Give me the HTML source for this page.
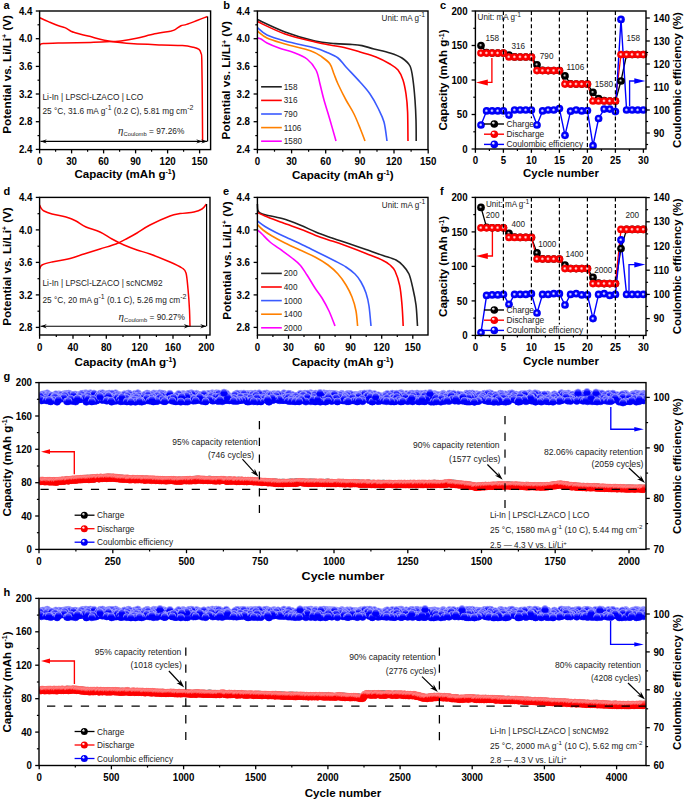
<!DOCTYPE html>
<html><head><meta charset="utf-8"><style>html,body{margin:0;padding:0;background:#fff;}svg{display:block;}text{font-family:"Liberation Sans",sans-serif;}</style></head>
<body><svg width="685" height="799" viewBox="0 0 685 799" font-family="Liberation Sans, sans-serif"><defs>
<radialGradient id="gr" cx="0.5" cy="0.5" r="0.5" fx="0.45" fy="0.47"><stop offset="0" stop-color="#fff0f0"/><stop offset="0.14" stop-color="#ffc8c8"/><stop offset="0.32" stop-color="#ff6060"/><stop offset="0.46" stop-color="#ff0000"/><stop offset="1" stop-color="#f40000"/></radialGradient>
<radialGradient id="hr" cx="0.5" cy="0.5" r="0.5" fx="0.32" fy="0.28"><stop offset="0" stop-color="#fff"/><stop offset="0.22" stop-color="#ffd0d0"/><stop offset="0.42" stop-color="#ff0000"/><stop offset="1" stop-color="#f00000"/></radialGradient>
<radialGradient id="hb" cx="0.5" cy="0.5" r="0.5" fx="0.32" fy="0.28"><stop offset="0" stop-color="#fff"/><stop offset="0.22" stop-color="#d0d0ff"/><stop offset="0.42" stop-color="#0000ff"/><stop offset="1" stop-color="#0000f0"/></radialGradient>
<radialGradient id="hk" cx="0.5" cy="0.5" r="0.5" fx="0.32" fy="0.28"><stop offset="0" stop-color="#fff"/><stop offset="0.22" stop-color="#c0c0c0"/><stop offset="0.45" stop-color="#000"/><stop offset="1" stop-color="#000"/></radialGradient>
<radialGradient id="gb" cx="0.5" cy="0.5" r="0.5" fx="0.45" fy="0.47"><stop offset="0" stop-color="#f0f0ff"/><stop offset="0.14" stop-color="#c8c8ff"/><stop offset="0.32" stop-color="#6060ff"/><stop offset="0.46" stop-color="#0000ff"/><stop offset="1" stop-color="#0000f0"/></radialGradient>
<radialGradient id="gk" cx="0.5" cy="0.5" r="0.5" fx="0.42" fy="0.42"><stop offset="0" stop-color="#e0e0e0"/><stop offset="0.15" stop-color="#a0a0a0"/><stop offset="0.42" stop-color="#000"/><stop offset="1" stop-color="#000"/></radialGradient>
<linearGradient id="lr" x1="0" y1="0" x2="0" y2="1"><stop offset="0" stop-color="#ff5858"/><stop offset="0.3" stop-color="#ff4848"/><stop offset="0.45" stop-color="#ff1010"/><stop offset="0.55" stop-color="#ff0000"/><stop offset="1" stop-color="#f50000"/></linearGradient>
<linearGradient id="lb" x1="0" y1="0" x2="0" y2="1"><stop offset="0" stop-color="#5a5aff"/><stop offset="0.25" stop-color="#4040ff"/><stop offset="0.4" stop-color="#1010ff"/><stop offset="0.48" stop-color="#0000ff"/><stop offset="1" stop-color="#0000f0"/></linearGradient>
<linearGradient id="lbs" x1="0" y1="0" x2="0" y2="1"><stop offset="0" stop-color="#a0a0ff"/><stop offset="0.15" stop-color="#e0e0ff"/><stop offset="0.45" stop-color="#c0c0ff"/><stop offset="0.6" stop-color="#0000ff"/><stop offset="1" stop-color="#0000ff"/></linearGradient>
<linearGradient id="lrs" x1="0" y1="0" x2="0" y2="1"><stop offset="0" stop-color="#ff7070"/><stop offset="0.2" stop-color="#ffa8a8"/><stop offset="0.4" stop-color="#ff9090"/><stop offset="0.55" stop-color="#ff0000"/><stop offset="1" stop-color="#ff0000"/></linearGradient>
<linearGradient id="lk" x1="0" y1="0" x2="0" y2="1"><stop offset="0" stop-color="#888"/><stop offset="0.5" stop-color="#333"/><stop offset="1" stop-color="#000"/></linearGradient></defs><text x="3.5" y="8.5" font-size="11" font-weight="bold">a</text><path d="M39.9,17.8 C41.4,18.5 45.8,20.6 48.9,21.9 C52,23.2 56,24.9 58.6,25.8 C61.2,26.8 62.7,26.7 64.8,27.6 C66.9,28.5 69.4,30.4 71.1,31.3 C72.8,32.1 72,31.8 75.2,32.7 C78.4,33.6 85.7,35.4 90.5,36.6 C95.3,37.9 99.4,39.2 104.3,40.2 C109.2,41.2 115.1,42 120,42.6 C124.9,43.2 127,43.4 133.9,43.8 C140.8,44.2 153.5,44.6 161.6,44.9 C169.7,45.2 177.1,45.2 182.4,45.6 C187.7,46 190.7,46.7 193.5,47.3 C196.3,47.9 197.7,48.4 199,49.4 C200.3,50.4 200.6,51.7 201.1,53.5 C201.6,55.3 201.6,52.2 201.8,60 C202,67.8 202.2,86.4 202.3,100 C202.4,113.6 202.6,134.6 202.6,141.5" fill="none" stroke="#ff0000" stroke-width="1.5" stroke-linejoin="round"/><path d="M39.9,45.2 C40.5,44.9 39.5,44 43.3,43.6 C47.1,43.2 54.8,43.1 62.7,42.9 C70.6,42.7 82.4,42.6 90.5,42.4 C98.6,42.2 106.2,41.8 111.3,41.6 C116.4,41.4 116.8,41.7 121,41.1 C125.2,40.5 131,39.5 136.6,38.3 C142.2,37.1 148.9,35 154.7,33.8 C160.5,32.6 167.8,31.6 171.3,30.9 C174.8,30.1 173.9,30.1 175.5,29.3 C177.1,28.5 179.2,26.6 181,25.8 C182.8,25 183.8,25.3 186.6,24.4 C189.4,23.5 194.2,21.6 197.7,20.3 C201.2,19 205.8,17.1 207.4,16.5" fill="none" stroke="#ff0000" stroke-width="1.5" stroke-linejoin="round"/><line x1="207.6" y1="16.5" x2="207.6" y2="141.4" stroke="#000" stroke-width="1.2"/><line x1="40.5" y1="141.4" x2="207" y2="141.4" stroke="#000" stroke-width="1.1"/><polygon points="40.8,141.4 46.8,139.2 44.7,141.4 46.8,143.6" fill="#000"/><polygon points="202.2,141.4 196.2,139.2 198.3,141.4 196.2,143.6" fill="#000"/><polygon points="207.2,141.4 201.2,139.2 203.3,141.4 201.2,143.6" fill="#000"/><rect x="39.6" y="11" width="171" height="138.6" fill="none" stroke="#000" stroke-width="1.4"/><line x1="39.6" y1="11" x2="35.8" y2="11" stroke="#000" stroke-width="1.3"/><text x="32.4" y="14.6" font-size="10.2" font-weight="bold" text-anchor="end" textLength="13.5" lengthAdjust="spacingAndGlyphs">4.4</text><line x1="39.6" y1="38.7" x2="35.8" y2="38.7" stroke="#000" stroke-width="1.3"/><text x="32.4" y="42.3" font-size="10.2" font-weight="bold" text-anchor="end" textLength="13.5" lengthAdjust="spacingAndGlyphs">4.0</text><line x1="39.6" y1="66.4" x2="35.8" y2="66.4" stroke="#000" stroke-width="1.3"/><text x="32.4" y="70" font-size="10.2" font-weight="bold" text-anchor="end" textLength="13.5" lengthAdjust="spacingAndGlyphs">3.6</text><line x1="39.6" y1="94" x2="35.8" y2="94" stroke="#000" stroke-width="1.3"/><text x="32.4" y="97.6" font-size="10.2" font-weight="bold" text-anchor="end" textLength="13.5" lengthAdjust="spacingAndGlyphs">3.2</text><line x1="39.6" y1="121.7" x2="35.8" y2="121.7" stroke="#000" stroke-width="1.3"/><text x="32.4" y="125.3" font-size="10.2" font-weight="bold" text-anchor="end" textLength="13.5" lengthAdjust="spacingAndGlyphs">2.8</text><line x1="39.6" y1="149.4" x2="35.8" y2="149.4" stroke="#000" stroke-width="1.3"/><text x="32.4" y="153" font-size="10.2" font-weight="bold" text-anchor="end" textLength="13.5" lengthAdjust="spacingAndGlyphs">2.4</text><line x1="39.6" y1="24.8" x2="37.5" y2="24.8" stroke="#000" stroke-width="1.2"/><line x1="39.6" y1="52.5" x2="37.5" y2="52.5" stroke="#000" stroke-width="1.2"/><line x1="39.6" y1="80.2" x2="37.5" y2="80.2" stroke="#000" stroke-width="1.2"/><line x1="39.6" y1="107.9" x2="37.5" y2="107.9" stroke="#000" stroke-width="1.2"/><line x1="39.6" y1="135.6" x2="37.5" y2="135.6" stroke="#000" stroke-width="1.2"/><line x1="39.6" y1="149.6" x2="39.6" y2="153.4" stroke="#000" stroke-width="1.3"/><text x="39.6" y="164.6" font-size="10.2" font-weight="bold" text-anchor="middle" textLength="5.4" lengthAdjust="spacingAndGlyphs">0</text><line x1="71.6" y1="149.6" x2="71.6" y2="153.4" stroke="#000" stroke-width="1.3"/><text x="71.6" y="164.6" font-size="10.2" font-weight="bold" text-anchor="middle" textLength="10.8" lengthAdjust="spacingAndGlyphs">30</text><line x1="103.6" y1="149.6" x2="103.6" y2="153.4" stroke="#000" stroke-width="1.3"/><text x="103.6" y="164.6" font-size="10.2" font-weight="bold" text-anchor="middle" textLength="10.8" lengthAdjust="spacingAndGlyphs">60</text><line x1="135.6" y1="149.6" x2="135.6" y2="153.4" stroke="#000" stroke-width="1.3"/><text x="135.6" y="164.6" font-size="10.2" font-weight="bold" text-anchor="middle" textLength="10.8" lengthAdjust="spacingAndGlyphs">90</text><line x1="167.6" y1="149.6" x2="167.6" y2="153.4" stroke="#000" stroke-width="1.3"/><text x="167.6" y="164.6" font-size="10.2" font-weight="bold" text-anchor="middle" textLength="16.2" lengthAdjust="spacingAndGlyphs">120</text><line x1="199.6" y1="149.6" x2="199.6" y2="153.4" stroke="#000" stroke-width="1.3"/><text x="199.6" y="164.6" font-size="10.2" font-weight="bold" text-anchor="middle" textLength="16.2" lengthAdjust="spacingAndGlyphs">150</text><line x1="55.6" y1="149.6" x2="55.6" y2="151.7" stroke="#000" stroke-width="1.2"/><line x1="87.6" y1="149.6" x2="87.6" y2="151.7" stroke="#000" stroke-width="1.2"/><line x1="119.6" y1="149.6" x2="119.6" y2="151.7" stroke="#000" stroke-width="1.2"/><line x1="151.6" y1="149.6" x2="151.6" y2="151.7" stroke="#000" stroke-width="1.2"/><line x1="183.6" y1="149.6" x2="183.6" y2="151.7" stroke="#000" stroke-width="1.2"/><text transform="translate(11,74.4) rotate(-90)" font-size="11.5" font-weight="bold" text-anchor="middle" textLength="118.6" lengthAdjust="spacingAndGlyphs">Potential vs. Li/Li<tspan dy="-3.6" font-size="7">+</tspan><tspan dy="3.6"> (V)</tspan></text><text x="125" y="178" font-size="11.5" font-weight="bold" text-anchor="middle" textLength="101.2" lengthAdjust="spacingAndGlyphs">Capacity (mAh g<tspan dy="-3.6" font-size="7">-1</tspan><tspan dy="3.6">)</tspan></text><text x="42.5" y="100" font-size="8.3" fill="#222">Li-In | LPSCl-LZACO | LCO</text><text x="42.5" y="114" font-size="8.3" fill="#222">25 °C, 31.6 mA g<tspan dy="-3.6" font-size="7">-1</tspan><tspan dy="3.6"> (0.2 C), 5.81 mg cm<tspan dy="-3.6" font-size="7">-2</tspan><tspan dy="3.6"></tspan></tspan></text><text x="118" y="134" font-size="8.3" fill="#222"><tspan font-family="Liberation Serif" font-style="italic" font-size="11">η</tspan><tspan font-size="5.8" dy="2">Coulomb</tspan><tspan dy="-2"> = 97.26%</tspan></text><text x="223.2" y="8.5" font-size="11" font-weight="bold">b</text><path d="M257.4,19.6 C262,21.7 275.4,28.4 285,32 C294.6,35.6 306.7,39.1 315,41 C323.3,42.9 329.2,43 335,43.6 C340.8,44.2 345.5,44.1 350,44.4 C354.5,44.7 358,44.8 362,45.6 C366,46.4 369.3,47.8 374,49 C378.7,50.2 385.3,51.5 390,53 C394.7,54.5 398.7,55.8 402,58 C405.3,60.2 408.2,62.3 410,66 C411.8,69.7 412.2,74.3 413,80 C413.8,85.7 414.5,93.3 415,100 C415.5,106.7 415.8,113.2 416,120 C416.2,126.8 416.2,137.5 416.2,141" fill="none" stroke="#222" stroke-width="1.6" stroke-linejoin="round"/><path d="M257.4,21.6 C262,23.7 275.4,30.6 285,34 C294.6,37.4 307.5,40.2 315,42 C322.5,43.8 324.8,44 330,45 C335.2,46 341,46.8 346,48 C351,49.2 355,50.5 360,52 C365,53.5 371,55 376,57 C381,59 386.3,61.8 390,64 C393.7,66.2 395.8,67.3 398,70 C400.2,72.7 401.7,76 403,80 C404.3,84 405.2,88.7 406,94 C406.8,99.3 407.3,104.2 407.6,112 C407.9,119.8 407.9,136.2 408,141" fill="none" stroke="#ff0000" stroke-width="1.6" stroke-linejoin="round"/><path d="M257.4,27.6 C259,28.8 262.4,32.8 267,35 C271.6,37.2 277,38.8 285,41 C293,43.2 308.2,46.2 315,48 C321.8,49.8 322.2,50.3 326,52 C329.8,53.7 334.7,55.5 338,58 C341.3,60.5 342.3,63 346,67 C349.7,71 356,77.5 360,82 C364,86.5 367,89.7 370,94 C373,98.3 375.7,103.3 378,108 C380.3,112.7 382.5,116.5 384,122 C385.5,127.5 386.5,137.8 387,141" fill="none" stroke="#3a5bff" stroke-width="1.6" stroke-linejoin="round"/><path d="M257.4,31 C259,32.2 262.4,35.8 267,38 C271.6,40.2 277.7,41.8 285,44 C292.3,46.2 304.8,48.8 311,51 C317.2,53.2 318.8,54.8 322,57 C325.2,59.2 328,61.2 330,64 C332,66.8 332.7,70.7 334,74 C335.3,77.3 336,79.7 338,84 C340,88.3 343.3,95 346,100 C348.7,105 351.7,109.3 354,114 C356.3,118.7 358.2,123.5 360,128 C361.8,132.5 364.2,138.8 365,141" fill="none" stroke="#ff8000" stroke-width="1.6" stroke-linejoin="round"/><path d="M257.4,38 C258,38.2 259.4,38.2 261,39 C262.6,39.8 264,41.5 267,43 C270,44.5 274.3,46.3 279,48 C283.7,49.7 290.3,51.2 295,53 C299.7,54.8 303.5,56.2 307,59 C310.5,61.8 313.8,65.8 316,70 C318.2,74.2 318.7,79 320,84 C321.3,89 322.3,94 324,100 C325.7,106 328,113.2 330,120 C332,126.8 335,137.5 336,141" fill="none" stroke="#ff00ff" stroke-width="1.6" stroke-linejoin="round"/><line x1="261.1" y1="86.8" x2="281.8" y2="86.8" stroke="#222" stroke-width="1.6"/><text x="283.8" y="89.7" font-size="8.2" fill="#222">158</text><line x1="261.1" y1="100.4" x2="281.8" y2="100.4" stroke="#ff0000" stroke-width="1.6"/><text x="283.8" y="103.3" font-size="8.2" fill="#222">316</text><line x1="261.1" y1="114" x2="281.8" y2="114" stroke="#3a5bff" stroke-width="1.6"/><text x="283.8" y="116.9" font-size="8.2" fill="#222">790</text><line x1="261.1" y1="127.6" x2="281.8" y2="127.6" stroke="#ff8000" stroke-width="1.6"/><text x="283.8" y="130.5" font-size="8.2" fill="#222">1106</text><line x1="261.1" y1="141.2" x2="281.8" y2="141.2" stroke="#ff00ff" stroke-width="1.6"/><text x="283.8" y="144.1" font-size="8.2" fill="#222">1580</text><rect x="257.4" y="11" width="170.6" height="138.6" fill="none" stroke="#000" stroke-width="1.4"/><line x1="257.4" y1="11" x2="253.6" y2="11" stroke="#000" stroke-width="1.3"/><text x="250" y="14.6" font-size="10.2" font-weight="bold" text-anchor="end" textLength="13.5" lengthAdjust="spacingAndGlyphs">4.4</text><line x1="257.4" y1="38.7" x2="253.6" y2="38.7" stroke="#000" stroke-width="1.3"/><text x="250" y="42.3" font-size="10.2" font-weight="bold" text-anchor="end" textLength="13.5" lengthAdjust="spacingAndGlyphs">4.0</text><line x1="257.4" y1="66.4" x2="253.6" y2="66.4" stroke="#000" stroke-width="1.3"/><text x="250" y="70" font-size="10.2" font-weight="bold" text-anchor="end" textLength="13.5" lengthAdjust="spacingAndGlyphs">3.6</text><line x1="257.4" y1="94" x2="253.6" y2="94" stroke="#000" stroke-width="1.3"/><text x="250" y="97.6" font-size="10.2" font-weight="bold" text-anchor="end" textLength="13.5" lengthAdjust="spacingAndGlyphs">3.2</text><line x1="257.4" y1="121.7" x2="253.6" y2="121.7" stroke="#000" stroke-width="1.3"/><text x="250" y="125.3" font-size="10.2" font-weight="bold" text-anchor="end" textLength="13.5" lengthAdjust="spacingAndGlyphs">2.8</text><line x1="257.4" y1="149.4" x2="253.6" y2="149.4" stroke="#000" stroke-width="1.3"/><text x="250" y="153" font-size="10.2" font-weight="bold" text-anchor="end" textLength="13.5" lengthAdjust="spacingAndGlyphs">2.4</text><line x1="257.4" y1="24.8" x2="255.3" y2="24.8" stroke="#000" stroke-width="1.2"/><line x1="257.4" y1="52.5" x2="255.3" y2="52.5" stroke="#000" stroke-width="1.2"/><line x1="257.4" y1="80.2" x2="255.3" y2="80.2" stroke="#000" stroke-width="1.2"/><line x1="257.4" y1="107.9" x2="255.3" y2="107.9" stroke="#000" stroke-width="1.2"/><line x1="257.4" y1="135.6" x2="255.3" y2="135.6" stroke="#000" stroke-width="1.2"/><line x1="257.4" y1="149.6" x2="257.4" y2="153.4" stroke="#000" stroke-width="1.3"/><text x="257.4" y="164.6" font-size="10.2" font-weight="bold" text-anchor="middle" textLength="5.4" lengthAdjust="spacingAndGlyphs">0</text><line x1="291.6" y1="149.6" x2="291.6" y2="153.4" stroke="#000" stroke-width="1.3"/><text x="291.6" y="164.6" font-size="10.2" font-weight="bold" text-anchor="middle" textLength="10.8" lengthAdjust="spacingAndGlyphs">30</text><line x1="325.7" y1="149.6" x2="325.7" y2="153.4" stroke="#000" stroke-width="1.3"/><text x="325.7" y="164.6" font-size="10.2" font-weight="bold" text-anchor="middle" textLength="10.8" lengthAdjust="spacingAndGlyphs">60</text><line x1="359.9" y1="149.6" x2="359.9" y2="153.4" stroke="#000" stroke-width="1.3"/><text x="359.9" y="164.6" font-size="10.2" font-weight="bold" text-anchor="middle" textLength="10.8" lengthAdjust="spacingAndGlyphs">90</text><line x1="394" y1="149.6" x2="394" y2="153.4" stroke="#000" stroke-width="1.3"/><text x="394" y="164.6" font-size="10.2" font-weight="bold" text-anchor="middle" textLength="16.2" lengthAdjust="spacingAndGlyphs">120</text><line x1="428.2" y1="149.6" x2="428.2" y2="153.4" stroke="#000" stroke-width="1.3"/><text x="428.2" y="164.6" font-size="10.2" font-weight="bold" text-anchor="middle" textLength="16.2" lengthAdjust="spacingAndGlyphs">150</text><line x1="274.5" y1="149.6" x2="274.5" y2="151.7" stroke="#000" stroke-width="1.2"/><line x1="308.6" y1="149.6" x2="308.6" y2="151.7" stroke="#000" stroke-width="1.2"/><line x1="342.8" y1="149.6" x2="342.8" y2="151.7" stroke="#000" stroke-width="1.2"/><line x1="377" y1="149.6" x2="377" y2="151.7" stroke="#000" stroke-width="1.2"/><line x1="411.1" y1="149.6" x2="411.1" y2="151.7" stroke="#000" stroke-width="1.2"/><text transform="translate(230.4,80.3) rotate(-90)" font-size="11.5" font-weight="bold" text-anchor="middle" textLength="118.3" lengthAdjust="spacingAndGlyphs">Potential vs. Li/Li<tspan dy="-3.6" font-size="7">+</tspan><tspan dy="3.6"> (V)</tspan></text><text x="342.8" y="178.5" font-size="11.5" font-weight="bold" text-anchor="middle" textLength="101.8" lengthAdjust="spacingAndGlyphs">Capacity (mAh g<tspan dy="-3.6" font-size="7">-1</tspan><tspan dy="3.6">)</tspan></text><text x="381.6" y="21" font-size="8.4" textLength="43.4" lengthAdjust="spacingAndGlyphs" fill="#222">Unit: mA g<tspan dy="-3.6" font-size="7">-1</tspan><tspan dy="3.6"></tspan></text><text x="440" y="8.5" font-size="11" font-weight="bold">c</text><polyline points="491.9,58 491.9,82.4 480,82.4" fill="none" stroke="#ff0000" stroke-width="1.35"/><polygon points="476,82.4 487.8,79.4 487.8,82.4 487.8,85.4" fill="#ff0000"/><polyline points="629.6,106.6 629.6,81 640,81" fill="none" stroke="#0000ff" stroke-width="1.35"/><polygon points="645.3,81 634.3,78.2 634.3,81 634.3,83.8" fill="#0000ff"/><polyline points="481,45.5 486.6,52.7 492.2,53.1 497.8,53.1 503.4,53.1 509,55.2 514.6,56.9 520.2,57 525.8,57 531.4,57 537,64.8 542.6,70.3 548.2,70.6 553.8,70.6 559.4,70.6 565,75.9 570.6,83.8 576.2,84.1 581.8,84.1 587.4,84.1 593,92.4 598.6,98.6 604.2,100.7 609.8,101 615.4,101 621,81 626.6,54.5 632.2,54.5 637.8,54.5 643.4,54.5" fill="none" stroke="#000" stroke-width="1.3" stroke-linejoin="round"/><polyline points="481,53.1 486.6,53.1 492.2,53.1 497.8,53.1 503.4,53.1 509,57 514.6,57 520.2,57 525.8,57 531.4,57 537,70.6 542.6,70.6 548.2,70.6 553.8,70.6 559.4,70.6 565,84.1 570.6,84.1 576.2,84.1 581.8,84.1 587.4,84.1 593,101 598.6,101 604.2,101 609.8,101 615.4,101 621,54.5 626.6,54.5 632.2,54.5 637.8,54.5 643.4,54.5" fill="none" stroke="#ff0000" stroke-width="1.3" stroke-linejoin="round"/><polyline points="481,125 486.6,110.9 492.2,110.9 497.8,110.9 503.4,110.9 509,115.1 514.6,110 520.2,110 525.8,110 531.4,110 537,125 542.6,110.9 548.2,110 553.8,110 559.4,108.6 565,135.3 570.6,111.2 576.2,110 581.8,110.9 587.4,110.5 593,145.7 598.6,118.5 604.2,109.1 609.8,109.1 615.4,111.6 621,19.4 626.6,110 632.2,110 637.8,110 643.4,110" fill="none" stroke="#0000ff" stroke-width="1.4" stroke-linejoin="round"/><circle cx="481" cy="45.5" r="3.85" fill="url(#gk)"/><circle cx="486.6" cy="52.7" r="3.85" fill="url(#gk)"/><circle cx="492.2" cy="53.1" r="3.85" fill="url(#gk)"/><circle cx="497.8" cy="53.1" r="3.85" fill="url(#gk)"/><circle cx="503.4" cy="53.1" r="3.85" fill="url(#gk)"/><circle cx="509" cy="55.2" r="3.85" fill="url(#gk)"/><circle cx="514.6" cy="56.9" r="3.85" fill="url(#gk)"/><circle cx="520.2" cy="57" r="3.85" fill="url(#gk)"/><circle cx="525.8" cy="57" r="3.85" fill="url(#gk)"/><circle cx="531.4" cy="57" r="3.85" fill="url(#gk)"/><circle cx="537" cy="64.8" r="3.85" fill="url(#gk)"/><circle cx="542.6" cy="70.3" r="3.85" fill="url(#gk)"/><circle cx="548.2" cy="70.6" r="3.85" fill="url(#gk)"/><circle cx="553.8" cy="70.6" r="3.85" fill="url(#gk)"/><circle cx="559.4" cy="70.6" r="3.85" fill="url(#gk)"/><circle cx="565" cy="75.9" r="3.85" fill="url(#gk)"/><circle cx="570.6" cy="83.8" r="3.85" fill="url(#gk)"/><circle cx="576.2" cy="84.1" r="3.85" fill="url(#gk)"/><circle cx="581.8" cy="84.1" r="3.85" fill="url(#gk)"/><circle cx="587.4" cy="84.1" r="3.85" fill="url(#gk)"/><circle cx="593" cy="92.4" r="3.85" fill="url(#gk)"/><circle cx="598.6" cy="98.6" r="3.85" fill="url(#gk)"/><circle cx="604.2" cy="100.7" r="3.85" fill="url(#gk)"/><circle cx="609.8" cy="101" r="3.85" fill="url(#gk)"/><circle cx="615.4" cy="101" r="3.85" fill="url(#gk)"/><circle cx="621" cy="81" r="3.85" fill="url(#gk)"/><circle cx="626.6" cy="54.5" r="3.85" fill="url(#gk)"/><circle cx="632.2" cy="54.5" r="3.85" fill="url(#gk)"/><circle cx="637.8" cy="54.5" r="3.85" fill="url(#gk)"/><circle cx="643.4" cy="54.5" r="3.85" fill="url(#gk)"/><circle cx="481" cy="53.1" r="3.85" fill="url(#gr)"/><circle cx="486.6" cy="53.1" r="3.85" fill="url(#gr)"/><circle cx="492.2" cy="53.1" r="3.85" fill="url(#gr)"/><circle cx="497.8" cy="53.1" r="3.85" fill="url(#gr)"/><circle cx="503.4" cy="53.1" r="3.85" fill="url(#gr)"/><circle cx="509" cy="57" r="3.85" fill="url(#gr)"/><circle cx="514.6" cy="57" r="3.85" fill="url(#gr)"/><circle cx="520.2" cy="57" r="3.85" fill="url(#gr)"/><circle cx="525.8" cy="57" r="3.85" fill="url(#gr)"/><circle cx="531.4" cy="57" r="3.85" fill="url(#gr)"/><circle cx="537" cy="70.6" r="3.85" fill="url(#gr)"/><circle cx="542.6" cy="70.6" r="3.85" fill="url(#gr)"/><circle cx="548.2" cy="70.6" r="3.85" fill="url(#gr)"/><circle cx="553.8" cy="70.6" r="3.85" fill="url(#gr)"/><circle cx="559.4" cy="70.6" r="3.85" fill="url(#gr)"/><circle cx="565" cy="84.1" r="3.85" fill="url(#gr)"/><circle cx="570.6" cy="84.1" r="3.85" fill="url(#gr)"/><circle cx="576.2" cy="84.1" r="3.85" fill="url(#gr)"/><circle cx="581.8" cy="84.1" r="3.85" fill="url(#gr)"/><circle cx="587.4" cy="84.1" r="3.85" fill="url(#gr)"/><circle cx="593" cy="101" r="3.85" fill="url(#gr)"/><circle cx="598.6" cy="101" r="3.85" fill="url(#gr)"/><circle cx="604.2" cy="101" r="3.85" fill="url(#gr)"/><circle cx="609.8" cy="101" r="3.85" fill="url(#gr)"/><circle cx="615.4" cy="101" r="3.85" fill="url(#gr)"/><circle cx="621" cy="54.5" r="3.85" fill="url(#gr)"/><circle cx="626.6" cy="54.5" r="3.85" fill="url(#gr)"/><circle cx="632.2" cy="54.5" r="3.85" fill="url(#gr)"/><circle cx="637.8" cy="54.5" r="3.85" fill="url(#gr)"/><circle cx="643.4" cy="54.5" r="3.85" fill="url(#gr)"/><circle cx="481" cy="125" r="3.85" fill="url(#gb)"/><circle cx="486.6" cy="110.9" r="3.85" fill="url(#gb)"/><circle cx="492.2" cy="110.9" r="3.85" fill="url(#gb)"/><circle cx="497.8" cy="110.9" r="3.85" fill="url(#gb)"/><circle cx="503.4" cy="110.9" r="3.85" fill="url(#gb)"/><circle cx="509" cy="115.1" r="3.85" fill="url(#gb)"/><circle cx="514.6" cy="110" r="3.85" fill="url(#gb)"/><circle cx="520.2" cy="110" r="3.85" fill="url(#gb)"/><circle cx="525.8" cy="110" r="3.85" fill="url(#gb)"/><circle cx="531.4" cy="110" r="3.85" fill="url(#gb)"/><circle cx="537" cy="125" r="3.85" fill="url(#gb)"/><circle cx="542.6" cy="110.9" r="3.85" fill="url(#gb)"/><circle cx="548.2" cy="110" r="3.85" fill="url(#gb)"/><circle cx="553.8" cy="110" r="3.85" fill="url(#gb)"/><circle cx="559.4" cy="108.6" r="3.85" fill="url(#gb)"/><circle cx="565" cy="135.3" r="3.85" fill="url(#gb)"/><circle cx="570.6" cy="111.2" r="3.85" fill="url(#gb)"/><circle cx="576.2" cy="110" r="3.85" fill="url(#gb)"/><circle cx="581.8" cy="110.9" r="3.85" fill="url(#gb)"/><circle cx="587.4" cy="110.5" r="3.85" fill="url(#gb)"/><circle cx="593" cy="145.7" r="3.85" fill="url(#gb)"/><circle cx="598.6" cy="118.5" r="3.85" fill="url(#gb)"/><circle cx="604.2" cy="109.1" r="3.85" fill="url(#gb)"/><circle cx="609.8" cy="109.1" r="3.85" fill="url(#gb)"/><circle cx="615.4" cy="111.6" r="3.85" fill="url(#gb)"/><circle cx="621" cy="19.4" r="3.85" fill="url(#gb)"/><circle cx="626.6" cy="110" r="3.85" fill="url(#gb)"/><circle cx="632.2" cy="110" r="3.85" fill="url(#gb)"/><circle cx="637.8" cy="110" r="3.85" fill="url(#gb)"/><circle cx="643.4" cy="110" r="3.85" fill="url(#gb)"/><line x1="503.4" y1="11" x2="503.4" y2="116.8" stroke="#000" stroke-width="1.2" stroke-dasharray="4,2.6"/><line x1="531.4" y1="11" x2="531.4" y2="118.2" stroke="#000" stroke-width="1.2" stroke-dasharray="4,2.6"/><line x1="559.4" y1="11" x2="559.4" y2="138.6" stroke="#000" stroke-width="1.2" stroke-dasharray="4,2.6"/><line x1="587.4" y1="11" x2="587.4" y2="149" stroke="#000" stroke-width="1.2" stroke-dasharray="4,2.6"/><line x1="615.4" y1="11" x2="615.4" y2="149" stroke="#000" stroke-width="1.2" stroke-dasharray="4,2.6"/><text x="485.4" y="41" font-size="8.2" fill="#222">158</text><text x="511.4" y="49" font-size="8.2" fill="#222">316</text><text x="539.8" y="59" font-size="8.2" fill="#222">790</text><text x="566.6" y="70" font-size="8.2" fill="#222">1106</text><text x="594.8" y="87" font-size="8.2" fill="#222">1580</text><text x="626.4" y="41" font-size="8.2" fill="#222">158</text><text x="477.6" y="20.3" font-size="8.4" textLength="43.4" lengthAdjust="spacingAndGlyphs" fill="#222">Unit: mA g<tspan dy="-3.6" font-size="7">-1</tspan><tspan dy="3.6"></tspan></text><line x1="484" y1="124" x2="504" y2="124" stroke="#000" stroke-width="1.4"/><circle cx="494.3" cy="124" r="3.8" fill="url(#hk)"/><text x="506.5" y="127" font-size="8.4" fill="#222">Charge</text><line x1="484" y1="134.2" x2="504" y2="134.2" stroke="#ff0000" stroke-width="1.4"/><circle cx="494.3" cy="134.2" r="3.8" fill="url(#hr)"/><text x="506.5" y="137.2" font-size="8.4" fill="#222">Discharge</text><line x1="484" y1="144.4" x2="504" y2="144.4" stroke="#0000ff" stroke-width="1.4"/><circle cx="494.3" cy="144.4" r="3.8" fill="url(#hb)"/><text x="506.5" y="147.4" font-size="8.4" fill="#222">Coulombic efficiency</text><rect x="475.4" y="11" width="170.6" height="138" fill="none" stroke="#000" stroke-width="1.4"/><line x1="475.4" y1="149" x2="475.4" y2="152.8" stroke="#000" stroke-width="1.3"/><text x="475.4" y="164.2" font-size="10.2" font-weight="bold" text-anchor="middle" textLength="5.4" lengthAdjust="spacingAndGlyphs">0</text><line x1="503.4" y1="149" x2="503.4" y2="152.8" stroke="#000" stroke-width="1.3"/><text x="503.4" y="164.2" font-size="10.2" font-weight="bold" text-anchor="middle" textLength="5.4" lengthAdjust="spacingAndGlyphs">5</text><line x1="531.4" y1="149" x2="531.4" y2="152.8" stroke="#000" stroke-width="1.3"/><text x="531.4" y="164.2" font-size="10.2" font-weight="bold" text-anchor="middle" textLength="10.8" lengthAdjust="spacingAndGlyphs">10</text><line x1="559.4" y1="149" x2="559.4" y2="152.8" stroke="#000" stroke-width="1.3"/><text x="559.4" y="164.2" font-size="10.2" font-weight="bold" text-anchor="middle" textLength="10.8" lengthAdjust="spacingAndGlyphs">15</text><line x1="587.4" y1="149" x2="587.4" y2="152.8" stroke="#000" stroke-width="1.3"/><text x="587.4" y="164.2" font-size="10.2" font-weight="bold" text-anchor="middle" textLength="10.8" lengthAdjust="spacingAndGlyphs">20</text><line x1="615.4" y1="149" x2="615.4" y2="152.8" stroke="#000" stroke-width="1.3"/><text x="615.4" y="164.2" font-size="10.2" font-weight="bold" text-anchor="middle" textLength="10.8" lengthAdjust="spacingAndGlyphs">25</text><line x1="643.4" y1="149" x2="643.4" y2="152.8" stroke="#000" stroke-width="1.3"/><text x="643.4" y="164.2" font-size="10.2" font-weight="bold" text-anchor="middle" textLength="10.8" lengthAdjust="spacingAndGlyphs">30</text><line x1="489.4" y1="149" x2="489.4" y2="151.1" stroke="#000" stroke-width="1.2"/><line x1="517.4" y1="149" x2="517.4" y2="151.1" stroke="#000" stroke-width="1.2"/><line x1="545.4" y1="149" x2="545.4" y2="151.1" stroke="#000" stroke-width="1.2"/><line x1="573.4" y1="149" x2="573.4" y2="151.1" stroke="#000" stroke-width="1.2"/><line x1="601.4" y1="149" x2="601.4" y2="151.1" stroke="#000" stroke-width="1.2"/><line x1="629.4" y1="149" x2="629.4" y2="151.1" stroke="#000" stroke-width="1.2"/><line x1="475.4" y1="149" x2="471.6" y2="149" stroke="#000" stroke-width="1.3"/><text x="467.6" y="152.6" font-size="10.2" font-weight="bold" text-anchor="end" textLength="5.4" lengthAdjust="spacingAndGlyphs">0</text><line x1="475.4" y1="114.5" x2="471.6" y2="114.5" stroke="#000" stroke-width="1.3"/><text x="467.6" y="118.1" font-size="10.2" font-weight="bold" text-anchor="end" textLength="10.8" lengthAdjust="spacingAndGlyphs">50</text><line x1="475.4" y1="80" x2="471.6" y2="80" stroke="#000" stroke-width="1.3"/><text x="467.6" y="83.6" font-size="10.2" font-weight="bold" text-anchor="end" textLength="16.2" lengthAdjust="spacingAndGlyphs">100</text><line x1="475.4" y1="45.5" x2="471.6" y2="45.5" stroke="#000" stroke-width="1.3"/><text x="467.6" y="49.1" font-size="10.2" font-weight="bold" text-anchor="end" textLength="16.2" lengthAdjust="spacingAndGlyphs">150</text><line x1="475.4" y1="11" x2="471.6" y2="11" stroke="#000" stroke-width="1.3"/><text x="467.6" y="14.6" font-size="10.2" font-weight="bold" text-anchor="end" textLength="16.2" lengthAdjust="spacingAndGlyphs">200</text><line x1="475.4" y1="131.8" x2="473.3" y2="131.8" stroke="#000" stroke-width="1.2"/><line x1="475.4" y1="97.2" x2="473.3" y2="97.2" stroke="#000" stroke-width="1.2"/><line x1="475.4" y1="62.8" x2="473.3" y2="62.8" stroke="#000" stroke-width="1.2"/><line x1="475.4" y1="28.3" x2="473.3" y2="28.3" stroke="#000" stroke-width="1.2"/><line x1="646" y1="133" x2="649.8" y2="133" stroke="#000" stroke-width="1.3"/><text x="653.6" y="136.6" font-size="10.2" font-weight="bold" textLength="10.8" lengthAdjust="spacingAndGlyphs">90</text><line x1="646" y1="110" x2="649.8" y2="110" stroke="#000" stroke-width="1.3"/><text x="653.6" y="113.6" font-size="10.2" font-weight="bold" textLength="16.2" lengthAdjust="spacingAndGlyphs">100</text><line x1="646" y1="87" x2="649.8" y2="87" stroke="#000" stroke-width="1.3"/><text x="653.6" y="90.6" font-size="10.2" font-weight="bold" textLength="15.6" lengthAdjust="spacingAndGlyphs">110</text><line x1="646" y1="64" x2="649.8" y2="64" stroke="#000" stroke-width="1.3"/><text x="653.6" y="67.6" font-size="10.2" font-weight="bold" textLength="16.2" lengthAdjust="spacingAndGlyphs">120</text><line x1="646" y1="41" x2="649.8" y2="41" stroke="#000" stroke-width="1.3"/><text x="653.6" y="44.6" font-size="10.2" font-weight="bold" textLength="16.2" lengthAdjust="spacingAndGlyphs">130</text><line x1="646" y1="18" x2="649.8" y2="18" stroke="#000" stroke-width="1.3"/><text x="653.6" y="21.6" font-size="10.2" font-weight="bold" textLength="16.2" lengthAdjust="spacingAndGlyphs">140</text><line x1="646" y1="144.5" x2="648.1" y2="144.5" stroke="#000" stroke-width="1.2"/><line x1="646" y1="121.5" x2="648.1" y2="121.5" stroke="#000" stroke-width="1.2"/><line x1="646" y1="98.5" x2="648.1" y2="98.5" stroke="#000" stroke-width="1.2"/><line x1="646" y1="75.5" x2="648.1" y2="75.5" stroke="#000" stroke-width="1.2"/><line x1="646" y1="52.5" x2="648.1" y2="52.5" stroke="#000" stroke-width="1.2"/><line x1="646" y1="29.5" x2="648.1" y2="29.5" stroke="#000" stroke-width="1.2"/><text transform="translate(447.3,80) rotate(-90)" font-size="11.5" font-weight="bold" text-anchor="middle" textLength="101" lengthAdjust="spacingAndGlyphs">Capacity (mAh g<tspan dy="-3.6" font-size="7">-1</tspan><tspan dy="3.6">)</tspan></text><text transform="translate(681.3,80) rotate(-90)" font-size="11.5" font-weight="bold" text-anchor="middle" textLength="135.8" lengthAdjust="spacingAndGlyphs">Coulombic efficiency (%)</text><text x="561" y="177.4" font-size="11.5" font-weight="bold" text-anchor="middle" textLength="75.8" lengthAdjust="spacingAndGlyphs">Cycle number</text><text x="440" y="194.5" font-size="11" font-weight="bold">f</text><polyline points="492.4,229 492.4,256 480,256" fill="none" stroke="#ff0000" stroke-width="1.35"/><polygon points="476,256 487.8,253 487.8,256 487.8,259" fill="#ff0000"/><polyline points="629,291 629,264.6 640,264.6" fill="none" stroke="#0000ff" stroke-width="1.35"/><polygon points="645.3,264.6 634.3,261.9 634.3,264.6 634.3,267.4" fill="#0000ff"/><polyline points="481,207.4 486.6,227.4 492.2,227.8 497.8,227.8 503.4,227.8 509,233.3 514.6,237.1 520.2,237.4 525.8,237.4 531.4,237.4 537,252.9 542.6,258.8 548.2,259 553.8,259 559.4,259 565,265 570.6,268.5 576.2,268.6 581.8,268.6 587.4,268.6 593,277.4 598.6,283 604.2,283.6 609.8,283.6 615.4,283.6 621,248.6 626.6,229.4 632.2,229.4 637.8,229.4 643.4,229.4" fill="none" stroke="#000" stroke-width="1.3" stroke-linejoin="round"/><polyline points="481,227.8 486.6,227.8 492.2,227.8 497.8,227.8 503.4,227.8 509,237.4 514.6,237.4 520.2,237.4 525.8,237.4 531.4,237.4 537,259 542.6,259 548.2,259 553.8,259 559.4,259 565,268.6 570.6,268.6 576.2,268.6 581.8,268.6 587.4,268.6 593,283.6 598.6,283.6 604.2,283.6 609.8,283.6 615.4,283.6 621,229.4 626.6,229.4 632.2,229.4 637.8,229.4 643.4,229.4" fill="none" stroke="#ff0000" stroke-width="1.3" stroke-linejoin="round"/><polyline points="481,332.6 486.6,295.4 492.2,294.9 497.8,294.9 503.4,294.4 509,304.3 514.6,294.4 520.2,294.4 525.8,294.4 531.4,293.7 537,313 542.6,294.4 548.2,294.4 553.8,293.7 559.4,293.7 565,305 570.6,294.4 576.2,293.7 581.8,294.9 587.4,294.9 593,318.6 598.6,294.4 604.2,293.7 609.8,295.4 615.4,294.4 621,239.9 626.6,294.4 632.2,294.4 637.8,294.4 643.4,294.4" fill="none" stroke="#0000ff" stroke-width="1.4" stroke-linejoin="round"/><circle cx="481" cy="207.4" r="3.85" fill="url(#gk)"/><circle cx="486.6" cy="227.4" r="3.85" fill="url(#gk)"/><circle cx="492.2" cy="227.8" r="3.85" fill="url(#gk)"/><circle cx="497.8" cy="227.8" r="3.85" fill="url(#gk)"/><circle cx="503.4" cy="227.8" r="3.85" fill="url(#gk)"/><circle cx="509" cy="233.3" r="3.85" fill="url(#gk)"/><circle cx="514.6" cy="237.1" r="3.85" fill="url(#gk)"/><circle cx="520.2" cy="237.4" r="3.85" fill="url(#gk)"/><circle cx="525.8" cy="237.4" r="3.85" fill="url(#gk)"/><circle cx="531.4" cy="237.4" r="3.85" fill="url(#gk)"/><circle cx="537" cy="252.9" r="3.85" fill="url(#gk)"/><circle cx="542.6" cy="258.8" r="3.85" fill="url(#gk)"/><circle cx="548.2" cy="259" r="3.85" fill="url(#gk)"/><circle cx="553.8" cy="259" r="3.85" fill="url(#gk)"/><circle cx="559.4" cy="259" r="3.85" fill="url(#gk)"/><circle cx="565" cy="265" r="3.85" fill="url(#gk)"/><circle cx="570.6" cy="268.5" r="3.85" fill="url(#gk)"/><circle cx="576.2" cy="268.6" r="3.85" fill="url(#gk)"/><circle cx="581.8" cy="268.6" r="3.85" fill="url(#gk)"/><circle cx="587.4" cy="268.6" r="3.85" fill="url(#gk)"/><circle cx="593" cy="277.4" r="3.85" fill="url(#gk)"/><circle cx="598.6" cy="283" r="3.85" fill="url(#gk)"/><circle cx="604.2" cy="283.6" r="3.85" fill="url(#gk)"/><circle cx="609.8" cy="283.6" r="3.85" fill="url(#gk)"/><circle cx="615.4" cy="283.6" r="3.85" fill="url(#gk)"/><circle cx="621" cy="248.6" r="3.85" fill="url(#gk)"/><circle cx="626.6" cy="229.4" r="3.85" fill="url(#gk)"/><circle cx="632.2" cy="229.4" r="3.85" fill="url(#gk)"/><circle cx="637.8" cy="229.4" r="3.85" fill="url(#gk)"/><circle cx="643.4" cy="229.4" r="3.85" fill="url(#gk)"/><circle cx="481" cy="227.8" r="3.85" fill="url(#gr)"/><circle cx="486.6" cy="227.8" r="3.85" fill="url(#gr)"/><circle cx="492.2" cy="227.8" r="3.85" fill="url(#gr)"/><circle cx="497.8" cy="227.8" r="3.85" fill="url(#gr)"/><circle cx="503.4" cy="227.8" r="3.85" fill="url(#gr)"/><circle cx="509" cy="237.4" r="3.85" fill="url(#gr)"/><circle cx="514.6" cy="237.4" r="3.85" fill="url(#gr)"/><circle cx="520.2" cy="237.4" r="3.85" fill="url(#gr)"/><circle cx="525.8" cy="237.4" r="3.85" fill="url(#gr)"/><circle cx="531.4" cy="237.4" r="3.85" fill="url(#gr)"/><circle cx="537" cy="259" r="3.85" fill="url(#gr)"/><circle cx="542.6" cy="259" r="3.85" fill="url(#gr)"/><circle cx="548.2" cy="259" r="3.85" fill="url(#gr)"/><circle cx="553.8" cy="259" r="3.85" fill="url(#gr)"/><circle cx="559.4" cy="259" r="3.85" fill="url(#gr)"/><circle cx="565" cy="268.6" r="3.85" fill="url(#gr)"/><circle cx="570.6" cy="268.6" r="3.85" fill="url(#gr)"/><circle cx="576.2" cy="268.6" r="3.85" fill="url(#gr)"/><circle cx="581.8" cy="268.6" r="3.85" fill="url(#gr)"/><circle cx="587.4" cy="268.6" r="3.85" fill="url(#gr)"/><circle cx="593" cy="283.6" r="3.85" fill="url(#gr)"/><circle cx="598.6" cy="283.6" r="3.85" fill="url(#gr)"/><circle cx="604.2" cy="283.6" r="3.85" fill="url(#gr)"/><circle cx="609.8" cy="283.6" r="3.85" fill="url(#gr)"/><circle cx="615.4" cy="283.6" r="3.85" fill="url(#gr)"/><circle cx="621" cy="229.4" r="3.85" fill="url(#gr)"/><circle cx="626.6" cy="229.4" r="3.85" fill="url(#gr)"/><circle cx="632.2" cy="229.4" r="3.85" fill="url(#gr)"/><circle cx="637.8" cy="229.4" r="3.85" fill="url(#gr)"/><circle cx="643.4" cy="229.4" r="3.85" fill="url(#gr)"/><circle cx="481" cy="332.6" r="3.85" fill="url(#gb)"/><circle cx="486.6" cy="295.4" r="3.85" fill="url(#gb)"/><circle cx="492.2" cy="294.9" r="3.85" fill="url(#gb)"/><circle cx="497.8" cy="294.9" r="3.85" fill="url(#gb)"/><circle cx="503.4" cy="294.4" r="3.85" fill="url(#gb)"/><circle cx="509" cy="304.3" r="3.85" fill="url(#gb)"/><circle cx="514.6" cy="294.4" r="3.85" fill="url(#gb)"/><circle cx="520.2" cy="294.4" r="3.85" fill="url(#gb)"/><circle cx="525.8" cy="294.4" r="3.85" fill="url(#gb)"/><circle cx="531.4" cy="293.7" r="3.85" fill="url(#gb)"/><circle cx="537" cy="313" r="3.85" fill="url(#gb)"/><circle cx="542.6" cy="294.4" r="3.85" fill="url(#gb)"/><circle cx="548.2" cy="294.4" r="3.85" fill="url(#gb)"/><circle cx="553.8" cy="293.7" r="3.85" fill="url(#gb)"/><circle cx="559.4" cy="293.7" r="3.85" fill="url(#gb)"/><circle cx="565" cy="305" r="3.85" fill="url(#gb)"/><circle cx="570.6" cy="294.4" r="3.85" fill="url(#gb)"/><circle cx="576.2" cy="293.7" r="3.85" fill="url(#gb)"/><circle cx="581.8" cy="294.9" r="3.85" fill="url(#gb)"/><circle cx="587.4" cy="294.9" r="3.85" fill="url(#gb)"/><circle cx="593" cy="318.6" r="3.85" fill="url(#gb)"/><circle cx="598.6" cy="294.4" r="3.85" fill="url(#gb)"/><circle cx="604.2" cy="293.7" r="3.85" fill="url(#gb)"/><circle cx="609.8" cy="295.4" r="3.85" fill="url(#gb)"/><circle cx="615.4" cy="294.4" r="3.85" fill="url(#gb)"/><circle cx="621" cy="239.9" r="3.85" fill="url(#gb)"/><circle cx="626.6" cy="294.4" r="3.85" fill="url(#gb)"/><circle cx="632.2" cy="294.4" r="3.85" fill="url(#gb)"/><circle cx="637.8" cy="294.4" r="3.85" fill="url(#gb)"/><circle cx="643.4" cy="294.4" r="3.85" fill="url(#gb)"/><line x1="503.4" y1="197.4" x2="503.4" y2="303" stroke="#000" stroke-width="1.2" stroke-dasharray="4,2.6"/><line x1="531.4" y1="197.4" x2="531.4" y2="304" stroke="#000" stroke-width="1.2" stroke-dasharray="4,2.6"/><line x1="559.4" y1="197.4" x2="559.4" y2="324.5" stroke="#000" stroke-width="1.2" stroke-dasharray="4,2.6"/><line x1="587.4" y1="197.4" x2="587.4" y2="335.4" stroke="#000" stroke-width="1.2" stroke-dasharray="4,2.6"/><line x1="615.4" y1="197.4" x2="615.4" y2="335.4" stroke="#000" stroke-width="1.2" stroke-dasharray="4,2.6"/><text x="485.8" y="218" font-size="8.2" fill="#222">200</text><text x="511.4" y="227.4" font-size="8.2" fill="#222">400</text><text x="538.2" y="246.6" font-size="8.2" fill="#222">1000</text><text x="565.4" y="257.4" font-size="8.2" fill="#222">1400</text><text x="594.2" y="273" font-size="8.2" fill="#222">2000</text><text x="625.4" y="218" font-size="8.2" fill="#222">200</text><text x="486" y="207.4" font-size="8.4" textLength="43.4" lengthAdjust="spacingAndGlyphs" fill="#222">Unit: mA g<tspan dy="-3.6" font-size="7">-1</tspan><tspan dy="3.6"></tspan></text><line x1="484" y1="310" x2="504" y2="310" stroke="#000" stroke-width="1.4"/><circle cx="494.3" cy="310" r="3.8" fill="url(#hk)"/><text x="506.5" y="313" font-size="8.4" fill="#222">Charge</text><line x1="484" y1="320.2" x2="504" y2="320.2" stroke="#ff0000" stroke-width="1.4"/><circle cx="494.3" cy="320.2" r="3.8" fill="url(#hr)"/><text x="506.5" y="323.2" font-size="8.4" fill="#222">Discharge</text><line x1="484" y1="330.4" x2="504" y2="330.4" stroke="#0000ff" stroke-width="1.4"/><circle cx="494.3" cy="330.4" r="3.8" fill="url(#hb)"/><text x="506.5" y="333.4" font-size="8.4" fill="#222">Coulombic efficiency</text><rect x="475.4" y="197.4" width="170.6" height="138" fill="none" stroke="#000" stroke-width="1.4"/><line x1="475.4" y1="335.4" x2="475.4" y2="339.2" stroke="#000" stroke-width="1.3"/><text x="475.4" y="351.4" font-size="10.2" font-weight="bold" text-anchor="middle" textLength="5.4" lengthAdjust="spacingAndGlyphs">0</text><line x1="503.4" y1="335.4" x2="503.4" y2="339.2" stroke="#000" stroke-width="1.3"/><text x="503.4" y="351.4" font-size="10.2" font-weight="bold" text-anchor="middle" textLength="5.4" lengthAdjust="spacingAndGlyphs">5</text><line x1="531.4" y1="335.4" x2="531.4" y2="339.2" stroke="#000" stroke-width="1.3"/><text x="531.4" y="351.4" font-size="10.2" font-weight="bold" text-anchor="middle" textLength="10.8" lengthAdjust="spacingAndGlyphs">10</text><line x1="559.4" y1="335.4" x2="559.4" y2="339.2" stroke="#000" stroke-width="1.3"/><text x="559.4" y="351.4" font-size="10.2" font-weight="bold" text-anchor="middle" textLength="10.8" lengthAdjust="spacingAndGlyphs">15</text><line x1="587.4" y1="335.4" x2="587.4" y2="339.2" stroke="#000" stroke-width="1.3"/><text x="587.4" y="351.4" font-size="10.2" font-weight="bold" text-anchor="middle" textLength="10.8" lengthAdjust="spacingAndGlyphs">20</text><line x1="615.4" y1="335.4" x2="615.4" y2="339.2" stroke="#000" stroke-width="1.3"/><text x="615.4" y="351.4" font-size="10.2" font-weight="bold" text-anchor="middle" textLength="10.8" lengthAdjust="spacingAndGlyphs">25</text><line x1="643.4" y1="335.4" x2="643.4" y2="339.2" stroke="#000" stroke-width="1.3"/><text x="643.4" y="351.4" font-size="10.2" font-weight="bold" text-anchor="middle" textLength="10.8" lengthAdjust="spacingAndGlyphs">30</text><line x1="489.4" y1="335.4" x2="489.4" y2="337.5" stroke="#000" stroke-width="1.2"/><line x1="517.4" y1="335.4" x2="517.4" y2="337.5" stroke="#000" stroke-width="1.2"/><line x1="545.4" y1="335.4" x2="545.4" y2="337.5" stroke="#000" stroke-width="1.2"/><line x1="573.4" y1="335.4" x2="573.4" y2="337.5" stroke="#000" stroke-width="1.2"/><line x1="601.4" y1="335.4" x2="601.4" y2="337.5" stroke="#000" stroke-width="1.2"/><line x1="629.4" y1="335.4" x2="629.4" y2="337.5" stroke="#000" stroke-width="1.2"/><line x1="475.4" y1="335.4" x2="471.6" y2="335.4" stroke="#000" stroke-width="1.3"/><text x="467.6" y="339" font-size="10.2" font-weight="bold" text-anchor="end" textLength="5.4" lengthAdjust="spacingAndGlyphs">0</text><line x1="475.4" y1="300.9" x2="471.6" y2="300.9" stroke="#000" stroke-width="1.3"/><text x="467.6" y="304.5" font-size="10.2" font-weight="bold" text-anchor="end" textLength="10.8" lengthAdjust="spacingAndGlyphs">50</text><line x1="475.4" y1="266.4" x2="471.6" y2="266.4" stroke="#000" stroke-width="1.3"/><text x="467.6" y="270" font-size="10.2" font-weight="bold" text-anchor="end" textLength="16.2" lengthAdjust="spacingAndGlyphs">100</text><line x1="475.4" y1="231.9" x2="471.6" y2="231.9" stroke="#000" stroke-width="1.3"/><text x="467.6" y="235.5" font-size="10.2" font-weight="bold" text-anchor="end" textLength="16.2" lengthAdjust="spacingAndGlyphs">150</text><line x1="475.4" y1="197.4" x2="471.6" y2="197.4" stroke="#000" stroke-width="1.3"/><text x="467.6" y="201" font-size="10.2" font-weight="bold" text-anchor="end" textLength="16.2" lengthAdjust="spacingAndGlyphs">200</text><line x1="475.4" y1="318.1" x2="473.3" y2="318.1" stroke="#000" stroke-width="1.2"/><line x1="475.4" y1="283.6" x2="473.3" y2="283.6" stroke="#000" stroke-width="1.2"/><line x1="475.4" y1="249.1" x2="473.3" y2="249.1" stroke="#000" stroke-width="1.2"/><line x1="475.4" y1="214.6" x2="473.3" y2="214.6" stroke="#000" stroke-width="1.2"/><line x1="646" y1="318.6" x2="649.8" y2="318.6" stroke="#000" stroke-width="1.3"/><text x="653.6" y="322.2" font-size="10.2" font-weight="bold" textLength="10.8" lengthAdjust="spacingAndGlyphs">90</text><line x1="646" y1="294.4" x2="649.8" y2="294.4" stroke="#000" stroke-width="1.3"/><text x="653.6" y="298" font-size="10.2" font-weight="bold" textLength="16.2" lengthAdjust="spacingAndGlyphs">100</text><line x1="646" y1="270.2" x2="649.8" y2="270.2" stroke="#000" stroke-width="1.3"/><text x="653.6" y="273.8" font-size="10.2" font-weight="bold" textLength="15.6" lengthAdjust="spacingAndGlyphs">110</text><line x1="646" y1="246" x2="649.8" y2="246" stroke="#000" stroke-width="1.3"/><text x="653.6" y="249.6" font-size="10.2" font-weight="bold" textLength="16.2" lengthAdjust="spacingAndGlyphs">120</text><line x1="646" y1="221.8" x2="649.8" y2="221.8" stroke="#000" stroke-width="1.3"/><text x="653.6" y="225.4" font-size="10.2" font-weight="bold" textLength="16.2" lengthAdjust="spacingAndGlyphs">130</text><line x1="646" y1="197.6" x2="649.8" y2="197.6" stroke="#000" stroke-width="1.3"/><text x="653.6" y="201.2" font-size="10.2" font-weight="bold" textLength="16.2" lengthAdjust="spacingAndGlyphs">140</text><line x1="646" y1="330.7" x2="648.1" y2="330.7" stroke="#000" stroke-width="1.2"/><line x1="646" y1="306.5" x2="648.1" y2="306.5" stroke="#000" stroke-width="1.2"/><line x1="646" y1="282.3" x2="648.1" y2="282.3" stroke="#000" stroke-width="1.2"/><line x1="646" y1="258.1" x2="648.1" y2="258.1" stroke="#000" stroke-width="1.2"/><line x1="646" y1="233.9" x2="648.1" y2="233.9" stroke="#000" stroke-width="1.2"/><line x1="646" y1="209.7" x2="648.1" y2="209.7" stroke="#000" stroke-width="1.2"/><text transform="translate(447.3,266.4) rotate(-90)" font-size="11.5" font-weight="bold" text-anchor="middle" textLength="101" lengthAdjust="spacingAndGlyphs">Capacity (mAh g<tspan dy="-3.6" font-size="7">-1</tspan><tspan dy="3.6">)</tspan></text><text transform="translate(681.3,266.4) rotate(-90)" font-size="11.5" font-weight="bold" text-anchor="middle" textLength="135.8" lengthAdjust="spacingAndGlyphs">Coulombic efficiency (%)</text><text x="561" y="365.2" font-size="11.5" font-weight="bold" text-anchor="middle" textLength="75.8" lengthAdjust="spacingAndGlyphs">Cycle number</text><text x="3.5" y="195" font-size="11" font-weight="bold">d</text><path d="M39.6,205 C39.8,205.5 40.3,207 41,208 C41.7,209 42.2,210 44,211 C45.8,212 48.3,213 52,214 C55.7,215 62,215.8 66,217 C70,218.2 72.7,219.3 76,221 C79.3,222.7 82,225.2 86,227 C90,228.8 95.7,230 100,232 C104.3,234 108,236.8 112,239 C116,241.2 119.8,243.2 124,245 C128.2,246.8 132.7,248.5 137,250 C141.3,251.5 144.5,252 150,254 C155.5,256 164.7,259.7 170,262 C175.3,264.3 179.3,266.2 182,268 C184.7,269.8 185,269.5 186,273 C187,276.5 187.4,282.8 188,289 C188.6,295.2 189.2,303.8 189.5,310 C189.8,316.2 189.9,323.8 190,326.5" fill="none" stroke="#ff0000" stroke-width="1.5" stroke-linejoin="round"/><path d="M39.6,269 C40,268.3 39.9,266.2 42,265 C44.1,263.8 47.7,263 52,262 C56.3,261 62.7,260.3 68,259 C73.3,257.7 78.7,255.7 84,254 C89.3,252.3 94.7,250.7 100,249 C105.3,247.3 111.3,245.8 116,244 C120.7,242.2 124.5,239.8 128,238 C131.5,236.2 133.3,235.2 137,233 C140.7,230.8 144.5,227.8 150,225 C155.5,222.2 165,217.9 170,216 C175,214.1 176,214.3 180,213.6 C184,212.9 190.3,212.8 194,212 C197.7,211.2 199.9,210.3 202,209 C204.1,207.7 205.7,204.8 206.4,204" fill="none" stroke="#ff0000" stroke-width="1.5" stroke-linejoin="round"/><line x1="206.6" y1="204" x2="206.6" y2="326.2" stroke="#000" stroke-width="1.2"/><line x1="40.5" y1="326.2" x2="206" y2="326.2" stroke="#000" stroke-width="1.1"/><polygon points="40.8,326.2 46.8,324 44.7,326.2 46.8,328.4" fill="#000"/><polygon points="189.8,326.2 183.8,324 185.9,326.2 183.8,328.4" fill="#000"/><polygon points="206.2,326.2 200.2,324 202.3,326.2 200.2,328.4" fill="#000"/><rect x="39.6" y="197.4" width="170.4" height="137.6" fill="none" stroke="#000" stroke-width="1.4"/><line x1="39.6" y1="197.4" x2="35.8" y2="197.4" stroke="#000" stroke-width="1.3"/><text x="32.4" y="201" font-size="10.2" font-weight="bold" text-anchor="end" textLength="13.5" lengthAdjust="spacingAndGlyphs">4.4</text><line x1="39.6" y1="229.9" x2="35.8" y2="229.9" stroke="#000" stroke-width="1.3"/><text x="32.4" y="233.5" font-size="10.2" font-weight="bold" text-anchor="end" textLength="13.5" lengthAdjust="spacingAndGlyphs">4.0</text><line x1="39.6" y1="262.4" x2="35.8" y2="262.4" stroke="#000" stroke-width="1.3"/><text x="32.4" y="266" font-size="10.2" font-weight="bold" text-anchor="end" textLength="13.5" lengthAdjust="spacingAndGlyphs">3.6</text><line x1="39.6" y1="294.9" x2="35.8" y2="294.9" stroke="#000" stroke-width="1.3"/><text x="32.4" y="298.5" font-size="10.2" font-weight="bold" text-anchor="end" textLength="13.5" lengthAdjust="spacingAndGlyphs">3.2</text><line x1="39.6" y1="327.4" x2="35.8" y2="327.4" stroke="#000" stroke-width="1.3"/><text x="32.4" y="331" font-size="10.2" font-weight="bold" text-anchor="end" textLength="13.5" lengthAdjust="spacingAndGlyphs">2.8</text><line x1="39.6" y1="213.7" x2="37.5" y2="213.7" stroke="#000" stroke-width="1.2"/><line x1="39.6" y1="246.2" x2="37.5" y2="246.2" stroke="#000" stroke-width="1.2"/><line x1="39.6" y1="278.7" x2="37.5" y2="278.7" stroke="#000" stroke-width="1.2"/><line x1="39.6" y1="311.2" x2="37.5" y2="311.2" stroke="#000" stroke-width="1.2"/><line x1="39.6" y1="335" x2="39.6" y2="338.8" stroke="#000" stroke-width="1.3"/><text x="39.6" y="351.4" font-size="10.2" font-weight="bold" text-anchor="middle" textLength="5.4" lengthAdjust="spacingAndGlyphs">0</text><line x1="73" y1="335" x2="73" y2="338.8" stroke="#000" stroke-width="1.3"/><text x="73" y="351.4" font-size="10.2" font-weight="bold" text-anchor="middle" textLength="10.8" lengthAdjust="spacingAndGlyphs">40</text><line x1="106.3" y1="335" x2="106.3" y2="338.8" stroke="#000" stroke-width="1.3"/><text x="106.3" y="351.4" font-size="10.2" font-weight="bold" text-anchor="middle" textLength="10.8" lengthAdjust="spacingAndGlyphs">80</text><line x1="139.7" y1="335" x2="139.7" y2="338.8" stroke="#000" stroke-width="1.3"/><text x="139.7" y="351.4" font-size="10.2" font-weight="bold" text-anchor="middle" textLength="16.2" lengthAdjust="spacingAndGlyphs">120</text><line x1="173" y1="335" x2="173" y2="338.8" stroke="#000" stroke-width="1.3"/><text x="173" y="351.4" font-size="10.2" font-weight="bold" text-anchor="middle" textLength="16.2" lengthAdjust="spacingAndGlyphs">160</text><line x1="206.4" y1="335" x2="206.4" y2="338.8" stroke="#000" stroke-width="1.3"/><text x="206.4" y="351.4" font-size="10.2" font-weight="bold" text-anchor="middle" textLength="16.2" lengthAdjust="spacingAndGlyphs">200</text><line x1="56.3" y1="335" x2="56.3" y2="337.1" stroke="#000" stroke-width="1.2"/><line x1="89.6" y1="335" x2="89.6" y2="337.1" stroke="#000" stroke-width="1.2"/><line x1="123" y1="335" x2="123" y2="337.1" stroke="#000" stroke-width="1.2"/><line x1="156.4" y1="335" x2="156.4" y2="337.1" stroke="#000" stroke-width="1.2"/><line x1="189.7" y1="335" x2="189.7" y2="337.1" stroke="#000" stroke-width="1.2"/><text transform="translate(10.7,266.5) rotate(-90)" font-size="11.5" font-weight="bold" text-anchor="middle" textLength="118.5" lengthAdjust="spacingAndGlyphs">Potential vs. Li/Li<tspan dy="-3.6" font-size="7">+</tspan><tspan dy="3.6"> (V)</tspan></text><text x="125.4" y="365.7" font-size="11.5" font-weight="bold" text-anchor="middle" textLength="101.8" lengthAdjust="spacingAndGlyphs">Capacity (mAh g<tspan dy="-3.6" font-size="7">-1</tspan><tspan dy="3.6">)</tspan></text><text x="42.5" y="285.5" font-size="8.3" fill="#222">Li-In | LPSCl-LZACO | scNCM92</text><text x="42.5" y="302.5" font-size="8.3" fill="#222">25 °C, 20 mA g<tspan dy="-3.6" font-size="7">-1</tspan><tspan dy="3.6"> (0.1 C), 5.26 mg cm<tspan dy="-3.6" font-size="7">-2</tspan><tspan dy="3.6"></tspan></tspan></text><text x="118.5" y="320" font-size="8.3" fill="#222"><tspan font-family="Liberation Serif" font-style="italic" font-size="11">η</tspan><tspan font-size="5.8" dy="2">Coulomb</tspan><tspan dy="-2"> = 90.27%</tspan></text><text x="223" y="195" font-size="11" font-weight="bold">e</text><path d="M257.4,204 C257.5,205 257.4,208.5 257.8,210 C258.2,211.5 258.6,212.2 260,213 C261.4,213.8 262.3,214.1 266,215 C269.7,215.9 276.5,216.9 282.2,218.6 C287.9,220.3 294.4,222.8 300,225 C305.6,227.2 310.4,229.8 315.7,232 C321,234.2 326.4,236 332,238 C337.6,240 343.6,241.9 349.3,243.8 C355,245.7 360.4,247.6 366,249.5 C371.6,251.4 378,253.8 383,255.5 C388,257.2 392.7,258.3 396,260 C399.3,261.7 400.8,263.3 403,265.6 C405.2,267.9 407.3,270.1 409,274 C410.7,277.9 411.8,283.8 413,289 C414.2,294.2 415.2,298.8 416,305 C416.8,311.2 417.2,322.5 417.5,326" fill="none" stroke="#222" stroke-width="1.6" stroke-linejoin="round"/><path d="M257.4,212.5 C258.7,213.1 260.9,214.3 265,216 C269.1,217.7 276.4,220.4 282.2,222.6 C288,224.8 294.4,226.9 300,229 C305.6,231.1 310.4,233.4 315.7,235.4 C321,237.4 326.4,239.1 332,241 C337.6,242.9 343.6,244.9 349.3,247 C355,249.1 360.4,251.2 366,253.5 C371.6,255.8 379,258.6 383,260.5 C387,262.4 388,263.2 390,265 C392,266.8 393.4,267.6 395,271 C396.6,274.4 398.5,280 399.7,285.7 C400.9,291.4 401.4,298.3 402,305 C402.6,311.7 403,322.5 403.2,326" fill="none" stroke="#ff0000" stroke-width="1.6" stroke-linejoin="round"/><path d="M257.4,221 C258.7,221.9 262.1,224.7 265,226.5 C267.9,228.3 270.8,229.9 275,232 C279.2,234.1 285,236.7 290,239 C295,241.3 300,243.6 305,246 C310,248.4 315,251 320,253.5 C325,256 330.7,258.8 335,261 C339.3,263.2 342.7,264.8 346,267 C349.3,269.2 352.5,271.5 355,274 C357.5,276.5 359.2,278.8 361,282 C362.8,285.2 364.7,289 366,293 C367.3,297 368.2,300.5 369,306 C369.8,311.5 370.7,322.7 371,326" fill="none" stroke="#3a5bff" stroke-width="1.6" stroke-linejoin="round"/><path d="M257.4,224.6 C258.3,225.5 260.6,228.1 263,230 C265.4,231.9 268.3,233.8 272,236 C275.7,238.2 280.3,240.7 285,243 C289.7,245.3 295,247.7 300,250 C305,252.3 310.3,254.5 315,257 C319.7,259.5 324.2,262.2 328,265 C331.8,267.8 335,270.7 338,274 C341,277.3 343.7,281.2 346,285 C348.3,288.8 350.3,292.7 352,297 C353.7,301.3 355.1,306.2 356,311 C356.9,315.8 357.3,323.5 357.6,326" fill="none" stroke="#ff8000" stroke-width="1.6" stroke-linejoin="round"/><path d="M257.4,230 C258.2,230.7 259.9,232 262,234 C264.1,236 266.7,239.2 270,242 C273.3,244.8 278.3,247.8 282,250.5 C285.7,253.2 289,255.6 292,258 C295,260.4 297.5,262.2 300,265 C302.5,267.8 304.5,271.2 307,275 C309.5,278.8 312.5,284.2 315,288 C317.5,291.8 319.7,294.2 322,298 C324.3,301.8 326.8,306.3 329,311 C331.2,315.7 334,323.5 335,326" fill="none" stroke="#ff00ff" stroke-width="1.6" stroke-linejoin="round"/><line x1="261.1" y1="273.4" x2="281.8" y2="273.4" stroke="#222" stroke-width="1.6"/><text x="283.8" y="276.3" font-size="8.2" fill="#222">200</text><line x1="261.1" y1="287" x2="281.8" y2="287" stroke="#ff0000" stroke-width="1.6"/><text x="283.8" y="289.9" font-size="8.2" fill="#222">400</text><line x1="261.1" y1="300.6" x2="281.8" y2="300.6" stroke="#3a5bff" stroke-width="1.6"/><text x="283.8" y="303.5" font-size="8.2" fill="#222">1000</text><line x1="261.1" y1="314.2" x2="281.8" y2="314.2" stroke="#ff8000" stroke-width="1.6"/><text x="283.8" y="317.1" font-size="8.2" fill="#222">1400</text><line x1="261.1" y1="327.8" x2="281.8" y2="327.8" stroke="#ff00ff" stroke-width="1.6"/><text x="283.8" y="330.7" font-size="8.2" fill="#222">2000</text><rect x="257.4" y="197.4" width="170.6" height="137.6" fill="none" stroke="#000" stroke-width="1.4"/><line x1="257.4" y1="197.4" x2="253.6" y2="197.4" stroke="#000" stroke-width="1.3"/><text x="250" y="201" font-size="10.2" font-weight="bold" text-anchor="end" textLength="13.5" lengthAdjust="spacingAndGlyphs">4.4</text><line x1="257.4" y1="229.9" x2="253.6" y2="229.9" stroke="#000" stroke-width="1.3"/><text x="250" y="233.5" font-size="10.2" font-weight="bold" text-anchor="end" textLength="13.5" lengthAdjust="spacingAndGlyphs">4.0</text><line x1="257.4" y1="262.4" x2="253.6" y2="262.4" stroke="#000" stroke-width="1.3"/><text x="250" y="266" font-size="10.2" font-weight="bold" text-anchor="end" textLength="13.5" lengthAdjust="spacingAndGlyphs">3.6</text><line x1="257.4" y1="294.9" x2="253.6" y2="294.9" stroke="#000" stroke-width="1.3"/><text x="250" y="298.5" font-size="10.2" font-weight="bold" text-anchor="end" textLength="13.5" lengthAdjust="spacingAndGlyphs">3.2</text><line x1="257.4" y1="327.4" x2="253.6" y2="327.4" stroke="#000" stroke-width="1.3"/><text x="250" y="331" font-size="10.2" font-weight="bold" text-anchor="end" textLength="13.5" lengthAdjust="spacingAndGlyphs">2.8</text><line x1="257.4" y1="213.7" x2="255.3" y2="213.7" stroke="#000" stroke-width="1.2"/><line x1="257.4" y1="246.2" x2="255.3" y2="246.2" stroke="#000" stroke-width="1.2"/><line x1="257.4" y1="278.7" x2="255.3" y2="278.7" stroke="#000" stroke-width="1.2"/><line x1="257.4" y1="311.2" x2="255.3" y2="311.2" stroke="#000" stroke-width="1.2"/><line x1="257.4" y1="335" x2="257.4" y2="338.8" stroke="#000" stroke-width="1.3"/><text x="257.4" y="351.4" font-size="10.2" font-weight="bold" text-anchor="middle" textLength="5.4" lengthAdjust="spacingAndGlyphs">0</text><line x1="288.5" y1="335" x2="288.5" y2="338.8" stroke="#000" stroke-width="1.3"/><text x="288.5" y="351.4" font-size="10.2" font-weight="bold" text-anchor="middle" textLength="10.8" lengthAdjust="spacingAndGlyphs">30</text><line x1="319.6" y1="335" x2="319.6" y2="338.8" stroke="#000" stroke-width="1.3"/><text x="319.6" y="351.4" font-size="10.2" font-weight="bold" text-anchor="middle" textLength="10.8" lengthAdjust="spacingAndGlyphs">60</text><line x1="350.6" y1="335" x2="350.6" y2="338.8" stroke="#000" stroke-width="1.3"/><text x="350.6" y="351.4" font-size="10.2" font-weight="bold" text-anchor="middle" textLength="10.8" lengthAdjust="spacingAndGlyphs">90</text><line x1="381.7" y1="335" x2="381.7" y2="338.8" stroke="#000" stroke-width="1.3"/><text x="381.7" y="351.4" font-size="10.2" font-weight="bold" text-anchor="middle" textLength="16.2" lengthAdjust="spacingAndGlyphs">120</text><line x1="412.8" y1="335" x2="412.8" y2="338.8" stroke="#000" stroke-width="1.3"/><text x="412.8" y="351.4" font-size="10.2" font-weight="bold" text-anchor="middle" textLength="16.2" lengthAdjust="spacingAndGlyphs">150</text><line x1="272.9" y1="335" x2="272.9" y2="337.1" stroke="#000" stroke-width="1.2"/><line x1="304" y1="335" x2="304" y2="337.1" stroke="#000" stroke-width="1.2"/><line x1="335.1" y1="335" x2="335.1" y2="337.1" stroke="#000" stroke-width="1.2"/><line x1="366.2" y1="335" x2="366.2" y2="337.1" stroke="#000" stroke-width="1.2"/><line x1="397.3" y1="335" x2="397.3" y2="337.1" stroke="#000" stroke-width="1.2"/><text transform="translate(230.7,260.6) rotate(-90)" font-size="11.5" font-weight="bold" text-anchor="middle" textLength="118.5" lengthAdjust="spacingAndGlyphs">Potential vs. Li/Li<tspan dy="-3.6" font-size="7">+</tspan><tspan dy="3.6"> (V)</tspan></text><text x="342.8" y="365.7" font-size="11.5" font-weight="bold" text-anchor="middle" textLength="101.8" lengthAdjust="spacingAndGlyphs">Capacity (mAh g<tspan dy="-3.6" font-size="7">-1</tspan><tspan dy="3.6">)</tspan></text><text x="381.8" y="207.6" font-size="8.4" textLength="43.4" lengthAdjust="spacingAndGlyphs" fill="#222">Unit: mA g<tspan dy="-3.6" font-size="7">-1</tspan><tspan dy="3.6"></tspan></text><text x="3.5" y="380" font-size="11" font-weight="bold">g</text><clipPath id="cpg"><rect x="39.7" y="382.6" width="605.6" height="166.79999999999995"/></clipPath><g clip-path="url(#cpg)"><g fill="url(#lk)"><circle cx="40" cy="480.2" r="3.4"/><circle cx="41.5" cy="480.8" r="3.4"/><circle cx="43" cy="481" r="3.4"/><circle cx="44.5" cy="480.6" r="3.4"/><circle cx="46" cy="480.4" r="3.4"/><circle cx="47.5" cy="480.8" r="3.4"/><circle cx="49" cy="481" r="3.4"/><circle cx="50.5" cy="481.3" r="3.4"/><circle cx="52" cy="480.6" r="3.4"/><circle cx="53.5" cy="480.7" r="3.4"/><circle cx="55" cy="481.3" r="3.4"/><circle cx="56.5" cy="481.1" r="3.4"/><circle cx="58" cy="481.3" r="3.4"/><circle cx="59.5" cy="480.9" r="3.4"/><circle cx="61" cy="480.5" r="3.4"/><circle cx="62.5" cy="480.3" r="3.4"/><circle cx="64" cy="481" r="3.4"/><circle cx="65.5" cy="480" r="3.4"/><circle cx="67" cy="479.7" r="3.4"/><circle cx="68.5" cy="479.4" r="3.4"/><circle cx="70" cy="479.6" r="3.4"/><circle cx="71.5" cy="479.5" r="3.4"/><circle cx="73" cy="479.3" r="3.4"/><circle cx="74.5" cy="479.3" r="3.4"/><circle cx="76" cy="479.3" r="3.4"/><circle cx="77.5" cy="479.3" r="3.4"/><circle cx="79" cy="479.3" r="3.4"/><circle cx="80.5" cy="479" r="3.4"/><circle cx="82" cy="478.3" r="3.4"/><circle cx="83.5" cy="478.9" r="3.4"/><circle cx="85" cy="478.2" r="3.4"/><circle cx="86.5" cy="478.4" r="3.4"/><circle cx="88" cy="478" r="3.4"/><circle cx="89.5" cy="478.3" r="3.4"/><circle cx="91" cy="478" r="3.4"/><circle cx="92.5" cy="478.2" r="3.4"/><circle cx="94" cy="479" r="3.4"/><circle cx="95.5" cy="477.9" r="3.4"/><circle cx="97" cy="478.1" r="3.4"/><circle cx="98.5" cy="477.3" r="3.4"/><circle cx="100" cy="477.5" r="3.4"/><circle cx="101.5" cy="477.7" r="3.4"/><circle cx="103" cy="477.4" r="3.4"/><circle cx="104.5" cy="477.5" r="3.4"/><circle cx="106" cy="477.3" r="3.4"/><circle cx="107.5" cy="476.9" r="3.4"/><circle cx="109" cy="477.3" r="3.4"/><circle cx="110.5" cy="476.9" r="3.4"/><circle cx="112" cy="477.8" r="3.4"/><circle cx="113.5" cy="477.2" r="3.4"/><circle cx="115" cy="477.7" r="3.4"/><circle cx="116.5" cy="477.6" r="3.4"/><circle cx="118" cy="478" r="3.4"/><circle cx="119.5" cy="477.6" r="3.4"/><circle cx="121" cy="478.2" r="3.4"/><circle cx="122.5" cy="478" r="3.4"/><circle cx="124" cy="478.5" r="3.4"/><circle cx="125.5" cy="478.4" r="3.4"/><circle cx="127" cy="478.4" r="3.4"/><circle cx="128.5" cy="478.3" r="3.4"/><circle cx="130" cy="478.8" r="3.4"/><circle cx="131.5" cy="478.8" r="3.4"/><circle cx="133" cy="479.2" r="3.4"/><circle cx="134.5" cy="478.6" r="3.4"/><circle cx="136" cy="479" r="3.4"/><circle cx="137.5" cy="479" r="3.4"/><circle cx="139" cy="479" r="3.4"/><circle cx="140.5" cy="479" r="3.4"/><circle cx="142" cy="479.1" r="3.4"/><circle cx="143.5" cy="478.9" r="3.4"/><circle cx="145" cy="478.8" r="3.4"/><circle cx="146.5" cy="479" r="3.4"/><circle cx="148" cy="479.4" r="3.4"/><circle cx="149.5" cy="479.7" r="3.4"/><circle cx="151" cy="479.6" r="3.4"/><circle cx="152.5" cy="479.7" r="3.4"/><circle cx="154" cy="479.6" r="3.4"/><circle cx="155.5" cy="479.7" r="3.4"/><circle cx="157" cy="479.6" r="3.4"/><circle cx="158.5" cy="479.8" r="3.4"/><circle cx="160" cy="480.1" r="3.4"/><circle cx="161.5" cy="479.5" r="3.4"/><circle cx="163" cy="479.5" r="3.4"/><circle cx="164.5" cy="480.3" r="3.4"/><circle cx="166" cy="479.8" r="3.4"/><circle cx="167.5" cy="480.1" r="3.4"/><circle cx="169" cy="480.1" r="3.4"/><circle cx="170.5" cy="479.5" r="3.4"/><circle cx="172" cy="480.6" r="3.4"/><circle cx="173.5" cy="480.5" r="3.4"/><circle cx="175" cy="480" r="3.4"/><circle cx="176.5" cy="480.2" r="3.4"/><circle cx="178" cy="480.1" r="3.4"/><circle cx="179.5" cy="479.8" r="3.4"/><circle cx="181" cy="480" r="3.4"/><circle cx="182.5" cy="480.1" r="3.4"/><circle cx="184" cy="480.3" r="3.4"/><circle cx="185.5" cy="480.1" r="3.4"/><circle cx="187" cy="479.9" r="3.4"/><circle cx="188.5" cy="480.2" r="3.4"/><circle cx="190" cy="479.5" r="3.4"/><circle cx="191.5" cy="479.9" r="3.4"/><circle cx="193" cy="480" r="3.4"/><circle cx="194.5" cy="479.5" r="3.4"/><circle cx="196" cy="479" r="3.4"/><circle cx="197.5" cy="479.2" r="3.4"/><circle cx="199" cy="479.5" r="3.4"/><circle cx="200.5" cy="479.6" r="3.4"/><circle cx="202" cy="479.9" r="3.4"/><circle cx="203.5" cy="479.2" r="3.4"/><circle cx="205" cy="479.5" r="3.4"/><circle cx="206.5" cy="479.8" r="3.4"/><circle cx="208" cy="479.6" r="3.4"/><circle cx="209.5" cy="478.9" r="3.4"/><circle cx="211" cy="479.9" r="3.4"/><circle cx="212.5" cy="480.4" r="3.4"/><circle cx="214" cy="480.1" r="3.4"/><circle cx="215.5" cy="479.5" r="3.4"/><circle cx="217" cy="479.7" r="3.4"/><circle cx="218.5" cy="479.9" r="3.4"/><circle cx="220" cy="480.6" r="3.4"/><circle cx="221.5" cy="480.1" r="3.4"/><circle cx="223" cy="480" r="3.4"/><circle cx="224.5" cy="480.5" r="3.4"/><circle cx="226" cy="480" r="3.4"/><circle cx="227.5" cy="480.6" r="3.4"/><circle cx="229" cy="479.9" r="3.4"/><circle cx="230.5" cy="480" r="3.4"/><circle cx="232" cy="480.4" r="3.4"/><circle cx="233.5" cy="480.6" r="3.4"/><circle cx="235" cy="480.4" r="3.4"/><circle cx="236.5" cy="480.4" r="3.4"/><circle cx="238" cy="479.8" r="3.4"/><circle cx="239.5" cy="480.1" r="3.4"/><circle cx="241" cy="480.2" r="3.4"/><circle cx="242.5" cy="480.3" r="3.4"/><circle cx="244" cy="480.6" r="3.4"/><circle cx="245.5" cy="480.4" r="3.4"/><circle cx="247" cy="480.8" r="3.4"/><circle cx="248.5" cy="480.6" r="3.4"/><circle cx="250" cy="480.5" r="3.4"/><circle cx="251.5" cy="480.7" r="3.4"/><circle cx="253" cy="480.9" r="3.4"/><circle cx="254.5" cy="481.2" r="3.4"/><circle cx="256" cy="480.9" r="3.4"/><circle cx="257.5" cy="481" r="3.4"/><circle cx="259" cy="480.8" r="3.4"/><circle cx="260.5" cy="481.8" r="3.4"/><circle cx="262" cy="481.8" r="3.4"/><circle cx="263.5" cy="481.4" r="3.4"/><circle cx="265" cy="481.5" r="3.4"/><circle cx="266.5" cy="481.3" r="3.4"/><circle cx="268" cy="481.9" r="3.4"/><circle cx="269.5" cy="482" r="3.4"/><circle cx="271" cy="482.7" r="3.4"/><circle cx="272.5" cy="482.2" r="3.4"/><circle cx="274" cy="482" r="3.4"/><circle cx="275.5" cy="481.6" r="3.4"/><circle cx="277" cy="482.8" r="3.4"/><circle cx="278.5" cy="482.6" r="3.4"/><circle cx="280" cy="482.1" r="3.4"/><circle cx="281.5" cy="482.6" r="3.4"/><circle cx="283" cy="482" r="3.4"/><circle cx="284.5" cy="483.5" r="3.4"/><circle cx="286" cy="482.8" r="3.4"/><circle cx="287.5" cy="482.6" r="3.4"/><circle cx="289" cy="482.3" r="3.4"/><circle cx="290.5" cy="481.7" r="3.4"/><circle cx="292" cy="482.3" r="3.4"/><circle cx="293.5" cy="481.8" r="3.4"/><circle cx="295" cy="482.4" r="3.4"/><circle cx="296.5" cy="481.5" r="3.4"/><circle cx="298" cy="481.9" r="3.4"/><circle cx="299.5" cy="482.5" r="3.4"/><circle cx="301" cy="482.6" r="3.4"/><circle cx="302.5" cy="481.8" r="3.4"/><circle cx="304" cy="481.7" r="3.4"/><circle cx="305.5" cy="482.4" r="3.4"/><circle cx="307" cy="482.4" r="3.4"/><circle cx="308.5" cy="481.9" r="3.4"/><circle cx="310" cy="482" r="3.4"/><circle cx="311.5" cy="482" r="3.4"/><circle cx="313" cy="481.9" r="3.4"/><circle cx="314.5" cy="482.1" r="3.4"/><circle cx="316" cy="482.7" r="3.4"/><circle cx="317.5" cy="482.5" r="3.4"/><circle cx="319" cy="483" r="3.4"/><circle cx="320.5" cy="482.3" r="3.4"/><circle cx="322" cy="482.3" r="3.4"/><circle cx="323.5" cy="482.1" r="3.4"/><circle cx="325" cy="482.4" r="3.4"/><circle cx="326.5" cy="482" r="3.4"/><circle cx="328" cy="481.9" r="3.4"/><circle cx="329.5" cy="482.7" r="3.4"/><circle cx="331" cy="482.9" r="3.4"/><circle cx="332.5" cy="482.8" r="3.4"/><circle cx="334" cy="482.9" r="3.4"/><circle cx="335.5" cy="482.6" r="3.4"/><circle cx="337" cy="482.3" r="3.4"/><circle cx="338.5" cy="482.6" r="3.4"/><circle cx="340" cy="482.5" r="3.4"/><circle cx="341.5" cy="482.3" r="3.4"/><circle cx="343" cy="482.2" r="3.4"/><circle cx="344.5" cy="482.3" r="3.4"/><circle cx="346" cy="482.7" r="3.4"/><circle cx="347.5" cy="482.8" r="3.4"/><circle cx="349" cy="482.7" r="3.4"/><circle cx="350.5" cy="483.3" r="3.4"/><circle cx="352" cy="483" r="3.4"/><circle cx="353.5" cy="483.1" r="3.4"/><circle cx="355" cy="483.3" r="3.4"/><circle cx="356.5" cy="482.8" r="3.4"/><circle cx="358" cy="482.5" r="3.4"/><circle cx="359.5" cy="483.3" r="3.4"/><circle cx="361" cy="482.9" r="3.4"/><circle cx="362.5" cy="483.6" r="3.4"/><circle cx="364" cy="483.3" r="3.4"/><circle cx="365.5" cy="483.5" r="3.4"/><circle cx="367" cy="483.5" r="3.4"/><circle cx="368.5" cy="482.7" r="3.4"/><circle cx="370" cy="483.6" r="3.4"/><circle cx="371.5" cy="483.2" r="3.4"/><circle cx="373" cy="483.2" r="3.4"/><circle cx="374.5" cy="483.3" r="3.4"/><circle cx="376" cy="483.7" r="3.4"/><circle cx="377.5" cy="483.8" r="3.4"/><circle cx="379" cy="483.9" r="3.4"/><circle cx="380.5" cy="483.1" r="3.4"/><circle cx="382" cy="483.4" r="3.4"/><circle cx="383.5" cy="482.9" r="3.4"/><circle cx="385" cy="483.6" r="3.4"/><circle cx="386.5" cy="483.8" r="3.4"/><circle cx="388" cy="483.4" r="3.4"/><circle cx="389.5" cy="483.7" r="3.4"/><circle cx="391" cy="483.7" r="3.4"/><circle cx="392.5" cy="483.9" r="3.4"/><circle cx="394" cy="483.4" r="3.4"/><circle cx="395.5" cy="483.4" r="3.4"/><circle cx="397" cy="483.4" r="3.4"/><circle cx="398.5" cy="484.1" r="3.4"/><circle cx="400" cy="483.9" r="3.4"/><circle cx="401.5" cy="483.6" r="3.4"/><circle cx="403" cy="483.7" r="3.4"/><circle cx="404.5" cy="483.6" r="3.4"/><circle cx="406" cy="483.7" r="3.4"/><circle cx="407.5" cy="483.5" r="3.4"/><circle cx="409" cy="483.5" r="3.4"/><circle cx="410.5" cy="483.2" r="3.4"/><circle cx="412" cy="483.4" r="3.4"/><circle cx="413.5" cy="484.1" r="3.4"/><circle cx="415" cy="483.8" r="3.4"/><circle cx="416.5" cy="483.6" r="3.4"/><circle cx="418" cy="483.5" r="3.4"/><circle cx="419.5" cy="483.6" r="3.4"/><circle cx="421" cy="483.7" r="3.4"/><circle cx="422.5" cy="483.4" r="3.4"/><circle cx="424" cy="483.7" r="3.4"/><circle cx="425.5" cy="483.7" r="3.4"/><circle cx="427" cy="483.4" r="3.4"/><circle cx="428.5" cy="483.4" r="3.4"/><circle cx="430" cy="483.3" r="3.4"/><circle cx="431.5" cy="483.3" r="3.4"/><circle cx="433" cy="483.9" r="3.4"/><circle cx="434.5" cy="482.9" r="3.4"/><circle cx="436" cy="483.5" r="3.4"/><circle cx="437.5" cy="483.4" r="3.4"/><circle cx="439" cy="483.3" r="3.4"/><circle cx="440.5" cy="483.5" r="3.4"/><circle cx="442" cy="483.7" r="3.4"/><circle cx="443.5" cy="483.3" r="3.4"/><circle cx="445" cy="483.2" r="3.4"/><circle cx="446.5" cy="483" r="3.4"/><circle cx="448" cy="483.1" r="3.4"/><circle cx="449.5" cy="483.3" r="3.4"/><circle cx="451" cy="483" r="3.4"/><circle cx="452.5" cy="482.9" r="3.4"/><circle cx="454" cy="483" r="3.4"/><circle cx="455.5" cy="483.3" r="3.4"/><circle cx="457" cy="483.3" r="3.4"/><circle cx="458.5" cy="484.2" r="3.4"/><circle cx="460" cy="484.2" r="3.4"/><circle cx="461.5" cy="484.2" r="3.4"/><circle cx="463" cy="484.8" r="3.4"/><circle cx="464.5" cy="484.3" r="3.4"/><circle cx="466" cy="485" r="3.4"/><circle cx="467.5" cy="485.2" r="3.4"/><circle cx="469" cy="484.8" r="3.4"/><circle cx="470.5" cy="485" r="3.4"/><circle cx="472" cy="485.4" r="3.4"/><circle cx="473.5" cy="486.2" r="3.4"/><circle cx="475" cy="486.6" r="3.4"/><circle cx="476.5" cy="485.8" r="3.4"/><circle cx="478" cy="486.4" r="3.4"/><circle cx="479.5" cy="485.9" r="3.4"/><circle cx="481" cy="485.8" r="3.4"/><circle cx="482.5" cy="485.7" r="3.4"/><circle cx="484" cy="485.7" r="3.4"/><circle cx="485.5" cy="485.2" r="3.4"/><circle cx="487" cy="485.4" r="3.4"/><circle cx="488.5" cy="485.3" r="3.4"/><circle cx="490" cy="485.7" r="3.4"/><circle cx="491.5" cy="486.2" r="3.4"/><circle cx="493" cy="486.3" r="3.4"/><circle cx="494.5" cy="485.3" r="3.4"/><circle cx="496" cy="484.8" r="3.4"/><circle cx="497.5" cy="485.1" r="3.4"/><circle cx="499" cy="484.9" r="3.4"/><circle cx="500.5" cy="485.7" r="3.4"/><circle cx="502" cy="485.2" r="3.4"/><circle cx="503.5" cy="484.8" r="3.4"/><circle cx="505" cy="485.2" r="3.4"/><circle cx="506.5" cy="485.1" r="3.4"/><circle cx="508" cy="484.5" r="3.4"/><circle cx="509.5" cy="484.9" r="3.4"/><circle cx="511" cy="485" r="3.4"/><circle cx="512.5" cy="485.2" r="3.4"/><circle cx="514" cy="485.3" r="3.4"/><circle cx="515.5" cy="485.2" r="3.4"/><circle cx="517" cy="485.4" r="3.4"/><circle cx="518.5" cy="485.2" r="3.4"/><circle cx="520" cy="485.2" r="3.4"/><circle cx="521.5" cy="485.9" r="3.4"/><circle cx="523" cy="485.6" r="3.4"/><circle cx="524.5" cy="485.7" r="3.4"/><circle cx="526" cy="485.2" r="3.4"/><circle cx="527.5" cy="485.6" r="3.4"/><circle cx="529" cy="486" r="3.4"/><circle cx="530.5" cy="485.4" r="3.4"/><circle cx="532" cy="486.1" r="3.4"/><circle cx="533.5" cy="485.7" r="3.4"/><circle cx="535" cy="486" r="3.4"/><circle cx="536.5" cy="485.9" r="3.4"/><circle cx="538" cy="486.1" r="3.4"/><circle cx="539.5" cy="486.4" r="3.4"/><circle cx="541" cy="486" r="3.4"/><circle cx="542.5" cy="486.6" r="3.4"/><circle cx="544" cy="485.9" r="3.4"/><circle cx="545.5" cy="485.9" r="3.4"/><circle cx="547" cy="486.1" r="3.4"/><circle cx="548.5" cy="485.4" r="3.4"/><circle cx="550" cy="485.4" r="3.4"/><circle cx="551.5" cy="485.6" r="3.4"/><circle cx="553" cy="485.5" r="3.4"/><circle cx="554.5" cy="484.4" r="3.4"/><circle cx="556" cy="484.8" r="3.4"/><circle cx="557.5" cy="485" r="3.4"/><circle cx="559" cy="484.6" r="3.4"/><circle cx="560.5" cy="484.1" r="3.4"/><circle cx="562" cy="484.2" r="3.4"/><circle cx="563.5" cy="484.5" r="3.4"/><circle cx="565" cy="484.5" r="3.4"/><circle cx="566.5" cy="485" r="3.4"/><circle cx="568" cy="485.2" r="3.4"/><circle cx="569.5" cy="485.5" r="3.4"/><circle cx="571" cy="486" r="3.4"/><circle cx="572.5" cy="485.7" r="3.4"/><circle cx="574" cy="485.5" r="3.4"/><circle cx="575.5" cy="486.4" r="3.4"/><circle cx="577" cy="485.8" r="3.4"/><circle cx="578.5" cy="486.1" r="3.4"/><circle cx="580" cy="486.4" r="3.4"/><circle cx="581.5" cy="486.4" r="3.4"/><circle cx="583" cy="486.2" r="3.4"/><circle cx="584.5" cy="486.5" r="3.4"/><circle cx="586" cy="487.3" r="3.4"/><circle cx="587.5" cy="486.5" r="3.4"/><circle cx="589" cy="486.7" r="3.4"/><circle cx="590.5" cy="487.1" r="3.4"/><circle cx="592" cy="487.1" r="3.4"/><circle cx="593.5" cy="487.1" r="3.4"/><circle cx="595" cy="487.2" r="3.4"/><circle cx="596.5" cy="486.4" r="3.4"/><circle cx="598" cy="486.8" r="3.4"/><circle cx="599.5" cy="487.2" r="3.4"/><circle cx="601" cy="487.3" r="3.4"/><circle cx="602.5" cy="487.6" r="3.4"/><circle cx="604" cy="487.4" r="3.4"/><circle cx="605.5" cy="487.3" r="3.4"/><circle cx="607" cy="487.4" r="3.4"/><circle cx="608.5" cy="487.4" r="3.4"/><circle cx="610" cy="487.6" r="3.4"/><circle cx="611.5" cy="487.8" r="3.4"/><circle cx="613" cy="487.5" r="3.4"/><circle cx="614.5" cy="487.4" r="3.4"/><circle cx="616" cy="487.5" r="3.4"/><circle cx="617.5" cy="488.1" r="3.4"/><circle cx="619" cy="488.2" r="3.4"/><circle cx="620.5" cy="488.2" r="3.4"/><circle cx="622" cy="488.2" r="3.4"/><circle cx="623.5" cy="488.2" r="3.4"/><circle cx="625" cy="488" r="3.4"/><circle cx="626.5" cy="488.2" r="3.4"/><circle cx="628" cy="487.7" r="3.4"/><circle cx="629.5" cy="488" r="3.4"/><circle cx="631" cy="487.8" r="3.4"/><circle cx="632.5" cy="488.3" r="3.4"/><circle cx="634" cy="487.9" r="3.4"/><circle cx="635.5" cy="488.1" r="3.4"/><circle cx="637" cy="488.3" r="3.4"/><circle cx="638.5" cy="488.6" r="3.4"/><circle cx="640" cy="488" r="3.4"/><circle cx="641.5" cy="487.9" r="3.4"/><circle cx="643" cy="488.5" r="3.4"/><circle cx="644.5" cy="487.9" r="3.4"/></g><g fill="url(#lr)" stroke="url(#lrs)" stroke-opacity="1" stroke-width="0.5"><circle cx="40" cy="481" r="3.55"/><circle cx="40.6" cy="481.2" r="3.55"/><circle cx="41.2" cy="481.2" r="3.55"/><circle cx="41.8" cy="480.7" r="3.55"/><circle cx="42.4" cy="480.5" r="3.55"/><circle cx="43" cy="481" r="3.55"/><circle cx="43.6" cy="480.9" r="3.55"/><circle cx="44.2" cy="481.5" r="3.55"/><circle cx="44.8" cy="481.4" r="3.55"/><circle cx="45.4" cy="481.3" r="3.55"/><circle cx="46" cy="481.3" r="3.55"/><circle cx="46.6" cy="481.4" r="3.55"/><circle cx="47.2" cy="480.8" r="3.55"/><circle cx="47.8" cy="481.2" r="3.55"/><circle cx="48.4" cy="480.9" r="3.55"/><circle cx="49" cy="481.7" r="3.55"/><circle cx="49.6" cy="480.8" r="3.55"/><circle cx="50.2" cy="481.7" r="3.55"/><circle cx="50.8" cy="480.9" r="3.55"/><circle cx="51.4" cy="481.6" r="3.55"/><circle cx="52" cy="481.2" r="3.55"/><circle cx="52.6" cy="481.3" r="3.55"/><circle cx="53.2" cy="481.8" r="3.55"/><circle cx="53.8" cy="480.9" r="3.55"/><circle cx="54.4" cy="481" r="3.55"/><circle cx="55" cy="482" r="3.55"/><circle cx="55.6" cy="481.4" r="3.55"/><circle cx="56.2" cy="480.9" r="3.55"/><circle cx="56.8" cy="481.9" r="3.55"/><circle cx="57.4" cy="481.8" r="3.55"/><circle cx="58" cy="480.8" r="3.55"/><circle cx="58.6" cy="481.1" r="3.55"/><circle cx="59.2" cy="480.7" r="3.55"/><circle cx="59.8" cy="480.8" r="3.55"/><circle cx="60.4" cy="481.1" r="3.55"/><circle cx="61" cy="480.5" r="3.55"/><circle cx="61.6" cy="481.1" r="3.55"/><circle cx="62.2" cy="480.3" r="3.55"/><circle cx="62.8" cy="480.4" r="3.55"/><circle cx="63.4" cy="481" r="3.55"/><circle cx="64" cy="480.5" r="3.55"/><circle cx="64.6" cy="480.5" r="3.55"/><circle cx="65.2" cy="480.6" r="3.55"/><circle cx="65.8" cy="480.4" r="3.55"/><circle cx="66.4" cy="480.2" r="3.55"/><circle cx="67" cy="479.8" r="3.55"/><circle cx="67.6" cy="480.5" r="3.55"/><circle cx="68.2" cy="480.7" r="3.55"/><circle cx="68.8" cy="480.6" r="3.55"/><circle cx="69.4" cy="480.2" r="3.55"/><circle cx="70" cy="479.8" r="3.55"/><circle cx="70.6" cy="479.8" r="3.55"/><circle cx="71.2" cy="480.1" r="3.55"/><circle cx="71.8" cy="480.1" r="3.55"/><circle cx="72.4" cy="479.4" r="3.55"/><circle cx="73" cy="479.5" r="3.55"/><circle cx="73.6" cy="479.6" r="3.55"/><circle cx="74.2" cy="479.7" r="3.55"/><circle cx="74.8" cy="480" r="3.55"/><circle cx="75.4" cy="479.6" r="3.55"/><circle cx="76" cy="479.1" r="3.55"/><circle cx="76.6" cy="479.9" r="3.55"/><circle cx="77.2" cy="479.4" r="3.55"/><circle cx="77.8" cy="479.5" r="3.55"/><circle cx="78.4" cy="479.1" r="3.55"/><circle cx="79" cy="479.3" r="3.55"/><circle cx="79.6" cy="479.2" r="3.55"/><circle cx="80.2" cy="479.6" r="3.55"/><circle cx="80.8" cy="478.8" r="3.55"/><circle cx="81.4" cy="479.3" r="3.55"/><circle cx="82" cy="478.8" r="3.55"/><circle cx="82.6" cy="479.4" r="3.55"/><circle cx="83.2" cy="478.6" r="3.55"/><circle cx="83.8" cy="478.8" r="3.55"/><circle cx="84.4" cy="478.9" r="3.55"/><circle cx="85" cy="479.2" r="3.55"/><circle cx="85.6" cy="478.5" r="3.55"/><circle cx="86.2" cy="478.9" r="3.55"/><circle cx="86.8" cy="478.6" r="3.55"/><circle cx="87.4" cy="478.6" r="3.55"/><circle cx="88" cy="478.8" r="3.55"/><circle cx="88.6" cy="479.3" r="3.55"/><circle cx="89.2" cy="478.7" r="3.55"/><circle cx="89.8" cy="479.2" r="3.55"/><circle cx="90.4" cy="478.3" r="3.55"/><circle cx="91" cy="479.1" r="3.55"/><circle cx="91.6" cy="478.4" r="3.55"/><circle cx="92.2" cy="478.2" r="3.55"/><circle cx="92.8" cy="478.8" r="3.55"/><circle cx="93.4" cy="478.9" r="3.55"/><circle cx="94" cy="477.9" r="3.55"/><circle cx="94.6" cy="478.1" r="3.55"/><circle cx="95.2" cy="478.6" r="3.55"/><circle cx="95.8" cy="478.1" r="3.55"/><circle cx="96.4" cy="478" r="3.55"/><circle cx="97" cy="477.7" r="3.55"/><circle cx="97.6" cy="477.7" r="3.55"/><circle cx="98.2" cy="478.3" r="3.55"/><circle cx="98.8" cy="478.6" r="3.55"/><circle cx="99.4" cy="478.6" r="3.55"/><circle cx="100" cy="478" r="3.55"/><circle cx="100.6" cy="477.4" r="3.55"/><circle cx="101.2" cy="477.7" r="3.55"/><circle cx="101.8" cy="478.2" r="3.55"/><circle cx="102.4" cy="478.2" r="3.55"/><circle cx="103" cy="478" r="3.55"/><circle cx="103.6" cy="477.5" r="3.55"/><circle cx="104.2" cy="477.8" r="3.55"/><circle cx="104.8" cy="477.7" r="3.55"/><circle cx="105.4" cy="477.9" r="3.55"/><circle cx="106" cy="477.4" r="3.55"/><circle cx="106.6" cy="478.2" r="3.55"/><circle cx="107.2" cy="478.1" r="3.55"/><circle cx="107.8" cy="477.2" r="3.55"/><circle cx="108.4" cy="477.4" r="3.55"/><circle cx="109" cy="478" r="3.55"/><circle cx="109.6" cy="477.3" r="3.55"/><circle cx="110.2" cy="478" r="3.55"/><circle cx="110.8" cy="477.6" r="3.55"/><circle cx="111.4" cy="477.8" r="3.55"/><circle cx="112" cy="477.9" r="3.55"/><circle cx="112.6" cy="477.4" r="3.55"/><circle cx="113.2" cy="477.5" r="3.55"/><circle cx="113.8" cy="477.5" r="3.55"/><circle cx="114.4" cy="478" r="3.55"/><circle cx="115" cy="478.1" r="3.55"/><circle cx="115.6" cy="477.5" r="3.55"/><circle cx="116.2" cy="478.4" r="3.55"/><circle cx="116.8" cy="477.9" r="3.55"/><circle cx="117.4" cy="477.8" r="3.55"/><circle cx="118" cy="478" r="3.55"/><circle cx="118.6" cy="478.7" r="3.55"/><circle cx="119.2" cy="478.3" r="3.55"/><circle cx="119.8" cy="478.4" r="3.55"/><circle cx="120.4" cy="478.7" r="3.55"/><circle cx="121" cy="478.8" r="3.55"/><circle cx="121.6" cy="478.7" r="3.55"/><circle cx="122.2" cy="478.3" r="3.55"/><circle cx="122.8" cy="478.6" r="3.55"/><circle cx="123.4" cy="478.9" r="3.55"/><circle cx="124" cy="478.9" r="3.55"/><circle cx="124.6" cy="478.7" r="3.55"/><circle cx="125.2" cy="478.5" r="3.55"/><circle cx="125.8" cy="478.5" r="3.55"/><circle cx="126.4" cy="479" r="3.55"/><circle cx="127" cy="478.8" r="3.55"/><circle cx="127.6" cy="478.3" r="3.55"/><circle cx="128.2" cy="479.1" r="3.55"/><circle cx="128.8" cy="479.4" r="3.55"/><circle cx="129.4" cy="479.3" r="3.55"/><circle cx="130" cy="479.4" r="3.55"/><circle cx="130.6" cy="479.5" r="3.55"/><circle cx="131.2" cy="479.1" r="3.55"/><circle cx="131.8" cy="479.4" r="3.55"/><circle cx="132.4" cy="478.9" r="3.55"/><circle cx="133" cy="478.7" r="3.55"/><circle cx="133.6" cy="479" r="3.55"/><circle cx="134.2" cy="478.9" r="3.55"/><circle cx="134.8" cy="479.6" r="3.55"/><circle cx="135.4" cy="479.4" r="3.55"/><circle cx="136" cy="479.2" r="3.55"/><circle cx="136.6" cy="479.4" r="3.55"/><circle cx="137.2" cy="478.8" r="3.55"/><circle cx="137.8" cy="479.3" r="3.55"/><circle cx="138.4" cy="479.5" r="3.55"/><circle cx="139" cy="479.2" r="3.55"/><circle cx="139.6" cy="479" r="3.55"/><circle cx="140.2" cy="479.2" r="3.55"/><circle cx="140.8" cy="479.2" r="3.55"/><circle cx="141.4" cy="479.6" r="3.55"/><circle cx="142" cy="479" r="3.55"/><circle cx="142.6" cy="479" r="3.55"/><circle cx="143.2" cy="479.2" r="3.55"/><circle cx="143.8" cy="479.7" r="3.55"/><circle cx="144.4" cy="479.8" r="3.55"/><circle cx="145" cy="479.7" r="3.55"/><circle cx="145.6" cy="480" r="3.55"/><circle cx="146.2" cy="479.4" r="3.55"/><circle cx="146.8" cy="479" r="3.55"/><circle cx="147.4" cy="479.6" r="3.55"/><circle cx="148" cy="479.5" r="3.55"/><circle cx="148.6" cy="479.3" r="3.55"/><circle cx="149.2" cy="479.8" r="3.55"/><circle cx="149.8" cy="479.5" r="3.55"/><circle cx="150.4" cy="479.4" r="3.55"/><circle cx="151" cy="479.5" r="3.55"/><circle cx="151.6" cy="480.2" r="3.55"/><circle cx="152.2" cy="479.2" r="3.55"/><circle cx="152.8" cy="479.6" r="3.55"/><circle cx="153.4" cy="479.5" r="3.55"/><circle cx="154" cy="479.5" r="3.55"/><circle cx="154.6" cy="479.7" r="3.55"/><circle cx="155.2" cy="479.5" r="3.55"/><circle cx="155.8" cy="480.3" r="3.55"/><circle cx="156.4" cy="479.9" r="3.55"/><circle cx="157" cy="480.1" r="3.55"/><circle cx="157.6" cy="479.5" r="3.55"/><circle cx="158.2" cy="479.9" r="3.55"/><circle cx="158.8" cy="480.1" r="3.55"/><circle cx="159.4" cy="480.4" r="3.55"/><circle cx="160" cy="479.7" r="3.55"/><circle cx="160.6" cy="480" r="3.55"/><circle cx="161.2" cy="480.4" r="3.55"/><circle cx="161.8" cy="480.4" r="3.55"/><circle cx="162.4" cy="479.8" r="3.55"/><circle cx="163" cy="480.1" r="3.55"/><circle cx="163.6" cy="480.4" r="3.55"/><circle cx="164.2" cy="480" r="3.55"/><circle cx="164.8" cy="480.3" r="3.55"/><circle cx="165.4" cy="480.3" r="3.55"/><circle cx="166" cy="480.7" r="3.55"/><circle cx="166.6" cy="480.2" r="3.55"/><circle cx="167.2" cy="480.4" r="3.55"/><circle cx="167.8" cy="480" r="3.55"/><circle cx="168.4" cy="480.5" r="3.55"/><circle cx="169" cy="480" r="3.55"/><circle cx="169.6" cy="480.2" r="3.55"/><circle cx="170.2" cy="480.1" r="3.55"/><circle cx="170.8" cy="480.1" r="3.55"/><circle cx="171.4" cy="479.9" r="3.55"/><circle cx="172" cy="480" r="3.55"/><circle cx="172.6" cy="480.4" r="3.55"/><circle cx="173.2" cy="480.1" r="3.55"/><circle cx="173.8" cy="479.8" r="3.55"/><circle cx="174.4" cy="480.7" r="3.55"/><circle cx="175" cy="480.1" r="3.55"/><circle cx="175.6" cy="480.9" r="3.55"/><circle cx="176.2" cy="480.5" r="3.55"/><circle cx="176.8" cy="480.3" r="3.55"/><circle cx="177.4" cy="480.8" r="3.55"/><circle cx="178" cy="480.9" r="3.55"/><circle cx="178.6" cy="480.3" r="3.55"/><circle cx="179.2" cy="480.1" r="3.55"/><circle cx="179.8" cy="480.7" r="3.55"/><circle cx="180.4" cy="480.9" r="3.55"/><circle cx="181" cy="480.6" r="3.55"/><circle cx="181.6" cy="480.8" r="3.55"/><circle cx="182.2" cy="480.3" r="3.55"/><circle cx="182.8" cy="480.5" r="3.55"/><circle cx="183.4" cy="480.1" r="3.55"/><circle cx="184" cy="480.3" r="3.55"/><circle cx="184.6" cy="480.2" r="3.55"/><circle cx="185.2" cy="480.2" r="3.55"/><circle cx="185.8" cy="480.2" r="3.55"/><circle cx="186.4" cy="480.6" r="3.55"/><circle cx="187" cy="479.9" r="3.55"/><circle cx="187.6" cy="479.9" r="3.55"/><circle cx="188.2" cy="479.9" r="3.55"/><circle cx="188.8" cy="480.7" r="3.55"/><circle cx="189.4" cy="480.2" r="3.55"/><circle cx="190" cy="479.6" r="3.55"/><circle cx="190.6" cy="480.5" r="3.55"/><circle cx="191.2" cy="480.5" r="3.55"/><circle cx="191.8" cy="480.4" r="3.55"/><circle cx="192.4" cy="479.9" r="3.55"/><circle cx="193" cy="480.3" r="3.55"/><circle cx="193.6" cy="479.8" r="3.55"/><circle cx="194.2" cy="479.6" r="3.55"/><circle cx="194.8" cy="480.4" r="3.55"/><circle cx="195.4" cy="480.3" r="3.55"/><circle cx="196" cy="479.6" r="3.55"/><circle cx="196.6" cy="480.3" r="3.55"/><circle cx="197.2" cy="479.3" r="3.55"/><circle cx="197.8" cy="479.6" r="3.55"/><circle cx="198.4" cy="479.3" r="3.55"/><circle cx="199" cy="479.4" r="3.55"/><circle cx="199.6" cy="479.4" r="3.55"/><circle cx="200.2" cy="480.1" r="3.55"/><circle cx="200.8" cy="479.6" r="3.55"/><circle cx="201.4" cy="479.5" r="3.55"/><circle cx="202" cy="479.5" r="3.55"/><circle cx="202.6" cy="479.7" r="3.55"/><circle cx="203.2" cy="480.3" r="3.55"/><circle cx="203.8" cy="480" r="3.55"/><circle cx="204.4" cy="479.5" r="3.55"/><circle cx="205" cy="480.1" r="3.55"/><circle cx="205.6" cy="480" r="3.55"/><circle cx="206.2" cy="479.9" r="3.55"/><circle cx="206.8" cy="480" r="3.55"/><circle cx="207.4" cy="480.2" r="3.55"/><circle cx="208" cy="480.3" r="3.55"/><circle cx="208.6" cy="480" r="3.55"/><circle cx="209.2" cy="480.2" r="3.55"/><circle cx="209.8" cy="480" r="3.55"/><circle cx="210.4" cy="480.2" r="3.55"/><circle cx="211" cy="480" r="3.55"/><circle cx="211.6" cy="480" r="3.55"/><circle cx="212.2" cy="480.1" r="3.55"/><circle cx="212.8" cy="480.4" r="3.55"/><circle cx="213.4" cy="479.9" r="3.55"/><circle cx="214" cy="480.6" r="3.55"/><circle cx="214.6" cy="480.2" r="3.55"/><circle cx="215.2" cy="480.6" r="3.55"/><circle cx="215.8" cy="480.4" r="3.55"/><circle cx="216.4" cy="480.7" r="3.55"/><circle cx="217" cy="480.4" r="3.55"/><circle cx="217.6" cy="480.2" r="3.55"/><circle cx="218.2" cy="480.1" r="3.55"/><circle cx="218.8" cy="480.4" r="3.55"/><circle cx="219.4" cy="480.6" r="3.55"/><circle cx="220" cy="480.7" r="3.55"/><circle cx="220.6" cy="479.9" r="3.55"/><circle cx="221.2" cy="479.8" r="3.55"/><circle cx="221.8" cy="479.9" r="3.55"/><circle cx="222.4" cy="479.9" r="3.55"/><circle cx="223" cy="479.9" r="3.55"/><circle cx="223.6" cy="479.8" r="3.55"/><circle cx="224.2" cy="480.1" r="3.55"/><circle cx="224.8" cy="480" r="3.55"/><circle cx="225.4" cy="480.6" r="3.55"/><circle cx="226" cy="480.6" r="3.55"/><circle cx="226.6" cy="481" r="3.55"/><circle cx="227.2" cy="481" r="3.55"/><circle cx="227.8" cy="480.7" r="3.55"/><circle cx="228.4" cy="481" r="3.55"/><circle cx="229" cy="480" r="3.55"/><circle cx="229.6" cy="480.2" r="3.55"/><circle cx="230.2" cy="481" r="3.55"/><circle cx="230.8" cy="480.5" r="3.55"/><circle cx="231.4" cy="480.2" r="3.55"/><circle cx="232" cy="480.9" r="3.55"/><circle cx="232.6" cy="480.5" r="3.55"/><circle cx="233.2" cy="480.7" r="3.55"/><circle cx="233.8" cy="480.4" r="3.55"/><circle cx="234.4" cy="480.3" r="3.55"/><circle cx="235" cy="480.2" r="3.55"/><circle cx="235.6" cy="480.8" r="3.55"/><circle cx="236.2" cy="481.2" r="3.55"/><circle cx="236.8" cy="481.2" r="3.55"/><circle cx="237.4" cy="481" r="3.55"/><circle cx="238" cy="481.2" r="3.55"/><circle cx="238.6" cy="480.6" r="3.55"/><circle cx="239.2" cy="480.5" r="3.55"/><circle cx="239.8" cy="481.2" r="3.55"/><circle cx="240.4" cy="480.9" r="3.55"/><circle cx="241" cy="481" r="3.55"/><circle cx="241.6" cy="480.3" r="3.55"/><circle cx="242.2" cy="480.5" r="3.55"/><circle cx="242.8" cy="480.8" r="3.55"/><circle cx="243.4" cy="481.1" r="3.55"/><circle cx="244" cy="481.2" r="3.55"/><circle cx="244.6" cy="481.2" r="3.55"/><circle cx="245.2" cy="480.7" r="3.55"/><circle cx="245.8" cy="480.8" r="3.55"/><circle cx="246.4" cy="481.3" r="3.55"/><circle cx="247" cy="481.5" r="3.55"/><circle cx="247.6" cy="480.9" r="3.55"/><circle cx="248.2" cy="480.6" r="3.55"/><circle cx="248.8" cy="481.1" r="3.55"/><circle cx="249.4" cy="481" r="3.55"/><circle cx="250" cy="480.8" r="3.55"/><circle cx="250.6" cy="480.7" r="3.55"/><circle cx="251.2" cy="481" r="3.55"/><circle cx="251.8" cy="481.2" r="3.55"/><circle cx="252.4" cy="480.7" r="3.55"/><circle cx="253" cy="481.2" r="3.55"/><circle cx="253.6" cy="481.7" r="3.55"/><circle cx="254.2" cy="481.5" r="3.55"/><circle cx="254.8" cy="481" r="3.55"/><circle cx="255.4" cy="481.3" r="3.55"/><circle cx="256" cy="481" r="3.55"/><circle cx="256.6" cy="481.7" r="3.55"/><circle cx="257.2" cy="481.6" r="3.55"/><circle cx="257.8" cy="481.2" r="3.55"/><circle cx="258.4" cy="481.6" r="3.55"/><circle cx="259" cy="481.7" r="3.55"/><circle cx="259.6" cy="481.7" r="3.55"/><circle cx="260.2" cy="481.5" r="3.55"/><circle cx="260.8" cy="481.5" r="3.55"/><circle cx="261.4" cy="481.6" r="3.55"/><circle cx="262" cy="482.3" r="3.55"/><circle cx="262.6" cy="481.7" r="3.55"/><circle cx="263.2" cy="481.9" r="3.55"/><circle cx="263.8" cy="481.9" r="3.55"/><circle cx="264.4" cy="481.6" r="3.55"/><circle cx="265" cy="481.9" r="3.55"/><circle cx="265.6" cy="481.7" r="3.55"/><circle cx="266.2" cy="481.9" r="3.55"/><circle cx="266.8" cy="482" r="3.55"/><circle cx="267.4" cy="482" r="3.55"/><circle cx="268" cy="482.7" r="3.55"/><circle cx="268.6" cy="482" r="3.55"/><circle cx="269.2" cy="482.1" r="3.55"/><circle cx="269.8" cy="482.5" r="3.55"/><circle cx="270.4" cy="482.2" r="3.55"/><circle cx="271" cy="482.4" r="3.55"/><circle cx="271.6" cy="482.6" r="3.55"/><circle cx="272.2" cy="482" r="3.55"/><circle cx="272.8" cy="482.7" r="3.55"/><circle cx="273.4" cy="482.1" r="3.55"/><circle cx="274" cy="482.3" r="3.55"/><circle cx="274.6" cy="483" r="3.55"/><circle cx="275.2" cy="483.2" r="3.55"/><circle cx="275.8" cy="482.9" r="3.55"/><circle cx="276.4" cy="482.4" r="3.55"/><circle cx="277" cy="482.7" r="3.55"/><circle cx="277.6" cy="482.6" r="3.55"/><circle cx="278.2" cy="483.3" r="3.55"/><circle cx="278.8" cy="482.6" r="3.55"/><circle cx="279.4" cy="482.6" r="3.55"/><circle cx="280" cy="483.2" r="3.55"/><circle cx="280.6" cy="483.1" r="3.55"/><circle cx="281.2" cy="483.1" r="3.55"/><circle cx="281.8" cy="482.9" r="3.55"/><circle cx="282.4" cy="483.4" r="3.55"/><circle cx="283" cy="482.9" r="3.55"/><circle cx="283.6" cy="483.4" r="3.55"/><circle cx="284.2" cy="482.8" r="3.55"/><circle cx="284.8" cy="482.8" r="3.55"/><circle cx="285.4" cy="482.7" r="3.55"/><circle cx="286" cy="483.1" r="3.55"/><circle cx="286.6" cy="483.1" r="3.55"/><circle cx="287.2" cy="482.5" r="3.55"/><circle cx="287.8" cy="482.8" r="3.55"/><circle cx="288.4" cy="483" r="3.55"/><circle cx="289" cy="482.8" r="3.55"/><circle cx="289.6" cy="482.9" r="3.55"/><circle cx="290.2" cy="482.9" r="3.55"/><circle cx="290.8" cy="483" r="3.55"/><circle cx="291.4" cy="482.6" r="3.55"/><circle cx="292" cy="482.5" r="3.55"/><circle cx="292.6" cy="482.2" r="3.55"/><circle cx="293.2" cy="483.1" r="3.55"/><circle cx="293.8" cy="483" r="3.55"/><circle cx="294.4" cy="482.5" r="3.55"/><circle cx="295" cy="483.1" r="3.55"/><circle cx="295.6" cy="483.1" r="3.55"/><circle cx="296.2" cy="482.2" r="3.55"/><circle cx="296.8" cy="483" r="3.55"/><circle cx="297.4" cy="482.5" r="3.55"/><circle cx="298" cy="482.3" r="3.55"/><circle cx="298.6" cy="482.3" r="3.55"/><circle cx="299.2" cy="482.4" r="3.55"/><circle cx="299.8" cy="482" r="3.55"/><circle cx="300.4" cy="482" r="3.55"/><circle cx="301" cy="482.1" r="3.55"/><circle cx="301.6" cy="482.3" r="3.55"/><circle cx="302.2" cy="482.2" r="3.55"/><circle cx="302.8" cy="482.1" r="3.55"/><circle cx="303.4" cy="482.9" r="3.55"/><circle cx="304" cy="482.4" r="3.55"/><circle cx="304.6" cy="482.5" r="3.55"/><circle cx="305.2" cy="482.7" r="3.55"/><circle cx="305.8" cy="483" r="3.55"/><circle cx="306.4" cy="482.2" r="3.55"/><circle cx="307" cy="482.3" r="3.55"/><circle cx="307.6" cy="483" r="3.55"/><circle cx="308.2" cy="483.1" r="3.55"/><circle cx="308.8" cy="483.1" r="3.55"/><circle cx="309.4" cy="482.6" r="3.55"/><circle cx="310" cy="482.5" r="3.55"/><circle cx="310.6" cy="482.3" r="3.55"/><circle cx="311.2" cy="483.1" r="3.55"/><circle cx="311.8" cy="482.9" r="3.55"/><circle cx="312.4" cy="482.7" r="3.55"/><circle cx="313" cy="483" r="3.55"/><circle cx="313.6" cy="482.4" r="3.55"/><circle cx="314.2" cy="482.7" r="3.55"/><circle cx="314.8" cy="483.1" r="3.55"/><circle cx="315.4" cy="482.3" r="3.55"/><circle cx="316" cy="482.8" r="3.55"/><circle cx="316.6" cy="482.4" r="3.55"/><circle cx="317.2" cy="483.1" r="3.55"/><circle cx="317.8" cy="483.1" r="3.55"/><circle cx="318.4" cy="482.9" r="3.55"/><circle cx="319" cy="482.7" r="3.55"/><circle cx="319.6" cy="482.2" r="3.55"/><circle cx="320.2" cy="482.7" r="3.55"/><circle cx="320.8" cy="482.6" r="3.55"/><circle cx="321.4" cy="482.7" r="3.55"/><circle cx="322" cy="482.3" r="3.55"/><circle cx="322.6" cy="483.2" r="3.55"/><circle cx="323.2" cy="482.8" r="3.55"/><circle cx="323.8" cy="482.9" r="3.55"/><circle cx="324.4" cy="483.2" r="3.55"/><circle cx="325" cy="483.2" r="3.55"/><circle cx="325.6" cy="482.9" r="3.55"/><circle cx="326.2" cy="482.9" r="3.55"/><circle cx="326.8" cy="483.2" r="3.55"/><circle cx="327.4" cy="482.7" r="3.55"/><circle cx="328" cy="483.3" r="3.55"/><circle cx="328.6" cy="482.3" r="3.55"/><circle cx="329.2" cy="483.2" r="3.55"/><circle cx="329.8" cy="482.9" r="3.55"/><circle cx="330.4" cy="483" r="3.55"/><circle cx="331" cy="483.4" r="3.55"/><circle cx="331.6" cy="482.6" r="3.55"/><circle cx="332.2" cy="482.8" r="3.55"/><circle cx="332.8" cy="483.2" r="3.55"/><circle cx="333.4" cy="483.2" r="3.55"/><circle cx="334" cy="483" r="3.55"/><circle cx="334.6" cy="483.2" r="3.55"/><circle cx="335.2" cy="483.1" r="3.55"/><circle cx="335.8" cy="483.4" r="3.55"/><circle cx="336.4" cy="483.1" r="3.55"/><circle cx="337" cy="482.8" r="3.55"/><circle cx="337.6" cy="482.7" r="3.55"/><circle cx="338.2" cy="482.5" r="3.55"/><circle cx="338.8" cy="482.6" r="3.55"/><circle cx="339.4" cy="482.5" r="3.55"/><circle cx="340" cy="483.5" r="3.55"/><circle cx="340.6" cy="482.6" r="3.55"/><circle cx="341.2" cy="483.1" r="3.55"/><circle cx="341.8" cy="482.6" r="3.55"/><circle cx="342.4" cy="483.6" r="3.55"/><circle cx="343" cy="483.1" r="3.55"/><circle cx="343.6" cy="482.7" r="3.55"/><circle cx="344.2" cy="483.5" r="3.55"/><circle cx="344.8" cy="483.5" r="3.55"/><circle cx="345.4" cy="483.7" r="3.55"/><circle cx="346" cy="482.8" r="3.55"/><circle cx="346.6" cy="483.1" r="3.55"/><circle cx="347.2" cy="483.4" r="3.55"/><circle cx="347.8" cy="483" r="3.55"/><circle cx="348.4" cy="483.3" r="3.55"/><circle cx="349" cy="483.4" r="3.55"/><circle cx="349.6" cy="483.5" r="3.55"/><circle cx="350.2" cy="483.6" r="3.55"/><circle cx="350.8" cy="483.5" r="3.55"/><circle cx="351.4" cy="483" r="3.55"/><circle cx="352" cy="483.6" r="3.55"/><circle cx="352.6" cy="483.2" r="3.55"/><circle cx="353.2" cy="483" r="3.55"/><circle cx="353.8" cy="482.8" r="3.55"/><circle cx="354.4" cy="483.5" r="3.55"/><circle cx="355" cy="483.2" r="3.55"/><circle cx="355.6" cy="482.9" r="3.55"/><circle cx="356.2" cy="483.4" r="3.55"/><circle cx="356.8" cy="483.3" r="3.55"/><circle cx="357.4" cy="483.2" r="3.55"/><circle cx="358" cy="483.5" r="3.55"/><circle cx="358.6" cy="483.5" r="3.55"/><circle cx="359.2" cy="483.5" r="3.55"/><circle cx="359.8" cy="484" r="3.55"/><circle cx="360.4" cy="484" r="3.55"/><circle cx="361" cy="483.3" r="3.55"/><circle cx="361.6" cy="483.9" r="3.55"/><circle cx="362.2" cy="483.4" r="3.55"/><circle cx="362.8" cy="484.1" r="3.55"/><circle cx="363.4" cy="483.1" r="3.55"/><circle cx="364" cy="483.4" r="3.55"/><circle cx="364.6" cy="484.1" r="3.55"/><circle cx="365.2" cy="483.8" r="3.55"/><circle cx="365.8" cy="483.9" r="3.55"/><circle cx="366.4" cy="483.3" r="3.55"/><circle cx="367" cy="483.3" r="3.55"/><circle cx="367.6" cy="484.2" r="3.55"/><circle cx="368.2" cy="483.2" r="3.55"/><circle cx="368.8" cy="483.4" r="3.55"/><circle cx="369.4" cy="483.7" r="3.55"/><circle cx="370" cy="484.1" r="3.55"/><circle cx="370.6" cy="484" r="3.55"/><circle cx="371.2" cy="484.3" r="3.55"/><circle cx="371.8" cy="484.1" r="3.55"/><circle cx="372.4" cy="483.7" r="3.55"/><circle cx="373" cy="484.3" r="3.55"/><circle cx="373.6" cy="483.6" r="3.55"/><circle cx="374.2" cy="483.4" r="3.55"/><circle cx="374.8" cy="484.4" r="3.55"/><circle cx="375.4" cy="484.3" r="3.55"/><circle cx="376" cy="484.1" r="3.55"/><circle cx="376.6" cy="483.9" r="3.55"/><circle cx="377.2" cy="483.6" r="3.55"/><circle cx="377.8" cy="483.6" r="3.55"/><circle cx="378.4" cy="483.5" r="3.55"/><circle cx="379" cy="483.5" r="3.55"/><circle cx="379.6" cy="484" r="3.55"/><circle cx="380.2" cy="484.4" r="3.55"/><circle cx="380.8" cy="484.5" r="3.55"/><circle cx="381.4" cy="484" r="3.55"/><circle cx="382" cy="484.2" r="3.55"/><circle cx="382.6" cy="484" r="3.55"/><circle cx="383.2" cy="484.3" r="3.55"/><circle cx="383.8" cy="484.2" r="3.55"/><circle cx="384.4" cy="484.5" r="3.55"/><circle cx="385" cy="484.4" r="3.55"/><circle cx="385.6" cy="484.2" r="3.55"/><circle cx="386.2" cy="484.1" r="3.55"/><circle cx="386.8" cy="483.6" r="3.55"/><circle cx="387.4" cy="484" r="3.55"/><circle cx="388" cy="483.9" r="3.55"/><circle cx="388.6" cy="483.6" r="3.55"/><circle cx="389.2" cy="483.7" r="3.55"/><circle cx="389.8" cy="483.9" r="3.55"/><circle cx="390.4" cy="483.6" r="3.55"/><circle cx="391" cy="484.1" r="3.55"/><circle cx="391.6" cy="483.8" r="3.55"/><circle cx="392.2" cy="484.5" r="3.55"/><circle cx="392.8" cy="484.2" r="3.55"/><circle cx="393.4" cy="484" r="3.55"/><circle cx="394" cy="483.9" r="3.55"/><circle cx="394.6" cy="483.9" r="3.55"/><circle cx="395.2" cy="483.7" r="3.55"/><circle cx="395.8" cy="484.5" r="3.55"/><circle cx="396.4" cy="484.5" r="3.55"/><circle cx="397" cy="484.2" r="3.55"/><circle cx="397.6" cy="484.2" r="3.55"/><circle cx="398.2" cy="483.6" r="3.55"/><circle cx="398.8" cy="484" r="3.55"/><circle cx="399.4" cy="483.6" r="3.55"/><circle cx="400" cy="483.8" r="3.55"/><circle cx="400.6" cy="484.1" r="3.55"/><circle cx="401.2" cy="483.6" r="3.55"/><circle cx="401.8" cy="483.7" r="3.55"/><circle cx="402.4" cy="484.3" r="3.55"/><circle cx="403" cy="484" r="3.55"/><circle cx="403.6" cy="484.4" r="3.55"/><circle cx="404.2" cy="483.6" r="3.55"/><circle cx="404.8" cy="483.5" r="3.55"/><circle cx="405.4" cy="484.5" r="3.55"/><circle cx="406" cy="484.1" r="3.55"/><circle cx="406.6" cy="484.2" r="3.55"/><circle cx="407.2" cy="484.1" r="3.55"/><circle cx="407.8" cy="483.6" r="3.55"/><circle cx="408.4" cy="484.5" r="3.55"/><circle cx="409" cy="484" r="3.55"/><circle cx="409.6" cy="484.5" r="3.55"/><circle cx="410.2" cy="483.6" r="3.55"/><circle cx="410.8" cy="483.8" r="3.55"/><circle cx="411.4" cy="484.1" r="3.55"/><circle cx="412" cy="483.7" r="3.55"/><circle cx="412.6" cy="484.4" r="3.55"/><circle cx="413.2" cy="483.7" r="3.55"/><circle cx="413.8" cy="483.5" r="3.55"/><circle cx="414.4" cy="483.6" r="3.55"/><circle cx="415" cy="483.7" r="3.55"/><circle cx="415.6" cy="484.5" r="3.55"/><circle cx="416.2" cy="484.4" r="3.55"/><circle cx="416.8" cy="484.2" r="3.55"/><circle cx="417.4" cy="483.9" r="3.55"/><circle cx="418" cy="483.5" r="3.55"/><circle cx="418.6" cy="484.4" r="3.55"/><circle cx="419.2" cy="483.6" r="3.55"/><circle cx="419.8" cy="483.7" r="3.55"/><circle cx="420.4" cy="483.9" r="3.55"/><circle cx="421" cy="484.4" r="3.55"/><circle cx="421.6" cy="483.7" r="3.55"/><circle cx="422.2" cy="483.5" r="3.55"/><circle cx="422.8" cy="484.4" r="3.55"/><circle cx="423.4" cy="483.5" r="3.55"/><circle cx="424" cy="484.3" r="3.55"/><circle cx="424.6" cy="483.6" r="3.55"/><circle cx="425.2" cy="483.8" r="3.55"/><circle cx="425.8" cy="483.7" r="3.55"/><circle cx="426.4" cy="483.9" r="3.55"/><circle cx="427" cy="484.5" r="3.55"/><circle cx="427.6" cy="484.4" r="3.55"/><circle cx="428.2" cy="484" r="3.55"/><circle cx="428.8" cy="483.5" r="3.55"/><circle cx="429.4" cy="483.6" r="3.55"/><circle cx="430" cy="483.8" r="3.55"/><circle cx="430.6" cy="484.3" r="3.55"/><circle cx="431.2" cy="484.5" r="3.55"/><circle cx="431.8" cy="483.5" r="3.55"/><circle cx="432.4" cy="483.8" r="3.55"/><circle cx="433" cy="484.5" r="3.55"/><circle cx="433.6" cy="483.6" r="3.55"/><circle cx="434.2" cy="483.5" r="3.55"/><circle cx="434.8" cy="483.7" r="3.55"/><circle cx="435.4" cy="484.4" r="3.55"/><circle cx="436" cy="483.7" r="3.55"/><circle cx="436.6" cy="484.2" r="3.55"/><circle cx="437.2" cy="483.6" r="3.55"/><circle cx="437.8" cy="484.1" r="3.55"/><circle cx="438.4" cy="483.6" r="3.55"/><circle cx="439" cy="484" r="3.55"/><circle cx="439.6" cy="484.1" r="3.55"/><circle cx="440.2" cy="484.3" r="3.55"/><circle cx="440.8" cy="483.8" r="3.55"/><circle cx="441.4" cy="484.3" r="3.55"/><circle cx="442" cy="483.7" r="3.55"/><circle cx="442.6" cy="484.2" r="3.55"/><circle cx="443.2" cy="484.2" r="3.55"/><circle cx="443.8" cy="484.2" r="3.55"/><circle cx="444.4" cy="483.2" r="3.55"/><circle cx="445" cy="483.4" r="3.55"/><circle cx="445.6" cy="483.8" r="3.55"/><circle cx="446.2" cy="484" r="3.55"/><circle cx="446.8" cy="483.3" r="3.55"/><circle cx="447.4" cy="483.8" r="3.55"/><circle cx="448" cy="483.5" r="3.55"/><circle cx="448.6" cy="482.9" r="3.55"/><circle cx="449.2" cy="483" r="3.55"/><circle cx="449.8" cy="482.9" r="3.55"/><circle cx="450.4" cy="483.1" r="3.55"/><circle cx="451" cy="484" r="3.55"/><circle cx="451.6" cy="483.8" r="3.55"/><circle cx="452.2" cy="484" r="3.55"/><circle cx="452.8" cy="484.2" r="3.55"/><circle cx="453.4" cy="483.6" r="3.55"/><circle cx="454" cy="484" r="3.55"/><circle cx="454.6" cy="484.1" r="3.55"/><circle cx="455.2" cy="484.2" r="3.55"/><circle cx="455.8" cy="483.6" r="3.55"/><circle cx="456.4" cy="484.5" r="3.55"/><circle cx="457" cy="483.8" r="3.55"/><circle cx="457.6" cy="484.2" r="3.55"/><circle cx="458.2" cy="484.5" r="3.55"/><circle cx="458.8" cy="484.6" r="3.55"/><circle cx="459.4" cy="484.8" r="3.55"/><circle cx="460" cy="484.3" r="3.55"/><circle cx="460.6" cy="484.3" r="3.55"/><circle cx="461.2" cy="484.8" r="3.55"/><circle cx="461.8" cy="484.2" r="3.55"/><circle cx="462.4" cy="485.1" r="3.55"/><circle cx="463" cy="484.6" r="3.55"/><circle cx="463.6" cy="484.7" r="3.55"/><circle cx="464.2" cy="484.7" r="3.55"/><circle cx="464.8" cy="485.2" r="3.55"/><circle cx="465.4" cy="484.7" r="3.55"/><circle cx="466" cy="484.8" r="3.55"/><circle cx="466.6" cy="484.8" r="3.55"/><circle cx="467.2" cy="484.9" r="3.55"/><circle cx="467.8" cy="485.6" r="3.55"/><circle cx="468.4" cy="486.1" r="3.55"/><circle cx="469" cy="485.1" r="3.55"/><circle cx="469.6" cy="485.7" r="3.55"/><circle cx="470.2" cy="485.7" r="3.55"/><circle cx="470.8" cy="485.7" r="3.55"/><circle cx="471.4" cy="485.9" r="3.55"/><circle cx="472" cy="485.7" r="3.55"/><circle cx="472.6" cy="486.1" r="3.55"/><circle cx="473.2" cy="486.1" r="3.55"/><circle cx="473.8" cy="485.9" r="3.55"/><circle cx="474.4" cy="486.1" r="3.55"/><circle cx="475" cy="487.1" r="3.55"/><circle cx="475.6" cy="486.8" r="3.55"/><circle cx="476.2" cy="487.1" r="3.55"/><circle cx="476.8" cy="486.9" r="3.55"/><circle cx="477.4" cy="486.8" r="3.55"/><circle cx="478" cy="486.2" r="3.55"/><circle cx="478.6" cy="486" r="3.55"/><circle cx="479.2" cy="487" r="3.55"/><circle cx="479.8" cy="486.6" r="3.55"/><circle cx="480.4" cy="486.6" r="3.55"/><circle cx="481" cy="486" r="3.55"/><circle cx="481.6" cy="486.7" r="3.55"/><circle cx="482.2" cy="486.4" r="3.55"/><circle cx="482.8" cy="485.8" r="3.55"/><circle cx="483.4" cy="485.9" r="3.55"/><circle cx="484" cy="486.8" r="3.55"/><circle cx="484.6" cy="486.4" r="3.55"/><circle cx="485.2" cy="485.7" r="3.55"/><circle cx="485.8" cy="485.7" r="3.55"/><circle cx="486.4" cy="486.4" r="3.55"/><circle cx="487" cy="486" r="3.55"/><circle cx="487.6" cy="486.1" r="3.55"/><circle cx="488.2" cy="485.7" r="3.55"/><circle cx="488.8" cy="485.7" r="3.55"/><circle cx="489.4" cy="486" r="3.55"/><circle cx="490" cy="485.9" r="3.55"/><circle cx="490.6" cy="485.6" r="3.55"/><circle cx="491.2" cy="485.6" r="3.55"/><circle cx="491.8" cy="485.9" r="3.55"/><circle cx="492.4" cy="485.5" r="3.55"/><circle cx="493" cy="485.4" r="3.55"/><circle cx="493.6" cy="485.8" r="3.55"/><circle cx="494.2" cy="485.3" r="3.55"/><circle cx="494.8" cy="486" r="3.55"/><circle cx="495.4" cy="486" r="3.55"/><circle cx="496" cy="485.9" r="3.55"/><circle cx="496.6" cy="486.2" r="3.55"/><circle cx="497.2" cy="485.3" r="3.55"/><circle cx="497.8" cy="485.5" r="3.55"/><circle cx="498.4" cy="485.5" r="3.55"/><circle cx="499" cy="485.1" r="3.55"/><circle cx="499.6" cy="485.9" r="3.55"/><circle cx="500.2" cy="485" r="3.55"/><circle cx="500.8" cy="486" r="3.55"/><circle cx="501.4" cy="485.7" r="3.55"/><circle cx="502" cy="486" r="3.55"/><circle cx="502.6" cy="484.9" r="3.55"/><circle cx="503.2" cy="485.8" r="3.55"/><circle cx="503.8" cy="485.9" r="3.55"/><circle cx="504.4" cy="485.6" r="3.55"/><circle cx="505" cy="485.4" r="3.55"/><circle cx="505.6" cy="485.5" r="3.55"/><circle cx="506.2" cy="485.3" r="3.55"/><circle cx="506.8" cy="485.8" r="3.55"/><circle cx="507.4" cy="485.5" r="3.55"/><circle cx="508" cy="485.5" r="3.55"/><circle cx="508.6" cy="485.3" r="3.55"/><circle cx="509.2" cy="485.6" r="3.55"/><circle cx="509.8" cy="485.6" r="3.55"/><circle cx="510.4" cy="486" r="3.55"/><circle cx="511" cy="485.8" r="3.55"/><circle cx="511.6" cy="485.3" r="3.55"/><circle cx="512.2" cy="485.8" r="3.55"/><circle cx="512.8" cy="485.3" r="3.55"/><circle cx="513.4" cy="485.6" r="3.55"/><circle cx="514" cy="485.6" r="3.55"/><circle cx="514.6" cy="485.9" r="3.55"/><circle cx="515.2" cy="485.2" r="3.55"/><circle cx="515.8" cy="485.3" r="3.55"/><circle cx="516.4" cy="485.3" r="3.55"/><circle cx="517" cy="485.9" r="3.55"/><circle cx="517.6" cy="485.4" r="3.55"/><circle cx="518.2" cy="485.8" r="3.55"/><circle cx="518.8" cy="486.2" r="3.55"/><circle cx="519.4" cy="485.7" r="3.55"/><circle cx="520" cy="485.5" r="3.55"/><circle cx="520.6" cy="486" r="3.55"/><circle cx="521.2" cy="485.8" r="3.55"/><circle cx="521.8" cy="485.8" r="3.55"/><circle cx="522.4" cy="485.6" r="3.55"/><circle cx="523" cy="486.1" r="3.55"/><circle cx="523.6" cy="485.8" r="3.55"/><circle cx="524.2" cy="486.5" r="3.55"/><circle cx="524.8" cy="486" r="3.55"/><circle cx="525.4" cy="486.2" r="3.55"/><circle cx="526" cy="486.5" r="3.55"/><circle cx="526.6" cy="486.6" r="3.55"/><circle cx="527.2" cy="485.5" r="3.55"/><circle cx="527.8" cy="486.6" r="3.55"/><circle cx="528.4" cy="485.7" r="3.55"/><circle cx="529" cy="486.6" r="3.55"/><circle cx="529.6" cy="486.5" r="3.55"/><circle cx="530.2" cy="485.9" r="3.55"/><circle cx="530.8" cy="486.4" r="3.55"/><circle cx="531.4" cy="486.3" r="3.55"/><circle cx="532" cy="486.2" r="3.55"/><circle cx="532.6" cy="486.4" r="3.55"/><circle cx="533.2" cy="486.2" r="3.55"/><circle cx="533.8" cy="486.4" r="3.55"/><circle cx="534.4" cy="486.5" r="3.55"/><circle cx="535" cy="485.8" r="3.55"/><circle cx="535.6" cy="486.5" r="3.55"/><circle cx="536.2" cy="486.6" r="3.55"/><circle cx="536.8" cy="486.8" r="3.55"/><circle cx="537.4" cy="486.4" r="3.55"/><circle cx="538" cy="486.4" r="3.55"/><circle cx="538.6" cy="486" r="3.55"/><circle cx="539.2" cy="486.1" r="3.55"/><circle cx="539.8" cy="486.9" r="3.55"/><circle cx="540.4" cy="486" r="3.55"/><circle cx="541" cy="486.9" r="3.55"/><circle cx="541.6" cy="486.1" r="3.55"/><circle cx="542.2" cy="486.4" r="3.55"/><circle cx="542.8" cy="486.7" r="3.55"/><circle cx="543.4" cy="486" r="3.55"/><circle cx="544" cy="486.5" r="3.55"/><circle cx="544.6" cy="486.9" r="3.55"/><circle cx="545.2" cy="486.4" r="3.55"/><circle cx="545.8" cy="486.1" r="3.55"/><circle cx="546.4" cy="485.9" r="3.55"/><circle cx="547" cy="486.8" r="3.55"/><circle cx="547.6" cy="485.8" r="3.55"/><circle cx="548.2" cy="486.3" r="3.55"/><circle cx="548.8" cy="486.2" r="3.55"/><circle cx="549.4" cy="485.8" r="3.55"/><circle cx="550" cy="486" r="3.55"/><circle cx="550.6" cy="486" r="3.55"/><circle cx="551.2" cy="485.4" r="3.55"/><circle cx="551.8" cy="485.4" r="3.55"/><circle cx="552.4" cy="486" r="3.55"/><circle cx="553" cy="485.2" r="3.55"/><circle cx="553.6" cy="485.4" r="3.55"/><circle cx="554.2" cy="485.3" r="3.55"/><circle cx="554.8" cy="485.5" r="3.55"/><circle cx="555.4" cy="485.5" r="3.55"/><circle cx="556" cy="485.4" r="3.55"/><circle cx="556.6" cy="485.1" r="3.55"/><circle cx="557.2" cy="484.9" r="3.55"/><circle cx="557.8" cy="484.4" r="3.55"/><circle cx="558.4" cy="484.8" r="3.55"/><circle cx="559" cy="484.6" r="3.55"/><circle cx="559.6" cy="484.8" r="3.55"/><circle cx="560.2" cy="484.4" r="3.55"/><circle cx="560.8" cy="484.2" r="3.55"/><circle cx="561.4" cy="484.6" r="3.55"/><circle cx="562" cy="485.2" r="3.55"/><circle cx="562.6" cy="484.9" r="3.55"/><circle cx="563.2" cy="485.2" r="3.55"/><circle cx="563.8" cy="484.6" r="3.55"/><circle cx="564.4" cy="484.9" r="3.55"/><circle cx="565" cy="485" r="3.55"/><circle cx="565.6" cy="485.3" r="3.55"/><circle cx="566.2" cy="485" r="3.55"/><circle cx="566.8" cy="486" r="3.55"/><circle cx="567.4" cy="485.4" r="3.55"/><circle cx="568" cy="485.2" r="3.55"/><circle cx="568.6" cy="485.5" r="3.55"/><circle cx="569.2" cy="485.9" r="3.55"/><circle cx="569.8" cy="486.1" r="3.55"/><circle cx="570.4" cy="486.4" r="3.55"/><circle cx="571" cy="485.6" r="3.55"/><circle cx="571.6" cy="486.6" r="3.55"/><circle cx="572.2" cy="486.6" r="3.55"/><circle cx="572.8" cy="486.2" r="3.55"/><circle cx="573.4" cy="486.4" r="3.55"/><circle cx="574" cy="486.1" r="3.55"/><circle cx="574.6" cy="486" r="3.55"/><circle cx="575.2" cy="485.9" r="3.55"/><circle cx="575.8" cy="487" r="3.55"/><circle cx="576.4" cy="486.9" r="3.55"/><circle cx="577" cy="486.5" r="3.55"/><circle cx="577.6" cy="486.7" r="3.55"/><circle cx="578.2" cy="486.6" r="3.55"/><circle cx="578.8" cy="486.9" r="3.55"/><circle cx="579.4" cy="486.3" r="3.55"/><circle cx="580" cy="487.1" r="3.55"/><circle cx="580.6" cy="486.5" r="3.55"/><circle cx="581.2" cy="486.9" r="3.55"/><circle cx="581.8" cy="487" r="3.55"/><circle cx="582.4" cy="487.3" r="3.55"/><circle cx="583" cy="487" r="3.55"/><circle cx="583.6" cy="486.6" r="3.55"/><circle cx="584.2" cy="487.3" r="3.55"/><circle cx="584.8" cy="486.8" r="3.55"/><circle cx="585.4" cy="487.1" r="3.55"/><circle cx="586" cy="487.4" r="3.55"/><circle cx="586.6" cy="487.6" r="3.55"/><circle cx="587.2" cy="486.6" r="3.55"/><circle cx="587.8" cy="487" r="3.55"/><circle cx="588.4" cy="486.9" r="3.55"/><circle cx="589" cy="487.5" r="3.55"/><circle cx="589.6" cy="487" r="3.55"/><circle cx="590.2" cy="487.6" r="3.55"/><circle cx="590.8" cy="487.5" r="3.55"/><circle cx="591.4" cy="487.1" r="3.55"/><circle cx="592" cy="487.5" r="3.55"/><circle cx="592.6" cy="487.5" r="3.55"/><circle cx="593.2" cy="486.9" r="3.55"/><circle cx="593.8" cy="487.1" r="3.55"/><circle cx="594.4" cy="486.9" r="3.55"/><circle cx="595" cy="487.7" r="3.55"/><circle cx="595.6" cy="487.3" r="3.55"/><circle cx="596.2" cy="487.2" r="3.55"/><circle cx="596.8" cy="487.7" r="3.55"/><circle cx="597.4" cy="488" r="3.55"/><circle cx="598" cy="487.1" r="3.55"/><circle cx="598.6" cy="487.7" r="3.55"/><circle cx="599.2" cy="487.2" r="3.55"/><circle cx="599.8" cy="487.9" r="3.55"/><circle cx="600.4" cy="487.8" r="3.55"/><circle cx="601" cy="487.9" r="3.55"/><circle cx="601.6" cy="487.7" r="3.55"/><circle cx="602.2" cy="487.2" r="3.55"/><circle cx="602.8" cy="488" r="3.55"/><circle cx="603.4" cy="487.2" r="3.55"/><circle cx="604" cy="487.8" r="3.55"/><circle cx="604.6" cy="488.2" r="3.55"/><circle cx="605.2" cy="487.5" r="3.55"/><circle cx="605.8" cy="487.7" r="3.55"/><circle cx="606.4" cy="488" r="3.55"/><circle cx="607" cy="488" r="3.55"/><circle cx="607.6" cy="487.6" r="3.55"/><circle cx="608.2" cy="487.8" r="3.55"/><circle cx="608.8" cy="488.3" r="3.55"/><circle cx="609.4" cy="488.1" r="3.55"/><circle cx="610" cy="487.6" r="3.55"/><circle cx="610.6" cy="488.1" r="3.55"/><circle cx="611.2" cy="488.4" r="3.55"/><circle cx="611.8" cy="488.1" r="3.55"/><circle cx="612.4" cy="488.4" r="3.55"/><circle cx="613" cy="487.8" r="3.55"/><circle cx="613.6" cy="487.8" r="3.55"/><circle cx="614.2" cy="488.5" r="3.55"/><circle cx="614.8" cy="487.8" r="3.55"/><circle cx="615.4" cy="487.7" r="3.55"/><circle cx="616" cy="487.8" r="3.55"/><circle cx="616.6" cy="488.6" r="3.55"/><circle cx="617.2" cy="488.6" r="3.55"/><circle cx="617.8" cy="487.9" r="3.55"/><circle cx="618.4" cy="488.5" r="3.55"/><circle cx="619" cy="487.9" r="3.55"/><circle cx="619.6" cy="488.4" r="3.55"/><circle cx="620.2" cy="487.8" r="3.55"/><circle cx="620.8" cy="488.4" r="3.55"/><circle cx="621.4" cy="488.6" r="3.55"/><circle cx="622" cy="488.3" r="3.55"/><circle cx="622.6" cy="488.5" r="3.55"/><circle cx="623.2" cy="487.9" r="3.55"/><circle cx="623.8" cy="488.3" r="3.55"/><circle cx="624.4" cy="488.7" r="3.55"/><circle cx="625" cy="488.2" r="3.55"/><circle cx="625.6" cy="488.7" r="3.55"/><circle cx="626.2" cy="488.5" r="3.55"/><circle cx="626.8" cy="488.7" r="3.55"/><circle cx="627.4" cy="488.7" r="3.55"/><circle cx="628" cy="488.2" r="3.55"/><circle cx="628.6" cy="488.8" r="3.55"/><circle cx="629.2" cy="488.8" r="3.55"/><circle cx="629.8" cy="488.4" r="3.55"/><circle cx="630.4" cy="488.7" r="3.55"/><circle cx="631" cy="488.4" r="3.55"/><circle cx="631.6" cy="488.6" r="3.55"/><circle cx="632.2" cy="488.3" r="3.55"/><circle cx="632.8" cy="488.5" r="3.55"/><circle cx="633.4" cy="488.3" r="3.55"/><circle cx="634" cy="488.9" r="3.55"/><circle cx="634.6" cy="488.6" r="3.55"/><circle cx="635.2" cy="488.7" r="3.55"/><circle cx="635.8" cy="488.6" r="3.55"/><circle cx="636.4" cy="488.5" r="3.55"/><circle cx="637" cy="488.2" r="3.55"/><circle cx="637.6" cy="488.7" r="3.55"/><circle cx="638.2" cy="488.5" r="3.55"/><circle cx="638.8" cy="488.4" r="3.55"/><circle cx="639.4" cy="488.6" r="3.55"/><circle cx="640" cy="488.2" r="3.55"/><circle cx="640.6" cy="488.8" r="3.55"/><circle cx="641.2" cy="488.9" r="3.55"/><circle cx="641.8" cy="488.5" r="3.55"/><circle cx="642.4" cy="488.3" r="3.55"/><circle cx="643" cy="489.2" r="3.55"/><circle cx="643.6" cy="488.8" r="3.55"/><circle cx="644.2" cy="488.5" r="3.55"/><circle cx="644.8" cy="488.2" r="3.55"/></g><g fill="url(#lb)" stroke="url(#lbs)" stroke-opacity="1" stroke-width="0.55"><circle cx="367.1" cy="393.5" r="3.6"/><circle cx="251" cy="393.8" r="3.6"/><circle cx="577.7" cy="395.1" r="3.6"/><circle cx="385.6" cy="395.6" r="3.6"/><circle cx="516.1" cy="394.6" r="3.6"/><circle cx="599.3" cy="393.5" r="3.6"/><circle cx="341.9" cy="393.9" r="3.6"/><circle cx="63.4" cy="394.4" r="3.6"/><circle cx="608.4" cy="393.8" r="3.6"/><circle cx="84.1" cy="393.6" r="3.6"/><circle cx="82.3" cy="393.9" r="3.6"/><circle cx="625.9" cy="394" r="3.6"/><circle cx="189.4" cy="393.9" r="3.6"/><circle cx="490" cy="393.7" r="3.6"/><circle cx="283.9" cy="393.3" r="3.6"/><circle cx="266.3" cy="393.8" r="3.6"/><circle cx="329.8" cy="393.8" r="3.6"/><circle cx="115.2" cy="394.4" r="3.6"/><circle cx="406.3" cy="394.1" r="3.6"/><circle cx="443.2" cy="393.8" r="3.6"/><circle cx="584.5" cy="393.7" r="3.6"/><circle cx="85" cy="396.2" r="3.6"/><circle cx="127.8" cy="394" r="3.6"/><circle cx="543.1" cy="395.4" r="3.6"/><circle cx="336.5" cy="394.3" r="3.6"/><circle cx="107.1" cy="394.2" r="3.6"/><circle cx="624.1" cy="394.9" r="3.6"/><circle cx="350" cy="394.2" r="3.6"/><circle cx="360.4" cy="395.9" r="3.6"/><circle cx="90.4" cy="393.3" r="3.6"/><circle cx="47.2" cy="393.4" r="3.6"/><circle cx="206.9" cy="395.1" r="3.6"/><circle cx="239.3" cy="394.6" r="3.6"/><circle cx="585.4" cy="394.2" r="3.6"/><circle cx="640.3" cy="394.4" r="3.6"/><circle cx="310.4" cy="393.4" r="3.6"/><circle cx="190.3" cy="395.1" r="3.6"/><circle cx="477.4" cy="394.4" r="3.6"/><circle cx="168.7" cy="394.4" r="3.6"/><circle cx="271.7" cy="395.3" r="3.6"/><circle cx="89.1" cy="397.2" r="3.6"/><circle cx="617.4" cy="398.1" r="3.6"/><circle cx="145.3" cy="396.5" r="3.6"/><circle cx="278.9" cy="395.3" r="3.6"/><circle cx="370.7" cy="394.7" r="3.6"/><circle cx="406.7" cy="396.6" r="3.6"/><circle cx="299.6" cy="394.6" r="3.6"/><circle cx="466.6" cy="393.7" r="3.6"/><circle cx="271.3" cy="394.5" r="3.6"/><circle cx="489.5" cy="393.4" r="3.6"/><circle cx="632.7" cy="394.4" r="3.6"/><circle cx="112.9" cy="394.4" r="3.6"/><circle cx="76.9" cy="395.1" r="3.6"/><circle cx="509.8" cy="393.7" r="3.6"/><circle cx="138.1" cy="393.5" r="3.6"/><circle cx="252.4" cy="395.3" r="3.6"/><circle cx="58.9" cy="394.4" r="3.6"/><circle cx="475.1" cy="395.9" r="3.6"/><circle cx="162.8" cy="396.9" r="3.6"/><circle cx="48.1" cy="394.5" r="3.6"/><circle cx="97.2" cy="395.5" r="3.6"/><circle cx="243.4" cy="396.9" r="3.6"/><circle cx="257.8" cy="394.5" r="3.6"/><circle cx="434.6" cy="394.2" r="3.6"/><circle cx="416.2" cy="393.9" r="3.6"/><circle cx="262.3" cy="398.4" r="3.6"/><circle cx="319.4" cy="395" r="3.6"/><circle cx="141.3" cy="396.8" r="3.6"/><circle cx="196.1" cy="394.6" r="3.6"/><circle cx="617.8" cy="397.2" r="3.6"/><circle cx="86.8" cy="394.3" r="3.6"/><circle cx="374.8" cy="396.9" r="3.6"/><circle cx="511.1" cy="395.6" r="3.6"/><circle cx="429.2" cy="396.7" r="3.6"/><circle cx="476" cy="394.3" r="3.6"/><circle cx="133.6" cy="395.7" r="3.6"/><circle cx="311.3" cy="393.5" r="3.6"/><circle cx="541.3" cy="397.7" r="3.6"/><circle cx="161" cy="396.2" r="3.6"/><circle cx="342.4" cy="394.5" r="3.6"/><circle cx="191.2" cy="393.4" r="3.6"/><circle cx="430.1" cy="394.7" r="3.6"/><circle cx="101.2" cy="394" r="3.6"/><circle cx="155.6" cy="394.6" r="3.6"/><circle cx="575.9" cy="394" r="3.6"/><circle cx="164.2" cy="394.1" r="3.6"/><circle cx="404" cy="395.8" r="3.6"/><circle cx="560.2" cy="395.3" r="3.6"/><circle cx="616.9" cy="395" r="3.6"/><circle cx="260" cy="395.8" r="3.6"/><circle cx="90.9" cy="396.1" r="3.6"/><circle cx="316.3" cy="394.6" r="3.6"/><circle cx="148.5" cy="394.2" r="3.6"/><circle cx="355.9" cy="394.9" r="3.6"/><circle cx="586.7" cy="393.9" r="3.6"/><circle cx="537.2" cy="393.7" r="3.6"/><circle cx="374.3" cy="394" r="3.6"/><circle cx="128.2" cy="393.7" r="3.6"/><circle cx="340.6" cy="395.8" r="3.6"/><circle cx="311.8" cy="394.7" r="3.6"/><circle cx="220.4" cy="394.2" r="3.6"/><circle cx="347.3" cy="394.2" r="3.6"/><circle cx="156.1" cy="393.8" r="3.6"/><circle cx="190.7" cy="394.6" r="3.6"/><circle cx="401.3" cy="393.3" r="3.6"/><circle cx="562" cy="393.4" r="3.6"/><circle cx="287.5" cy="394.5" r="3.6"/><circle cx="621" cy="395.8" r="3.6"/><circle cx="67.5" cy="396.6" r="3.6"/><circle cx="425.6" cy="393.5" r="3.6"/><circle cx="289.7" cy="394.2" r="3.6"/><circle cx="422.9" cy="394.1" r="3.6"/><circle cx="635.4" cy="396.4" r="3.6"/><circle cx="400" cy="393.5" r="3.6"/><circle cx="312.2" cy="396.1" r="3.6"/><circle cx="366.7" cy="396.8" r="3.6"/><circle cx="196.6" cy="393.8" r="3.6"/><circle cx="545.3" cy="395.8" r="3.6"/><circle cx="146.2" cy="394.9" r="3.6"/><circle cx="188.9" cy="394.4" r="3.6"/><circle cx="305.5" cy="395.9" r="3.6"/><circle cx="68.8" cy="393.7" r="3.6"/><circle cx="183.5" cy="395.1" r="3.6"/><circle cx="207.8" cy="394.2" r="3.6"/><circle cx="331.6" cy="394.3" r="3.6"/><circle cx="280.3" cy="395.5" r="3.6"/><circle cx="373" cy="396.1" r="3.6"/><circle cx="435.5" cy="398.2" r="3.6"/><circle cx="45.4" cy="395.8" r="3.6"/><circle cx="183.1" cy="394" r="3.6"/><circle cx="473.8" cy="397.5" r="3.6"/><circle cx="204.7" cy="394.6" r="3.6"/><circle cx="263.6" cy="394.3" r="3.6"/><circle cx="241.1" cy="393.8" r="3.6"/><circle cx="327.5" cy="394.2" r="3.6"/><circle cx="263.2" cy="397.2" r="3.6"/><circle cx="612.4" cy="394" r="3.6"/><circle cx="115.6" cy="393.3" r="3.6"/><circle cx="332.9" cy="395" r="3.6"/><circle cx="440" cy="395.4" r="3.6"/><circle cx="139" cy="396.1" r="3.6"/><circle cx="484.1" cy="394.1" r="3.6"/><circle cx="633.6" cy="395.6" r="3.6"/><circle cx="368.9" cy="393.9" r="3.6"/><circle cx="188" cy="394" r="3.6"/><circle cx="75.1" cy="394.5" r="3.6"/><circle cx="356.3" cy="395.7" r="3.6"/><circle cx="580.4" cy="398.2" r="3.6"/><circle cx="368" cy="394.8" r="3.6"/><circle cx="213.7" cy="394.1" r="3.6"/><circle cx="497.2" cy="395.8" r="3.6"/><circle cx="159.7" cy="393.4" r="3.6"/><circle cx="163.7" cy="399.5" r="3.6"/><circle cx="449.5" cy="393.7" r="3.6"/><circle cx="99.4" cy="395" r="3.6"/><circle cx="198.8" cy="394.8" r="3.6"/><circle cx="528.7" cy="394.3" r="3.6"/><circle cx="44.1" cy="394.4" r="3.6"/><circle cx="247.9" cy="394" r="3.6"/><circle cx="80.5" cy="394.7" r="3.6"/><circle cx="428.3" cy="396.2" r="3.6"/><circle cx="414.8" cy="395.1" r="3.6"/><circle cx="60.3" cy="394.8" r="3.6"/><circle cx="282.1" cy="395.6" r="3.6"/><circle cx="323.9" cy="393.4" r="3.6"/><circle cx="326.2" cy="393.9" r="3.6"/><circle cx="294.2" cy="397.2" r="3.6"/><circle cx="359.5" cy="395.5" r="3.6"/><circle cx="302.8" cy="396.8" r="3.6"/><circle cx="71.5" cy="396.8" r="3.6"/><circle cx="598.4" cy="394.8" r="3.6"/><circle cx="45" cy="395.1" r="3.6"/><circle cx="293.3" cy="397.2" r="3.6"/><circle cx="184" cy="394.5" r="3.6"/><circle cx="589.4" cy="396.5" r="3.6"/><circle cx="503.9" cy="394.6" r="3.6"/><circle cx="202.9" cy="395.7" r="3.6"/><circle cx="568.3" cy="393.5" r="3.6"/><circle cx="174.5" cy="396.8" r="3.6"/><circle cx="134.5" cy="394.2" r="3.6"/><circle cx="499" cy="397.5" r="3.6"/><circle cx="265.4" cy="394.8" r="3.6"/><circle cx="304.6" cy="396.5" r="3.6"/><circle cx="187.1" cy="395" r="3.6"/><circle cx="147.1" cy="393.6" r="3.6"/><circle cx="446.8" cy="395.5" r="3.6"/><circle cx="552.1" cy="398.5" r="3.6"/><circle cx="292" cy="394.8" r="3.6"/><circle cx="266.8" cy="393.5" r="3.6"/><circle cx="377.9" cy="398.1" r="3.6"/><circle cx="483.7" cy="394.2" r="3.6"/><circle cx="44.5" cy="397.8" r="3.6"/><circle cx="638.5" cy="394.5" r="3.6"/><circle cx="250.6" cy="397.6" r="3.6"/><circle cx="360.8" cy="394" r="3.6"/><circle cx="567.4" cy="396.3" r="3.6"/><circle cx="539.9" cy="396.1" r="3.6"/><circle cx="569.2" cy="396.6" r="3.6"/><circle cx="212.3" cy="393.3" r="3.6"/><circle cx="643.5" cy="393.8" r="3.6"/><circle cx="63" cy="396.6" r="3.6"/><circle cx="480.1" cy="398.2" r="3.6"/><circle cx="627.7" cy="395.6" r="3.6"/><circle cx="80.1" cy="395.8" r="3.6"/><circle cx="595.7" cy="395.7" r="3.6"/><circle cx="350.5" cy="399.3" r="3.6"/><circle cx="85.9" cy="393.3" r="3.6"/><circle cx="247" cy="394.4" r="3.6"/><circle cx="401.8" cy="394.2" r="3.6"/><circle cx="102.1" cy="398.3" r="3.6"/><circle cx="611.5" cy="397.3" r="3.6"/><circle cx="208.7" cy="394.2" r="3.6"/><circle cx="109.8" cy="394.4" r="3.6"/><circle cx="306.4" cy="397.3" r="3.6"/><circle cx="602.5" cy="394.6" r="3.6"/><circle cx="579.5" cy="395.4" r="3.6"/><circle cx="615.6" cy="396.4" r="3.6"/><circle cx="521.5" cy="395.1" r="3.6"/><circle cx="420.7" cy="394" r="3.6"/><circle cx="442.7" cy="394.6" r="3.6"/><circle cx="557.9" cy="398.8" r="3.6"/><circle cx="565.1" cy="394" r="3.6"/><circle cx="213.2" cy="394" r="3.6"/><circle cx="71.1" cy="394.6" r="3.6"/><circle cx="428.8" cy="397.2" r="3.6"/><circle cx="588.1" cy="395.9" r="3.6"/><circle cx="330.2" cy="396.9" r="3.6"/><circle cx="460.3" cy="395.9" r="3.6"/><circle cx="201.1" cy="395.7" r="3.6"/><circle cx="529.6" cy="393.4" r="3.6"/><circle cx="81.9" cy="395.2" r="3.6"/><circle cx="571" cy="396.2" r="3.6"/><circle cx="589.9" cy="394.1" r="3.6"/><circle cx="100.3" cy="393.6" r="3.6"/><circle cx="395" cy="396.1" r="3.6"/><circle cx="454.4" cy="398.7" r="3.6"/><circle cx="315.8" cy="393.7" r="3.6"/><circle cx="85.5" cy="394.1" r="3.6"/><circle cx="109.3" cy="393.6" r="3.6"/><circle cx="353.2" cy="395" r="3.6"/><circle cx="598" cy="399" r="3.6"/><circle cx="574.6" cy="394.5" r="3.6"/><circle cx="309.1" cy="394.3" r="3.6"/><circle cx="369.8" cy="393.4" r="3.6"/><circle cx="66.1" cy="393.9" r="3.6"/><circle cx="224.5" cy="397.9" r="3.6"/><circle cx="562.9" cy="395.6" r="3.6"/><circle cx="226.3" cy="393.5" r="3.6"/><circle cx="206" cy="395.4" r="3.6"/><circle cx="264.5" cy="393.9" r="3.6"/><circle cx="166.9" cy="399.4" r="3.6"/><circle cx="431" cy="401.6" r="3.6"/><circle cx="510.7" cy="398.2" r="3.6"/><circle cx="400.4" cy="397.2" r="3.6"/><circle cx="55.8" cy="394.3" r="3.6"/><circle cx="452.6" cy="395.8" r="3.6"/><circle cx="302.3" cy="400.1" r="3.6"/><circle cx="371.2" cy="395" r="3.6"/><circle cx="87.3" cy="395.8" r="3.6"/><circle cx="432.8" cy="394.5" r="3.6"/><circle cx="502.6" cy="396.4" r="3.6"/><circle cx="505.3" cy="394.4" r="3.6"/><circle cx="305" cy="393.7" r="3.6"/><circle cx="255.1" cy="393.6" r="3.6"/><circle cx="179" cy="397.3" r="3.6"/><circle cx="437.8" cy="395.1" r="3.6"/><circle cx="172.7" cy="396.5" r="3.6"/><circle cx="575" cy="395" r="3.6"/><circle cx="598.9" cy="396.8" r="3.6"/><circle cx="386" cy="394.6" r="3.6"/><circle cx="579.1" cy="395.1" r="3.6"/><circle cx="418" cy="395" r="3.6"/><circle cx="216.8" cy="397.7" r="3.6"/><circle cx="485.5" cy="395.4" r="3.6"/><circle cx="410.3" cy="394.2" r="3.6"/><circle cx="644.8" cy="394.4" r="3.6"/><circle cx="100.8" cy="396.6" r="3.6"/><circle cx="144.4" cy="397.8" r="3.6"/><circle cx="547.1" cy="394.8" r="3.6"/><circle cx="192.5" cy="395.2" r="3.6"/><circle cx="149.4" cy="395.9" r="3.6"/><circle cx="529.1" cy="393.9" r="3.6"/><circle cx="65.2" cy="394.9" r="3.6"/><circle cx="486.4" cy="394.3" r="3.6"/><circle cx="121" cy="397.7" r="3.6"/><circle cx="534.5" cy="394.2" r="3.6"/><circle cx="399.5" cy="397.9" r="3.6"/><circle cx="536.8" cy="397.8" r="3.6"/><circle cx="388.3" cy="396.9" r="3.6"/><circle cx="178.1" cy="396.5" r="3.6"/><circle cx="318.1" cy="395.4" r="3.6"/><circle cx="61.6" cy="395.4" r="3.6"/><circle cx="157.9" cy="397.4" r="3.6"/><circle cx="387.8" cy="395.1" r="3.6"/><circle cx="435.1" cy="398" r="3.6"/><circle cx="463.9" cy="399.2" r="3.6"/><circle cx="116.1" cy="395.4" r="3.6"/><circle cx="491.8" cy="394.5" r="3.6"/><circle cx="586.3" cy="399" r="3.6"/><circle cx="635.8" cy="393.5" r="3.6"/><circle cx="522.4" cy="394.3" r="3.6"/><circle cx="561.1" cy="393.4" r="3.6"/><circle cx="142.6" cy="397.4" r="3.6"/><circle cx="600.2" cy="395.1" r="3.6"/><circle cx="638.1" cy="394.1" r="3.6"/><circle cx="332.5" cy="394.2" r="3.6"/><circle cx="431.9" cy="394.6" r="3.6"/><circle cx="514.7" cy="395.7" r="3.6"/><circle cx="555.2" cy="395.9" r="3.6"/><circle cx="581.8" cy="397.5" r="3.6"/><circle cx="277.1" cy="397.1" r="3.6"/><circle cx="297.8" cy="400.5" r="3.6"/><circle cx="237.1" cy="393.7" r="3.6"/><circle cx="641.2" cy="395.3" r="3.6"/><circle cx="439.6" cy="396.6" r="3.6"/><circle cx="461.6" cy="397.2" r="3.6"/><circle cx="249.2" cy="397.1" r="3.6"/><circle cx="481" cy="394.8" r="3.6"/><circle cx="542.6" cy="395.2" r="3.6"/><circle cx="126.4" cy="395.8" r="3.6"/><circle cx="564.2" cy="394.5" r="3.6"/><circle cx="99" cy="395.7" r="3.6"/><circle cx="287" cy="395.6" r="3.6"/><circle cx="523.7" cy="395.1" r="3.6"/><circle cx="281.2" cy="397.2" r="3.6"/><circle cx="476.9" cy="394.8" r="3.6"/><circle cx="235.7" cy="396.9" r="3.6"/><circle cx="104.8" cy="396.1" r="3.6"/><circle cx="365.8" cy="397.2" r="3.6"/><circle cx="562.4" cy="398.4" r="3.6"/><circle cx="634" cy="395.2" r="3.6"/><circle cx="137.7" cy="393.3" r="3.6"/><circle cx="384.7" cy="396.8" r="3.6"/><circle cx="42.3" cy="395.2" r="3.6"/><circle cx="634.9" cy="396.8" r="3.6"/><circle cx="390.5" cy="396.9" r="3.6"/><circle cx="484.6" cy="393.8" r="3.6"/><circle cx="473.3" cy="395.1" r="3.6"/><circle cx="581.3" cy="394.7" r="3.6"/><circle cx="603" cy="399.1" r="3.6"/><circle cx="252.8" cy="394.3" r="3.6"/><circle cx="89.5" cy="396.4" r="3.6"/><circle cx="515.6" cy="395.7" r="3.6"/><circle cx="119.2" cy="395.1" r="3.6"/><circle cx="102.6" cy="393.3" r="3.6"/><circle cx="201.5" cy="398.2" r="3.6"/><circle cx="538.1" cy="394.7" r="3.6"/><circle cx="472.4" cy="393.5" r="3.6"/><circle cx="243.8" cy="393.6" r="3.6"/><circle cx="472.9" cy="398" r="3.6"/><circle cx="262.7" cy="395.4" r="3.6"/><circle cx="459.4" cy="398.8" r="3.6"/><circle cx="78.3" cy="398.3" r="3.6"/><circle cx="319.9" cy="394.1" r="3.6"/><circle cx="217.7" cy="394.6" r="3.6"/><circle cx="568.7" cy="394.9" r="3.6"/><circle cx="117" cy="394.6" r="3.6"/><circle cx="69.3" cy="394.5" r="3.6"/><circle cx="415.7" cy="396" r="3.6"/><circle cx="429.7" cy="395.1" r="3.6"/><circle cx="200.2" cy="396.8" r="3.6"/><circle cx="363.5" cy="395.8" r="3.6"/><circle cx="241.6" cy="396.7" r="3.6"/><circle cx="308.6" cy="395.1" r="3.6"/><circle cx="110.7" cy="397" r="3.6"/><circle cx="92.2" cy="397.6" r="3.6"/><circle cx="307.7" cy="393.9" r="3.6"/><circle cx="527.8" cy="395.8" r="3.6"/><circle cx="411.2" cy="396.2" r="3.6"/><circle cx="235.3" cy="395.3" r="3.6"/><circle cx="412.1" cy="393.7" r="3.6"/><circle cx="314.9" cy="394.4" r="3.6"/><circle cx="381.5" cy="397" r="3.6"/><circle cx="254.6" cy="397.2" r="3.6"/><circle cx="364" cy="398.2" r="3.6"/><circle cx="403.1" cy="397.5" r="3.6"/><circle cx="494.5" cy="396.6" r="3.6"/><circle cx="420.2" cy="395.4" r="3.6"/><circle cx="430.6" cy="397.2" r="3.6"/><circle cx="197.5" cy="397.7" r="3.6"/><circle cx="626.4" cy="398.7" r="3.6"/><circle cx="41.8" cy="394.9" r="3.6"/><circle cx="369.4" cy="400.2" r="3.6"/><circle cx="276.7" cy="395.9" r="3.6"/><circle cx="549.4" cy="398.8" r="3.6"/><circle cx="269.5" cy="394.5" r="3.6"/><circle cx="642.1" cy="395.7" r="3.6"/><circle cx="78.7" cy="396.3" r="3.6"/><circle cx="547.6" cy="394.5" r="3.6"/><circle cx="323" cy="400.4" r="3.6"/><circle cx="192.1" cy="393.7" r="3.6"/><circle cx="150.2" cy="397.5" r="3.6"/><circle cx="93.6" cy="395.8" r="3.6"/><circle cx="106.2" cy="394.5" r="3.6"/><circle cx="76" cy="398.4" r="3.6"/><circle cx="469.7" cy="393.7" r="3.6"/><circle cx="327.1" cy="395.3" r="3.6"/><circle cx="128.7" cy="393.6" r="3.6"/><circle cx="285.7" cy="395.3" r="3.6"/><circle cx="103" cy="399.8" r="3.6"/><circle cx="448.1" cy="397.7" r="3.6"/><circle cx="603.4" cy="396.7" r="3.6"/><circle cx="95.8" cy="395.5" r="3.6"/><circle cx="415.3" cy="398" r="3.6"/><circle cx="506.6" cy="396.2" r="3.6"/><circle cx="64.3" cy="395.3" r="3.6"/><circle cx="437.3" cy="396.4" r="3.6"/><circle cx="65.7" cy="396.4" r="3.6"/><circle cx="139.9" cy="395.4" r="3.6"/><circle cx="216.4" cy="393.3" r="3.6"/><circle cx="60.7" cy="395" r="3.6"/><circle cx="225.8" cy="396.5" r="3.6"/><circle cx="399.1" cy="395.1" r="3.6"/><circle cx="536.3" cy="395.6" r="3.6"/><circle cx="333.4" cy="396.1" r="3.6"/><circle cx="574.1" cy="397.7" r="3.6"/><circle cx="504.4" cy="398.7" r="3.6"/><circle cx="285.2" cy="396.8" r="3.6"/><circle cx="200.6" cy="395.4" r="3.6"/><circle cx="97.6" cy="398.2" r="3.6"/><circle cx="455.3" cy="397.6" r="3.6"/><circle cx="526.9" cy="396.5" r="3.6"/><circle cx="270.8" cy="394.8" r="3.6"/><circle cx="601.6" cy="396.2" r="3.6"/><circle cx="532.7" cy="394.5" r="3.6"/><circle cx="223.1" cy="398.3" r="3.6"/><circle cx="112" cy="393.7" r="3.6"/><circle cx="446.3" cy="396.9" r="3.6"/><circle cx="501.2" cy="394.2" r="3.6"/><circle cx="576.4" cy="399.8" r="3.6"/><circle cx="143.1" cy="395.5" r="3.6"/><circle cx="207.4" cy="395.9" r="3.6"/><circle cx="392.3" cy="393.7" r="3.6"/><circle cx="526.4" cy="394.5" r="3.6"/><circle cx="471.5" cy="396.9" r="3.6"/><circle cx="548" cy="395.5" r="3.6"/><circle cx="476.5" cy="398.4" r="3.6"/><circle cx="153.8" cy="393.5" r="3.6"/><circle cx="341" cy="399.1" r="3.6"/><circle cx="403.6" cy="395.8" r="3.6"/><circle cx="419.3" cy="401.3" r="3.6"/><circle cx="321.7" cy="396.3" r="3.6"/><circle cx="457.6" cy="396" r="3.6"/><circle cx="145.8" cy="397.3" r="3.6"/><circle cx="351.8" cy="396.6" r="3.6"/><circle cx="572.3" cy="394.6" r="3.6"/><circle cx="231.7" cy="397.8" r="3.6"/><circle cx="433.3" cy="396" r="3.6"/><circle cx="274" cy="394" r="3.6"/><circle cx="490.9" cy="393.7" r="3.6"/><circle cx="409.4" cy="397.7" r="3.6"/><circle cx="322.6" cy="400.3" r="3.6"/><circle cx="449.9" cy="395.1" r="3.6"/><circle cx="495.8" cy="398" r="3.6"/><circle cx="554.8" cy="398.2" r="3.6"/><circle cx="500.3" cy="393.7" r="3.6"/><circle cx="337.9" cy="397.2" r="3.6"/><circle cx="42.7" cy="394.5" r="3.6"/><circle cx="161.9" cy="393.7" r="3.6"/><circle cx="40.9" cy="399" r="3.6"/><circle cx="251.9" cy="398.7" r="3.6"/><circle cx="607" cy="397.5" r="3.6"/><circle cx="475.6" cy="396.1" r="3.6"/><circle cx="546.7" cy="401" r="3.6"/><circle cx="578.6" cy="393.6" r="3.6"/><circle cx="50.4" cy="399.6" r="3.6"/><circle cx="168.2" cy="395.5" r="3.6"/><circle cx="278.5" cy="397" r="3.6"/><circle cx="52.6" cy="397.4" r="3.6"/><circle cx="178.6" cy="394" r="3.6"/><circle cx="231.2" cy="397" r="3.6"/><circle cx="507.5" cy="397.1" r="3.6"/><circle cx="350.9" cy="394.3" r="3.6"/><circle cx="283" cy="400.1" r="3.6"/><circle cx="284.3" cy="399.9" r="3.6"/><circle cx="431.5" cy="400.4" r="3.6"/><circle cx="479.6" cy="394.8" r="3.6"/><circle cx="501.7" cy="394.1" r="3.6"/><circle cx="59.4" cy="399" r="3.6"/><circle cx="182.2" cy="398" r="3.6"/><circle cx="296.5" cy="396.2" r="3.6"/><circle cx="339.2" cy="396.4" r="3.6"/><circle cx="427" cy="397.7" r="3.6"/><circle cx="293.8" cy="399.3" r="3.6"/><circle cx="539" cy="394.6" r="3.6"/><circle cx="377" cy="395.8" r="3.6"/><circle cx="310.9" cy="401.2" r="3.6"/><circle cx="358.1" cy="395.7" r="3.6"/><circle cx="535" cy="393.3" r="3.6"/><circle cx="54" cy="396.9" r="3.6"/><circle cx="354.5" cy="397.1" r="3.6"/><circle cx="530" cy="398" r="3.6"/><circle cx="493.1" cy="399.2" r="3.6"/><circle cx="124.2" cy="394.3" r="3.6"/><circle cx="625" cy="394.2" r="3.6"/><circle cx="595.3" cy="393.8" r="3.6"/><circle cx="142.2" cy="399.7" r="3.6"/><circle cx="448.6" cy="399.8" r="3.6"/><circle cx="210.1" cy="396.8" r="3.6"/><circle cx="594.8" cy="396.4" r="3.6"/><circle cx="618.7" cy="399.2" r="3.6"/><circle cx="405.8" cy="399.1" r="3.6"/><circle cx="580.9" cy="397.8" r="3.6"/><circle cx="487.3" cy="393.5" r="3.6"/><circle cx="382" cy="396.4" r="3.6"/><circle cx="557.5" cy="397.2" r="3.6"/><circle cx="612.9" cy="393.7" r="3.6"/><circle cx="43.2" cy="395.2" r="3.6"/><circle cx="365.3" cy="398.1" r="3.6"/><circle cx="499.4" cy="401.3" r="3.6"/><circle cx="563.3" cy="394.7" r="3.6"/><circle cx="158.8" cy="395.3" r="3.6"/><circle cx="193" cy="398" r="3.6"/><circle cx="447.7" cy="399.1" r="3.6"/><circle cx="359.9" cy="394.8" r="3.6"/><circle cx="601.1" cy="394.6" r="3.6"/><circle cx="59.8" cy="397" r="3.6"/><circle cx="467.5" cy="394.1" r="3.6"/><circle cx="587.2" cy="393.7" r="3.6"/><circle cx="479.2" cy="395.1" r="3.6"/><circle cx="544.4" cy="394.5" r="3.6"/><circle cx="136.3" cy="395.5" r="3.6"/><circle cx="423.4" cy="398.7" r="3.6"/><circle cx="117.9" cy="396.4" r="3.6"/><circle cx="261.4" cy="398.9" r="3.6"/><circle cx="379.3" cy="397.3" r="3.6"/><circle cx="72.9" cy="400" r="3.6"/><circle cx="490.4" cy="395.4" r="3.6"/><circle cx="346" cy="396.8" r="3.6"/><circle cx="69.7" cy="400.1" r="3.6"/><circle cx="259.1" cy="393.4" r="3.6"/><circle cx="300.5" cy="393.9" r="3.6"/><circle cx="179.9" cy="400.1" r="3.6"/><circle cx="199.3" cy="399.2" r="3.6"/><circle cx="258.7" cy="399.4" r="3.6"/><circle cx="512.5" cy="395.4" r="3.6"/><circle cx="404.9" cy="398.2" r="3.6"/><circle cx="129.6" cy="394.2" r="3.6"/><circle cx="361.3" cy="394.5" r="3.6"/><circle cx="459.8" cy="399.6" r="3.6"/><circle cx="487.7" cy="400.1" r="3.6"/><circle cx="363.1" cy="395.5" r="3.6"/><circle cx="301.9" cy="395.7" r="3.6"/><circle cx="242.5" cy="399.5" r="3.6"/><circle cx="66.6" cy="398.8" r="3.6"/><circle cx="613.8" cy="397.7" r="3.6"/><circle cx="103.9" cy="397.3" r="3.6"/><circle cx="261.8" cy="397.4" r="3.6"/><circle cx="643.9" cy="400.4" r="3.6"/><circle cx="281.6" cy="395.1" r="3.6"/><circle cx="296" cy="399.5" r="3.6"/><circle cx="347.8" cy="395.1" r="3.6"/><circle cx="566.5" cy="398.1" r="3.6"/><circle cx="177.7" cy="399" r="3.6"/><circle cx="179.5" cy="396.8" r="3.6"/><circle cx="643" cy="395.3" r="3.6"/><circle cx="338.8" cy="396.6" r="3.6"/><circle cx="512" cy="393.4" r="3.6"/><circle cx="154.7" cy="394.5" r="3.6"/><circle cx="460.7" cy="394.8" r="3.6"/><circle cx="248.8" cy="398.2" r="3.6"/><circle cx="454.9" cy="400.6" r="3.6"/><circle cx="49.5" cy="400.1" r="3.6"/><circle cx="214.1" cy="400" r="3.6"/><circle cx="409.9" cy="394.5" r="3.6"/><circle cx="512.9" cy="397.3" r="3.6"/><circle cx="244.7" cy="397" r="3.6"/><circle cx="637.2" cy="395.1" r="3.6"/><circle cx="303.7" cy="394.9" r="3.6"/><circle cx="113.8" cy="396" r="3.6"/><circle cx="88.6" cy="394" r="3.6"/><circle cx="161.5" cy="395.2" r="3.6"/><circle cx="180.4" cy="399.9" r="3.6"/><circle cx="274.9" cy="397.6" r="3.6"/><circle cx="324.8" cy="394.9" r="3.6"/><circle cx="94.5" cy="397.5" r="3.6"/><circle cx="565.6" cy="395" r="3.6"/><circle cx="264.1" cy="399.4" r="3.6"/><circle cx="628.2" cy="396.3" r="3.6"/><circle cx="110.2" cy="396.3" r="3.6"/><circle cx="383.3" cy="398.4" r="3.6"/><circle cx="525.1" cy="397.4" r="3.6"/><circle cx="633.1" cy="395.2" r="3.6"/><circle cx="593" cy="396.1" r="3.6"/><circle cx="345.5" cy="398.2" r="3.6"/><circle cx="55.3" cy="395.9" r="3.6"/><circle cx="361.7" cy="395.2" r="3.6"/><circle cx="597.5" cy="400.2" r="3.6"/><circle cx="122.4" cy="398.1" r="3.6"/><circle cx="131.8" cy="396.9" r="3.6"/><circle cx="288.8" cy="393.9" r="3.6"/><circle cx="151.6" cy="395.1" r="3.6"/><circle cx="290.2" cy="396.4" r="3.6"/><circle cx="427.9" cy="396.5" r="3.6"/><circle cx="414.4" cy="396.3" r="3.6"/><circle cx="578.2" cy="398.2" r="3.6"/><circle cx="442.3" cy="396" r="3.6"/><circle cx="290.6" cy="398.5" r="3.6"/><circle cx="268.1" cy="400.8" r="3.6"/><circle cx="228.5" cy="398" r="3.6"/><circle cx="604.3" cy="400.2" r="3.6"/><circle cx="572.8" cy="396.4" r="3.6"/><circle cx="203.8" cy="394.1" r="3.6"/><circle cx="564.7" cy="399" r="3.6"/><circle cx="478.3" cy="398" r="3.6"/><circle cx="397.7" cy="395.9" r="3.6"/><circle cx="450.8" cy="399.3" r="3.6"/><circle cx="242.9" cy="398" r="3.6"/><circle cx="91.3" cy="397.5" r="3.6"/><circle cx="303.2" cy="395" r="3.6"/><circle cx="144.9" cy="394.9" r="3.6"/><circle cx="380.6" cy="400.5" r="3.6"/><circle cx="619.6" cy="399.7" r="3.6"/><circle cx="123.7" cy="400.8" r="3.6"/><circle cx="185.8" cy="395" r="3.6"/><circle cx="328.9" cy="395.8" r="3.6"/><circle cx="188.5" cy="394.2" r="3.6"/><circle cx="551.2" cy="396.5" r="3.6"/><circle cx="639" cy="401.2" r="3.6"/><circle cx="238.4" cy="397.2" r="3.6"/><circle cx="398.2" cy="395.3" r="3.6"/><circle cx="417.1" cy="393.6" r="3.6"/><circle cx="253.3" cy="396.8" r="3.6"/><circle cx="61.2" cy="397.7" r="3.6"/><circle cx="439.1" cy="397.5" r="3.6"/><circle cx="171.4" cy="397.6" r="3.6"/><circle cx="628.6" cy="400.8" r="3.6"/><circle cx="175.4" cy="397" r="3.6"/><circle cx="610.2" cy="399.8" r="3.6"/><circle cx="167.8" cy="398.3" r="3.6"/><circle cx="112.5" cy="397.8" r="3.6"/><circle cx="592.6" cy="395.7" r="3.6"/><circle cx="614.2" cy="398.7" r="3.6"/><circle cx="423.8" cy="399.2" r="3.6"/><circle cx="421.1" cy="398.5" r="3.6"/><circle cx="575.5" cy="396.1" r="3.6"/><circle cx="391.9" cy="398.8" r="3.6"/><circle cx="236.2" cy="397.5" r="3.6"/><circle cx="537.7" cy="397.6" r="3.6"/><circle cx="372.1" cy="401.4" r="3.6"/><circle cx="343.3" cy="396.3" r="3.6"/><circle cx="159.2" cy="397.8" r="3.6"/><circle cx="294.7" cy="399.3" r="3.6"/><circle cx="570.1" cy="398.8" r="3.6"/><circle cx="521" cy="394.4" r="3.6"/><circle cx="577.3" cy="399.5" r="3.6"/><circle cx="538.6" cy="399" r="3.6"/><circle cx="426.5" cy="396.1" r="3.6"/><circle cx="453.1" cy="398.9" r="3.6"/><circle cx="245.6" cy="398.4" r="3.6"/><circle cx="260.5" cy="399.1" r="3.6"/><circle cx="554.3" cy="394.4" r="3.6"/><circle cx="81.4" cy="394.2" r="3.6"/><circle cx="108" cy="395.1" r="3.6"/><circle cx="353.6" cy="398.1" r="3.6"/><circle cx="58" cy="398" r="3.6"/><circle cx="175" cy="401.1" r="3.6"/><circle cx="548.9" cy="401.4" r="3.6"/><circle cx="246.1" cy="396.7" r="3.6"/><circle cx="644.4" cy="397.7" r="3.6"/><circle cx="545.8" cy="398.1" r="3.6"/><circle cx="156.5" cy="397.5" r="3.6"/><circle cx="237.5" cy="396.2" r="3.6"/><circle cx="421.6" cy="399.1" r="3.6"/><circle cx="364.9" cy="394" r="3.6"/><circle cx="202" cy="398" r="3.6"/><circle cx="268.6" cy="399" r="3.6"/><circle cx="135" cy="395.9" r="3.6"/><circle cx="275.3" cy="394.7" r="3.6"/><circle cx="62.1" cy="397.2" r="3.6"/><circle cx="482.3" cy="397.5" r="3.6"/><circle cx="124.6" cy="394.5" r="3.6"/><circle cx="217.3" cy="395.3" r="3.6"/><circle cx="295.6" cy="396.2" r="3.6"/><circle cx="458" cy="394.4" r="3.6"/><circle cx="483.2" cy="397.1" r="3.6"/><circle cx="472" cy="395.6" r="3.6"/><circle cx="456.7" cy="398.7" r="3.6"/><circle cx="378.4" cy="395.4" r="3.6"/><circle cx="280.7" cy="399.3" r="3.6"/><circle cx="602" cy="393.5" r="3.6"/><circle cx="92.7" cy="397.3" r="3.6"/><circle cx="83.2" cy="398" r="3.6"/><circle cx="609.3" cy="398.8" r="3.6"/><circle cx="306.8" cy="399" r="3.6"/><circle cx="375.2" cy="398.4" r="3.6"/><circle cx="259.6" cy="398" r="3.6"/><circle cx="169.6" cy="398.3" r="3.6"/><circle cx="453.5" cy="393.8" r="3.6"/><circle cx="432.4" cy="398.6" r="3.6"/><circle cx="550.7" cy="397.3" r="3.6"/><circle cx="616.5" cy="398" r="3.6"/><circle cx="396.4" cy="393.9" r="3.6"/><circle cx="166.4" cy="399" r="3.6"/><circle cx="481.9" cy="398" r="3.6"/><circle cx="151.1" cy="400.3" r="3.6"/><circle cx="197" cy="398.5" r="3.6"/><circle cx="387.4" cy="394" r="3.6"/><circle cx="606.6" cy="398.2" r="3.6"/><circle cx="639.9" cy="396.3" r="3.6"/><circle cx="321.2" cy="395.1" r="3.6"/><circle cx="532.3" cy="395.1" r="3.6"/><circle cx="427.4" cy="394.8" r="3.6"/><circle cx="189.8" cy="396.5" r="3.6"/><circle cx="322.1" cy="400.8" r="3.6"/><circle cx="338.3" cy="396.8" r="3.6"/><circle cx="364.4" cy="393.6" r="3.6"/><circle cx="79.6" cy="396.2" r="3.6"/><circle cx="373.9" cy="396.9" r="3.6"/><circle cx="593.9" cy="397.1" r="3.6"/><circle cx="632.2" cy="398.5" r="3.6"/><circle cx="384.2" cy="397.7" r="3.6"/><circle cx="457.1" cy="397.1" r="3.6"/><circle cx="368.5" cy="395.3" r="3.6"/><circle cx="341.5" cy="397.3" r="3.6"/><circle cx="94" cy="393.6" r="3.6"/><circle cx="182.6" cy="399.6" r="3.6"/><circle cx="557" cy="399" r="3.6"/><circle cx="170.5" cy="398.7" r="3.6"/><circle cx="559.3" cy="399" r="3.6"/><circle cx="629.5" cy="398" r="3.6"/><circle cx="227.2" cy="396.2" r="3.6"/><circle cx="211" cy="395.3" r="3.6"/><circle cx="573.7" cy="398.3" r="3.6"/><circle cx="96.3" cy="399" r="3.6"/><circle cx="323.5" cy="398.6" r="3.6"/><circle cx="517" cy="396.2" r="3.6"/><circle cx="160.6" cy="399.7" r="3.6"/><circle cx="456.2" cy="398.9" r="3.6"/><circle cx="198.4" cy="399.9" r="3.6"/><circle cx="558.4" cy="398.6" r="3.6"/><circle cx="214.6" cy="400.2" r="3.6"/><circle cx="95.4" cy="399.5" r="3.6"/><circle cx="604.8" cy="399.1" r="3.6"/><circle cx="278" cy="394.2" r="3.6"/><circle cx="357.7" cy="396.4" r="3.6"/><circle cx="461.2" cy="397.8" r="3.6"/><circle cx="355.4" cy="396.4" r="3.6"/><circle cx="410.8" cy="398.9" r="3.6"/><circle cx="366.2" cy="396.3" r="3.6"/><circle cx="67.9" cy="399.3" r="3.6"/><circle cx="314" cy="396.9" r="3.6"/><circle cx="607.9" cy="398.3" r="3.6"/><circle cx="486.8" cy="400.7" r="3.6"/><circle cx="247.4" cy="401.4" r="3.6"/><circle cx="449" cy="401" r="3.6"/><circle cx="105.7" cy="397" r="3.6"/><circle cx="440.9" cy="401.6" r="3.6"/><circle cx="329.3" cy="398" r="3.6"/><circle cx="419.8" cy="397.2" r="3.6"/><circle cx="408.5" cy="399.9" r="3.6"/><circle cx="620.1" cy="397.6" r="3.6"/><circle cx="590.8" cy="396.1" r="3.6"/><circle cx="229.4" cy="400.3" r="3.6"/><circle cx="118.3" cy="396.2" r="3.6"/><circle cx="337" cy="399" r="3.6"/><circle cx="622.3" cy="394.3" r="3.6"/><circle cx="148" cy="394.8" r="3.6"/><circle cx="349.1" cy="400.1" r="3.6"/><circle cx="641.7" cy="396.1" r="3.6"/><circle cx="482.8" cy="395.9" r="3.6"/><circle cx="167.3" cy="398.9" r="3.6"/><circle cx="340.1" cy="394.8" r="3.6"/><circle cx="584.9" cy="398.4" r="3.6"/><circle cx="583.6" cy="397.1" r="3.6"/><circle cx="556.1" cy="397.6" r="3.6"/><circle cx="443.6" cy="398.5" r="3.6"/><circle cx="194.8" cy="399.2" r="3.6"/><circle cx="355" cy="397" r="3.6"/><circle cx="467.9" cy="397.9" r="3.6"/><circle cx="313.6" cy="399.5" r="3.6"/><circle cx="205.1" cy="400.5" r="3.6"/><circle cx="471.1" cy="397.1" r="3.6"/><circle cx="81" cy="399" r="3.6"/><circle cx="130" cy="399.3" r="3.6"/><circle cx="170" cy="393.8" r="3.6"/><circle cx="98.1" cy="396.3" r="3.6"/><circle cx="553.9" cy="396.2" r="3.6"/><circle cx="229.9" cy="398.3" r="3.6"/><circle cx="445.4" cy="400.5" r="3.6"/><circle cx="535.9" cy="401.4" r="3.6"/><circle cx="47.7" cy="395.6" r="3.6"/><circle cx="345.1" cy="396.3" r="3.6"/><circle cx="118.8" cy="400" r="3.6"/><circle cx="276.2" cy="395.4" r="3.6"/><circle cx="108.9" cy="396.6" r="3.6"/><circle cx="463.4" cy="396.4" r="3.6"/><circle cx="508" cy="399" r="3.6"/><circle cx="333.8" cy="394.7" r="3.6"/><circle cx="454" cy="396.8" r="3.6"/><circle cx="358.6" cy="396.1" r="3.6"/><circle cx="573.2" cy="397" r="3.6"/><circle cx="404.5" cy="399.5" r="3.6"/><circle cx="226.7" cy="399.9" r="3.6"/><circle cx="309.5" cy="398.5" r="3.6"/><circle cx="555.7" cy="395.9" r="3.6"/><circle cx="373.4" cy="397.8" r="3.6"/><circle cx="206.5" cy="400.1" r="3.6"/><circle cx="304.1" cy="398.2" r="3.6"/><circle cx="623.2" cy="396.9" r="3.6"/><circle cx="367.6" cy="395.5" r="3.6"/><circle cx="352.7" cy="397.7" r="3.6"/><circle cx="335.2" cy="396.6" r="3.6"/><circle cx="240.7" cy="398.1" r="3.6"/><circle cx="174.1" cy="398.1" r="3.6"/><circle cx="580" cy="398.3" r="3.6"/><circle cx="273.5" cy="398.1" r="3.6"/><circle cx="492.2" cy="399" r="3.6"/><circle cx="211.9" cy="396.4" r="3.6"/><circle cx="87.7" cy="395.6" r="3.6"/><circle cx="215.9" cy="394.5" r="3.6"/><circle cx="265.9" cy="398" r="3.6"/><circle cx="502.1" cy="395.4" r="3.6"/><circle cx="440.5" cy="400.4" r="3.6"/><circle cx="391.4" cy="396.6" r="3.6"/><circle cx="191.6" cy="399.2" r="3.6"/><circle cx="56.7" cy="400" r="3.6"/><circle cx="335.6" cy="394.9" r="3.6"/><circle cx="114.3" cy="400.8" r="3.6"/><circle cx="208.3" cy="397" r="3.6"/><circle cx="234.8" cy="394.9" r="3.6"/><circle cx="385.1" cy="396" r="3.6"/><circle cx="514.3" cy="395.2" r="3.6"/><circle cx="626.8" cy="399.6" r="3.6"/><circle cx="166" cy="400.3" r="3.6"/><circle cx="339.7" cy="396.8" r="3.6"/><circle cx="522.8" cy="398.4" r="3.6"/><circle cx="496.7" cy="397.9" r="3.6"/><circle cx="469.3" cy="395.3" r="3.6"/><circle cx="539.5" cy="398" r="3.6"/><circle cx="120.1" cy="398.9" r="3.6"/><circle cx="390.1" cy="395.8" r="3.6"/><circle cx="127.3" cy="395.8" r="3.6"/><circle cx="621.4" cy="398" r="3.6"/><circle cx="157.4" cy="395.5" r="3.6"/><circle cx="571.4" cy="398.7" r="3.6"/><circle cx="495.4" cy="395.1" r="3.6"/><circle cx="533.2" cy="395.4" r="3.6"/><circle cx="70.2" cy="400.3" r="3.6"/><circle cx="320.8" cy="393.8" r="3.6"/><circle cx="438.2" cy="398.2" r="3.6"/><circle cx="74.7" cy="399.3" r="3.6"/><circle cx="62.5" cy="398.4" r="3.6"/><circle cx="314.5" cy="401" r="3.6"/><circle cx="270.4" cy="398.6" r="3.6"/><circle cx="636.7" cy="397.4" r="3.6"/><circle cx="540.4" cy="397.3" r="3.6"/><circle cx="441.8" cy="399.3" r="3.6"/><circle cx="131.4" cy="400.1" r="3.6"/><circle cx="233" cy="399.5" r="3.6"/><circle cx="114.7" cy="397.9" r="3.6"/><circle cx="571.9" cy="399.1" r="3.6"/><circle cx="444.5" cy="399.1" r="3.6"/><circle cx="228.1" cy="395.7" r="3.6"/><circle cx="232.6" cy="399.4" r="3.6"/><circle cx="494" cy="398.7" r="3.6"/><circle cx="553.4" cy="397.2" r="3.6"/><circle cx="445.9" cy="396.8" r="3.6"/><circle cx="282.5" cy="397.8" r="3.6"/><circle cx="326.6" cy="399.4" r="3.6"/><circle cx="510.2" cy="397.2" r="3.6"/><circle cx="308.2" cy="398.4" r="3.6"/><circle cx="147.6" cy="400.2" r="3.6"/><circle cx="209.6" cy="398.1" r="3.6"/><circle cx="176.3" cy="396.1" r="3.6"/><circle cx="608.8" cy="400.4" r="3.6"/><circle cx="376.1" cy="399.9" r="3.6"/><circle cx="310" cy="399" r="3.6"/><circle cx="488.2" cy="397.8" r="3.6"/><circle cx="516.5" cy="398.5" r="3.6"/><circle cx="57.6" cy="399.1" r="3.6"/><circle cx="318.5" cy="400.6" r="3.6"/><circle cx="256" cy="395" r="3.6"/><circle cx="116.5" cy="400.6" r="3.6"/><circle cx="413.5" cy="398.6" r="3.6"/><circle cx="379.7" cy="398.4" r="3.6"/><circle cx="64.8" cy="395.3" r="3.6"/><circle cx="378.8" cy="400.9" r="3.6"/><circle cx="225.4" cy="398.5" r="3.6"/><circle cx="508.4" cy="401.1" r="3.6"/><circle cx="113.4" cy="400.1" r="3.6"/><circle cx="103.5" cy="394.9" r="3.6"/><circle cx="416.6" cy="394.8" r="3.6"/><circle cx="202.4" cy="400.9" r="3.6"/><circle cx="525.5" cy="395.6" r="3.6"/><circle cx="614.7" cy="398.8" r="3.6"/><circle cx="265" cy="397.7" r="3.6"/><circle cx="389.6" cy="399.7" r="3.6"/><circle cx="98.5" cy="395.4" r="3.6"/><circle cx="413" cy="395.6" r="3.6"/><circle cx="45.9" cy="396.9" r="3.6"/><circle cx="173.2" cy="400.1" r="3.6"/><circle cx="138.6" cy="395.5" r="3.6"/><circle cx="184.9" cy="395.8" r="3.6"/><circle cx="43.6" cy="399.5" r="3.6"/><circle cx="74.2" cy="396.4" r="3.6"/><circle cx="344.6" cy="398.6" r="3.6"/><circle cx="582.7" cy="400.6" r="3.6"/><circle cx="275.8" cy="398.5" r="3.6"/><circle cx="424.3" cy="401.2" r="3.6"/><circle cx="594.4" cy="400.8" r="3.6"/><circle cx="498.1" cy="401.6" r="3.6"/><circle cx="541.7" cy="401.5" r="3.6"/><circle cx="76.5" cy="399.4" r="3.6"/><circle cx="627.3" cy="397.9" r="3.6"/><circle cx="542.2" cy="399.4" r="3.6"/><circle cx="531.8" cy="400.7" r="3.6"/><circle cx="346.4" cy="397.6" r="3.6"/><circle cx="599.8" cy="396.1" r="3.6"/><circle cx="169.1" cy="399.4" r="3.6"/><circle cx="46.8" cy="398.4" r="3.6"/><circle cx="298.3" cy="400.6" r="3.6"/><circle cx="73.8" cy="400.5" r="3.6"/><circle cx="343.7" cy="400.3" r="3.6"/><circle cx="143.5" cy="397.2" r="3.6"/><circle cx="612" cy="400.3" r="3.6"/><circle cx="371.6" cy="399.7" r="3.6"/><circle cx="229" cy="396.7" r="3.6"/><circle cx="377.5" cy="400.8" r="3.6"/><circle cx="230.8" cy="399.9" r="3.6"/><circle cx="362.2" cy="398.8" r="3.6"/><circle cx="125.5" cy="400.1" r="3.6"/><circle cx="218.6" cy="393.5" r="3.6"/><circle cx="605.2" cy="395.1" r="3.6"/><circle cx="215.5" cy="396.8" r="3.6"/><circle cx="334.3" cy="394.1" r="3.6"/><circle cx="619.2" cy="401.6" r="3.6"/><circle cx="485.9" cy="399" r="3.6"/><circle cx="380.2" cy="397.2" r="3.6"/><circle cx="609.7" cy="395.5" r="3.6"/><circle cx="392.8" cy="397.3" r="3.6"/><circle cx="51.3" cy="400" r="3.6"/><circle cx="560.6" cy="400.5" r="3.6"/><circle cx="184.4" cy="396" r="3.6"/><circle cx="395.5" cy="400.6" r="3.6"/><circle cx="393.2" cy="397.6" r="3.6"/><circle cx="603.9" cy="397.5" r="3.6"/><circle cx="163.3" cy="401" r="3.6"/><circle cx="436.9" cy="397.6" r="3.6"/><circle cx="152.9" cy="396.9" r="3.6"/><circle cx="458.9" cy="399.8" r="3.6"/><circle cx="332" cy="400.8" r="3.6"/><circle cx="382.9" cy="400.3" r="3.6"/><circle cx="521.9" cy="397.5" r="3.6"/><circle cx="438.7" cy="399.6" r="3.6"/><circle cx="248.3" cy="401.4" r="3.6"/><circle cx="470.6" cy="397.1" r="3.6"/><circle cx="316.7" cy="399.6" r="3.6"/><circle cx="204.2" cy="398.8" r="3.6"/><circle cx="186.2" cy="401.1" r="3.6"/><circle cx="72" cy="400.6" r="3.6"/><circle cx="300.1" cy="398.1" r="3.6"/><circle cx="407.6" cy="401" r="3.6"/><circle cx="165.5" cy="400.2" r="3.6"/><circle cx="464.8" cy="398.1" r="3.6"/><circle cx="531.4" cy="397.3" r="3.6"/><circle cx="63.9" cy="397.4" r="3.6"/><circle cx="418.9" cy="398.5" r="3.6"/><circle cx="171.8" cy="399.8" r="3.6"/><circle cx="451.7" cy="397" r="3.6"/><circle cx="73.3" cy="395" r="3.6"/><circle cx="515.2" cy="399.5" r="3.6"/><circle cx="566.9" cy="398.8" r="3.6"/><circle cx="56.2" cy="400.2" r="3.6"/><circle cx="325.3" cy="401.3" r="3.6"/><circle cx="623.7" cy="399.3" r="3.6"/><circle cx="334.7" cy="398.8" r="3.6"/><circle cx="588.5" cy="398.2" r="3.6"/><circle cx="450.4" cy="397.2" r="3.6"/><circle cx="176.8" cy="398.9" r="3.6"/><circle cx="524.6" cy="394" r="3.6"/><circle cx="211.4" cy="396.1" r="3.6"/><circle cx="137.2" cy="397.1" r="3.6"/><circle cx="215" cy="397.1" r="3.6"/><circle cx="527.3" cy="399.3" r="3.6"/><circle cx="466.1" cy="401" r="3.6"/><circle cx="370.3" cy="396.8" r="3.6"/><circle cx="84.6" cy="397" r="3.6"/><circle cx="153.4" cy="401.4" r="3.6"/><circle cx="526" cy="401.2" r="3.6"/><circle cx="593.5" cy="399.8" r="3.6"/><circle cx="144" cy="400.9" r="3.6"/><circle cx="509.3" cy="396.3" r="3.6"/><circle cx="351.4" cy="400.4" r="3.6"/><circle cx="470.2" cy="401.4" r="3.6"/><circle cx="203.3" cy="399.3" r="3.6"/><circle cx="388.7" cy="400.1" r="3.6"/><circle cx="284.8" cy="398.2" r="3.6"/><circle cx="342.8" cy="400.4" r="3.6"/><circle cx="117.4" cy="397.3" r="3.6"/><circle cx="51.7" cy="395.5" r="3.6"/><circle cx="222.7" cy="400" r="3.6"/><circle cx="620.5" cy="398.9" r="3.6"/><circle cx="533.6" cy="400.3" r="3.6"/><circle cx="105.3" cy="395.7" r="3.6"/><circle cx="129.1" cy="399.4" r="3.6"/><circle cx="317.2" cy="399.8" r="3.6"/><circle cx="412.6" cy="401.3" r="3.6"/><circle cx="54.4" cy="396.4" r="3.6"/><circle cx="219.5" cy="399.6" r="3.6"/><circle cx="621.9" cy="401.6" r="3.6"/><circle cx="301" cy="398.2" r="3.6"/><circle cx="324.4" cy="399.5" r="3.6"/><circle cx="120.6" cy="401.2" r="3.6"/><circle cx="181.3" cy="397.1" r="3.6"/><circle cx="283.4" cy="398.4" r="3.6"/><circle cx="596.6" cy="398.2" r="3.6"/><circle cx="286.1" cy="397" r="3.6"/><circle cx="279.8" cy="400.2" r="3.6"/><circle cx="154.3" cy="400.5" r="3.6"/><circle cx="630.4" cy="397.4" r="3.6"/><circle cx="624.6" cy="399" r="3.6"/><circle cx="267.2" cy="398.5" r="3.6"/><circle cx="465.2" cy="398.3" r="3.6"/><circle cx="330.7" cy="398.8" r="3.6"/><circle cx="125.1" cy="397.8" r="3.6"/><circle cx="576.8" cy="400.8" r="3.6"/><circle cx="104.4" cy="398" r="3.6"/><circle cx="292.4" cy="398.1" r="3.6"/><circle cx="496.3" cy="396.8" r="3.6"/><circle cx="325.7" cy="401.5" r="3.6"/><circle cx="468.4" cy="397.5" r="3.6"/><circle cx="155.2" cy="400.4" r="3.6"/><circle cx="158.3" cy="398.4" r="3.6"/><circle cx="413.9" cy="398.5" r="3.6"/><circle cx="589" cy="398.2" r="3.6"/><circle cx="517.4" cy="398.2" r="3.6"/><circle cx="336.1" cy="397.6" r="3.6"/><circle cx="246.5" cy="400.6" r="3.6"/><circle cx="223.6" cy="399.8" r="3.6"/><circle cx="82.8" cy="398.7" r="3.6"/><circle cx="256.4" cy="399.4" r="3.6"/><circle cx="41.4" cy="400.4" r="3.6"/><circle cx="286.6" cy="399.1" r="3.6"/><circle cx="250.1" cy="397.6" r="3.6"/><circle cx="434.2" cy="396.1" r="3.6"/><circle cx="433.7" cy="401.7" r="3.6"/><circle cx="220.9" cy="399.5" r="3.6"/><circle cx="152.5" cy="398.8" r="3.6"/><circle cx="465.7" cy="400.8" r="3.6"/><circle cx="108.4" cy="395.8" r="3.6"/><circle cx="394.6" cy="399.6" r="3.6"/><circle cx="393.7" cy="400.9" r="3.6"/><circle cx="583.1" cy="396.4" r="3.6"/><circle cx="606.1" cy="399" r="3.6"/><circle cx="344.2" cy="398.5" r="3.6"/><circle cx="90" cy="400.3" r="3.6"/><circle cx="503.5" cy="401.3" r="3.6"/><circle cx="622.8" cy="396.9" r="3.6"/><circle cx="53.5" cy="398" r="3.6"/><circle cx="556.6" cy="399.4" r="3.6"/><circle cx="530.9" cy="397.8" r="3.6"/><circle cx="132.3" cy="398.5" r="3.6"/><circle cx="552.5" cy="400.7" r="3.6"/><circle cx="417.5" cy="400.8" r="3.6"/><circle cx="194.3" cy="399.3" r="3.6"/><circle cx="376.6" cy="397" r="3.6"/><circle cx="221.8" cy="398.6" r="3.6"/><circle cx="630.9" cy="400.1" r="3.6"/><circle cx="528.2" cy="400.3" r="3.6"/><circle cx="255.5" cy="400.3" r="3.6"/><circle cx="544" cy="399.8" r="3.6"/><circle cx="193.4" cy="400.7" r="3.6"/><circle cx="40" cy="395.5" r="3.6"/><circle cx="569.6" cy="398.4" r="3.6"/><circle cx="357.2" cy="401.4" r="3.6"/><circle cx="331.1" cy="400.6" r="3.6"/><circle cx="277.6" cy="399.6" r="3.6"/><circle cx="86.4" cy="401.7" r="3.6"/><circle cx="348.7" cy="401.1" r="3.6"/><circle cx="219.1" cy="396.3" r="3.6"/><circle cx="122.8" cy="398.5" r="3.6"/><circle cx="312.7" cy="400" r="3.6"/><circle cx="195.2" cy="400" r="3.6"/><circle cx="488.6" cy="400.9" r="3.6"/><circle cx="424.7" cy="395.4" r="3.6"/><circle cx="328.4" cy="397" r="3.6"/><circle cx="135.9" cy="397.3" r="3.6"/><circle cx="337.4" cy="401.4" r="3.6"/><circle cx="319" cy="397.6" r="3.6"/><circle cx="613.3" cy="396.7" r="3.6"/><circle cx="462.5" cy="400.6" r="3.6"/><circle cx="185.3" cy="401.4" r="3.6"/><circle cx="297.4" cy="399.7" r="3.6"/><circle cx="591.7" cy="400" r="3.6"/><circle cx="408.1" cy="397.4" r="3.6"/><circle cx="407.2" cy="400.7" r="3.6"/><circle cx="260.9" cy="401.4" r="3.6"/><circle cx="491.3" cy="400.6" r="3.6"/><circle cx="245.2" cy="399.4" r="3.6"/><circle cx="239.8" cy="399.8" r="3.6"/><circle cx="508.9" cy="398.7" r="3.6"/><circle cx="372.5" cy="401.4" r="3.6"/><circle cx="101.7" cy="399.7" r="3.6"/><circle cx="616" cy="399.5" r="3.6"/><circle cx="67" cy="401.3" r="3.6"/><circle cx="224" cy="397.4" r="3.6"/><circle cx="96.7" cy="400.4" r="3.6"/><circle cx="549.8" cy="399.7" r="3.6"/><circle cx="636.3" cy="401.6" r="3.6"/><circle cx="535.4" cy="401.6" r="3.6"/><circle cx="83.7" cy="397.9" r="3.6"/><circle cx="273.1" cy="399.3" r="3.6"/><circle cx="240.2" cy="396.9" r="3.6"/><circle cx="54.9" cy="396.9" r="3.6"/><circle cx="381.1" cy="399.4" r="3.6"/><circle cx="119.7" cy="399.3" r="3.6"/><circle cx="405.4" cy="397.1" r="3.6"/><circle cx="462.1" cy="398.7" r="3.6"/><circle cx="230.3" cy="398" r="3.6"/><circle cx="497.6" cy="401.4" r="3.6"/><circle cx="504.8" cy="397.5" r="3.6"/><circle cx="258.2" cy="400" r="3.6"/><circle cx="148.9" cy="398.2" r="3.6"/><circle cx="315.4" cy="401.4" r="3.6"/><circle cx="75.6" cy="401.5" r="3.6"/><circle cx="52.2" cy="400.4" r="3.6"/><circle cx="642.6" cy="398.6" r="3.6"/><circle cx="197.9" cy="397.7" r="3.6"/><circle cx="72.4" cy="400.7" r="3.6"/><circle cx="540.8" cy="401.3" r="3.6"/><circle cx="422.5" cy="400.9" r="3.6"/><circle cx="505.7" cy="401.7" r="3.6"/><circle cx="468.8" cy="401.5" r="3.6"/><circle cx="126" cy="397.8" r="3.6"/><circle cx="177.2" cy="401" r="3.6"/><circle cx="563.8" cy="399.5" r="3.6"/><circle cx="136.8" cy="399.9" r="3.6"/><circle cx="451.3" cy="395.3" r="3.6"/><circle cx="481.4" cy="397.5" r="3.6"/><circle cx="548.5" cy="398.4" r="3.6"/><circle cx="618.3" cy="400" r="3.6"/><circle cx="511.6" cy="398.1" r="3.6"/><circle cx="288.4" cy="397" r="3.6"/><circle cx="170.9" cy="398.4" r="3.6"/><circle cx="425.2" cy="401.1" r="3.6"/><circle cx="307.3" cy="396.9" r="3.6"/><circle cx="140.8" cy="400.5" r="3.6"/><circle cx="40.5" cy="399.1" r="3.6"/><circle cx="397.3" cy="397.9" r="3.6"/><circle cx="130.5" cy="400.6" r="3.6"/><circle cx="445" cy="399" r="3.6"/><circle cx="349.6" cy="400.5" r="3.6"/><circle cx="513.4" cy="397.3" r="3.6"/><circle cx="279.4" cy="398.9" r="3.6"/><circle cx="352.3" cy="397.4" r="3.6"/><circle cx="70.6" cy="398.7" r="3.6"/><circle cx="150.7" cy="397.7" r="3.6"/><circle cx="186.7" cy="395.8" r="3.6"/><circle cx="305.9" cy="401.5" r="3.6"/><circle cx="523.3" cy="397.9" r="3.6"/><circle cx="123.3" cy="400.4" r="3.6"/><circle cx="570.5" cy="400.8" r="3.6"/><circle cx="346.9" cy="401.2" r="3.6"/><circle cx="53.1" cy="399.6" r="3.6"/><circle cx="503" cy="397.4" r="3.6"/><circle cx="354.1" cy="400.5" r="3.6"/><circle cx="426.1" cy="398.2" r="3.6"/><circle cx="210.5" cy="399.3" r="3.6"/><circle cx="274.4" cy="399.4" r="3.6"/><circle cx="395.9" cy="401" r="3.6"/><circle cx="111.6" cy="401.6" r="3.6"/><circle cx="193.9" cy="398.8" r="3.6"/><circle cx="121.5" cy="401" r="3.6"/><circle cx="199.7" cy="396.9" r="3.6"/><circle cx="77.8" cy="398.2" r="3.6"/><circle cx="611.1" cy="399.5" r="3.6"/><circle cx="187.6" cy="401.5" r="3.6"/><circle cx="57.1" cy="401.6" r="3.6"/><circle cx="121.9" cy="397" r="3.6"/><circle cx="551.6" cy="400" r="3.6"/><circle cx="234.4" cy="398" r="3.6"/><circle cx="254.2" cy="400.6" r="3.6"/><circle cx="566" cy="396.6" r="3.6"/><circle cx="637.6" cy="398.9" r="3.6"/><circle cx="249.7" cy="401.2" r="3.6"/><circle cx="519.2" cy="401.5" r="3.6"/><circle cx="291.1" cy="398.9" r="3.6"/><circle cx="298.7" cy="398.3" r="3.6"/><circle cx="534.1" cy="400.1" r="3.6"/><circle cx="605.7" cy="399.6" r="3.6"/><circle cx="530.5" cy="397.3" r="3.6"/><circle cx="452.2" cy="398.9" r="3.6"/><circle cx="485" cy="400.3" r="3.6"/><circle cx="269.9" cy="398.6" r="3.6"/><circle cx="107.5" cy="400.2" r="3.6"/><circle cx="133.2" cy="399.3" r="3.6"/><circle cx="49.9" cy="400.2" r="3.6"/><circle cx="175.9" cy="401.3" r="3.6"/><circle cx="94.9" cy="400.9" r="3.6"/><circle cx="558.8" cy="401" r="3.6"/><circle cx="631.3" cy="398.3" r="3.6"/><circle cx="132.7" cy="400.3" r="3.6"/><circle cx="629.1" cy="397.2" r="3.6"/><circle cx="418.4" cy="401" r="3.6"/><circle cx="500.8" cy="400.7" r="3.6"/><circle cx="436" cy="397.6" r="3.6"/><circle cx="256.9" cy="397.5" r="3.6"/><circle cx="615.1" cy="397.7" r="3.6"/><circle cx="634.5" cy="398.3" r="3.6"/><circle cx="160.1" cy="397.1" r="3.6"/><circle cx="492.7" cy="401.2" r="3.6"/><circle cx="458.5" cy="400.8" r="3.6"/><circle cx="375.7" cy="396.6" r="3.6"/><circle cx="441.4" cy="398.2" r="3.6"/><circle cx="480.5" cy="399.1" r="3.6"/><circle cx="244.3" cy="399.2" r="3.6"/><circle cx="134.1" cy="399.7" r="3.6"/><circle cx="320.3" cy="401.6" r="3.6"/><circle cx="242" cy="400" r="3.6"/><circle cx="520.6" cy="401.1" r="3.6"/><circle cx="58.5" cy="399.6" r="3.6"/><circle cx="625.5" cy="401.4" r="3.6"/><circle cx="561.5" cy="400.1" r="3.6"/><circle cx="382.4" cy="399.8" r="3.6"/><circle cx="212.8" cy="400.7" r="3.6"/><circle cx="630" cy="401.3" r="3.6"/><circle cx="582.2" cy="399.6" r="3.6"/><circle cx="313.1" cy="399.5" r="3.6"/><circle cx="106.6" cy="400.6" r="3.6"/><circle cx="195.7" cy="400.5" r="3.6"/><circle cx="111.1" cy="400.7" r="3.6"/><circle cx="356.8" cy="400.3" r="3.6"/><circle cx="269" cy="401.7" r="3.6"/><circle cx="289.3" cy="400.8" r="3.6"/><circle cx="520.1" cy="396.3" r="3.6"/><circle cx="587.6" cy="401.2" r="3.6"/><circle cx="463" cy="396.6" r="3.6"/><circle cx="396.8" cy="396.9" r="3.6"/><circle cx="146.7" cy="398.1" r="3.6"/><circle cx="499.9" cy="401.3" r="3.6"/><circle cx="386.9" cy="397.9" r="3.6"/><circle cx="543.5" cy="400.2" r="3.6"/><circle cx="592.1" cy="401.2" r="3.6"/><circle cx="519.7" cy="400" r="3.6"/><circle cx="474.7" cy="401.6" r="3.6"/><circle cx="436.4" cy="401.3" r="3.6"/><circle cx="292.9" cy="400.7" r="3.6"/><circle cx="99.9" cy="396.2" r="3.6"/><circle cx="584" cy="400.6" r="3.6"/><circle cx="238" cy="399.5" r="3.6"/><circle cx="165.1" cy="401.1" r="3.6"/><circle cx="209.2" cy="399.2" r="3.6"/><circle cx="88.2" cy="398.3" r="3.6"/><circle cx="600.7" cy="401.2" r="3.6"/><circle cx="596.2" cy="400.8" r="3.6"/><circle cx="126.9" cy="401.4" r="3.6"/><circle cx="79.2" cy="399.4" r="3.6"/><circle cx="550.3" cy="400.2" r="3.6"/><circle cx="398.6" cy="399.9" r="3.6"/><circle cx="272.6" cy="399.9" r="3.6"/><circle cx="590.3" cy="399.4" r="3.6"/><circle cx="493.6" cy="401.7" r="3.6"/><circle cx="585.8" cy="400.1" r="3.6"/><circle cx="181.7" cy="396.7" r="3.6"/><circle cx="455.8" cy="398.9" r="3.6"/><circle cx="251.5" cy="400" r="3.6"/><circle cx="489.1" cy="400.8" r="3.6"/><circle cx="467" cy="401.5" r="3.6"/><circle cx="328" cy="400.6" r="3.6"/><circle cx="287.9" cy="400.7" r="3.6"/><circle cx="93.1" cy="398.9" r="3.6"/><circle cx="513.8" cy="399.2" r="3.6"/><circle cx="238.9" cy="400.4" r="3.6"/><circle cx="272.2" cy="397.7" r="3.6"/><circle cx="409" cy="400.7" r="3.6"/><circle cx="362.6" cy="401.1" r="3.6"/><circle cx="140.4" cy="400.4" r="3.6"/><circle cx="631.8" cy="400.3" r="3.6"/><circle cx="48.6" cy="400.6" r="3.6"/><circle cx="173.6" cy="397.5" r="3.6"/><circle cx="402.2" cy="400.9" r="3.6"/><circle cx="422" cy="399" r="3.6"/><circle cx="257.3" cy="401.4" r="3.6"/><circle cx="141.7" cy="401.6" r="3.6"/><circle cx="149.8" cy="400.7" r="3.6"/><circle cx="301.4" cy="399.1" r="3.6"/><circle cx="444.1" cy="401" r="3.6"/><circle cx="517.9" cy="401.4" r="3.6"/><circle cx="464.3" cy="400.7" r="3.6"/><circle cx="77.4" cy="398.5" r="3.6"/><circle cx="222.2" cy="401.2" r="3.6"/><circle cx="478.7" cy="400.8" r="3.6"/><circle cx="233.9" cy="398" r="3.6"/><circle cx="221.3" cy="398" r="3.6"/><circle cx="267.7" cy="399.3" r="3.6"/><circle cx="46.3" cy="400.3" r="3.6"/><circle cx="607.5" cy="401" r="3.6"/><circle cx="162.4" cy="399.2" r="3.6"/><circle cx="157" cy="401.1" r="3.6"/><circle cx="544.9" cy="400.1" r="3.6"/><circle cx="205.6" cy="401.4" r="3.6"/><circle cx="291.5" cy="400.9" r="3.6"/><circle cx="394.1" cy="401.4" r="3.6"/><circle cx="224.9" cy="400.2" r="3.6"/><circle cx="498.5" cy="399.2" r="3.6"/><circle cx="518.3" cy="401.5" r="3.6"/><circle cx="68.4" cy="401.1" r="3.6"/><circle cx="236.6" cy="400.9" r="3.6"/><circle cx="389.2" cy="400.5" r="3.6"/><circle cx="383.8" cy="400.6" r="3.6"/><circle cx="232.1" cy="399.6" r="3.6"/><circle cx="391" cy="401.3" r="3.6"/><circle cx="640.8" cy="399.4" r="3.6"/><circle cx="524.2" cy="399.5" r="3.6"/><circle cx="172.3" cy="400.7" r="3.6"/><circle cx="296.9" cy="400.8" r="3.6"/><circle cx="506.2" cy="401" r="3.6"/><circle cx="253.7" cy="401.2" r="3.6"/><circle cx="135.4" cy="401.7" r="3.6"/><circle cx="477.8" cy="401" r="3.6"/><circle cx="411.7" cy="397.7" r="3.6"/><circle cx="507.1" cy="400.6" r="3.6"/><circle cx="50.8" cy="401.3" r="3.6"/><circle cx="317.6" cy="399" r="3.6"/><circle cx="474.2" cy="401.7" r="3.6"/><circle cx="591.2" cy="396.9" r="3.6"/><circle cx="400.9" cy="401.4" r="3.6"/><circle cx="559.7" cy="400.4" r="3.6"/><circle cx="180.8" cy="401.6" r="3.6"/><circle cx="130.9" cy="401.7" r="3.6"/><circle cx="164.6" cy="401" r="3.6"/><circle cx="227.6" cy="396.9" r="3.6"/><circle cx="402.7" cy="401" r="3.6"/><circle cx="639.4" cy="398.9" r="3.6"/><circle cx="152" cy="399.6" r="3.6"/><circle cx="518.8" cy="399.9" r="3.6"/><circle cx="546.2" cy="400.8" r="3.6"/><circle cx="348.2" cy="400.9" r="3.6"/><circle cx="386.5" cy="401.1" r="3.6"/><circle cx="218.2" cy="400.9" r="3.6"/><circle cx="49" cy="400.1" r="3.6"/><circle cx="447.2" cy="400.3" r="3.6"/><circle cx="139.5" cy="401.2" r="3.6"/><circle cx="359" cy="400.6" r="3.6"/><circle cx="494.9" cy="401.5" r="3.6"/><circle cx="220" cy="399.6" r="3.6"/><circle cx="233.5" cy="400.8" r="3.6"/><circle cx="553" cy="401.7" r="3.6"/><circle cx="567.8" cy="400.6" r="3.6"/><circle cx="91.8" cy="401.4" r="3.6"/><circle cx="295.1" cy="401.3" r="3.6"/><circle cx="299.2" cy="401.3" r="3.6"/><circle cx="610.6" cy="401.1" r="3.6"/><circle cx="597.1" cy="401.5" r="3.6"/><circle cx="578" cy="392.5" r="3.6"/><circle cx="587" cy="392" r="3.6"/><circle cx="596" cy="392.5" r="3.6"/><circle cx="623" cy="402.5" r="3.6"/><circle cx="224" cy="392.6" r="3.6"/><circle cx="320" cy="393" r="3.6"/><circle cx="430" cy="393" r="3.6"/></g></g><line x1="40.5" y1="489.4" x2="646" y2="489.4" stroke="#000" stroke-width="1.25" stroke-dasharray="8.2,8.6"/><line x1="259.4" y1="421" x2="259.4" y2="513" stroke="#000" stroke-width="1.25" stroke-dasharray="8.2,8.6"/><line x1="505" y1="416" x2="505" y2="508" stroke="#000" stroke-width="1.25" stroke-dasharray="8.2,8.6"/><polyline points="74.3,474.3 74.3,451.7 46,451.7" fill="none" stroke="#ff0000" stroke-width="1.35"/><polygon points="41,451.7 50,449.3 50,451.7 50,454.1" fill="#ff0000"/><polyline points="610.8,406.9 610.8,429.2 638,429.2" fill="none" stroke="#0000ff" stroke-width="1.35"/><polygon points="643.8,429.2 634.3,427 634.3,429.2 634.3,431.4" fill="#0000ff"/><text x="172.3" y="445.3" font-size="8.2" textLength="85.3" lengthAdjust="spacingAndGlyphs" fill="#222">95% capacity retention</text><text x="208" y="458.4" font-size="8.2" textLength="46" lengthAdjust="spacingAndGlyphs" fill="#222">(746 cycles)</text><text x="412.9" y="448" font-size="8.2" textLength="86.7" lengthAdjust="spacingAndGlyphs" fill="#222">90% capacity retention</text><text x="449" y="462" font-size="8.2" textLength="51.5" lengthAdjust="spacingAndGlyphs" fill="#222">(1577 cycles)</text><text x="544" y="455.4" font-size="8.2" textLength="99" lengthAdjust="spacingAndGlyphs" fill="#222">82.06% capacity retention</text><text x="591.5" y="466.6" font-size="8.2" textLength="52" lengthAdjust="spacingAndGlyphs" fill="#222">(2059 cycles)</text><line x1="242.4" y1="459.2" x2="255.8" y2="473.8" stroke="#000" stroke-width="1.2"/><polygon points="258.5,476.7 250.8,472.2 254.5,472.3 254.7,468.7" fill="#000"/><line x1="487.4" y1="464.5" x2="499.9" y2="477" stroke="#000" stroke-width="1.2"/><polygon points="502.7,479.8 494.9,475.6 498.5,475.6 498.5,472" fill="#000"/><line x1="629" y1="468" x2="642.1" y2="480.3" stroke="#000" stroke-width="1.2"/><polygon points="645,483 637,479.1 640.7,478.9 640.6,475.3" fill="#000"/><text x="490" y="518" font-size="8.2" fill="#222">Li-In | LPSCl-LZACO | LCO</text><text x="490" y="532.6" font-size="8.2" textLength="152.5" lengthAdjust="spacingAndGlyphs" fill="#222">25 °C, 1580 mA g<tspan dy="-3.2" font-size="6">-1</tspan><tspan dy="3.2"> (10 C), 5.44 mg cm<tspan dy="-3.2" font-size="6">-2</tspan><tspan dy="3.2"></tspan></tspan></text><text x="490" y="548" font-size="8.2" fill="#222">2.5 — 4.3 V vs. Li/Li<tspan dy="-3.2" font-size="6">+</tspan><tspan dy="3.2"></tspan></text><line x1="74.6" y1="515.2" x2="94.5" y2="515.2" stroke="#000" stroke-width="1.3"/><circle cx="84.3" cy="515.2" r="3.5" fill="url(#hk)"/><text x="97.1" y="518.2" font-size="8.3" fill="#222">Charge</text><line x1="74.6" y1="528.7" x2="94.5" y2="528.7" stroke="#ff0000" stroke-width="1.3"/><circle cx="84.3" cy="528.7" r="3.5" fill="url(#hr)"/><text x="97.1" y="531.7" font-size="8.3" fill="#222">Discharge</text><line x1="74.6" y1="542.2" x2="94.5" y2="542.2" stroke="#0000ff" stroke-width="1.3"/><circle cx="84.3" cy="542.2" r="3.5" fill="url(#hb)"/><text x="97.1" y="545.2" font-size="8.3" fill="#222">Coulombic efficiency</text><rect x="39" y="382.6" width="607" height="166.8" fill="none" stroke="#000" stroke-width="1.4"/><line x1="39" y1="549.4" x2="35.2" y2="549.4" stroke="#000" stroke-width="1.3"/><text x="32" y="553" font-size="10.2" font-weight="bold" text-anchor="end" textLength="5.4" lengthAdjust="spacingAndGlyphs">0</text><line x1="39" y1="516" x2="35.2" y2="516" stroke="#000" stroke-width="1.3"/><text x="32" y="519.6" font-size="10.2" font-weight="bold" text-anchor="end" textLength="10.8" lengthAdjust="spacingAndGlyphs">40</text><line x1="39" y1="482.7" x2="35.2" y2="482.7" stroke="#000" stroke-width="1.3"/><text x="32" y="486.3" font-size="10.2" font-weight="bold" text-anchor="end" textLength="10.8" lengthAdjust="spacingAndGlyphs">80</text><line x1="39" y1="449.3" x2="35.2" y2="449.3" stroke="#000" stroke-width="1.3"/><text x="32" y="452.9" font-size="10.2" font-weight="bold" text-anchor="end" textLength="16.2" lengthAdjust="spacingAndGlyphs">120</text><line x1="39" y1="416" x2="35.2" y2="416" stroke="#000" stroke-width="1.3"/><text x="32" y="419.6" font-size="10.2" font-weight="bold" text-anchor="end" textLength="16.2" lengthAdjust="spacingAndGlyphs">160</text><line x1="39" y1="382.6" x2="35.2" y2="382.6" stroke="#000" stroke-width="1.3"/><text x="32" y="386.2" font-size="10.2" font-weight="bold" text-anchor="end" textLength="16.2" lengthAdjust="spacingAndGlyphs">200</text><line x1="39" y1="532.7" x2="36.9" y2="532.7" stroke="#000" stroke-width="1.2"/><line x1="39" y1="499.4" x2="36.9" y2="499.4" stroke="#000" stroke-width="1.2"/><line x1="39" y1="466" x2="36.9" y2="466" stroke="#000" stroke-width="1.2"/><line x1="39" y1="432.6" x2="36.9" y2="432.6" stroke="#000" stroke-width="1.2"/><line x1="39" y1="399.3" x2="36.9" y2="399.3" stroke="#000" stroke-width="1.2"/><line x1="646" y1="548.9" x2="649.8" y2="548.9" stroke="#000" stroke-width="1.3"/><text x="653.4" y="552.5" font-size="10.2" font-weight="bold" textLength="10.8" lengthAdjust="spacingAndGlyphs">70</text><line x1="646" y1="498.4" x2="649.8" y2="498.4" stroke="#000" stroke-width="1.3"/><text x="653.4" y="502" font-size="10.2" font-weight="bold" textLength="10.8" lengthAdjust="spacingAndGlyphs">80</text><line x1="646" y1="447.9" x2="649.8" y2="447.9" stroke="#000" stroke-width="1.3"/><text x="653.4" y="451.5" font-size="10.2" font-weight="bold" textLength="10.8" lengthAdjust="spacingAndGlyphs">90</text><line x1="646" y1="397.4" x2="649.8" y2="397.4" stroke="#000" stroke-width="1.3"/><text x="653.4" y="401" font-size="10.2" font-weight="bold" textLength="16.2" lengthAdjust="spacingAndGlyphs">100</text><line x1="646" y1="523.6" x2="648.1" y2="523.6" stroke="#000" stroke-width="1.2"/><line x1="646" y1="473.1" x2="648.1" y2="473.1" stroke="#000" stroke-width="1.2"/><line x1="646" y1="422.6" x2="648.1" y2="422.6" stroke="#000" stroke-width="1.2"/><line x1="39" y1="549.4" x2="39" y2="553.2" stroke="#000" stroke-width="1.3"/><text x="39" y="565" font-size="10.2" font-weight="bold" text-anchor="middle" textLength="5.4" lengthAdjust="spacingAndGlyphs">0</text><line x1="112.8" y1="549.4" x2="112.8" y2="553.2" stroke="#000" stroke-width="1.3"/><text x="112.8" y="565" font-size="10.2" font-weight="bold" text-anchor="middle" textLength="16.2" lengthAdjust="spacingAndGlyphs">250</text><line x1="186.5" y1="549.4" x2="186.5" y2="553.2" stroke="#000" stroke-width="1.3"/><text x="186.5" y="565" font-size="10.2" font-weight="bold" text-anchor="middle" textLength="16.2" lengthAdjust="spacingAndGlyphs">500</text><line x1="260.2" y1="549.4" x2="260.2" y2="553.2" stroke="#000" stroke-width="1.3"/><text x="260.2" y="565" font-size="10.2" font-weight="bold" text-anchor="middle" textLength="16.2" lengthAdjust="spacingAndGlyphs">750</text><line x1="334" y1="549.4" x2="334" y2="553.2" stroke="#000" stroke-width="1.3"/><text x="334" y="565" font-size="10.2" font-weight="bold" text-anchor="middle" textLength="21.6" lengthAdjust="spacingAndGlyphs">1000</text><line x1="407.8" y1="549.4" x2="407.8" y2="553.2" stroke="#000" stroke-width="1.3"/><text x="407.8" y="565" font-size="10.2" font-weight="bold" text-anchor="middle" textLength="21.6" lengthAdjust="spacingAndGlyphs">1250</text><line x1="481.5" y1="549.4" x2="481.5" y2="553.2" stroke="#000" stroke-width="1.3"/><text x="481.5" y="565" font-size="10.2" font-weight="bold" text-anchor="middle" textLength="21.6" lengthAdjust="spacingAndGlyphs">1500</text><line x1="555.2" y1="549.4" x2="555.2" y2="553.2" stroke="#000" stroke-width="1.3"/><text x="555.2" y="565" font-size="10.2" font-weight="bold" text-anchor="middle" textLength="21.6" lengthAdjust="spacingAndGlyphs">1750</text><line x1="629" y1="549.4" x2="629" y2="553.2" stroke="#000" stroke-width="1.3"/><text x="629" y="565" font-size="10.2" font-weight="bold" text-anchor="middle" textLength="21.6" lengthAdjust="spacingAndGlyphs">2000</text><line x1="75.9" y1="549.4" x2="75.9" y2="551.5" stroke="#000" stroke-width="1.2"/><line x1="149.6" y1="549.4" x2="149.6" y2="551.5" stroke="#000" stroke-width="1.2"/><line x1="223.4" y1="549.4" x2="223.4" y2="551.5" stroke="#000" stroke-width="1.2"/><line x1="297.1" y1="549.4" x2="297.1" y2="551.5" stroke="#000" stroke-width="1.2"/><line x1="370.9" y1="549.4" x2="370.9" y2="551.5" stroke="#000" stroke-width="1.2"/><line x1="444.6" y1="549.4" x2="444.6" y2="551.5" stroke="#000" stroke-width="1.2"/><line x1="518.4" y1="549.4" x2="518.4" y2="551.5" stroke="#000" stroke-width="1.2"/><line x1="592.1" y1="549.4" x2="592.1" y2="551.5" stroke="#000" stroke-width="1.2"/><text transform="translate(10.8,466) rotate(-90)" font-size="11.5" font-weight="bold" text-anchor="middle" textLength="101" lengthAdjust="spacingAndGlyphs">Capacity (mAh g<tspan dy="-3.6" font-size="7">-1</tspan><tspan dy="3.6">)</tspan></text><text transform="translate(681.3,466) rotate(-90)" font-size="11.5" font-weight="bold" text-anchor="middle" textLength="135.8" lengthAdjust="spacingAndGlyphs">Coulombic efficiency (%)</text><text x="343" y="580" font-size="11.5" font-weight="bold" text-anchor="middle" textLength="82.8" lengthAdjust="spacingAndGlyphs">Cycle number</text><text x="3.5" y="596" font-size="11" font-weight="bold">h</text><clipPath id="cph"><rect x="39.7" y="598.4" width="605.6" height="167.10000000000002"/></clipPath><g clip-path="url(#cph)"><g fill="url(#lk)"><circle cx="40" cy="689.4" r="3.4"/><circle cx="41.5" cy="689.9" r="3.4"/><circle cx="43" cy="690.1" r="3.4"/><circle cx="44.5" cy="689.6" r="3.4"/><circle cx="46" cy="689.3" r="3.4"/><circle cx="47.5" cy="689.7" r="3.4"/><circle cx="49" cy="689.9" r="3.4"/><circle cx="50.5" cy="690" r="3.4"/><circle cx="52" cy="689.3" r="3.4"/><circle cx="53.5" cy="689.3" r="3.4"/><circle cx="55" cy="689.9" r="3.4"/><circle cx="56.5" cy="689.8" r="3.4"/><circle cx="58" cy="690.1" r="3.4"/><circle cx="59.5" cy="689.9" r="3.4"/><circle cx="61" cy="689.5" r="3.4"/><circle cx="62.5" cy="689.5" r="3.4"/><circle cx="64" cy="690.3" r="3.4"/><circle cx="65.5" cy="689.4" r="3.4"/><circle cx="67" cy="689.2" r="3.4"/><circle cx="68.5" cy="689" r="3.4"/><circle cx="70" cy="689.4" r="3.4"/><circle cx="71.5" cy="689.3" r="3.4"/><circle cx="73" cy="689.1" r="3.4"/><circle cx="74.5" cy="689.2" r="3.4"/><circle cx="76" cy="689.4" r="3.4"/><circle cx="77.5" cy="689.8" r="3.4"/><circle cx="79" cy="690.1" r="3.4"/><circle cx="80.5" cy="690" r="3.4"/><circle cx="82" cy="689.6" r="3.4"/><circle cx="83.5" cy="690.6" r="3.4"/><circle cx="85" cy="690.2" r="3.4"/><circle cx="86.5" cy="690.6" r="3.4"/><circle cx="88" cy="690.2" r="3.4"/><circle cx="89.5" cy="690.7" r="3.4"/><circle cx="91" cy="690.4" r="3.4"/><circle cx="92.5" cy="690.7" r="3.4"/><circle cx="94" cy="691.7" r="3.4"/><circle cx="95.5" cy="690.7" r="3.4"/><circle cx="97" cy="691" r="3.4"/><circle cx="98.5" cy="690.4" r="3.4"/><circle cx="100" cy="690.7" r="3.4"/><circle cx="101.5" cy="691" r="3.4"/><circle cx="103" cy="690.8" r="3.4"/><circle cx="104.5" cy="690.9" r="3.4"/><circle cx="106" cy="690.9" r="3.4"/><circle cx="107.5" cy="690.5" r="3.4"/><circle cx="109" cy="691" r="3.4"/><circle cx="110.5" cy="690.6" r="3.4"/><circle cx="112" cy="691.5" r="3.4"/><circle cx="113.5" cy="690.8" r="3.4"/><circle cx="115" cy="691.1" r="3.4"/><circle cx="116.5" cy="691" r="3.4"/><circle cx="118" cy="691.3" r="3.4"/><circle cx="119.5" cy="690.8" r="3.4"/><circle cx="121" cy="691.3" r="3.4"/><circle cx="122.5" cy="691" r="3.4"/><circle cx="124" cy="691.4" r="3.4"/><circle cx="125.5" cy="691.2" r="3.4"/><circle cx="127" cy="691.1" r="3.4"/><circle cx="128.5" cy="690.8" r="3.4"/><circle cx="130" cy="691.3" r="3.4"/><circle cx="131.5" cy="691.3" r="3.4"/><circle cx="133" cy="691.7" r="3.4"/><circle cx="134.5" cy="691.2" r="3.4"/><circle cx="136" cy="691.5" r="3.4"/><circle cx="137.5" cy="691.6" r="3.4"/><circle cx="139" cy="691.5" r="3.4"/><circle cx="140.5" cy="691.6" r="3.4"/><circle cx="142" cy="691.6" r="3.4"/><circle cx="143.5" cy="691.5" r="3.4"/><circle cx="145" cy="691.4" r="3.4"/><circle cx="146.5" cy="691.6" r="3.4"/><circle cx="148" cy="692" r="3.4"/><circle cx="149.5" cy="692.3" r="3.4"/><circle cx="151" cy="692.2" r="3.4"/><circle cx="152.5" cy="692.3" r="3.4"/><circle cx="154" cy="692.3" r="3.4"/><circle cx="155.5" cy="692.3" r="3.4"/><circle cx="157" cy="692.2" r="3.4"/><circle cx="158.5" cy="692.4" r="3.4"/><circle cx="160" cy="692.8" r="3.4"/><circle cx="161.5" cy="692.2" r="3.4"/><circle cx="163" cy="692.1" r="3.4"/><circle cx="164.5" cy="692.9" r="3.4"/><circle cx="166" cy="692.5" r="3.4"/><circle cx="167.5" cy="692.7" r="3.4"/><circle cx="169" cy="692.7" r="3.4"/><circle cx="170.5" cy="692.2" r="3.4"/><circle cx="172" cy="693.3" r="3.4"/><circle cx="173.5" cy="693.1" r="3.4"/><circle cx="175" cy="692.7" r="3.4"/><circle cx="176.5" cy="692.9" r="3.4"/><circle cx="178" cy="692.8" r="3.4"/><circle cx="179.5" cy="692.5" r="3.4"/><circle cx="181" cy="692.8" r="3.4"/><circle cx="182.5" cy="693" r="3.4"/><circle cx="184" cy="693.2" r="3.4"/><circle cx="185.5" cy="693.1" r="3.4"/><circle cx="187" cy="693" r="3.4"/><circle cx="188.5" cy="693.4" r="3.4"/><circle cx="190" cy="692.8" r="3.4"/><circle cx="191.5" cy="693.3" r="3.4"/><circle cx="193" cy="693.5" r="3.4"/><circle cx="194.5" cy="693.1" r="3.4"/><circle cx="196" cy="692.7" r="3.4"/><circle cx="197.5" cy="693" r="3.4"/><circle cx="199" cy="693.4" r="3.4"/><circle cx="200.5" cy="693.5" r="3.4"/><circle cx="202" cy="693.8" r="3.4"/><circle cx="203.5" cy="693" r="3.4"/><circle cx="205" cy="693.4" r="3.4"/><circle cx="206.5" cy="693.6" r="3.4"/><circle cx="208" cy="693.3" r="3.4"/><circle cx="209.5" cy="692.7" r="3.4"/><circle cx="211" cy="693.7" r="3.4"/><circle cx="212.5" cy="694.1" r="3.4"/><circle cx="214" cy="693.7" r="3.4"/><circle cx="215.5" cy="693.2" r="3.4"/><circle cx="217" cy="693.4" r="3.4"/><circle cx="218.5" cy="693.6" r="3.4"/><circle cx="220" cy="694.2" r="3.4"/><circle cx="221.5" cy="693.7" r="3.4"/><circle cx="223" cy="693.6" r="3.4"/><circle cx="224.5" cy="694" r="3.4"/><circle cx="226" cy="693.5" r="3.4"/><circle cx="227.5" cy="694.1" r="3.4"/><circle cx="229" cy="693.4" r="3.4"/><circle cx="230.5" cy="693.5" r="3.4"/><circle cx="232" cy="693.9" r="3.4"/><circle cx="233.5" cy="694.1" r="3.4"/><circle cx="235" cy="693.9" r="3.4"/><circle cx="236.5" cy="693.9" r="3.4"/><circle cx="238" cy="693.3" r="3.4"/><circle cx="239.5" cy="693.7" r="3.4"/><circle cx="241" cy="693.7" r="3.4"/><circle cx="242.5" cy="693.8" r="3.4"/><circle cx="244" cy="694.2" r="3.4"/><circle cx="245.5" cy="693.9" r="3.4"/><circle cx="247" cy="694.3" r="3.4"/><circle cx="248.5" cy="694.2" r="3.4"/><circle cx="250" cy="694.1" r="3.4"/><circle cx="251.5" cy="694.2" r="3.4"/><circle cx="253" cy="694.4" r="3.4"/><circle cx="254.5" cy="694.6" r="3.4"/><circle cx="256" cy="694.2" r="3.4"/><circle cx="257.5" cy="694.3" r="3.4"/><circle cx="259" cy="694" r="3.4"/><circle cx="260.5" cy="695" r="3.4"/><circle cx="262" cy="694.9" r="3.4"/><circle cx="263.5" cy="694.5" r="3.4"/><circle cx="265" cy="694.5" r="3.4"/><circle cx="266.5" cy="694.3" r="3.4"/><circle cx="268" cy="694.7" r="3.4"/><circle cx="269.5" cy="694.8" r="3.4"/><circle cx="271" cy="695.4" r="3.4"/><circle cx="272.5" cy="694.9" r="3.4"/><circle cx="274" cy="694.6" r="3.4"/><circle cx="275.5" cy="694.2" r="3.4"/><circle cx="277" cy="695.4" r="3.4"/><circle cx="278.5" cy="695" r="3.4"/><circle cx="280" cy="694.5" r="3.4"/><circle cx="281.5" cy="695.1" r="3.4"/><circle cx="283" cy="694.6" r="3.4"/><circle cx="284.5" cy="696.2" r="3.4"/><circle cx="286" cy="695.5" r="3.4"/><circle cx="287.5" cy="695.4" r="3.4"/><circle cx="289" cy="695.2" r="3.4"/><circle cx="290.5" cy="694.7" r="3.4"/><circle cx="292" cy="695.3" r="3.4"/><circle cx="293.5" cy="694.9" r="3.4"/><circle cx="295" cy="695.6" r="3.4"/><circle cx="296.5" cy="694.9" r="3.4"/><circle cx="298" cy="695.3" r="3.4"/><circle cx="299.5" cy="696" r="3.4"/><circle cx="301" cy="696.1" r="3.4"/><circle cx="302.5" cy="695.3" r="3.4"/><circle cx="304" cy="695.2" r="3.4"/><circle cx="305.5" cy="695.9" r="3.4"/><circle cx="307" cy="695.9" r="3.4"/><circle cx="308.5" cy="695.4" r="3.4"/><circle cx="310" cy="695.5" r="3.4"/><circle cx="311.5" cy="695.5" r="3.4"/><circle cx="313" cy="695.4" r="3.4"/><circle cx="314.5" cy="695.6" r="3.4"/><circle cx="316" cy="696.2" r="3.4"/><circle cx="317.5" cy="696" r="3.4"/><circle cx="319" cy="696.5" r="3.4"/><circle cx="320.5" cy="695.8" r="3.4"/><circle cx="322" cy="695.8" r="3.4"/><circle cx="323.5" cy="695.6" r="3.4"/><circle cx="325" cy="695.9" r="3.4"/><circle cx="326.5" cy="695.5" r="3.4"/><circle cx="328" cy="695.4" r="3.4"/><circle cx="329.5" cy="696.2" r="3.4"/><circle cx="331" cy="696.4" r="3.4"/><circle cx="332.5" cy="696.3" r="3.4"/><circle cx="334" cy="696.4" r="3.4"/><circle cx="335.5" cy="696.1" r="3.4"/><circle cx="337" cy="695.8" r="3.4"/><circle cx="338.5" cy="696.1" r="3.4"/><circle cx="340" cy="696" r="3.4"/><circle cx="341.5" cy="695.8" r="3.4"/><circle cx="343" cy="695.8" r="3.4"/><circle cx="344.5" cy="695.9" r="3.4"/><circle cx="346" cy="696.4" r="3.4"/><circle cx="347.5" cy="696.6" r="3.4"/><circle cx="349" cy="696.5" r="3.4"/><circle cx="350.5" cy="697.1" r="3.4"/><circle cx="352" cy="696.8" r="3.4"/><circle cx="353.5" cy="697" r="3.4"/><circle cx="355" cy="697.3" r="3.4"/><circle cx="356.5" cy="696.8" r="3.4"/><circle cx="358" cy="696.5" r="3.4"/><circle cx="359.5" cy="697.4" r="3.4"/><circle cx="361" cy="697.1" r="3.4"/><circle cx="362.5" cy="697.7" r="3.4"/><circle cx="364" cy="695.8" r="3.4"/><circle cx="365.5" cy="694.2" r="3.4"/><circle cx="367" cy="694.2" r="3.4"/><circle cx="368.5" cy="693.3" r="3.4"/><circle cx="370" cy="694.2" r="3.4"/><circle cx="371.5" cy="693.8" r="3.4"/><circle cx="373" cy="693.7" r="3.4"/><circle cx="374.5" cy="693.9" r="3.4"/><circle cx="376" cy="694.2" r="3.4"/><circle cx="377.5" cy="694.3" r="3.4"/><circle cx="379" cy="694.3" r="3.4"/><circle cx="380.5" cy="693.5" r="3.4"/><circle cx="382" cy="693.9" r="3.4"/><circle cx="383.5" cy="693.3" r="3.4"/><circle cx="385" cy="694" r="3.4"/><circle cx="386.5" cy="694.3" r="3.4"/><circle cx="388" cy="693.9" r="3.4"/><circle cx="389.5" cy="694.2" r="3.4"/><circle cx="391" cy="694.2" r="3.4"/><circle cx="392.5" cy="694.4" r="3.4"/><circle cx="394" cy="693.9" r="3.4"/><circle cx="395.5" cy="693.9" r="3.4"/><circle cx="397" cy="693.9" r="3.4"/><circle cx="398.5" cy="694.7" r="3.4"/><circle cx="400" cy="694.5" r="3.4"/><circle cx="401.5" cy="694.2" r="3.4"/><circle cx="403" cy="694.4" r="3.4"/><circle cx="404.5" cy="694.4" r="3.4"/><circle cx="406" cy="694.5" r="3.4"/><circle cx="407.5" cy="694.5" r="3.4"/><circle cx="409" cy="694.5" r="3.4"/><circle cx="410.5" cy="694.3" r="3.4"/><circle cx="412" cy="694.6" r="3.4"/><circle cx="413.5" cy="695.3" r="3.4"/><circle cx="415" cy="695.1" r="3.4"/><circle cx="416.5" cy="695.3" r="3.4"/><circle cx="418" cy="695.6" r="3.4"/><circle cx="419.5" cy="696.1" r="3.4"/><circle cx="421" cy="696.6" r="3.4"/><circle cx="422.5" cy="696.7" r="3.4"/><circle cx="424" cy="697.4" r="3.4"/><circle cx="425.5" cy="697.6" r="3.4"/><circle cx="427" cy="697.2" r="3.4"/><circle cx="428.5" cy="697.1" r="3.4"/><circle cx="430" cy="696.9" r="3.4"/><circle cx="431.5" cy="696.7" r="3.4"/><circle cx="433" cy="697.2" r="3.4"/><circle cx="434.5" cy="696.1" r="3.4"/><circle cx="436" cy="696.6" r="3.4"/><circle cx="437.5" cy="696.3" r="3.4"/><circle cx="439" cy="696.2" r="3.4"/><circle cx="440.5" cy="696.4" r="3.4"/><circle cx="442" cy="696.8" r="3.4"/><circle cx="443.5" cy="696.7" r="3.4"/><circle cx="445" cy="696.8" r="3.4"/><circle cx="446.5" cy="696.8" r="3.4"/><circle cx="448" cy="697.1" r="3.4"/><circle cx="449.5" cy="697.6" r="3.4"/><circle cx="451" cy="697.3" r="3.4"/><circle cx="452.5" cy="697.3" r="3.4"/><circle cx="454" cy="697.4" r="3.4"/><circle cx="455.5" cy="697.6" r="3.4"/><circle cx="457" cy="697.7" r="3.4"/><circle cx="458.5" cy="698.6" r="3.4"/><circle cx="460" cy="698.5" r="3.4"/><circle cx="461.5" cy="698.3" r="3.4"/><circle cx="463" cy="698.7" r="3.4"/><circle cx="464.5" cy="698.1" r="3.4"/><circle cx="466" cy="698.4" r="3.4"/><circle cx="467.5" cy="698.4" r="3.4"/><circle cx="469" cy="697.7" r="3.4"/><circle cx="470.5" cy="697.6" r="3.4"/><circle cx="472" cy="697.9" r="3.4"/><circle cx="473.5" cy="698.5" r="3.4"/><circle cx="475" cy="698.7" r="3.4"/><circle cx="476.5" cy="697.9" r="3.4"/><circle cx="478" cy="698.7" r="3.4"/><circle cx="479.5" cy="698.3" r="3.4"/><circle cx="481" cy="698.3" r="3.4"/><circle cx="482.5" cy="698.3" r="3.4"/><circle cx="484" cy="698.5" r="3.4"/><circle cx="485.5" cy="698.1" r="3.4"/><circle cx="487" cy="698.4" r="3.4"/><circle cx="488.5" cy="698.3" r="3.4"/><circle cx="490" cy="698.9" r="3.4"/><circle cx="491.5" cy="699.4" r="3.4"/><circle cx="493" cy="699.7" r="3.4"/><circle cx="494.5" cy="698.8" r="3.4"/><circle cx="496" cy="698.4" r="3.4"/><circle cx="497.5" cy="698.9" r="3.4"/><circle cx="499" cy="698.8" r="3.4"/><circle cx="500.5" cy="699.7" r="3.4"/><circle cx="502" cy="699.3" r="3.4"/><circle cx="503.5" cy="699" r="3.4"/><circle cx="505" cy="699.5" r="3.4"/><circle cx="506.5" cy="699.4" r="3.4"/><circle cx="508" cy="698.8" r="3.4"/><circle cx="509.5" cy="699.2" r="3.4"/><circle cx="511" cy="699.4" r="3.4"/><circle cx="512.5" cy="699.5" r="3.4"/><circle cx="514" cy="699.7" r="3.4"/><circle cx="515.5" cy="699.6" r="3.4"/><circle cx="517" cy="699.8" r="3.4"/><circle cx="518.5" cy="699.7" r="3.4"/><circle cx="520" cy="699.7" r="3.4"/><circle cx="521.5" cy="700.5" r="3.4"/><circle cx="523" cy="700.2" r="3.4"/><circle cx="524.5" cy="700.3" r="3.4"/><circle cx="526" cy="699.8" r="3.4"/><circle cx="527.5" cy="700.3" r="3.4"/><circle cx="529" cy="700.6" r="3.4"/><circle cx="530.5" cy="700.1" r="3.4"/><circle cx="532" cy="700.9" r="3.4"/><circle cx="533.5" cy="700.5" r="3.4"/><circle cx="535" cy="700.8" r="3.4"/><circle cx="536.5" cy="700.8" r="3.4"/><circle cx="538" cy="700.9" r="3.4"/><circle cx="539.5" cy="701.3" r="3.4"/><circle cx="541" cy="700.9" r="3.4"/><circle cx="542.5" cy="701.6" r="3.4"/><circle cx="544" cy="701" r="3.4"/><circle cx="545.5" cy="701" r="3.4"/><circle cx="547" cy="701.6" r="3.4"/><circle cx="548.5" cy="701.1" r="3.4"/><circle cx="550" cy="701.4" r="3.4"/><circle cx="551.5" cy="701.9" r="3.4"/><circle cx="553" cy="702" r="3.4"/><circle cx="554.5" cy="701.2" r="3.4"/><circle cx="556" cy="702" r="3.4"/><circle cx="557.5" cy="702.5" r="3.4"/><circle cx="559" cy="702.3" r="3.4"/><circle cx="560.5" cy="702" r="3.4"/><circle cx="562" cy="702" r="3.4"/><circle cx="563.5" cy="702.1" r="3.4"/><circle cx="565" cy="701.9" r="3.4"/><circle cx="566.5" cy="702.3" r="3.4"/><circle cx="568" cy="702.4" r="3.4"/><circle cx="569.5" cy="702.5" r="3.4"/><circle cx="571" cy="702.9" r="3.4"/><circle cx="572.5" cy="702.6" r="3.4"/><circle cx="574" cy="702.3" r="3.4"/><circle cx="575.5" cy="703.1" r="3.4"/><circle cx="577" cy="702.5" r="3.4"/><circle cx="578.5" cy="702.7" r="3.4"/><circle cx="580" cy="702.9" r="3.4"/><circle cx="581.5" cy="702.9" r="3.4"/><circle cx="583" cy="702.8" r="3.4"/><circle cx="584.5" cy="703.1" r="3.4"/><circle cx="586" cy="703.8" r="3.4"/><circle cx="587.5" cy="703.1" r="3.4"/><circle cx="589" cy="703.3" r="3.4"/><circle cx="590.5" cy="703.7" r="3.4"/><circle cx="592" cy="703.7" r="3.4"/><circle cx="593.5" cy="703.7" r="3.4"/><circle cx="595" cy="703.8" r="3.4"/><circle cx="596.5" cy="703" r="3.4"/><circle cx="598" cy="703.4" r="3.4"/><circle cx="599.5" cy="703.8" r="3.4"/><circle cx="601" cy="704" r="3.4"/><circle cx="602.5" cy="704.3" r="3.4"/><circle cx="604" cy="704.1" r="3.4"/><circle cx="605.5" cy="703.9" r="3.4"/><circle cx="607" cy="704.1" r="3.4"/><circle cx="608.5" cy="704.1" r="3.4"/><circle cx="610" cy="704.3" r="3.4"/><circle cx="611.5" cy="704.4" r="3.4"/><circle cx="613" cy="704.2" r="3.4"/><circle cx="614.5" cy="704.1" r="3.4"/><circle cx="616" cy="704.2" r="3.4"/><circle cx="617.5" cy="704.8" r="3.4"/><circle cx="619" cy="704.9" r="3.4"/><circle cx="620.5" cy="704.9" r="3.4"/><circle cx="622" cy="704.8" r="3.4"/><circle cx="623.5" cy="704.8" r="3.4"/><circle cx="625" cy="704.6" r="3.4"/><circle cx="626.5" cy="704.7" r="3.4"/><circle cx="628" cy="704.2" r="3.4"/><circle cx="629.5" cy="704.5" r="3.4"/><circle cx="631" cy="704.3" r="3.4"/><circle cx="632.5" cy="704.7" r="3.4"/><circle cx="634" cy="704.3" r="3.4"/><circle cx="635.5" cy="704.4" r="3.4"/><circle cx="637" cy="704.6" r="3.4"/><circle cx="638.5" cy="704.9" r="3.4"/><circle cx="640" cy="704.2" r="3.4"/><circle cx="641.5" cy="704.2" r="3.4"/><circle cx="643" cy="704.7" r="3.4"/><circle cx="644.5" cy="704.1" r="3.4"/></g><g fill="url(#lr)" stroke="url(#lrs)" stroke-opacity="1" stroke-width="0.5"><circle cx="40" cy="690.2" r="3.55"/><circle cx="40.6" cy="690.4" r="3.55"/><circle cx="41.2" cy="690.4" r="3.55"/><circle cx="41.8" cy="689.8" r="3.55"/><circle cx="42.4" cy="689.6" r="3.55"/><circle cx="43" cy="690" r="3.55"/><circle cx="43.6" cy="689.9" r="3.55"/><circle cx="44.2" cy="690.5" r="3.55"/><circle cx="44.8" cy="690.4" r="3.55"/><circle cx="45.4" cy="690.3" r="3.55"/><circle cx="46" cy="690.2" r="3.55"/><circle cx="46.6" cy="690.3" r="3.55"/><circle cx="47.2" cy="689.7" r="3.55"/><circle cx="47.8" cy="690.1" r="3.55"/><circle cx="48.4" cy="689.7" r="3.55"/><circle cx="49" cy="690.6" r="3.55"/><circle cx="49.6" cy="689.6" r="3.55"/><circle cx="50.2" cy="690.4" r="3.55"/><circle cx="50.8" cy="689.6" r="3.55"/><circle cx="51.4" cy="690.3" r="3.55"/><circle cx="52" cy="689.9" r="3.55"/><circle cx="52.6" cy="690" r="3.55"/><circle cx="53.2" cy="690.4" r="3.55"/><circle cx="53.8" cy="689.5" r="3.55"/><circle cx="54.4" cy="689.6" r="3.55"/><circle cx="55" cy="690.5" r="3.55"/><circle cx="55.6" cy="690.1" r="3.55"/><circle cx="56.2" cy="689.6" r="3.55"/><circle cx="56.8" cy="690.6" r="3.55"/><circle cx="57.4" cy="690.5" r="3.55"/><circle cx="58" cy="689.6" r="3.55"/><circle cx="58.6" cy="689.9" r="3.55"/><circle cx="59.2" cy="689.6" r="3.55"/><circle cx="59.8" cy="689.8" r="3.55"/><circle cx="60.4" cy="690.1" r="3.55"/><circle cx="61" cy="689.6" r="3.55"/><circle cx="61.6" cy="690.2" r="3.55"/><circle cx="62.2" cy="689.4" r="3.55"/><circle cx="62.8" cy="689.6" r="3.55"/><circle cx="63.4" cy="690.3" r="3.55"/><circle cx="64" cy="689.8" r="3.55"/><circle cx="64.6" cy="689.8" r="3.55"/><circle cx="65.2" cy="690" r="3.55"/><circle cx="65.8" cy="689.8" r="3.55"/><circle cx="66.4" cy="689.7" r="3.55"/><circle cx="67" cy="689.3" r="3.55"/><circle cx="67.6" cy="690" r="3.55"/><circle cx="68.2" cy="690.3" r="3.55"/><circle cx="68.8" cy="690.3" r="3.55"/><circle cx="69.4" cy="689.9" r="3.55"/><circle cx="70" cy="689.6" r="3.55"/><circle cx="70.6" cy="689.6" r="3.55"/><circle cx="71.2" cy="689.9" r="3.55"/><circle cx="71.8" cy="689.9" r="3.55"/><circle cx="72.4" cy="689.2" r="3.55"/><circle cx="73" cy="689.4" r="3.55"/><circle cx="73.6" cy="689.5" r="3.55"/><circle cx="74.2" cy="689.6" r="3.55"/><circle cx="74.8" cy="689.9" r="3.55"/><circle cx="75.4" cy="689.7" r="3.55"/><circle cx="76" cy="689.2" r="3.55"/><circle cx="76.6" cy="690.2" r="3.55"/><circle cx="77.2" cy="689.8" r="3.55"/><circle cx="77.8" cy="690" r="3.55"/><circle cx="78.4" cy="689.8" r="3.55"/><circle cx="79" cy="690.1" r="3.55"/><circle cx="79.6" cy="690.1" r="3.55"/><circle cx="80.2" cy="690.6" r="3.55"/><circle cx="80.8" cy="690" r="3.55"/><circle cx="81.4" cy="690.6" r="3.55"/><circle cx="82" cy="690.2" r="3.55"/><circle cx="82.6" cy="690.9" r="3.55"/><circle cx="83.2" cy="690.2" r="3.55"/><circle cx="83.8" cy="690.6" r="3.55"/><circle cx="84.4" cy="690.7" r="3.55"/><circle cx="85" cy="691.2" r="3.55"/><circle cx="85.6" cy="690.5" r="3.55"/><circle cx="86.2" cy="691" r="3.55"/><circle cx="86.8" cy="690.7" r="3.55"/><circle cx="87.4" cy="690.8" r="3.55"/><circle cx="88" cy="691" r="3.55"/><circle cx="88.6" cy="691.5" r="3.55"/><circle cx="89.2" cy="691" r="3.55"/><circle cx="89.8" cy="691.6" r="3.55"/><circle cx="90.4" cy="690.7" r="3.55"/><circle cx="91" cy="691.5" r="3.55"/><circle cx="91.6" cy="690.9" r="3.55"/><circle cx="92.2" cy="690.7" r="3.55"/><circle cx="92.8" cy="691.4" r="3.55"/><circle cx="93.4" cy="691.5" r="3.55"/><circle cx="94" cy="690.6" r="3.55"/><circle cx="94.6" cy="690.9" r="3.55"/><circle cx="95.2" cy="691.4" r="3.55"/><circle cx="95.8" cy="690.9" r="3.55"/><circle cx="96.4" cy="690.8" r="3.55"/><circle cx="97" cy="690.6" r="3.55"/><circle cx="97.6" cy="690.6" r="3.55"/><circle cx="98.2" cy="691.3" r="3.55"/><circle cx="98.8" cy="691.7" r="3.55"/><circle cx="99.4" cy="691.7" r="3.55"/><circle cx="100" cy="691.2" r="3.55"/><circle cx="100.6" cy="690.6" r="3.55"/><circle cx="101.2" cy="691" r="3.55"/><circle cx="101.8" cy="691.5" r="3.55"/><circle cx="102.4" cy="691.6" r="3.55"/><circle cx="103" cy="691.4" r="3.55"/><circle cx="103.6" cy="690.9" r="3.55"/><circle cx="104.2" cy="691.2" r="3.55"/><circle cx="104.8" cy="691.2" r="3.55"/><circle cx="105.4" cy="691.4" r="3.55"/><circle cx="106" cy="691" r="3.55"/><circle cx="106.6" cy="691.7" r="3.55"/><circle cx="107.2" cy="691.7" r="3.55"/><circle cx="107.8" cy="690.9" r="3.55"/><circle cx="108.4" cy="691" r="3.55"/><circle cx="109" cy="691.7" r="3.55"/><circle cx="109.6" cy="691" r="3.55"/><circle cx="110.2" cy="691.8" r="3.55"/><circle cx="110.8" cy="691.3" r="3.55"/><circle cx="111.4" cy="691.5" r="3.55"/><circle cx="112" cy="691.5" r="3.55"/><circle cx="112.6" cy="691" r="3.55"/><circle cx="113.2" cy="691.1" r="3.55"/><circle cx="113.8" cy="691.1" r="3.55"/><circle cx="114.4" cy="691.5" r="3.55"/><circle cx="115" cy="691.5" r="3.55"/><circle cx="115.6" cy="690.9" r="3.55"/><circle cx="116.2" cy="691.8" r="3.55"/><circle cx="116.8" cy="691.3" r="3.55"/><circle cx="117.4" cy="691.1" r="3.55"/><circle cx="118" cy="691.3" r="3.55"/><circle cx="118.6" cy="691.9" r="3.55"/><circle cx="119.2" cy="691.4" r="3.55"/><circle cx="119.8" cy="691.5" r="3.55"/><circle cx="120.4" cy="691.9" r="3.55"/><circle cx="121" cy="691.9" r="3.55"/><circle cx="121.6" cy="691.7" r="3.55"/><circle cx="122.2" cy="691.3" r="3.55"/><circle cx="122.8" cy="691.5" r="3.55"/><circle cx="123.4" cy="691.9" r="3.55"/><circle cx="124" cy="691.8" r="3.55"/><circle cx="124.6" cy="691.5" r="3.55"/><circle cx="125.2" cy="691.3" r="3.55"/><circle cx="125.8" cy="691.3" r="3.55"/><circle cx="126.4" cy="691.7" r="3.55"/><circle cx="127" cy="691.5" r="3.55"/><circle cx="127.6" cy="690.9" r="3.55"/><circle cx="128.2" cy="691.7" r="3.55"/><circle cx="128.8" cy="691.9" r="3.55"/><circle cx="129.4" cy="691.8" r="3.55"/><circle cx="130" cy="691.9" r="3.55"/><circle cx="130.6" cy="692" r="3.55"/><circle cx="131.2" cy="691.6" r="3.55"/><circle cx="131.8" cy="691.9" r="3.55"/><circle cx="132.4" cy="691.5" r="3.55"/><circle cx="133" cy="691.2" r="3.55"/><circle cx="133.6" cy="691.5" r="3.55"/><circle cx="134.2" cy="691.5" r="3.55"/><circle cx="134.8" cy="692.2" r="3.55"/><circle cx="135.4" cy="691.9" r="3.55"/><circle cx="136" cy="691.8" r="3.55"/><circle cx="136.6" cy="691.9" r="3.55"/><circle cx="137.2" cy="691.4" r="3.55"/><circle cx="137.8" cy="691.8" r="3.55"/><circle cx="138.4" cy="692.1" r="3.55"/><circle cx="139" cy="691.7" r="3.55"/><circle cx="139.6" cy="691.6" r="3.55"/><circle cx="140.2" cy="691.8" r="3.55"/><circle cx="140.8" cy="691.7" r="3.55"/><circle cx="141.4" cy="692.2" r="3.55"/><circle cx="142" cy="691.6" r="3.55"/><circle cx="142.6" cy="691.6" r="3.55"/><circle cx="143.2" cy="691.8" r="3.55"/><circle cx="143.8" cy="692.3" r="3.55"/><circle cx="144.4" cy="692.4" r="3.55"/><circle cx="145" cy="692.3" r="3.55"/><circle cx="145.6" cy="692.6" r="3.55"/><circle cx="146.2" cy="692" r="3.55"/><circle cx="146.8" cy="691.7" r="3.55"/><circle cx="147.4" cy="692.2" r="3.55"/><circle cx="148" cy="692.2" r="3.55"/><circle cx="148.6" cy="691.9" r="3.55"/><circle cx="149.2" cy="692.5" r="3.55"/><circle cx="149.8" cy="692.1" r="3.55"/><circle cx="150.4" cy="692" r="3.55"/><circle cx="151" cy="692.2" r="3.55"/><circle cx="151.6" cy="692.9" r="3.55"/><circle cx="152.2" cy="691.8" r="3.55"/><circle cx="152.8" cy="692.3" r="3.55"/><circle cx="153.4" cy="692.2" r="3.55"/><circle cx="154" cy="692.1" r="3.55"/><circle cx="154.6" cy="692.4" r="3.55"/><circle cx="155.2" cy="692.2" r="3.55"/><circle cx="155.8" cy="693" r="3.55"/><circle cx="156.4" cy="692.5" r="3.55"/><circle cx="157" cy="692.8" r="3.55"/><circle cx="157.6" cy="692.2" r="3.55"/><circle cx="158.2" cy="692.5" r="3.55"/><circle cx="158.8" cy="692.7" r="3.55"/><circle cx="159.4" cy="693" r="3.55"/><circle cx="160" cy="692.4" r="3.55"/><circle cx="160.6" cy="692.6" r="3.55"/><circle cx="161.2" cy="693.1" r="3.55"/><circle cx="161.8" cy="693.1" r="3.55"/><circle cx="162.4" cy="692.4" r="3.55"/><circle cx="163" cy="692.8" r="3.55"/><circle cx="163.6" cy="693" r="3.55"/><circle cx="164.2" cy="692.6" r="3.55"/><circle cx="164.8" cy="693" r="3.55"/><circle cx="165.4" cy="693" r="3.55"/><circle cx="166" cy="693.3" r="3.55"/><circle cx="166.6" cy="692.9" r="3.55"/><circle cx="167.2" cy="693" r="3.55"/><circle cx="167.8" cy="692.7" r="3.55"/><circle cx="168.4" cy="693.1" r="3.55"/><circle cx="169" cy="692.7" r="3.55"/><circle cx="169.6" cy="692.9" r="3.55"/><circle cx="170.2" cy="692.8" r="3.55"/><circle cx="170.8" cy="692.7" r="3.55"/><circle cx="171.4" cy="692.5" r="3.55"/><circle cx="172" cy="692.7" r="3.55"/><circle cx="172.6" cy="693" r="3.55"/><circle cx="173.2" cy="692.7" r="3.55"/><circle cx="173.8" cy="692.5" r="3.55"/><circle cx="174.4" cy="693.4" r="3.55"/><circle cx="175" cy="692.8" r="3.55"/><circle cx="175.6" cy="693.5" r="3.55"/><circle cx="176.2" cy="693.2" r="3.55"/><circle cx="176.8" cy="693" r="3.55"/><circle cx="177.4" cy="693.5" r="3.55"/><circle cx="178" cy="693.6" r="3.55"/><circle cx="178.6" cy="692.9" r="3.55"/><circle cx="179.2" cy="692.7" r="3.55"/><circle cx="179.8" cy="693.3" r="3.55"/><circle cx="180.4" cy="693.6" r="3.55"/><circle cx="181" cy="693.3" r="3.55"/><circle cx="181.6" cy="693.5" r="3.55"/><circle cx="182.2" cy="693.1" r="3.55"/><circle cx="182.8" cy="693.4" r="3.55"/><circle cx="183.4" cy="693" r="3.55"/><circle cx="184" cy="693.2" r="3.55"/><circle cx="184.6" cy="693.2" r="3.55"/><circle cx="185.2" cy="693.2" r="3.55"/><circle cx="185.8" cy="693.2" r="3.55"/><circle cx="186.4" cy="693.7" r="3.55"/><circle cx="187" cy="693" r="3.55"/><circle cx="187.6" cy="693.1" r="3.55"/><circle cx="188.2" cy="693.1" r="3.55"/><circle cx="188.8" cy="693.9" r="3.55"/><circle cx="189.4" cy="693.5" r="3.55"/><circle cx="190" cy="693" r="3.55"/><circle cx="190.6" cy="693.8" r="3.55"/><circle cx="191.2" cy="693.9" r="3.55"/><circle cx="191.8" cy="693.9" r="3.55"/><circle cx="192.4" cy="693.4" r="3.55"/><circle cx="193" cy="693.8" r="3.55"/><circle cx="193.6" cy="693.3" r="3.55"/><circle cx="194.2" cy="693.2" r="3.55"/><circle cx="194.8" cy="694" r="3.55"/><circle cx="195.4" cy="694" r="3.55"/><circle cx="196" cy="693.3" r="3.55"/><circle cx="196.6" cy="694.1" r="3.55"/><circle cx="197.2" cy="693.1" r="3.55"/><circle cx="197.8" cy="693.5" r="3.55"/><circle cx="198.4" cy="693.1" r="3.55"/><circle cx="199" cy="693.3" r="3.55"/><circle cx="199.6" cy="693.3" r="3.55"/><circle cx="200.2" cy="693.9" r="3.55"/><circle cx="200.8" cy="693.5" r="3.55"/><circle cx="201.4" cy="693.4" r="3.55"/><circle cx="202" cy="693.4" r="3.55"/><circle cx="202.6" cy="693.5" r="3.55"/><circle cx="203.2" cy="694.1" r="3.55"/><circle cx="203.8" cy="693.9" r="3.55"/><circle cx="204.4" cy="693.3" r="3.55"/><circle cx="205" cy="694" r="3.55"/><circle cx="205.6" cy="693.8" r="3.55"/><circle cx="206.2" cy="693.7" r="3.55"/><circle cx="206.8" cy="693.8" r="3.55"/><circle cx="207.4" cy="693.9" r="3.55"/><circle cx="208" cy="694.1" r="3.55"/><circle cx="208.6" cy="693.8" r="3.55"/><circle cx="209.2" cy="693.9" r="3.55"/><circle cx="209.8" cy="693.8" r="3.55"/><circle cx="210.4" cy="694" r="3.55"/><circle cx="211" cy="693.7" r="3.55"/><circle cx="211.6" cy="693.7" r="3.55"/><circle cx="212.2" cy="693.8" r="3.55"/><circle cx="212.8" cy="694.1" r="3.55"/><circle cx="213.4" cy="693.6" r="3.55"/><circle cx="214" cy="694.3" r="3.55"/><circle cx="214.6" cy="693.8" r="3.55"/><circle cx="215.2" cy="694.2" r="3.55"/><circle cx="215.8" cy="694.1" r="3.55"/><circle cx="216.4" cy="694.4" r="3.55"/><circle cx="217" cy="694.1" r="3.55"/><circle cx="217.6" cy="693.8" r="3.55"/><circle cx="218.2" cy="693.8" r="3.55"/><circle cx="218.8" cy="694" r="3.55"/><circle cx="219.4" cy="694.2" r="3.55"/><circle cx="220" cy="694.3" r="3.55"/><circle cx="220.6" cy="693.5" r="3.55"/><circle cx="221.2" cy="693.4" r="3.55"/><circle cx="221.8" cy="693.5" r="3.55"/><circle cx="222.4" cy="693.5" r="3.55"/><circle cx="223" cy="693.4" r="3.55"/><circle cx="223.6" cy="693.4" r="3.55"/><circle cx="224.2" cy="693.7" r="3.55"/><circle cx="224.8" cy="693.5" r="3.55"/><circle cx="225.4" cy="694.2" r="3.55"/><circle cx="226" cy="694.1" r="3.55"/><circle cx="226.6" cy="694.5" r="3.55"/><circle cx="227.2" cy="694.5" r="3.55"/><circle cx="227.8" cy="694.3" r="3.55"/><circle cx="228.4" cy="694.5" r="3.55"/><circle cx="229" cy="693.5" r="3.55"/><circle cx="229.6" cy="693.7" r="3.55"/><circle cx="230.2" cy="694.5" r="3.55"/><circle cx="230.8" cy="694" r="3.55"/><circle cx="231.4" cy="693.7" r="3.55"/><circle cx="232" cy="694.3" r="3.55"/><circle cx="232.6" cy="694" r="3.55"/><circle cx="233.2" cy="694.1" r="3.55"/><circle cx="233.8" cy="693.9" r="3.55"/><circle cx="234.4" cy="693.8" r="3.55"/><circle cx="235" cy="693.7" r="3.55"/><circle cx="235.6" cy="694.3" r="3.55"/><circle cx="236.2" cy="694.7" r="3.55"/><circle cx="236.8" cy="694.7" r="3.55"/><circle cx="237.4" cy="694.5" r="3.55"/><circle cx="238" cy="694.7" r="3.55"/><circle cx="238.6" cy="694.1" r="3.55"/><circle cx="239.2" cy="694" r="3.55"/><circle cx="239.8" cy="694.7" r="3.55"/><circle cx="240.4" cy="694.4" r="3.55"/><circle cx="241" cy="694.5" r="3.55"/><circle cx="241.6" cy="693.8" r="3.55"/><circle cx="242.2" cy="694" r="3.55"/><circle cx="242.8" cy="694.3" r="3.55"/><circle cx="243.4" cy="694.6" r="3.55"/><circle cx="244" cy="694.8" r="3.55"/><circle cx="244.6" cy="694.7" r="3.55"/><circle cx="245.2" cy="694.3" r="3.55"/><circle cx="245.8" cy="694.3" r="3.55"/><circle cx="246.4" cy="694.9" r="3.55"/><circle cx="247" cy="695" r="3.55"/><circle cx="247.6" cy="694.5" r="3.55"/><circle cx="248.2" cy="694.2" r="3.55"/><circle cx="248.8" cy="694.7" r="3.55"/><circle cx="249.4" cy="694.6" r="3.55"/><circle cx="250" cy="694.4" r="3.55"/><circle cx="250.6" cy="694.3" r="3.55"/><circle cx="251.2" cy="694.5" r="3.55"/><circle cx="251.8" cy="694.7" r="3.55"/><circle cx="252.4" cy="694.2" r="3.55"/><circle cx="253" cy="694.7" r="3.55"/><circle cx="253.6" cy="695.2" r="3.55"/><circle cx="254.2" cy="695" r="3.55"/><circle cx="254.8" cy="694.4" r="3.55"/><circle cx="255.4" cy="694.6" r="3.55"/><circle cx="256" cy="694.3" r="3.55"/><circle cx="256.6" cy="695" r="3.55"/><circle cx="257.2" cy="694.9" r="3.55"/><circle cx="257.8" cy="694.4" r="3.55"/><circle cx="258.4" cy="694.9" r="3.55"/><circle cx="259" cy="694.9" r="3.55"/><circle cx="259.6" cy="694.9" r="3.55"/><circle cx="260.2" cy="694.7" r="3.55"/><circle cx="260.8" cy="694.7" r="3.55"/><circle cx="261.4" cy="694.7" r="3.55"/><circle cx="262" cy="695.5" r="3.55"/><circle cx="262.6" cy="694.7" r="3.55"/><circle cx="263.2" cy="695" r="3.55"/><circle cx="263.8" cy="694.9" r="3.55"/><circle cx="264.4" cy="694.6" r="3.55"/><circle cx="265" cy="694.9" r="3.55"/><circle cx="265.6" cy="694.7" r="3.55"/><circle cx="266.2" cy="694.8" r="3.55"/><circle cx="266.8" cy="694.9" r="3.55"/><circle cx="267.4" cy="694.9" r="3.55"/><circle cx="268" cy="695.6" r="3.55"/><circle cx="268.6" cy="694.9" r="3.55"/><circle cx="269.2" cy="694.9" r="3.55"/><circle cx="269.8" cy="695.3" r="3.55"/><circle cx="270.4" cy="695" r="3.55"/><circle cx="271" cy="695.2" r="3.55"/><circle cx="271.6" cy="695.4" r="3.55"/><circle cx="272.2" cy="694.7" r="3.55"/><circle cx="272.8" cy="695.4" r="3.55"/><circle cx="273.4" cy="694.8" r="3.55"/><circle cx="274" cy="695" r="3.55"/><circle cx="274.6" cy="695.6" r="3.55"/><circle cx="275.2" cy="695.8" r="3.55"/><circle cx="275.8" cy="695.5" r="3.55"/><circle cx="276.4" cy="695" r="3.55"/><circle cx="277" cy="695.3" r="3.55"/><circle cx="277.6" cy="695.1" r="3.55"/><circle cx="278.2" cy="695.8" r="3.55"/><circle cx="278.8" cy="695.1" r="3.55"/><circle cx="279.4" cy="695.1" r="3.55"/><circle cx="280" cy="695.6" r="3.55"/><circle cx="280.6" cy="695.6" r="3.55"/><circle cx="281.2" cy="695.6" r="3.55"/><circle cx="281.8" cy="695.5" r="3.55"/><circle cx="282.4" cy="696" r="3.55"/><circle cx="283" cy="695.5" r="3.55"/><circle cx="283.6" cy="696" r="3.55"/><circle cx="284.2" cy="695.4" r="3.55"/><circle cx="284.8" cy="695.5" r="3.55"/><circle cx="285.4" cy="695.4" r="3.55"/><circle cx="286" cy="695.8" r="3.55"/><circle cx="286.6" cy="695.9" r="3.55"/><circle cx="287.2" cy="695.3" r="3.55"/><circle cx="287.8" cy="695.7" r="3.55"/><circle cx="288.4" cy="695.9" r="3.55"/><circle cx="289" cy="695.7" r="3.55"/><circle cx="289.6" cy="695.9" r="3.55"/><circle cx="290.2" cy="695.8" r="3.55"/><circle cx="290.8" cy="696" r="3.55"/><circle cx="291.4" cy="695.6" r="3.55"/><circle cx="292" cy="695.6" r="3.55"/><circle cx="292.6" cy="695.3" r="3.55"/><circle cx="293.2" cy="696.2" r="3.55"/><circle cx="293.8" cy="696.1" r="3.55"/><circle cx="294.4" cy="695.7" r="3.55"/><circle cx="295" cy="696.4" r="3.55"/><circle cx="295.6" cy="696.3" r="3.55"/><circle cx="296.2" cy="695.5" r="3.55"/><circle cx="296.8" cy="696.3" r="3.55"/><circle cx="297.4" cy="695.8" r="3.55"/><circle cx="298" cy="695.7" r="3.55"/><circle cx="298.6" cy="695.7" r="3.55"/><circle cx="299.2" cy="695.9" r="3.55"/><circle cx="299.8" cy="695.5" r="3.55"/><circle cx="300.4" cy="695.5" r="3.55"/><circle cx="301" cy="695.6" r="3.55"/><circle cx="301.6" cy="695.8" r="3.55"/><circle cx="302.2" cy="695.7" r="3.55"/><circle cx="302.8" cy="695.6" r="3.55"/><circle cx="303.4" cy="696.4" r="3.55"/><circle cx="304" cy="695.9" r="3.55"/><circle cx="304.6" cy="696" r="3.55"/><circle cx="305.2" cy="696.2" r="3.55"/><circle cx="305.8" cy="696.5" r="3.55"/><circle cx="306.4" cy="695.7" r="3.55"/><circle cx="307" cy="695.8" r="3.55"/><circle cx="307.6" cy="696.5" r="3.55"/><circle cx="308.2" cy="696.6" r="3.55"/><circle cx="308.8" cy="696.6" r="3.55"/><circle cx="309.4" cy="696.1" r="3.55"/><circle cx="310" cy="696" r="3.55"/><circle cx="310.6" cy="695.8" r="3.55"/><circle cx="311.2" cy="696.6" r="3.55"/><circle cx="311.8" cy="696.4" r="3.55"/><circle cx="312.4" cy="696.2" r="3.55"/><circle cx="313" cy="696.5" r="3.55"/><circle cx="313.6" cy="695.9" r="3.55"/><circle cx="314.2" cy="696.2" r="3.55"/><circle cx="314.8" cy="696.6" r="3.55"/><circle cx="315.4" cy="695.8" r="3.55"/><circle cx="316" cy="696.3" r="3.55"/><circle cx="316.6" cy="695.9" r="3.55"/><circle cx="317.2" cy="696.6" r="3.55"/><circle cx="317.8" cy="696.6" r="3.55"/><circle cx="318.4" cy="696.4" r="3.55"/><circle cx="319" cy="696.2" r="3.55"/><circle cx="319.6" cy="695.7" r="3.55"/><circle cx="320.2" cy="696.2" r="3.55"/><circle cx="320.8" cy="696.1" r="3.55"/><circle cx="321.4" cy="696.2" r="3.55"/><circle cx="322" cy="695.8" r="3.55"/><circle cx="322.6" cy="696.7" r="3.55"/><circle cx="323.2" cy="696.3" r="3.55"/><circle cx="323.8" cy="696.4" r="3.55"/><circle cx="324.4" cy="696.7" r="3.55"/><circle cx="325" cy="696.7" r="3.55"/><circle cx="325.6" cy="696.4" r="3.55"/><circle cx="326.2" cy="696.4" r="3.55"/><circle cx="326.8" cy="696.7" r="3.55"/><circle cx="327.4" cy="696.2" r="3.55"/><circle cx="328" cy="696.8" r="3.55"/><circle cx="328.6" cy="695.8" r="3.55"/><circle cx="329.2" cy="696.7" r="3.55"/><circle cx="329.8" cy="696.4" r="3.55"/><circle cx="330.4" cy="696.5" r="3.55"/><circle cx="331" cy="696.9" r="3.55"/><circle cx="331.6" cy="696.1" r="3.55"/><circle cx="332.2" cy="696.3" r="3.55"/><circle cx="332.8" cy="696.7" r="3.55"/><circle cx="333.4" cy="696.7" r="3.55"/><circle cx="334" cy="696.5" r="3.55"/><circle cx="334.6" cy="696.7" r="3.55"/><circle cx="335.2" cy="696.6" r="3.55"/><circle cx="335.8" cy="696.9" r="3.55"/><circle cx="336.4" cy="696.6" r="3.55"/><circle cx="337" cy="696.3" r="3.55"/><circle cx="337.6" cy="696.2" r="3.55"/><circle cx="338.2" cy="696" r="3.55"/><circle cx="338.8" cy="696.1" r="3.55"/><circle cx="339.4" cy="696" r="3.55"/><circle cx="340" cy="697" r="3.55"/><circle cx="340.6" cy="696.1" r="3.55"/><circle cx="341.2" cy="696.7" r="3.55"/><circle cx="341.8" cy="696.2" r="3.55"/><circle cx="342.4" cy="697.1" r="3.55"/><circle cx="343" cy="696.7" r="3.55"/><circle cx="343.6" cy="696.3" r="3.55"/><circle cx="344.2" cy="697.1" r="3.55"/><circle cx="344.8" cy="697.2" r="3.55"/><circle cx="345.4" cy="697.3" r="3.55"/><circle cx="346" cy="696.5" r="3.55"/><circle cx="346.6" cy="696.8" r="3.55"/><circle cx="347.2" cy="697.1" r="3.55"/><circle cx="347.8" cy="696.7" r="3.55"/><circle cx="348.4" cy="697" r="3.55"/><circle cx="349" cy="697.2" r="3.55"/><circle cx="349.6" cy="697.3" r="3.55"/><circle cx="350.2" cy="697.4" r="3.55"/><circle cx="350.8" cy="697.4" r="3.55"/><circle cx="351.4" cy="696.9" r="3.55"/><circle cx="352" cy="697.4" r="3.55"/><circle cx="352.6" cy="697.1" r="3.55"/><circle cx="353.2" cy="696.9" r="3.55"/><circle cx="353.8" cy="696.7" r="3.55"/><circle cx="354.4" cy="697.4" r="3.55"/><circle cx="355" cy="697.2" r="3.55"/><circle cx="355.6" cy="696.9" r="3.55"/><circle cx="356.2" cy="697.4" r="3.55"/><circle cx="356.8" cy="697.3" r="3.55"/><circle cx="357.4" cy="697.3" r="3.55"/><circle cx="358" cy="697.6" r="3.55"/><circle cx="358.6" cy="697.6" r="3.55"/><circle cx="359.2" cy="697.6" r="3.55"/><circle cx="359.8" cy="698.1" r="3.55"/><circle cx="360.4" cy="698.1" r="3.55"/><circle cx="361" cy="697.4" r="3.55"/><circle cx="361.6" cy="698.1" r="3.55"/><circle cx="362.2" cy="697.5" r="3.55"/><circle cx="362.8" cy="698.2" r="3.55"/><circle cx="363.4" cy="697.3" r="3.55"/><circle cx="364" cy="695.8" r="3.55"/><circle cx="364.6" cy="694.8" r="3.55"/><circle cx="365.2" cy="694.5" r="3.55"/><circle cx="365.8" cy="694.5" r="3.55"/><circle cx="366.4" cy="694" r="3.55"/><circle cx="367" cy="693.9" r="3.55"/><circle cx="367.6" cy="694.8" r="3.55"/><circle cx="368.2" cy="693.9" r="3.55"/><circle cx="368.8" cy="694" r="3.55"/><circle cx="369.4" cy="694.3" r="3.55"/><circle cx="370" cy="694.7" r="3.55"/><circle cx="370.6" cy="694.5" r="3.55"/><circle cx="371.2" cy="694.9" r="3.55"/><circle cx="371.8" cy="694.7" r="3.55"/><circle cx="372.4" cy="694.3" r="3.55"/><circle cx="373" cy="694.8" r="3.55"/><circle cx="373.6" cy="694.2" r="3.55"/><circle cx="374.2" cy="693.9" r="3.55"/><circle cx="374.8" cy="694.9" r="3.55"/><circle cx="375.4" cy="694.8" r="3.55"/><circle cx="376" cy="694.6" r="3.55"/><circle cx="376.6" cy="694.4" r="3.55"/><circle cx="377.2" cy="694.1" r="3.55"/><circle cx="377.8" cy="694.1" r="3.55"/><circle cx="378.4" cy="693.9" r="3.55"/><circle cx="379" cy="694" r="3.55"/><circle cx="379.6" cy="694.4" r="3.55"/><circle cx="380.2" cy="694.9" r="3.55"/><circle cx="380.8" cy="694.9" r="3.55"/><circle cx="381.4" cy="694.5" r="3.55"/><circle cx="382" cy="694.6" r="3.55"/><circle cx="382.6" cy="694.4" r="3.55"/><circle cx="383.2" cy="694.8" r="3.55"/><circle cx="383.8" cy="694.7" r="3.55"/><circle cx="384.4" cy="695" r="3.55"/><circle cx="385" cy="694.9" r="3.55"/><circle cx="385.6" cy="694.7" r="3.55"/><circle cx="386.2" cy="694.6" r="3.55"/><circle cx="386.8" cy="694.1" r="3.55"/><circle cx="387.4" cy="694.5" r="3.55"/><circle cx="388" cy="694.4" r="3.55"/><circle cx="388.6" cy="694.1" r="3.55"/><circle cx="389.2" cy="694.2" r="3.55"/><circle cx="389.8" cy="694.4" r="3.55"/><circle cx="390.4" cy="694.2" r="3.55"/><circle cx="391" cy="694.7" r="3.55"/><circle cx="391.6" cy="694.3" r="3.55"/><circle cx="392.2" cy="695.1" r="3.55"/><circle cx="392.8" cy="694.7" r="3.55"/><circle cx="393.4" cy="694.6" r="3.55"/><circle cx="394" cy="694.5" r="3.55"/><circle cx="394.6" cy="694.4" r="3.55"/><circle cx="395.2" cy="694.2" r="3.55"/><circle cx="395.8" cy="695.1" r="3.55"/><circle cx="396.4" cy="695" r="3.55"/><circle cx="397" cy="694.7" r="3.55"/><circle cx="397.6" cy="694.7" r="3.55"/><circle cx="398.2" cy="694.2" r="3.55"/><circle cx="398.8" cy="694.6" r="3.55"/><circle cx="399.4" cy="694.2" r="3.55"/><circle cx="400" cy="694.4" r="3.55"/><circle cx="400.6" cy="694.7" r="3.55"/><circle cx="401.2" cy="694.3" r="3.55"/><circle cx="401.8" cy="694.4" r="3.55"/><circle cx="402.4" cy="695" r="3.55"/><circle cx="403" cy="694.7" r="3.55"/><circle cx="403.6" cy="695.2" r="3.55"/><circle cx="404.2" cy="694.4" r="3.55"/><circle cx="404.8" cy="694.4" r="3.55"/><circle cx="405.4" cy="695.3" r="3.55"/><circle cx="406" cy="695" r="3.55"/><circle cx="406.6" cy="695.1" r="3.55"/><circle cx="407.2" cy="695" r="3.55"/><circle cx="407.8" cy="694.6" r="3.55"/><circle cx="408.4" cy="695.5" r="3.55"/><circle cx="409" cy="695" r="3.55"/><circle cx="409.6" cy="695.5" r="3.55"/><circle cx="410.2" cy="694.7" r="3.55"/><circle cx="410.8" cy="694.9" r="3.55"/><circle cx="411.4" cy="695.2" r="3.55"/><circle cx="412" cy="694.9" r="3.55"/><circle cx="412.6" cy="695.6" r="3.55"/><circle cx="413.2" cy="695" r="3.55"/><circle cx="413.8" cy="694.8" r="3.55"/><circle cx="414.4" cy="694.9" r="3.55"/><circle cx="415" cy="695" r="3.55"/><circle cx="415.6" cy="696" r="3.55"/><circle cx="416.2" cy="696" r="3.55"/><circle cx="416.8" cy="696" r="3.55"/><circle cx="417.4" cy="695.9" r="3.55"/><circle cx="418" cy="695.6" r="3.55"/><circle cx="418.6" cy="696.6" r="3.55"/><circle cx="419.2" cy="696" r="3.55"/><circle cx="419.8" cy="696.3" r="3.55"/><circle cx="420.4" cy="696.7" r="3.55"/><circle cx="421" cy="697.3" r="3.55"/><circle cx="421.6" cy="696.7" r="3.55"/><circle cx="422.2" cy="696.8" r="3.55"/><circle cx="422.8" cy="697.9" r="3.55"/><circle cx="423.4" cy="697" r="3.55"/><circle cx="424" cy="698" r="3.55"/><circle cx="424.6" cy="697.5" r="3.55"/><circle cx="425.2" cy="697.8" r="3.55"/><circle cx="425.8" cy="697.6" r="3.55"/><circle cx="426.4" cy="697.8" r="3.55"/><circle cx="427" cy="698.3" r="3.55"/><circle cx="427.6" cy="698.1" r="3.55"/><circle cx="428.2" cy="697.8" r="3.55"/><circle cx="428.8" cy="697.2" r="3.55"/><circle cx="429.4" cy="697.3" r="3.55"/><circle cx="430" cy="697.3" r="3.55"/><circle cx="430.6" cy="697.8" r="3.55"/><circle cx="431.2" cy="697.9" r="3.55"/><circle cx="431.8" cy="696.9" r="3.55"/><circle cx="432.4" cy="697.2" r="3.55"/><circle cx="433" cy="697.8" r="3.55"/><circle cx="433.6" cy="696.9" r="3.55"/><circle cx="434.2" cy="696.7" r="3.55"/><circle cx="434.8" cy="696.9" r="3.55"/><circle cx="435.4" cy="697.5" r="3.55"/><circle cx="436" cy="696.8" r="3.55"/><circle cx="436.6" cy="697.2" r="3.55"/><circle cx="437.2" cy="696.5" r="3.55"/><circle cx="437.8" cy="697.1" r="3.55"/><circle cx="438.4" cy="696.5" r="3.55"/><circle cx="439" cy="696.9" r="3.55"/><circle cx="439.6" cy="697" r="3.55"/><circle cx="440.2" cy="697.1" r="3.55"/><circle cx="440.8" cy="696.7" r="3.55"/><circle cx="441.4" cy="697.4" r="3.55"/><circle cx="442" cy="696.8" r="3.55"/><circle cx="442.6" cy="697.5" r="3.55"/><circle cx="443.2" cy="697.5" r="3.55"/><circle cx="443.8" cy="697.6" r="3.55"/><circle cx="444.4" cy="696.7" r="3.55"/><circle cx="445" cy="697" r="3.55"/><circle cx="445.6" cy="697.5" r="3.55"/><circle cx="446.2" cy="697.8" r="3.55"/><circle cx="446.8" cy="697.1" r="3.55"/><circle cx="447.4" cy="697.8" r="3.55"/><circle cx="448" cy="697.5" r="3.55"/><circle cx="448.6" cy="697.1" r="3.55"/><circle cx="449.2" cy="697.2" r="3.55"/><circle cx="449.8" cy="697.2" r="3.55"/><circle cx="450.4" cy="697.5" r="3.55"/><circle cx="451" cy="698.3" r="3.55"/><circle cx="451.6" cy="698.1" r="3.55"/><circle cx="452.2" cy="698.4" r="3.55"/><circle cx="452.8" cy="698.5" r="3.55"/><circle cx="453.4" cy="698" r="3.55"/><circle cx="454" cy="698.4" r="3.55"/><circle cx="454.6" cy="698.4" r="3.55"/><circle cx="455.2" cy="698.5" r="3.55"/><circle cx="455.8" cy="697.9" r="3.55"/><circle cx="456.4" cy="698.8" r="3.55"/><circle cx="457" cy="698.1" r="3.55"/><circle cx="457.6" cy="698.5" r="3.55"/><circle cx="458.2" cy="698.8" r="3.55"/><circle cx="458.8" cy="698.9" r="3.55"/><circle cx="459.4" cy="699.1" r="3.55"/><circle cx="460" cy="698.6" r="3.55"/><circle cx="460.6" cy="698.6" r="3.55"/><circle cx="461.2" cy="699" r="3.55"/><circle cx="461.8" cy="698.2" r="3.55"/><circle cx="462.4" cy="699.1" r="3.55"/><circle cx="463" cy="698.5" r="3.55"/><circle cx="463.6" cy="698.6" r="3.55"/><circle cx="464.2" cy="698.5" r="3.55"/><circle cx="464.8" cy="698.9" r="3.55"/><circle cx="465.4" cy="698.3" r="3.55"/><circle cx="466" cy="698.2" r="3.55"/><circle cx="466.6" cy="698.1" r="3.55"/><circle cx="467.2" cy="698.2" r="3.55"/><circle cx="467.8" cy="698.7" r="3.55"/><circle cx="468.4" cy="699.1" r="3.55"/><circle cx="469" cy="698" r="3.55"/><circle cx="469.6" cy="698.5" r="3.55"/><circle cx="470.2" cy="698.3" r="3.55"/><circle cx="470.8" cy="698.3" r="3.55"/><circle cx="471.4" cy="698.4" r="3.55"/><circle cx="472" cy="698.1" r="3.55"/><circle cx="472.6" cy="698.5" r="3.55"/><circle cx="473.2" cy="698.3" r="3.55"/><circle cx="473.8" cy="698.1" r="3.55"/><circle cx="474.4" cy="698.2" r="3.55"/><circle cx="475" cy="699.1" r="3.55"/><circle cx="475.6" cy="698.9" r="3.55"/><circle cx="476.2" cy="699.2" r="3.55"/><circle cx="476.8" cy="699.1" r="3.55"/><circle cx="477.4" cy="699" r="3.55"/><circle cx="478" cy="698.5" r="3.55"/><circle cx="478.6" cy="698.3" r="3.55"/><circle cx="479.2" cy="699.3" r="3.55"/><circle cx="479.8" cy="699" r="3.55"/><circle cx="480.4" cy="699.1" r="3.55"/><circle cx="481" cy="698.5" r="3.55"/><circle cx="481.6" cy="699.2" r="3.55"/><circle cx="482.2" cy="698.9" r="3.55"/><circle cx="482.8" cy="698.5" r="3.55"/><circle cx="483.4" cy="698.6" r="3.55"/><circle cx="484" cy="699.5" r="3.55"/><circle cx="484.6" cy="699.1" r="3.55"/><circle cx="485.2" cy="698.5" r="3.55"/><circle cx="485.8" cy="698.6" r="3.55"/><circle cx="486.4" cy="699.3" r="3.55"/><circle cx="487" cy="698.9" r="3.55"/><circle cx="487.6" cy="699" r="3.55"/><circle cx="488.2" cy="698.7" r="3.55"/><circle cx="488.8" cy="698.8" r="3.55"/><circle cx="489.4" cy="699.1" r="3.55"/><circle cx="490" cy="699.1" r="3.55"/><circle cx="490.6" cy="698.8" r="3.55"/><circle cx="491.2" cy="698.8" r="3.55"/><circle cx="491.8" cy="699.1" r="3.55"/><circle cx="492.4" cy="698.8" r="3.55"/><circle cx="493" cy="698.8" r="3.55"/><circle cx="493.6" cy="699.2" r="3.55"/><circle cx="494.2" cy="698.8" r="3.55"/><circle cx="494.8" cy="699.6" r="3.55"/><circle cx="495.4" cy="699.6" r="3.55"/><circle cx="496" cy="699.6" r="3.55"/><circle cx="496.6" cy="699.9" r="3.55"/><circle cx="497.2" cy="699" r="3.55"/><circle cx="497.8" cy="699.3" r="3.55"/><circle cx="498.4" cy="699.3" r="3.55"/><circle cx="499" cy="699" r="3.55"/><circle cx="499.6" cy="699.9" r="3.55"/><circle cx="500.2" cy="699" r="3.55"/><circle cx="500.8" cy="700" r="3.55"/><circle cx="501.4" cy="699.7" r="3.55"/><circle cx="502" cy="700.1" r="3.55"/><circle cx="502.6" cy="699.1" r="3.55"/><circle cx="503.2" cy="700" r="3.55"/><circle cx="503.8" cy="700.1" r="3.55"/><circle cx="504.4" cy="699.9" r="3.55"/><circle cx="505" cy="699.7" r="3.55"/><circle cx="505.6" cy="699.8" r="3.55"/><circle cx="506.2" cy="699.7" r="3.55"/><circle cx="506.8" cy="700.1" r="3.55"/><circle cx="507.4" cy="699.8" r="3.55"/><circle cx="508" cy="699.8" r="3.55"/><circle cx="508.6" cy="699.7" r="3.55"/><circle cx="509.2" cy="699.9" r="3.55"/><circle cx="509.8" cy="699.9" r="3.55"/><circle cx="510.4" cy="700.3" r="3.55"/><circle cx="511" cy="700.2" r="3.55"/><circle cx="511.6" cy="699.7" r="3.55"/><circle cx="512.2" cy="700.2" r="3.55"/><circle cx="512.8" cy="699.7" r="3.55"/><circle cx="513.4" cy="700" r="3.55"/><circle cx="514" cy="700" r="3.55"/><circle cx="514.6" cy="700.3" r="3.55"/><circle cx="515.2" cy="699.6" r="3.55"/><circle cx="515.8" cy="699.7" r="3.55"/><circle cx="516.4" cy="699.8" r="3.55"/><circle cx="517" cy="700.3" r="3.55"/><circle cx="517.6" cy="699.8" r="3.55"/><circle cx="518.2" cy="700.3" r="3.55"/><circle cx="518.8" cy="700.7" r="3.55"/><circle cx="519.4" cy="700.2" r="3.55"/><circle cx="520" cy="700" r="3.55"/><circle cx="520.6" cy="700.5" r="3.55"/><circle cx="521.2" cy="700.3" r="3.55"/><circle cx="521.8" cy="700.4" r="3.55"/><circle cx="522.4" cy="700.1" r="3.55"/><circle cx="523" cy="700.7" r="3.55"/><circle cx="523.6" cy="700.3" r="3.55"/><circle cx="524.2" cy="701.1" r="3.55"/><circle cx="524.8" cy="700.6" r="3.55"/><circle cx="525.4" cy="700.8" r="3.55"/><circle cx="526" cy="701.1" r="3.55"/><circle cx="526.6" cy="701.2" r="3.55"/><circle cx="527.2" cy="700.2" r="3.55"/><circle cx="527.8" cy="701.2" r="3.55"/><circle cx="528.4" cy="700.3" r="3.55"/><circle cx="529" cy="701.3" r="3.55"/><circle cx="529.6" cy="701.1" r="3.55"/><circle cx="530.2" cy="700.6" r="3.55"/><circle cx="530.8" cy="701.1" r="3.55"/><circle cx="531.4" cy="701" r="3.55"/><circle cx="532" cy="700.9" r="3.55"/><circle cx="532.6" cy="701.1" r="3.55"/><circle cx="533.2" cy="701" r="3.55"/><circle cx="533.8" cy="701.2" r="3.55"/><circle cx="534.4" cy="701.3" r="3.55"/><circle cx="535" cy="700.6" r="3.55"/><circle cx="535.6" cy="701.3" r="3.55"/><circle cx="536.2" cy="701.4" r="3.55"/><circle cx="536.8" cy="701.6" r="3.55"/><circle cx="537.4" cy="701.3" r="3.55"/><circle cx="538" cy="701.3" r="3.55"/><circle cx="538.6" cy="700.9" r="3.55"/><circle cx="539.2" cy="701" r="3.55"/><circle cx="539.8" cy="701.8" r="3.55"/><circle cx="540.4" cy="700.9" r="3.55"/><circle cx="541" cy="701.9" r="3.55"/><circle cx="541.6" cy="701" r="3.55"/><circle cx="542.2" cy="701.4" r="3.55"/><circle cx="542.8" cy="701.7" r="3.55"/><circle cx="543.4" cy="701" r="3.55"/><circle cx="544" cy="701.5" r="3.55"/><circle cx="544.6" cy="701.9" r="3.55"/><circle cx="545.2" cy="701.5" r="3.55"/><circle cx="545.8" cy="701.3" r="3.55"/><circle cx="546.4" cy="701.2" r="3.55"/><circle cx="547" cy="702.2" r="3.55"/><circle cx="547.6" cy="701.3" r="3.55"/><circle cx="548.2" cy="702" r="3.55"/><circle cx="548.8" cy="702" r="3.55"/><circle cx="549.4" cy="701.6" r="3.55"/><circle cx="550" cy="702" r="3.55"/><circle cx="550.6" cy="702.1" r="3.55"/><circle cx="551.2" cy="701.6" r="3.55"/><circle cx="551.8" cy="701.7" r="3.55"/><circle cx="552.4" cy="702.5" r="3.55"/><circle cx="553" cy="701.7" r="3.55"/><circle cx="553.6" cy="702.1" r="3.55"/><circle cx="554.2" cy="702.1" r="3.55"/><circle cx="554.8" cy="702.5" r="3.55"/><circle cx="555.4" cy="702.6" r="3.55"/><circle cx="556" cy="702.5" r="3.55"/><circle cx="556.6" cy="702.4" r="3.55"/><circle cx="557.2" cy="702.3" r="3.55"/><circle cx="557.8" cy="701.9" r="3.55"/><circle cx="558.4" cy="702.4" r="3.55"/><circle cx="559" cy="702.3" r="3.55"/><circle cx="559.6" cy="702.7" r="3.55"/><circle cx="560.2" cy="702.3" r="3.55"/><circle cx="560.8" cy="702.1" r="3.55"/><circle cx="561.4" cy="702.4" r="3.55"/><circle cx="562" cy="702.9" r="3.55"/><circle cx="562.6" cy="702.6" r="3.55"/><circle cx="563.2" cy="702.8" r="3.55"/><circle cx="563.8" cy="702.1" r="3.55"/><circle cx="564.4" cy="702.4" r="3.55"/><circle cx="565" cy="702.4" r="3.55"/><circle cx="565.6" cy="702.7" r="3.55"/><circle cx="566.2" cy="702.3" r="3.55"/><circle cx="566.8" cy="703.3" r="3.55"/><circle cx="567.4" cy="702.6" r="3.55"/><circle cx="568" cy="702.3" r="3.55"/><circle cx="568.6" cy="702.6" r="3.55"/><circle cx="569.2" cy="702.9" r="3.55"/><circle cx="569.8" cy="703" r="3.55"/><circle cx="570.4" cy="703.3" r="3.55"/><circle cx="571" cy="702.5" r="3.55"/><circle cx="571.6" cy="703.5" r="3.55"/><circle cx="572.2" cy="703.4" r="3.55"/><circle cx="572.8" cy="703.1" r="3.55"/><circle cx="573.4" cy="703.2" r="3.55"/><circle cx="574" cy="702.9" r="3.55"/><circle cx="574.6" cy="702.7" r="3.55"/><circle cx="575.2" cy="702.6" r="3.55"/><circle cx="575.8" cy="703.7" r="3.55"/><circle cx="576.4" cy="703.6" r="3.55"/><circle cx="577" cy="703.2" r="3.55"/><circle cx="577.6" cy="703.4" r="3.55"/><circle cx="578.2" cy="703.2" r="3.55"/><circle cx="578.8" cy="703.5" r="3.55"/><circle cx="579.4" cy="702.9" r="3.55"/><circle cx="580" cy="703.6" r="3.55"/><circle cx="580.6" cy="703" r="3.55"/><circle cx="581.2" cy="703.5" r="3.55"/><circle cx="581.8" cy="703.5" r="3.55"/><circle cx="582.4" cy="703.8" r="3.55"/><circle cx="583" cy="703.6" r="3.55"/><circle cx="583.6" cy="703.1" r="3.55"/><circle cx="584.2" cy="703.9" r="3.55"/><circle cx="584.8" cy="703.4" r="3.55"/><circle cx="585.4" cy="703.6" r="3.55"/><circle cx="586" cy="703.9" r="3.55"/><circle cx="586.6" cy="704.1" r="3.55"/><circle cx="587.2" cy="703.2" r="3.55"/><circle cx="587.8" cy="703.6" r="3.55"/><circle cx="588.4" cy="703.5" r="3.55"/><circle cx="589" cy="704.1" r="3.55"/><circle cx="589.6" cy="703.6" r="3.55"/><circle cx="590.2" cy="704.2" r="3.55"/><circle cx="590.8" cy="704.1" r="3.55"/><circle cx="591.4" cy="703.7" r="3.55"/><circle cx="592" cy="704.1" r="3.55"/><circle cx="592.6" cy="704.1" r="3.55"/><circle cx="593.2" cy="703.5" r="3.55"/><circle cx="593.8" cy="703.7" r="3.55"/><circle cx="594.4" cy="703.5" r="3.55"/><circle cx="595" cy="704.3" r="3.55"/><circle cx="595.6" cy="703.9" r="3.55"/><circle cx="596.2" cy="703.8" r="3.55"/><circle cx="596.8" cy="704.3" r="3.55"/><circle cx="597.4" cy="704.6" r="3.55"/><circle cx="598" cy="703.7" r="3.55"/><circle cx="598.6" cy="704.3" r="3.55"/><circle cx="599.2" cy="703.8" r="3.55"/><circle cx="599.8" cy="704.5" r="3.55"/><circle cx="600.4" cy="704.5" r="3.55"/><circle cx="601" cy="704.5" r="3.55"/><circle cx="601.6" cy="704.3" r="3.55"/><circle cx="602.2" cy="703.8" r="3.55"/><circle cx="602.8" cy="704.7" r="3.55"/><circle cx="603.4" cy="703.9" r="3.55"/><circle cx="604" cy="704.4" r="3.55"/><circle cx="604.6" cy="704.9" r="3.55"/><circle cx="605.2" cy="704.1" r="3.55"/><circle cx="605.8" cy="704.4" r="3.55"/><circle cx="606.4" cy="704.6" r="3.55"/><circle cx="607" cy="704.6" r="3.55"/><circle cx="607.6" cy="704.3" r="3.55"/><circle cx="608.2" cy="704.4" r="3.55"/><circle cx="608.8" cy="705" r="3.55"/><circle cx="609.4" cy="704.8" r="3.55"/><circle cx="610" cy="704.2" r="3.55"/><circle cx="610.6" cy="704.8" r="3.55"/><circle cx="611.2" cy="705" r="3.55"/><circle cx="611.8" cy="704.8" r="3.55"/><circle cx="612.4" cy="705.1" r="3.55"/><circle cx="613" cy="704.5" r="3.55"/><circle cx="613.6" cy="704.5" r="3.55"/><circle cx="614.2" cy="705.2" r="3.55"/><circle cx="614.8" cy="704.5" r="3.55"/><circle cx="615.4" cy="704.4" r="3.55"/><circle cx="616" cy="704.4" r="3.55"/><circle cx="616.6" cy="705.3" r="3.55"/><circle cx="617.2" cy="705.2" r="3.55"/><circle cx="617.8" cy="704.6" r="3.55"/><circle cx="618.4" cy="705.2" r="3.55"/><circle cx="619" cy="704.6" r="3.55"/><circle cx="619.6" cy="705.1" r="3.55"/><circle cx="620.2" cy="704.5" r="3.55"/><circle cx="620.8" cy="705.1" r="3.55"/><circle cx="621.4" cy="705.3" r="3.55"/><circle cx="622" cy="705" r="3.55"/><circle cx="622.6" cy="705.1" r="3.55"/><circle cx="623.2" cy="704.6" r="3.55"/><circle cx="623.8" cy="704.9" r="3.55"/><circle cx="624.4" cy="705.3" r="3.55"/><circle cx="625" cy="704.8" r="3.55"/><circle cx="625.6" cy="705.2" r="3.55"/><circle cx="626.2" cy="705.1" r="3.55"/><circle cx="626.8" cy="705.3" r="3.55"/><circle cx="627.4" cy="705.2" r="3.55"/><circle cx="628" cy="704.7" r="3.55"/><circle cx="628.6" cy="705.3" r="3.55"/><circle cx="629.2" cy="705.3" r="3.55"/><circle cx="629.8" cy="704.8" r="3.55"/><circle cx="630.4" cy="705.2" r="3.55"/><circle cx="631" cy="704.8" r="3.55"/><circle cx="631.6" cy="705" r="3.55"/><circle cx="632.2" cy="704.7" r="3.55"/><circle cx="632.8" cy="704.9" r="3.55"/><circle cx="633.4" cy="704.7" r="3.55"/><circle cx="634" cy="705.3" r="3.55"/><circle cx="634.6" cy="705" r="3.55"/><circle cx="635.2" cy="705" r="3.55"/><circle cx="635.8" cy="704.9" r="3.55"/><circle cx="636.4" cy="704.8" r="3.55"/><circle cx="637" cy="704.5" r="3.55"/><circle cx="637.6" cy="705" r="3.55"/><circle cx="638.2" cy="704.8" r="3.55"/><circle cx="638.8" cy="704.7" r="3.55"/><circle cx="639.4" cy="704.9" r="3.55"/><circle cx="640" cy="704.4" r="3.55"/><circle cx="640.6" cy="705" r="3.55"/><circle cx="641.2" cy="705.1" r="3.55"/><circle cx="641.8" cy="704.7" r="3.55"/><circle cx="642.4" cy="704.5" r="3.55"/><circle cx="643" cy="705.3" r="3.55"/><circle cx="643.6" cy="705" r="3.55"/><circle cx="644.2" cy="704.6" r="3.55"/><circle cx="644.8" cy="704.4" r="3.55"/></g><g fill="url(#lb)" stroke="url(#lbs)" stroke-opacity="1" stroke-width="0.55"><circle cx="367.1" cy="609.8" r="3.6"/><circle cx="251" cy="610.1" r="3.6"/><circle cx="577.7" cy="611.3" r="3.6"/><circle cx="385.6" cy="611.7" r="3.6"/><circle cx="516.1" cy="610.8" r="3.6"/><circle cx="599.3" cy="609.8" r="3.6"/><circle cx="341.9" cy="610.1" r="3.6"/><circle cx="63.4" cy="610.6" r="3.6"/><circle cx="608.4" cy="610.1" r="3.6"/><circle cx="84.1" cy="609.9" r="3.6"/><circle cx="82.3" cy="610.1" r="3.6"/><circle cx="625.9" cy="610.2" r="3.6"/><circle cx="189.4" cy="610.1" r="3.6"/><circle cx="490" cy="610" r="3.6"/><circle cx="283.9" cy="609.6" r="3.6"/><circle cx="266.3" cy="610" r="3.6"/><circle cx="329.8" cy="610.1" r="3.6"/><circle cx="115.2" cy="610.6" r="3.6"/><circle cx="85" cy="612.3" r="3.6"/><circle cx="406.3" cy="610.4" r="3.6"/><circle cx="443.2" cy="610" r="3.6"/><circle cx="584.5" cy="610" r="3.6"/><circle cx="127.8" cy="610.3" r="3.6"/><circle cx="543.1" cy="611.6" r="3.6"/><circle cx="336.5" cy="610.6" r="3.6"/><circle cx="107.1" cy="610.5" r="3.6"/><circle cx="360.4" cy="612.1" r="3.6"/><circle cx="624.1" cy="611.1" r="3.6"/><circle cx="350" cy="610.4" r="3.6"/><circle cx="90.4" cy="609.6" r="3.6"/><circle cx="206.9" cy="611.3" r="3.6"/><circle cx="239.3" cy="610.8" r="3.6"/><circle cx="47.2" cy="609.7" r="3.6"/><circle cx="585.4" cy="610.4" r="3.6"/><circle cx="190.3" cy="611.3" r="3.6"/><circle cx="640.3" cy="610.6" r="3.6"/><circle cx="617.4" cy="614.1" r="3.6"/><circle cx="89.1" cy="613.3" r="3.6"/><circle cx="310.4" cy="609.7" r="3.6"/><circle cx="271.7" cy="611.5" r="3.6"/><circle cx="477.4" cy="610.6" r="3.6"/><circle cx="145.3" cy="612.5" r="3.6"/><circle cx="168.7" cy="610.6" r="3.6"/><circle cx="406.7" cy="612.6" r="3.6"/><circle cx="278.9" cy="611.4" r="3.6"/><circle cx="370.7" cy="610.9" r="3.6"/><circle cx="299.6" cy="610.8" r="3.6"/><circle cx="271.3" cy="610.7" r="3.6"/><circle cx="632.7" cy="610.6" r="3.6"/><circle cx="466.6" cy="610" r="3.6"/><circle cx="112.9" cy="610.6" r="3.6"/><circle cx="162.8" cy="612.9" r="3.6"/><circle cx="76.9" cy="611.3" r="3.6"/><circle cx="252.4" cy="611.5" r="3.6"/><circle cx="262.3" cy="614.3" r="3.6"/><circle cx="489.5" cy="609.7" r="3.6"/><circle cx="475.1" cy="612" r="3.6"/><circle cx="243.4" cy="612.9" r="3.6"/><circle cx="58.9" cy="610.7" r="3.6"/><circle cx="509.8" cy="610" r="3.6"/><circle cx="138.1" cy="609.8" r="3.6"/><circle cx="97.2" cy="611.6" r="3.6"/><circle cx="141.3" cy="612.8" r="3.6"/><circle cx="617.8" cy="613.2" r="3.6"/><circle cx="48.1" cy="610.7" r="3.6"/><circle cx="374.8" cy="612.9" r="3.6"/><circle cx="257.8" cy="610.8" r="3.6"/><circle cx="429.2" cy="612.8" r="3.6"/><circle cx="319.4" cy="611.2" r="3.6"/><circle cx="541.3" cy="613.7" r="3.6"/><circle cx="434.6" cy="610.4" r="3.6"/><circle cx="511.1" cy="611.7" r="3.6"/><circle cx="416.2" cy="610.2" r="3.6"/><circle cx="196.1" cy="610.8" r="3.6"/><circle cx="133.6" cy="611.9" r="3.6"/><circle cx="86.8" cy="610.5" r="3.6"/><circle cx="161" cy="612.3" r="3.6"/><circle cx="476" cy="610.6" r="3.6"/><circle cx="342.4" cy="610.7" r="3.6"/><circle cx="430.1" cy="610.9" r="3.6"/><circle cx="404" cy="611.9" r="3.6"/><circle cx="311.3" cy="609.8" r="3.6"/><circle cx="90.9" cy="612.2" r="3.6"/><circle cx="560.2" cy="611.5" r="3.6"/><circle cx="155.6" cy="610.8" r="3.6"/><circle cx="101.2" cy="610.3" r="3.6"/><circle cx="260" cy="611.9" r="3.6"/><circle cx="191.2" cy="609.7" r="3.6"/><circle cx="616.9" cy="611.2" r="3.6"/><circle cx="575.9" cy="610.3" r="3.6"/><circle cx="164.2" cy="610.4" r="3.6"/><circle cx="355.9" cy="611.1" r="3.6"/><circle cx="340.6" cy="611.9" r="3.6"/><circle cx="316.3" cy="610.8" r="3.6"/><circle cx="148.5" cy="610.4" r="3.6"/><circle cx="586.7" cy="610.2" r="3.6"/><circle cx="311.8" cy="610.9" r="3.6"/><circle cx="374.3" cy="610.2" r="3.6"/><circle cx="537.2" cy="610" r="3.6"/><circle cx="128.2" cy="610" r="3.6"/><circle cx="67.5" cy="612.6" r="3.6"/><circle cx="220.4" cy="610.4" r="3.6"/><circle cx="621" cy="611.9" r="3.6"/><circle cx="190.7" cy="610.8" r="3.6"/><circle cx="347.3" cy="610.4" r="3.6"/><circle cx="635.4" cy="612.5" r="3.6"/><circle cx="156.1" cy="610" r="3.6"/><circle cx="366.7" cy="612.8" r="3.6"/><circle cx="287.5" cy="610.7" r="3.6"/><circle cx="312.2" cy="612.2" r="3.6"/><circle cx="435.5" cy="614.2" r="3.6"/><circle cx="289.7" cy="610.5" r="3.6"/><circle cx="562" cy="609.7" r="3.6"/><circle cx="401.3" cy="609.6" r="3.6"/><circle cx="422.9" cy="610.4" r="3.6"/><circle cx="545.3" cy="611.9" r="3.6"/><circle cx="425.6" cy="609.8" r="3.6"/><circle cx="305.5" cy="612" r="3.6"/><circle cx="473.8" cy="613.5" r="3.6"/><circle cx="400" cy="609.8" r="3.6"/><circle cx="146.2" cy="611.1" r="3.6"/><circle cx="188.9" cy="610.6" r="3.6"/><circle cx="373" cy="612.2" r="3.6"/><circle cx="196.6" cy="610" r="3.6"/><circle cx="183.5" cy="611.3" r="3.6"/><circle cx="280.3" cy="611.7" r="3.6"/><circle cx="45.4" cy="611.9" r="3.6"/><circle cx="263.2" cy="613.2" r="3.6"/><circle cx="331.6" cy="610.6" r="3.6"/><circle cx="207.8" cy="610.4" r="3.6"/><circle cx="68.8" cy="609.9" r="3.6"/><circle cx="163.7" cy="615.4" r="3.6"/><circle cx="580.4" cy="614.1" r="3.6"/><circle cx="204.7" cy="610.9" r="3.6"/><circle cx="183.1" cy="610.2" r="3.6"/><circle cx="263.6" cy="610.5" r="3.6"/><circle cx="139" cy="612.2" r="3.6"/><circle cx="440" cy="611.6" r="3.6"/><circle cx="241.1" cy="610" r="3.6"/><circle cx="633.6" cy="611.8" r="3.6"/><circle cx="332.9" cy="611.2" r="3.6"/><circle cx="327.5" cy="610.4" r="3.6"/><circle cx="612.4" cy="610.2" r="3.6"/><circle cx="356.3" cy="611.8" r="3.6"/><circle cx="484.1" cy="610.4" r="3.6"/><circle cx="115.6" cy="609.6" r="3.6"/><circle cx="497.2" cy="611.9" r="3.6"/><circle cx="75.1" cy="610.7" r="3.6"/><circle cx="368" cy="611" r="3.6"/><circle cx="188" cy="610.3" r="3.6"/><circle cx="368.9" cy="610.1" r="3.6"/><circle cx="213.7" cy="610.4" r="3.6"/><circle cx="99.4" cy="611.2" r="3.6"/><circle cx="198.8" cy="611" r="3.6"/><circle cx="294.2" cy="613.2" r="3.6"/><circle cx="428.3" cy="612.3" r="3.6"/><circle cx="159.7" cy="609.7" r="3.6"/><circle cx="302.8" cy="612.9" r="3.6"/><circle cx="449.5" cy="610" r="3.6"/><circle cx="71.5" cy="612.8" r="3.6"/><circle cx="293.3" cy="613.2" r="3.6"/><circle cx="528.7" cy="610.5" r="3.6"/><circle cx="499" cy="613.5" r="3.6"/><circle cx="44.1" cy="610.6" r="3.6"/><circle cx="282.1" cy="611.7" r="3.6"/><circle cx="414.8" cy="611.2" r="3.6"/><circle cx="80.5" cy="610.9" r="3.6"/><circle cx="174.5" cy="612.8" r="3.6"/><circle cx="589.4" cy="612.6" r="3.6"/><circle cx="552.1" cy="614.4" r="3.6"/><circle cx="247.9" cy="610.3" r="3.6"/><circle cx="359.5" cy="611.6" r="3.6"/><circle cx="60.3" cy="611" r="3.6"/><circle cx="304.6" cy="612.6" r="3.6"/><circle cx="202.9" cy="611.8" r="3.6"/><circle cx="598.4" cy="611" r="3.6"/><circle cx="45" cy="611.3" r="3.6"/><circle cx="326.2" cy="610.1" r="3.6"/><circle cx="377.9" cy="614" r="3.6"/><circle cx="184" cy="610.7" r="3.6"/><circle cx="323.9" cy="609.7" r="3.6"/><circle cx="503.9" cy="610.8" r="3.6"/><circle cx="44.5" cy="613.7" r="3.6"/><circle cx="265.4" cy="611" r="3.6"/><circle cx="134.5" cy="610.5" r="3.6"/><circle cx="446.8" cy="611.6" r="3.6"/><circle cx="568.3" cy="609.8" r="3.6"/><circle cx="187.1" cy="611.2" r="3.6"/><circle cx="350.5" cy="615.2" r="3.6"/><circle cx="250.6" cy="613.6" r="3.6"/><circle cx="292" cy="611" r="3.6"/><circle cx="480.1" cy="614.1" r="3.6"/><circle cx="102.1" cy="614.3" r="3.6"/><circle cx="147.1" cy="609.9" r="3.6"/><circle cx="557.9" cy="614.7" r="3.6"/><circle cx="569.2" cy="612.7" r="3.6"/><circle cx="567.4" cy="612.4" r="3.6"/><circle cx="63" cy="612.7" r="3.6"/><circle cx="611.5" cy="613.3" r="3.6"/><circle cx="638.5" cy="610.7" r="3.6"/><circle cx="539.9" cy="612.2" r="3.6"/><circle cx="483.7" cy="610.5" r="3.6"/><circle cx="306.4" cy="613.3" r="3.6"/><circle cx="266.8" cy="609.8" r="3.6"/><circle cx="80.1" cy="611.9" r="3.6"/><circle cx="627.7" cy="611.7" r="3.6"/><circle cx="595.7" cy="611.8" r="3.6"/><circle cx="615.6" cy="612.5" r="3.6"/><circle cx="454.4" cy="614.6" r="3.6"/><circle cx="428.8" cy="613.2" r="3.6"/><circle cx="431" cy="617.3" r="3.6"/><circle cx="360.8" cy="610.3" r="3.6"/><circle cx="330.2" cy="612.9" r="3.6"/><circle cx="579.5" cy="611.6" r="3.6"/><circle cx="598" cy="614.9" r="3.6"/><circle cx="247" cy="610.6" r="3.6"/><circle cx="588.1" cy="612" r="3.6"/><circle cx="643.5" cy="610" r="3.6"/><circle cx="602.5" cy="610.8" r="3.6"/><circle cx="401.8" cy="610.4" r="3.6"/><circle cx="109.8" cy="610.6" r="3.6"/><circle cx="521.5" cy="611.2" r="3.6"/><circle cx="571" cy="612.3" r="3.6"/><circle cx="460.3" cy="612.1" r="3.6"/><circle cx="212.3" cy="609.6" r="3.6"/><circle cx="208.7" cy="610.4" r="3.6"/><circle cx="302.3" cy="615.9" r="3.6"/><circle cx="201.1" cy="611.8" r="3.6"/><circle cx="166.9" cy="615.2" r="3.6"/><circle cx="442.7" cy="610.8" r="3.6"/><circle cx="395" cy="612.2" r="3.6"/><circle cx="85.9" cy="609.6" r="3.6"/><circle cx="71.1" cy="610.8" r="3.6"/><circle cx="81.9" cy="611.4" r="3.6"/><circle cx="224.5" cy="613.9" r="3.6"/><circle cx="420.7" cy="610.3" r="3.6"/><circle cx="565.1" cy="610.2" r="3.6"/><circle cx="213.2" cy="610.3" r="3.6"/><circle cx="510.7" cy="614.1" r="3.6"/><circle cx="589.9" cy="610.4" r="3.6"/><circle cx="353.2" cy="611.2" r="3.6"/><circle cx="529.6" cy="609.7" r="3.6"/><circle cx="100.3" cy="609.9" r="3.6"/><circle cx="85.5" cy="610.3" r="3.6"/><circle cx="400.4" cy="613.2" r="3.6"/><circle cx="315.8" cy="610" r="3.6"/><circle cx="562.9" cy="611.7" r="3.6"/><circle cx="109.3" cy="609.9" r="3.6"/><circle cx="206" cy="611.6" r="3.6"/><circle cx="179" cy="613.3" r="3.6"/><circle cx="574.6" cy="610.7" r="3.6"/><circle cx="502.6" cy="612.5" r="3.6"/><circle cx="309.1" cy="610.6" r="3.6"/><circle cx="452.6" cy="611.9" r="3.6"/><circle cx="87.3" cy="612" r="3.6"/><circle cx="66.1" cy="610.2" r="3.6"/><circle cx="172.7" cy="612.6" r="3.6"/><circle cx="216.8" cy="613.7" r="3.6"/><circle cx="369.8" cy="609.7" r="3.6"/><circle cx="371.2" cy="611.2" r="3.6"/><circle cx="264.5" cy="610.1" r="3.6"/><circle cx="598.9" cy="612.8" r="3.6"/><circle cx="226.3" cy="609.8" r="3.6"/><circle cx="55.8" cy="610.5" r="3.6"/><circle cx="144.4" cy="613.8" r="3.6"/><circle cx="432.8" cy="610.7" r="3.6"/><circle cx="437.8" cy="611.2" r="3.6"/><circle cx="297.8" cy="616.3" r="3.6"/><circle cx="505.3" cy="610.6" r="3.6"/><circle cx="463.9" cy="615.1" r="3.6"/><circle cx="586.3" cy="614.9" r="3.6"/><circle cx="399.5" cy="613.9" r="3.6"/><circle cx="121" cy="613.7" r="3.6"/><circle cx="100.8" cy="612.7" r="3.6"/><circle cx="536.8" cy="613.7" r="3.6"/><circle cx="305" cy="610" r="3.6"/><circle cx="575" cy="611.2" r="3.6"/><circle cx="255.1" cy="609.9" r="3.6"/><circle cx="579.1" cy="611.2" r="3.6"/><circle cx="435.1" cy="614" r="3.6"/><circle cx="485.5" cy="611.5" r="3.6"/><circle cx="418" cy="611.2" r="3.6"/><circle cx="386" cy="610.8" r="3.6"/><circle cx="157.9" cy="613.4" r="3.6"/><circle cx="149.4" cy="612" r="3.6"/><circle cx="388.3" cy="612.9" r="3.6"/><circle cx="192.5" cy="611.4" r="3.6"/><circle cx="178.1" cy="612.5" r="3.6"/><circle cx="142.6" cy="613.4" r="3.6"/><circle cx="581.8" cy="613.5" r="3.6"/><circle cx="547.1" cy="611" r="3.6"/><circle cx="410.3" cy="610.4" r="3.6"/><circle cx="644.8" cy="610.6" r="3.6"/><circle cx="277.1" cy="613.1" r="3.6"/><circle cx="65.2" cy="611.1" r="3.6"/><circle cx="318.1" cy="611.5" r="3.6"/><circle cx="61.6" cy="611.6" r="3.6"/><circle cx="461.6" cy="613.2" r="3.6"/><circle cx="562.4" cy="614.4" r="3.6"/><circle cx="249.2" cy="613.1" r="3.6"/><circle cx="116.1" cy="611.5" r="3.6"/><circle cx="486.4" cy="610.5" r="3.6"/><circle cx="555.2" cy="612.1" r="3.6"/><circle cx="603" cy="615" r="3.6"/><circle cx="387.8" cy="611.2" r="3.6"/><circle cx="534.5" cy="610.5" r="3.6"/><circle cx="529.1" cy="610.2" r="3.6"/><circle cx="439.6" cy="612.6" r="3.6"/><circle cx="281.2" cy="613.2" r="3.6"/><circle cx="514.7" cy="611.8" r="3.6"/><circle cx="600.2" cy="611.3" r="3.6"/><circle cx="491.8" cy="610.7" r="3.6"/><circle cx="235.7" cy="613" r="3.6"/><circle cx="365.8" cy="613.2" r="3.6"/><circle cx="126.4" cy="611.9" r="3.6"/><circle cx="522.4" cy="610.6" r="3.6"/><circle cx="459.4" cy="614.7" r="3.6"/><circle cx="201.5" cy="614.1" r="3.6"/><circle cx="99" cy="611.8" r="3.6"/><circle cx="431.9" cy="610.8" r="3.6"/><circle cx="641.2" cy="611.5" r="3.6"/><circle cx="384.7" cy="612.8" r="3.6"/><circle cx="390.5" cy="612.9" r="3.6"/><circle cx="634.9" cy="612.9" r="3.6"/><circle cx="332.5" cy="610.4" r="3.6"/><circle cx="542.6" cy="611.4" r="3.6"/><circle cx="287" cy="611.7" r="3.6"/><circle cx="638.1" cy="610.3" r="3.6"/><circle cx="104.8" cy="612.2" r="3.6"/><circle cx="472.9" cy="613.9" r="3.6"/><circle cx="78.3" cy="614.2" r="3.6"/><circle cx="481" cy="611" r="3.6"/><circle cx="635.8" cy="609.8" r="3.6"/><circle cx="523.7" cy="611.2" r="3.6"/><circle cx="561.1" cy="609.6" r="3.6"/><circle cx="564.2" cy="610.7" r="3.6"/><circle cx="237.1" cy="609.9" r="3.6"/><circle cx="476.9" cy="611" r="3.6"/><circle cx="89.5" cy="612.5" r="3.6"/><circle cx="634" cy="611.3" r="3.6"/><circle cx="42.3" cy="611.4" r="3.6"/><circle cx="515.6" cy="611.8" r="3.6"/><circle cx="369.4" cy="616" r="3.6"/><circle cx="473.3" cy="611.3" r="3.6"/><circle cx="323" cy="616.2" r="3.6"/><circle cx="119.2" cy="611.3" r="3.6"/><circle cx="92.2" cy="613.6" r="3.6"/><circle cx="581.3" cy="610.9" r="3.6"/><circle cx="200.2" cy="612.9" r="3.6"/><circle cx="262.7" cy="611.5" r="3.6"/><circle cx="364" cy="614.2" r="3.6"/><circle cx="484.6" cy="610.1" r="3.6"/><circle cx="415.7" cy="612.1" r="3.6"/><circle cx="538.1" cy="610.9" r="3.6"/><circle cx="110.7" cy="613" r="3.6"/><circle cx="137.7" cy="609.6" r="3.6"/><circle cx="626.4" cy="614.6" r="3.6"/><circle cx="241.6" cy="612.7" r="3.6"/><circle cx="252.8" cy="610.5" r="3.6"/><circle cx="549.4" cy="614.7" r="3.6"/><circle cx="254.6" cy="613.2" r="3.6"/><circle cx="381.5" cy="613.1" r="3.6"/><circle cx="403.1" cy="613.5" r="3.6"/><circle cx="103" cy="615.6" r="3.6"/><circle cx="363.5" cy="611.9" r="3.6"/><circle cx="197.5" cy="613.6" r="3.6"/><circle cx="568.7" cy="611.1" r="3.6"/><circle cx="411.2" cy="612.3" r="3.6"/><circle cx="429.7" cy="611.3" r="3.6"/><circle cx="217.7" cy="610.8" r="3.6"/><circle cx="472.4" cy="609.8" r="3.6"/><circle cx="243.8" cy="609.9" r="3.6"/><circle cx="102.6" cy="609.6" r="3.6"/><circle cx="319.9" cy="610.4" r="3.6"/><circle cx="430.6" cy="613.2" r="3.6"/><circle cx="117" cy="610.8" r="3.6"/><circle cx="527.8" cy="612" r="3.6"/><circle cx="69.3" cy="610.7" r="3.6"/><circle cx="76" cy="614.3" r="3.6"/><circle cx="494.5" cy="612.6" r="3.6"/><circle cx="308.6" cy="611.2" r="3.6"/><circle cx="235.3" cy="611.5" r="3.6"/><circle cx="150.2" cy="613.5" r="3.6"/><circle cx="78.7" cy="612.4" r="3.6"/><circle cx="415.3" cy="614" r="3.6"/><circle cx="448.1" cy="613.7" r="3.6"/><circle cx="314.9" cy="610.6" r="3.6"/><circle cx="276.7" cy="612" r="3.6"/><circle cx="420.2" cy="611.6" r="3.6"/><circle cx="307.7" cy="610.2" r="3.6"/><circle cx="642.1" cy="611.8" r="3.6"/><circle cx="504.4" cy="614.6" r="3.6"/><circle cx="412.1" cy="609.9" r="3.6"/><circle cx="419.3" cy="617.1" r="3.6"/><circle cx="576.4" cy="615.6" r="3.6"/><circle cx="41.8" cy="611" r="3.6"/><circle cx="603.4" cy="612.7" r="3.6"/><circle cx="93.6" cy="611.9" r="3.6"/><circle cx="97.6" cy="614.2" r="3.6"/><circle cx="574.1" cy="613.7" r="3.6"/><circle cx="269.5" cy="610.7" r="3.6"/><circle cx="547.6" cy="610.7" r="3.6"/><circle cx="506.6" cy="612.3" r="3.6"/><circle cx="65.7" cy="612.5" r="3.6"/><circle cx="437.3" cy="612.4" r="3.6"/><circle cx="327.1" cy="611.5" r="3.6"/><circle cx="455.3" cy="613.6" r="3.6"/><circle cx="223.1" cy="614.3" r="3.6"/><circle cx="95.8" cy="611.6" r="3.6"/><circle cx="285.7" cy="611.5" r="3.6"/><circle cx="106.2" cy="610.7" r="3.6"/><circle cx="225.8" cy="612.5" r="3.6"/><circle cx="285.2" cy="612.9" r="3.6"/><circle cx="64.3" cy="611.4" r="3.6"/><circle cx="192.1" cy="610" r="3.6"/><circle cx="139.9" cy="611.5" r="3.6"/><circle cx="322.6" cy="616.1" r="3.6"/><circle cx="341" cy="615" r="3.6"/><circle cx="333.4" cy="612.2" r="3.6"/><circle cx="476.5" cy="614.3" r="3.6"/><circle cx="469.7" cy="609.9" r="3.6"/><circle cx="536.3" cy="611.8" r="3.6"/><circle cx="546.7" cy="616.8" r="3.6"/><circle cx="526.9" cy="612.6" r="3.6"/><circle cx="446.3" cy="612.9" r="3.6"/><circle cx="60.7" cy="611.2" r="3.6"/><circle cx="399.1" cy="611.2" r="3.6"/><circle cx="128.7" cy="609.8" r="3.6"/><circle cx="601.6" cy="612.3" r="3.6"/><circle cx="200.6" cy="611.5" r="3.6"/><circle cx="471.5" cy="612.9" r="3.6"/><circle cx="207.4" cy="612" r="3.6"/><circle cx="216.4" cy="609.6" r="3.6"/><circle cx="40.9" cy="614.9" r="3.6"/><circle cx="231.7" cy="613.8" r="3.6"/><circle cx="145.8" cy="613.3" r="3.6"/><circle cx="50.4" cy="615.4" r="3.6"/><circle cx="143.1" cy="611.6" r="3.6"/><circle cx="409.4" cy="613.7" r="3.6"/><circle cx="554.8" cy="614.2" r="3.6"/><circle cx="270.8" cy="611" r="3.6"/><circle cx="310.9" cy="617" r="3.6"/><circle cx="495.8" cy="613.9" r="3.6"/><circle cx="251.9" cy="614.6" r="3.6"/><circle cx="431.5" cy="616.2" r="3.6"/><circle cx="283" cy="615.9" r="3.6"/><circle cx="532.7" cy="610.7" r="3.6"/><circle cx="321.7" cy="612.4" r="3.6"/><circle cx="284.3" cy="615.7" r="3.6"/><circle cx="351.8" cy="612.7" r="3.6"/><circle cx="548" cy="611.7" r="3.6"/><circle cx="457.6" cy="612.1" r="3.6"/><circle cx="403.6" cy="611.9" r="3.6"/><circle cx="501.2" cy="610.4" r="3.6"/><circle cx="337.9" cy="613.2" r="3.6"/><circle cx="112" cy="609.9" r="3.6"/><circle cx="526.4" cy="610.7" r="3.6"/><circle cx="607" cy="613.5" r="3.6"/><circle cx="433.3" cy="612.1" r="3.6"/><circle cx="59.4" cy="614.9" r="3.6"/><circle cx="392.3" cy="610" r="3.6"/><circle cx="293.8" cy="615.2" r="3.6"/><circle cx="52.6" cy="613.4" r="3.6"/><circle cx="278.5" cy="613.1" r="3.6"/><circle cx="499.4" cy="617" r="3.6"/><circle cx="493.1" cy="615.1" r="3.6"/><circle cx="182.2" cy="614" r="3.6"/><circle cx="449.9" cy="611.3" r="3.6"/><circle cx="572.3" cy="610.8" r="3.6"/><circle cx="507.5" cy="613.1" r="3.6"/><circle cx="231.2" cy="613" r="3.6"/><circle cx="142.2" cy="615.5" r="3.6"/><circle cx="153.8" cy="609.8" r="3.6"/><circle cx="475.6" cy="612.2" r="3.6"/><circle cx="448.6" cy="615.7" r="3.6"/><circle cx="427" cy="613.6" r="3.6"/><circle cx="274" cy="610.2" r="3.6"/><circle cx="530" cy="613.9" r="3.6"/><circle cx="42.7" cy="610.7" r="3.6"/><circle cx="490.9" cy="609.9" r="3.6"/><circle cx="618.7" cy="615.1" r="3.6"/><circle cx="168.2" cy="611.6" r="3.6"/><circle cx="405.8" cy="615" r="3.6"/><circle cx="500.3" cy="610" r="3.6"/><circle cx="354.5" cy="613.1" r="3.6"/><circle cx="339.2" cy="612.5" r="3.6"/><circle cx="296.5" cy="612.3" r="3.6"/><circle cx="54" cy="613" r="3.6"/><circle cx="447.7" cy="615" r="3.6"/><circle cx="161.9" cy="610" r="3.6"/><circle cx="72.9" cy="615.9" r="3.6"/><circle cx="580.9" cy="613.8" r="3.6"/><circle cx="377" cy="611.9" r="3.6"/><circle cx="365.3" cy="614.1" r="3.6"/><circle cx="578.6" cy="609.9" r="3.6"/><circle cx="69.7" cy="615.9" r="3.6"/><circle cx="358.1" cy="611.8" r="3.6"/><circle cx="479.6" cy="611" r="3.6"/><circle cx="178.6" cy="610.2" r="3.6"/><circle cx="193" cy="614" r="3.6"/><circle cx="350.9" cy="610.6" r="3.6"/><circle cx="179.9" cy="615.9" r="3.6"/><circle cx="423.4" cy="614.6" r="3.6"/><circle cx="261.4" cy="614.8" r="3.6"/><circle cx="210.1" cy="612.9" r="3.6"/><circle cx="557.5" cy="613.2" r="3.6"/><circle cx="501.7" cy="610.3" r="3.6"/><circle cx="487.7" cy="615.9" r="3.6"/><circle cx="539" cy="610.8" r="3.6"/><circle cx="594.8" cy="612.5" r="3.6"/><circle cx="258.7" cy="615.2" r="3.6"/><circle cx="199.3" cy="615.1" r="3.6"/><circle cx="459.8" cy="615.5" r="3.6"/><circle cx="382" cy="612.4" r="3.6"/><circle cx="643.9" cy="616.2" r="3.6"/><circle cx="59.8" cy="613.1" r="3.6"/><circle cx="242.5" cy="615.3" r="3.6"/><circle cx="124.2" cy="610.5" r="3.6"/><circle cx="379.3" cy="613.3" r="3.6"/><circle cx="625" cy="610.5" r="3.6"/><circle cx="535" cy="609.6" r="3.6"/><circle cx="404.9" cy="614.1" r="3.6"/><circle cx="296" cy="615.3" r="3.6"/><circle cx="158.8" cy="611.5" r="3.6"/><circle cx="454.9" cy="616.3" r="3.6"/><circle cx="43.2" cy="611.4" r="3.6"/><circle cx="66.6" cy="614.7" r="3.6"/><circle cx="595.3" cy="610" r="3.6"/><circle cx="117.9" cy="612.5" r="3.6"/><circle cx="346" cy="612.8" r="3.6"/><circle cx="177.7" cy="614.9" r="3.6"/><circle cx="49.5" cy="615.9" r="3.6"/><circle cx="214.1" cy="615.8" r="3.6"/><circle cx="563.3" cy="610.9" r="3.6"/><circle cx="136.3" cy="611.7" r="3.6"/><circle cx="359.9" cy="611" r="3.6"/><circle cx="479.2" cy="611.3" r="3.6"/><circle cx="601.1" cy="610.8" r="3.6"/><circle cx="613.8" cy="613.6" r="3.6"/><circle cx="566.5" cy="614.1" r="3.6"/><circle cx="487.3" cy="609.8" r="3.6"/><circle cx="180.4" cy="615.7" r="3.6"/><circle cx="612.9" cy="610" r="3.6"/><circle cx="490.4" cy="611.5" r="3.6"/><circle cx="261.8" cy="613.5" r="3.6"/><circle cx="103.9" cy="613.3" r="3.6"/><circle cx="544.4" cy="610.7" r="3.6"/><circle cx="467.5" cy="610.3" r="3.6"/><circle cx="248.8" cy="614.2" r="3.6"/><circle cx="597.5" cy="616" r="3.6"/><circle cx="512.5" cy="611.6" r="3.6"/><circle cx="587.2" cy="609.9" r="3.6"/><circle cx="301.9" cy="611.8" r="3.6"/><circle cx="264.1" cy="615.2" r="3.6"/><circle cx="179.5" cy="612.8" r="3.6"/><circle cx="363.1" cy="611.6" r="3.6"/><circle cx="268.1" cy="616.5" r="3.6"/><circle cx="338.8" cy="612.7" r="3.6"/><circle cx="604.3" cy="616" r="3.6"/><circle cx="300.5" cy="610.2" r="3.6"/><circle cx="361.3" cy="610.7" r="3.6"/><circle cx="512.9" cy="613.4" r="3.6"/><circle cx="383.3" cy="614.3" r="3.6"/><circle cx="274.9" cy="613.6" r="3.6"/><circle cx="129.6" cy="610.4" r="3.6"/><circle cx="259.1" cy="609.7" r="3.6"/><circle cx="244.7" cy="613.1" r="3.6"/><circle cx="345.5" cy="614.1" r="3.6"/><circle cx="639" cy="617" r="3.6"/><circle cx="94.5" cy="613.5" r="3.6"/><circle cx="123.7" cy="616.6" r="3.6"/><circle cx="380.6" cy="616.3" r="3.6"/><circle cx="281.6" cy="611.3" r="3.6"/><circle cx="643" cy="611.5" r="3.6"/><circle cx="347.8" cy="611.3" r="3.6"/><circle cx="122.4" cy="614.1" r="3.6"/><circle cx="525.1" cy="613.4" r="3.6"/><circle cx="564.7" cy="614.9" r="3.6"/><circle cx="619.6" cy="615.6" r="3.6"/><circle cx="290.6" cy="614.4" r="3.6"/><circle cx="578.2" cy="614.2" r="3.6"/><circle cx="450.8" cy="615.2" r="3.6"/><circle cx="113.8" cy="612.1" r="3.6"/><circle cx="154.7" cy="610.7" r="3.6"/><circle cx="460.7" cy="611" r="3.6"/><circle cx="228.5" cy="613.9" r="3.6"/><circle cx="628.2" cy="612.4" r="3.6"/><circle cx="110.2" cy="612.4" r="3.6"/><circle cx="131.8" cy="612.9" r="3.6"/><circle cx="628.6" cy="616.6" r="3.6"/><circle cx="637.2" cy="611.2" r="3.6"/><circle cx="478.3" cy="614" r="3.6"/><circle cx="161.5" cy="611.3" r="3.6"/><circle cx="593" cy="612.2" r="3.6"/><circle cx="303.7" cy="611.1" r="3.6"/><circle cx="512" cy="609.7" r="3.6"/><circle cx="55.3" cy="612" r="3.6"/><circle cx="409.9" cy="610.7" r="3.6"/><circle cx="242.9" cy="614" r="3.6"/><circle cx="290.2" cy="612.4" r="3.6"/><circle cx="372.1" cy="617.1" r="3.6"/><circle cx="324.8" cy="611.1" r="3.6"/><circle cx="565.6" cy="611.2" r="3.6"/><circle cx="427.9" cy="612.6" r="3.6"/><circle cx="414.4" cy="612.4" r="3.6"/><circle cx="633.1" cy="611.4" r="3.6"/><circle cx="610.2" cy="615.6" r="3.6"/><circle cx="361.7" cy="611.4" r="3.6"/><circle cx="91.3" cy="613.5" r="3.6"/><circle cx="88.6" cy="610.2" r="3.6"/><circle cx="442.3" cy="612.1" r="3.6"/><circle cx="572.8" cy="612.5" r="3.6"/><circle cx="151.6" cy="611.3" r="3.6"/><circle cx="423.8" cy="615.1" r="3.6"/><circle cx="397.7" cy="612" r="3.6"/><circle cx="238.4" cy="613.2" r="3.6"/><circle cx="614.2" cy="614.6" r="3.6"/><circle cx="61.2" cy="613.7" r="3.6"/><circle cx="551.2" cy="612.5" r="3.6"/><circle cx="167.8" cy="614.2" r="3.6"/><circle cx="391.9" cy="614.7" r="3.6"/><circle cx="288.8" cy="610.2" r="3.6"/><circle cx="548.9" cy="617.1" r="3.6"/><circle cx="171.4" cy="613.6" r="3.6"/><circle cx="421.1" cy="614.4" r="3.6"/><circle cx="439.1" cy="613.5" r="3.6"/><circle cx="175" cy="616.9" r="3.6"/><circle cx="112.5" cy="613.8" r="3.6"/><circle cx="328.9" cy="611.9" r="3.6"/><circle cx="294.7" cy="615.2" r="3.6"/><circle cx="253.3" cy="612.9" r="3.6"/><circle cx="577.3" cy="615.3" r="3.6"/><circle cx="303.2" cy="611.1" r="3.6"/><circle cx="144.9" cy="611.1" r="3.6"/><circle cx="203.8" cy="610.4" r="3.6"/><circle cx="175.4" cy="613.1" r="3.6"/><circle cx="570.1" cy="614.7" r="3.6"/><circle cx="538.6" cy="614.9" r="3.6"/><circle cx="185.8" cy="611.2" r="3.6"/><circle cx="260.5" cy="615" r="3.6"/><circle cx="453.1" cy="614.8" r="3.6"/><circle cx="537.7" cy="613.6" r="3.6"/><circle cx="236.2" cy="613.5" r="3.6"/><circle cx="159.2" cy="613.7" r="3.6"/><circle cx="398.2" cy="611.5" r="3.6"/><circle cx="188.5" cy="610.5" r="3.6"/><circle cx="245.6" cy="614.4" r="3.6"/><circle cx="592.6" cy="611.8" r="3.6"/><circle cx="575.5" cy="612.2" r="3.6"/><circle cx="343.3" cy="612.4" r="3.6"/><circle cx="353.6" cy="614" r="3.6"/><circle cx="58" cy="613.9" r="3.6"/><circle cx="417.1" cy="609.9" r="3.6"/><circle cx="421.6" cy="615" r="3.6"/><circle cx="545.8" cy="614" r="3.6"/><circle cx="644.4" cy="613.7" r="3.6"/><circle cx="426.5" cy="612.2" r="3.6"/><circle cx="268.6" cy="614.9" r="3.6"/><circle cx="156.5" cy="613.5" r="3.6"/><circle cx="246.1" cy="612.7" r="3.6"/><circle cx="280.7" cy="615.2" r="3.6"/><circle cx="202" cy="613.9" r="3.6"/><circle cx="456.7" cy="614.7" r="3.6"/><circle cx="521" cy="610.6" r="3.6"/><circle cx="151.1" cy="616.1" r="3.6"/><circle cx="322.1" cy="616.6" r="3.6"/><circle cx="108" cy="611.3" r="3.6"/><circle cx="482.3" cy="613.5" r="3.6"/><circle cx="306.8" cy="614.9" r="3.6"/><circle cx="609.3" cy="614.7" r="3.6"/><circle cx="62.1" cy="613.2" r="3.6"/><circle cx="554.3" cy="610.6" r="3.6"/><circle cx="237.5" cy="612.3" r="3.6"/><circle cx="432.4" cy="614.5" r="3.6"/><circle cx="81.4" cy="610.5" r="3.6"/><circle cx="166.4" cy="614.9" r="3.6"/><circle cx="375.2" cy="614.4" r="3.6"/><circle cx="169.6" cy="614.3" r="3.6"/><circle cx="83.2" cy="613.9" r="3.6"/><circle cx="259.6" cy="614" r="3.6"/><circle cx="483.2" cy="613.1" r="3.6"/><circle cx="135" cy="612" r="3.6"/><circle cx="92.7" cy="613.3" r="3.6"/><circle cx="616.5" cy="614" r="3.6"/><circle cx="197" cy="614.4" r="3.6"/><circle cx="481.9" cy="614" r="3.6"/><circle cx="606.6" cy="614.2" r="3.6"/><circle cx="295.6" cy="612.3" r="3.6"/><circle cx="550.7" cy="613.3" r="3.6"/><circle cx="472" cy="611.8" r="3.6"/><circle cx="275.3" cy="610.9" r="3.6"/><circle cx="632.2" cy="614.5" r="3.6"/><circle cx="182.6" cy="615.4" r="3.6"/><circle cx="217.3" cy="611.5" r="3.6"/><circle cx="364.9" cy="610.3" r="3.6"/><circle cx="378.4" cy="611.6" r="3.6"/><circle cx="557" cy="614.9" r="3.6"/><circle cx="124.6" cy="610.7" r="3.6"/><circle cx="384.2" cy="613.7" r="3.6"/><circle cx="458" cy="610.6" r="3.6"/><circle cx="639.9" cy="612.4" r="3.6"/><circle cx="559.3" cy="614.9" r="3.6"/><circle cx="189.8" cy="612.6" r="3.6"/><circle cx="338.3" cy="612.9" r="3.6"/><circle cx="593.9" cy="613.1" r="3.6"/><circle cx="373.9" cy="613" r="3.6"/><circle cx="170.5" cy="614.6" r="3.6"/><circle cx="160.6" cy="615.5" r="3.6"/><circle cx="214.6" cy="616" r="3.6"/><circle cx="96.3" cy="614.9" r="3.6"/><circle cx="198.4" cy="615.7" r="3.6"/><circle cx="457.1" cy="613.1" r="3.6"/><circle cx="247.4" cy="617.1" r="3.6"/><circle cx="79.6" cy="612.3" r="3.6"/><circle cx="440.9" cy="617.3" r="3.6"/><circle cx="341.5" cy="613.3" r="3.6"/><circle cx="602" cy="609.8" r="3.6"/><circle cx="573.7" cy="614.3" r="3.6"/><circle cx="629.5" cy="614" r="3.6"/><circle cx="321.2" cy="611.3" r="3.6"/><circle cx="449" cy="616.7" r="3.6"/><circle cx="486.8" cy="616.5" r="3.6"/><circle cx="95.4" cy="615.4" r="3.6"/><circle cx="323.5" cy="614.5" r="3.6"/><circle cx="532.3" cy="611.3" r="3.6"/><circle cx="456.2" cy="614.8" r="3.6"/><circle cx="453.5" cy="610.1" r="3.6"/><circle cx="604.8" cy="615" r="3.6"/><circle cx="427.4" cy="611" r="3.6"/><circle cx="396.4" cy="610.2" r="3.6"/><circle cx="558.4" cy="614.5" r="3.6"/><circle cx="387.4" cy="610.3" r="3.6"/><circle cx="229.4" cy="616.1" r="3.6"/><circle cx="410.8" cy="614.8" r="3.6"/><circle cx="368.5" cy="611.5" r="3.6"/><circle cx="67.9" cy="615.2" r="3.6"/><circle cx="408.5" cy="615.7" r="3.6"/><circle cx="349.1" cy="615.9" r="3.6"/><circle cx="227.2" cy="612.3" r="3.6"/><circle cx="364.4" cy="609.8" r="3.6"/><circle cx="205.1" cy="616.3" r="3.6"/><circle cx="535.9" cy="617.2" r="3.6"/><circle cx="461.2" cy="613.8" r="3.6"/><circle cx="607.9" cy="614.3" r="3.6"/><circle cx="337" cy="614.9" r="3.6"/><circle cx="517" cy="612.3" r="3.6"/><circle cx="211" cy="611.4" r="3.6"/><circle cx="167.3" cy="614.8" r="3.6"/><circle cx="445.4" cy="616.3" r="3.6"/><circle cx="313.6" cy="615.4" r="3.6"/><circle cx="329.3" cy="614" r="3.6"/><circle cx="194.8" cy="615.1" r="3.6"/><circle cx="357.7" cy="612.5" r="3.6"/><circle cx="584.9" cy="614.3" r="3.6"/><circle cx="94" cy="609.8" r="3.6"/><circle cx="130" cy="615.2" r="3.6"/><circle cx="81" cy="614.9" r="3.6"/><circle cx="355.4" cy="612.5" r="3.6"/><circle cx="118.8" cy="615.9" r="3.6"/><circle cx="314" cy="613" r="3.6"/><circle cx="620.1" cy="613.6" r="3.6"/><circle cx="443.6" cy="614.4" r="3.6"/><circle cx="105.7" cy="613" r="3.6"/><circle cx="419.8" cy="613.3" r="3.6"/><circle cx="366.2" cy="612.3" r="3.6"/><circle cx="467.9" cy="613.9" r="3.6"/><circle cx="556.1" cy="613.6" r="3.6"/><circle cx="229.9" cy="614.2" r="3.6"/><circle cx="583.6" cy="613.1" r="3.6"/><circle cx="226.7" cy="615.8" r="3.6"/><circle cx="118.3" cy="612.3" r="3.6"/><circle cx="590.8" cy="612.2" r="3.6"/><circle cx="508" cy="614.9" r="3.6"/><circle cx="471.1" cy="613.2" r="3.6"/><circle cx="206.5" cy="615.9" r="3.6"/><circle cx="641.7" cy="612.2" r="3.6"/><circle cx="278" cy="610.4" r="3.6"/><circle cx="355" cy="613" r="3.6"/><circle cx="404.5" cy="615.3" r="3.6"/><circle cx="482.8" cy="612.1" r="3.6"/><circle cx="440.5" cy="616.2" r="3.6"/><circle cx="98.1" cy="612.4" r="3.6"/><circle cx="148" cy="611" r="3.6"/><circle cx="309.5" cy="614.4" r="3.6"/><circle cx="114.3" cy="616.6" r="3.6"/><circle cx="553.9" cy="612.3" r="3.6"/><circle cx="340.1" cy="611" r="3.6"/><circle cx="622.3" cy="610.5" r="3.6"/><circle cx="56.7" cy="615.8" r="3.6"/><circle cx="345.1" cy="612.4" r="3.6"/><circle cx="573.2" cy="613.1" r="3.6"/><circle cx="304.1" cy="614.1" r="3.6"/><circle cx="108.9" cy="612.6" r="3.6"/><circle cx="492.2" cy="614.9" r="3.6"/><circle cx="373.4" cy="613.8" r="3.6"/><circle cx="463.4" cy="612.5" r="3.6"/><circle cx="454" cy="612.8" r="3.6"/><circle cx="47.7" cy="611.8" r="3.6"/><circle cx="580" cy="614.3" r="3.6"/><circle cx="240.7" cy="614" r="3.6"/><circle cx="174.1" cy="614.1" r="3.6"/><circle cx="191.6" cy="615" r="3.6"/><circle cx="166" cy="616.1" r="3.6"/><circle cx="352.7" cy="613.7" r="3.6"/><circle cx="358.6" cy="612.2" r="3.6"/><circle cx="273.5" cy="614.1" r="3.6"/><circle cx="276.2" cy="611.5" r="3.6"/><circle cx="626.8" cy="615.4" r="3.6"/><circle cx="265.9" cy="614" r="3.6"/><circle cx="623.2" cy="613" r="3.6"/><circle cx="314.5" cy="616.7" r="3.6"/><circle cx="170" cy="610" r="3.6"/><circle cx="70.2" cy="616.1" r="3.6"/><circle cx="555.7" cy="612.1" r="3.6"/><circle cx="335.2" cy="612.7" r="3.6"/><circle cx="333.8" cy="610.9" r="3.6"/><circle cx="120.1" cy="614.8" r="3.6"/><circle cx="522.8" cy="614.3" r="3.6"/><circle cx="211.9" cy="612.4" r="3.6"/><circle cx="131.4" cy="615.9" r="3.6"/><circle cx="367.6" cy="611.6" r="3.6"/><circle cx="391.4" cy="612.6" r="3.6"/><circle cx="74.7" cy="615.2" r="3.6"/><circle cx="208.3" cy="613" r="3.6"/><circle cx="496.7" cy="613.9" r="3.6"/><circle cx="571.4" cy="614.6" r="3.6"/><circle cx="539.5" cy="614" r="3.6"/><circle cx="233" cy="615.4" r="3.6"/><circle cx="441.8" cy="615.1" r="3.6"/><circle cx="87.7" cy="611.7" r="3.6"/><circle cx="147.6" cy="616" r="3.6"/><circle cx="232.6" cy="615.2" r="3.6"/><circle cx="270.4" cy="614.6" r="3.6"/><circle cx="502.1" cy="611.6" r="3.6"/><circle cx="621.4" cy="613.9" r="3.6"/><circle cx="62.5" cy="614.3" r="3.6"/><circle cx="608.8" cy="616.1" r="3.6"/><circle cx="571.9" cy="615" r="3.6"/><circle cx="444.5" cy="615" r="3.6"/><circle cx="438.2" cy="614.1" r="3.6"/><circle cx="339.7" cy="612.8" r="3.6"/><circle cx="326.6" cy="615.3" r="3.6"/><circle cx="378.8" cy="616.7" r="3.6"/><circle cx="318.5" cy="616.4" r="3.6"/><circle cx="116.5" cy="616.4" r="3.6"/><circle cx="376.1" cy="615.7" r="3.6"/><circle cx="494" cy="614.7" r="3.6"/><circle cx="385.1" cy="612.1" r="3.6"/><circle cx="215.9" cy="610.7" r="3.6"/><circle cx="508.4" cy="616.8" r="3.6"/><circle cx="335.6" cy="611.1" r="3.6"/><circle cx="636.7" cy="613.4" r="3.6"/><circle cx="114.7" cy="613.9" r="3.6"/><circle cx="202.4" cy="616.7" r="3.6"/><circle cx="234.8" cy="611.1" r="3.6"/><circle cx="540.4" cy="613.4" r="3.6"/><circle cx="308.2" cy="614.4" r="3.6"/><circle cx="310" cy="614.9" r="3.6"/><circle cx="514.3" cy="611.4" r="3.6"/><circle cx="282.5" cy="613.8" r="3.6"/><circle cx="57.6" cy="615" r="3.6"/><circle cx="390.1" cy="611.9" r="3.6"/><circle cx="209.6" cy="614.1" r="3.6"/><circle cx="113.4" cy="615.9" r="3.6"/><circle cx="127.3" cy="611.9" r="3.6"/><circle cx="469.3" cy="611.4" r="3.6"/><circle cx="553.4" cy="613.2" r="3.6"/><circle cx="516.5" cy="614.5" r="3.6"/><circle cx="498.1" cy="617.3" r="3.6"/><circle cx="413.5" cy="614.5" r="3.6"/><circle cx="541.7" cy="617.2" r="3.6"/><circle cx="424.3" cy="616.9" r="3.6"/><circle cx="157.4" cy="611.6" r="3.6"/><circle cx="510.2" cy="613.2" r="3.6"/><circle cx="445.9" cy="612.8" r="3.6"/><circle cx="533.2" cy="611.5" r="3.6"/><circle cx="379.7" cy="614.3" r="3.6"/><circle cx="582.7" cy="616.4" r="3.6"/><circle cx="495.4" cy="611.3" r="3.6"/><circle cx="488.2" cy="613.7" r="3.6"/><circle cx="594.4" cy="616.6" r="3.6"/><circle cx="389.6" cy="615.5" r="3.6"/><circle cx="225.4" cy="614.4" r="3.6"/><circle cx="173.2" cy="616" r="3.6"/><circle cx="228.1" cy="611.8" r="3.6"/><circle cx="614.7" cy="614.7" r="3.6"/><circle cx="531.8" cy="616.4" r="3.6"/><circle cx="43.6" cy="615.3" r="3.6"/><circle cx="298.3" cy="616.4" r="3.6"/><circle cx="176.3" cy="612.2" r="3.6"/><circle cx="73.8" cy="616.3" r="3.6"/><circle cx="320.8" cy="610" r="3.6"/><circle cx="377.5" cy="616.6" r="3.6"/><circle cx="76.5" cy="615.2" r="3.6"/><circle cx="343.7" cy="616.1" r="3.6"/><circle cx="619.2" cy="617.3" r="3.6"/><circle cx="265" cy="613.7" r="3.6"/><circle cx="542.2" cy="615.2" r="3.6"/><circle cx="612" cy="616.1" r="3.6"/><circle cx="344.6" cy="614.5" r="3.6"/><circle cx="169.1" cy="615.3" r="3.6"/><circle cx="275.8" cy="614.4" r="3.6"/><circle cx="371.6" cy="615.5" r="3.6"/><circle cx="230.8" cy="615.7" r="3.6"/><circle cx="125.5" cy="615.9" r="3.6"/><circle cx="64.8" cy="611.4" r="3.6"/><circle cx="256" cy="611.2" r="3.6"/><circle cx="627.3" cy="613.9" r="3.6"/><circle cx="46.8" cy="614.3" r="3.6"/><circle cx="45.9" cy="613" r="3.6"/><circle cx="346.4" cy="613.6" r="3.6"/><circle cx="525.5" cy="611.7" r="3.6"/><circle cx="362.2" cy="614.7" r="3.6"/><circle cx="74.2" cy="612.5" r="3.6"/><circle cx="560.6" cy="616.2" r="3.6"/><circle cx="395.5" cy="616.4" r="3.6"/><circle cx="163.3" cy="616.7" r="3.6"/><circle cx="51.3" cy="615.8" r="3.6"/><circle cx="103.5" cy="611.1" r="3.6"/><circle cx="416.6" cy="611" r="3.6"/><circle cx="98.5" cy="611.5" r="3.6"/><circle cx="184.9" cy="611.9" r="3.6"/><circle cx="413" cy="611.8" r="3.6"/><circle cx="485.9" cy="614.9" r="3.6"/><circle cx="248.3" cy="617.2" r="3.6"/><circle cx="138.6" cy="611.6" r="3.6"/><circle cx="143.5" cy="613.2" r="3.6"/><circle cx="332" cy="616.6" r="3.6"/><circle cx="599.8" cy="612.2" r="3.6"/><circle cx="382.9" cy="616.1" r="3.6"/><circle cx="186.2" cy="616.9" r="3.6"/><circle cx="229" cy="612.7" r="3.6"/><circle cx="458.9" cy="615.6" r="3.6"/><circle cx="407.6" cy="616.7" r="3.6"/><circle cx="72" cy="616.4" r="3.6"/><circle cx="215.5" cy="612.9" r="3.6"/><circle cx="380.2" cy="613.3" r="3.6"/><circle cx="438.7" cy="615.4" r="3.6"/><circle cx="392.8" cy="613.3" r="3.6"/><circle cx="165.5" cy="616" r="3.6"/><circle cx="316.7" cy="615.5" r="3.6"/><circle cx="393.2" cy="613.6" r="3.6"/><circle cx="603.9" cy="613.5" r="3.6"/><circle cx="436.9" cy="613.6" r="3.6"/><circle cx="171.8" cy="615.6" r="3.6"/><circle cx="204.2" cy="614.7" r="3.6"/><circle cx="605.2" cy="611.3" r="3.6"/><circle cx="325.3" cy="617" r="3.6"/><circle cx="609.7" cy="611.7" r="3.6"/><circle cx="521.9" cy="613.5" r="3.6"/><circle cx="184.4" cy="612.1" r="3.6"/><circle cx="152.9" cy="612.9" r="3.6"/><circle cx="300.1" cy="614.1" r="3.6"/><circle cx="56.2" cy="616" r="3.6"/><circle cx="464.8" cy="614" r="3.6"/><circle cx="515.2" cy="615.3" r="3.6"/><circle cx="334.3" cy="610.3" r="3.6"/><circle cx="418.9" cy="614.4" r="3.6"/><circle cx="470.6" cy="613.2" r="3.6"/><circle cx="218.6" cy="609.8" r="3.6"/><circle cx="466.1" cy="616.8" r="3.6"/><circle cx="566.9" cy="614.7" r="3.6"/><circle cx="153.4" cy="617.1" r="3.6"/><circle cx="531.4" cy="613.3" r="3.6"/><circle cx="623.7" cy="615.2" r="3.6"/><circle cx="63.9" cy="613.4" r="3.6"/><circle cx="526" cy="616.9" r="3.6"/><circle cx="470.2" cy="617.1" r="3.6"/><circle cx="334.7" cy="614.7" r="3.6"/><circle cx="144" cy="616.6" r="3.6"/><circle cx="451.7" cy="613.1" r="3.6"/><circle cx="176.8" cy="614.8" r="3.6"/><circle cx="527.3" cy="615.2" r="3.6"/><circle cx="351.4" cy="616.2" r="3.6"/><circle cx="593.5" cy="615.6" r="3.6"/><circle cx="342.8" cy="616.2" r="3.6"/><circle cx="621.9" cy="617.3" r="3.6"/><circle cx="588.5" cy="614.1" r="3.6"/><circle cx="412.6" cy="617" r="3.6"/><circle cx="388.7" cy="615.9" r="3.6"/><circle cx="533.6" cy="616.1" r="3.6"/><circle cx="222.7" cy="615.8" r="3.6"/><circle cx="120.6" cy="616.9" r="3.6"/><circle cx="203.3" cy="615.2" r="3.6"/><circle cx="450.4" cy="613.2" r="3.6"/><circle cx="317.2" cy="615.6" r="3.6"/><circle cx="73.3" cy="611.2" r="3.6"/><circle cx="137.2" cy="613.1" r="3.6"/><circle cx="215" cy="613.1" r="3.6"/><circle cx="129.1" cy="615.3" r="3.6"/><circle cx="620.5" cy="614.8" r="3.6"/><circle cx="219.5" cy="615.5" r="3.6"/><circle cx="154.3" cy="616.3" r="3.6"/><circle cx="284.8" cy="614.1" r="3.6"/><circle cx="324.4" cy="615.4" r="3.6"/><circle cx="370.3" cy="612.8" r="3.6"/><circle cx="211.4" cy="612.2" r="3.6"/><circle cx="279.8" cy="616" r="3.6"/><circle cx="325.7" cy="617.2" r="3.6"/><circle cx="84.6" cy="613" r="3.6"/><circle cx="576.8" cy="616.6" r="3.6"/><circle cx="117.4" cy="613.3" r="3.6"/><circle cx="301" cy="614.1" r="3.6"/><circle cx="509.3" cy="612.4" r="3.6"/><circle cx="283.4" cy="614.3" r="3.6"/><circle cx="155.2" cy="616.1" r="3.6"/><circle cx="433.7" cy="617.4" r="3.6"/><circle cx="624.6" cy="614.9" r="3.6"/><circle cx="596.6" cy="614.1" r="3.6"/><circle cx="246.5" cy="616.4" r="3.6"/><circle cx="267.2" cy="614.5" r="3.6"/><circle cx="41.4" cy="616.2" r="3.6"/><circle cx="524.6" cy="610.3" r="3.6"/><circle cx="330.7" cy="614.7" r="3.6"/><circle cx="465.2" cy="614.2" r="3.6"/><circle cx="181.3" cy="613.1" r="3.6"/><circle cx="223.6" cy="615.6" r="3.6"/><circle cx="54.4" cy="612.4" r="3.6"/><circle cx="51.7" cy="611.6" r="3.6"/><circle cx="286.1" cy="613" r="3.6"/><circle cx="465.7" cy="616.6" r="3.6"/><circle cx="105.3" cy="611.9" r="3.6"/><circle cx="630.4" cy="613.4" r="3.6"/><circle cx="256.4" cy="615.3" r="3.6"/><circle cx="125.1" cy="613.8" r="3.6"/><circle cx="104.4" cy="613.9" r="3.6"/><circle cx="158.3" cy="614.3" r="3.6"/><circle cx="413.9" cy="614.5" r="3.6"/><circle cx="286.6" cy="615" r="3.6"/><circle cx="292.4" cy="614" r="3.6"/><circle cx="393.7" cy="616.7" r="3.6"/><circle cx="503.5" cy="617" r="3.6"/><circle cx="220.9" cy="615.4" r="3.6"/><circle cx="82.8" cy="614.6" r="3.6"/><circle cx="589" cy="614.1" r="3.6"/><circle cx="517.4" cy="614.2" r="3.6"/><circle cx="468.4" cy="613.5" r="3.6"/><circle cx="394.6" cy="615.5" r="3.6"/><circle cx="90" cy="616.1" r="3.6"/><circle cx="152.5" cy="614.7" r="3.6"/><circle cx="336.1" cy="613.6" r="3.6"/><circle cx="496.3" cy="612.8" r="3.6"/><circle cx="250.1" cy="613.6" r="3.6"/><circle cx="417.5" cy="616.6" r="3.6"/><circle cx="552.5" cy="616.5" r="3.6"/><circle cx="606.1" cy="614.9" r="3.6"/><circle cx="86.4" cy="617.4" r="3.6"/><circle cx="357.2" cy="617.1" r="3.6"/><circle cx="556.6" cy="615.3" r="3.6"/><circle cx="193.4" cy="616.5" r="3.6"/><circle cx="348.7" cy="616.8" r="3.6"/><circle cx="630.9" cy="615.9" r="3.6"/><circle cx="344.2" cy="614.4" r="3.6"/><circle cx="528.2" cy="616.1" r="3.6"/><circle cx="255.5" cy="616.1" r="3.6"/><circle cx="331.1" cy="616.3" r="3.6"/><circle cx="434.2" cy="612.2" r="3.6"/><circle cx="194.3" cy="615.1" r="3.6"/><circle cx="544" cy="615.7" r="3.6"/><circle cx="132.3" cy="614.5" r="3.6"/><circle cx="53.5" cy="614" r="3.6"/><circle cx="488.6" cy="616.7" r="3.6"/><circle cx="337.4" cy="617.1" r="3.6"/><circle cx="530.9" cy="613.8" r="3.6"/><circle cx="277.6" cy="615.5" r="3.6"/><circle cx="185.3" cy="617.2" r="3.6"/><circle cx="221.8" cy="614.5" r="3.6"/><circle cx="108.4" cy="612" r="3.6"/><circle cx="622.8" cy="612.9" r="3.6"/><circle cx="583.1" cy="612.5" r="3.6"/><circle cx="312.7" cy="615.8" r="3.6"/><circle cx="195.2" cy="615.8" r="3.6"/><circle cx="462.5" cy="616.4" r="3.6"/><circle cx="569.6" cy="614.4" r="3.6"/><circle cx="260.9" cy="617.1" r="3.6"/><circle cx="372.5" cy="617.1" r="3.6"/><circle cx="407.2" cy="616.5" r="3.6"/><circle cx="67" cy="617" r="3.6"/><circle cx="376.6" cy="613.1" r="3.6"/><circle cx="491.3" cy="616.3" r="3.6"/><circle cx="297.4" cy="615.6" r="3.6"/><circle cx="591.7" cy="615.8" r="3.6"/><circle cx="122.8" cy="614.4" r="3.6"/><circle cx="636.3" cy="617.3" r="3.6"/><circle cx="535.4" cy="617.3" r="3.6"/><circle cx="239.8" cy="615.6" r="3.6"/><circle cx="96.7" cy="616.2" r="3.6"/><circle cx="245.2" cy="615.2" r="3.6"/><circle cx="101.7" cy="615.5" r="3.6"/><circle cx="616" cy="615.3" r="3.6"/><circle cx="219.1" cy="612.4" r="3.6"/><circle cx="319" cy="613.6" r="3.6"/><circle cx="40" cy="611.6" r="3.6"/><circle cx="135.9" cy="613.3" r="3.6"/><circle cx="549.8" cy="615.6" r="3.6"/><circle cx="328.4" cy="613.1" r="3.6"/><circle cx="508.9" cy="614.6" r="3.6"/><circle cx="497.6" cy="617.1" r="3.6"/><circle cx="75.6" cy="617.2" r="3.6"/><circle cx="315.4" cy="617.1" r="3.6"/><circle cx="505.7" cy="617.4" r="3.6"/><circle cx="613.3" cy="612.8" r="3.6"/><circle cx="408.1" cy="613.4" r="3.6"/><circle cx="540.8" cy="617" r="3.6"/><circle cx="468.8" cy="617.2" r="3.6"/><circle cx="273.1" cy="615.1" r="3.6"/><circle cx="422.5" cy="616.7" r="3.6"/><circle cx="424.7" cy="611.6" r="3.6"/><circle cx="52.2" cy="616.2" r="3.6"/><circle cx="72.4" cy="616.5" r="3.6"/><circle cx="381.1" cy="615.3" r="3.6"/><circle cx="258.2" cy="615.8" r="3.6"/><circle cx="119.7" cy="615.2" r="3.6"/><circle cx="224" cy="613.4" r="3.6"/><circle cx="177.2" cy="616.7" r="3.6"/><circle cx="83.7" cy="613.8" r="3.6"/><circle cx="462.1" cy="614.7" r="3.6"/><circle cx="425.2" cy="616.9" r="3.6"/><circle cx="136.8" cy="615.7" r="3.6"/><circle cx="642.6" cy="614.5" r="3.6"/><circle cx="148.9" cy="614.2" r="3.6"/><circle cx="230.3" cy="614" r="3.6"/><circle cx="563.8" cy="615.4" r="3.6"/><circle cx="618.3" cy="615.8" r="3.6"/><circle cx="140.8" cy="616.3" r="3.6"/><circle cx="240.2" cy="613" r="3.6"/><circle cx="54.9" cy="613" r="3.6"/><circle cx="405.4" cy="613.1" r="3.6"/><circle cx="504.8" cy="613.5" r="3.6"/><circle cx="130.5" cy="616.4" r="3.6"/><circle cx="197.9" cy="613.7" r="3.6"/><circle cx="349.6" cy="616.3" r="3.6"/><circle cx="305.9" cy="617.2" r="3.6"/><circle cx="126" cy="613.8" r="3.6"/><circle cx="548.5" cy="614.3" r="3.6"/><circle cx="40.5" cy="614.9" r="3.6"/><circle cx="170.9" cy="614.4" r="3.6"/><circle cx="511.6" cy="614.1" r="3.6"/><circle cx="346.9" cy="617" r="3.6"/><circle cx="481.4" cy="613.5" r="3.6"/><circle cx="570.5" cy="616.5" r="3.6"/><circle cx="445" cy="614.8" r="3.6"/><circle cx="123.3" cy="616.1" r="3.6"/><circle cx="279.4" cy="614.8" r="3.6"/><circle cx="397.3" cy="613.9" r="3.6"/><circle cx="288.4" cy="613" r="3.6"/><circle cx="111.6" cy="617.3" r="3.6"/><circle cx="354.1" cy="616.3" r="3.6"/><circle cx="307.3" cy="612.9" r="3.6"/><circle cx="70.6" cy="614.6" r="3.6"/><circle cx="395.9" cy="616.7" r="3.6"/><circle cx="53.1" cy="615.5" r="3.6"/><circle cx="57.1" cy="617.3" r="3.6"/><circle cx="187.6" cy="617.2" r="3.6"/><circle cx="121.5" cy="616.8" r="3.6"/><circle cx="451.3" cy="611.5" r="3.6"/><circle cx="513.4" cy="613.4" r="3.6"/><circle cx="352.3" cy="613.4" r="3.6"/><circle cx="150.7" cy="613.7" r="3.6"/><circle cx="519.2" cy="617.2" r="3.6"/><circle cx="523.3" cy="613.9" r="3.6"/><circle cx="210.5" cy="615.1" r="3.6"/><circle cx="249.7" cy="616.9" r="3.6"/><circle cx="274.4" cy="615.2" r="3.6"/><circle cx="254.2" cy="616.4" r="3.6"/><circle cx="426.1" cy="614.2" r="3.6"/><circle cx="551.6" cy="615.8" r="3.6"/><circle cx="193.9" cy="614.7" r="3.6"/><circle cx="503" cy="613.4" r="3.6"/><circle cx="611.1" cy="615.3" r="3.6"/><circle cx="186.7" cy="611.9" r="3.6"/><circle cx="534.1" cy="615.9" r="3.6"/><circle cx="77.8" cy="614.1" r="3.6"/><circle cx="637.6" cy="614.8" r="3.6"/><circle cx="175.9" cy="617" r="3.6"/><circle cx="485" cy="616.1" r="3.6"/><circle cx="291.1" cy="614.8" r="3.6"/><circle cx="107.5" cy="616" r="3.6"/><circle cx="605.7" cy="615.4" r="3.6"/><circle cx="94.9" cy="616.7" r="3.6"/><circle cx="234.4" cy="613.9" r="3.6"/><circle cx="558.8" cy="616.7" r="3.6"/><circle cx="49.9" cy="616" r="3.6"/><circle cx="199.7" cy="612.9" r="3.6"/><circle cx="418.4" cy="616.8" r="3.6"/><circle cx="298.7" cy="614.2" r="3.6"/><circle cx="452.2" cy="614.8" r="3.6"/><circle cx="121.9" cy="613" r="3.6"/><circle cx="133.2" cy="615.2" r="3.6"/><circle cx="500.8" cy="616.5" r="3.6"/><circle cx="132.7" cy="616.1" r="3.6"/><circle cx="269.9" cy="614.5" r="3.6"/><circle cx="492.7" cy="617" r="3.6"/><circle cx="566" cy="612.7" r="3.6"/><circle cx="458.5" cy="616.5" r="3.6"/><circle cx="530.5" cy="613.3" r="3.6"/><circle cx="320.3" cy="617.3" r="3.6"/><circle cx="631.3" cy="614.3" r="3.6"/><circle cx="520.6" cy="616.9" r="3.6"/><circle cx="625.5" cy="617.1" r="3.6"/><circle cx="630" cy="617.1" r="3.6"/><circle cx="634.5" cy="614.2" r="3.6"/><circle cx="212.8" cy="616.5" r="3.6"/><circle cx="269" cy="617.4" r="3.6"/><circle cx="242" cy="615.9" r="3.6"/><circle cx="436" cy="613.6" r="3.6"/><circle cx="134.1" cy="615.5" r="3.6"/><circle cx="480.5" cy="615" r="3.6"/><circle cx="629.1" cy="613.2" r="3.6"/><circle cx="561.5" cy="615.9" r="3.6"/><circle cx="615.1" cy="613.6" r="3.6"/><circle cx="256.9" cy="613.5" r="3.6"/><circle cx="106.6" cy="616.3" r="3.6"/><circle cx="244.3" cy="615.1" r="3.6"/><circle cx="58.5" cy="615.4" r="3.6"/><circle cx="111.1" cy="616.4" r="3.6"/><circle cx="195.7" cy="616.3" r="3.6"/><circle cx="382.4" cy="615.6" r="3.6"/><circle cx="289.3" cy="616.5" r="3.6"/><circle cx="441.4" cy="614.2" r="3.6"/><circle cx="356.8" cy="616.1" r="3.6"/><circle cx="587.6" cy="616.9" r="3.6"/><circle cx="582.2" cy="615.4" r="3.6"/><circle cx="160.1" cy="613.1" r="3.6"/><circle cx="313.1" cy="615.4" r="3.6"/><circle cx="499.9" cy="617" r="3.6"/><circle cx="375.7" cy="612.7" r="3.6"/><circle cx="592.1" cy="616.9" r="3.6"/><circle cx="474.7" cy="617.3" r="3.6"/><circle cx="436.4" cy="617" r="3.6"/><circle cx="543.5" cy="616" r="3.6"/><circle cx="519.7" cy="615.8" r="3.6"/><circle cx="146.7" cy="614.1" r="3.6"/><circle cx="292.9" cy="616.5" r="3.6"/><circle cx="584" cy="616.4" r="3.6"/><circle cx="165.1" cy="616.9" r="3.6"/><circle cx="396.8" cy="612.9" r="3.6"/><circle cx="520.1" cy="612.4" r="3.6"/><circle cx="600.7" cy="616.9" r="3.6"/><circle cx="463" cy="612.7" r="3.6"/><circle cx="126.9" cy="617.1" r="3.6"/><circle cx="596.2" cy="616.6" r="3.6"/><circle cx="386.9" cy="613.9" r="3.6"/><circle cx="238" cy="615.4" r="3.6"/><circle cx="493.6" cy="617.4" r="3.6"/><circle cx="550.3" cy="616" r="3.6"/><circle cx="209.2" cy="615.1" r="3.6"/><circle cx="272.6" cy="615.7" r="3.6"/><circle cx="398.6" cy="615.7" r="3.6"/><circle cx="79.2" cy="615.3" r="3.6"/><circle cx="88.2" cy="614.3" r="3.6"/><circle cx="467" cy="617.2" r="3.6"/><circle cx="489.1" cy="616.5" r="3.6"/><circle cx="585.8" cy="615.9" r="3.6"/><circle cx="590.3" cy="615.2" r="3.6"/><circle cx="99.9" cy="612.3" r="3.6"/><circle cx="251.5" cy="615.8" r="3.6"/><circle cx="328" cy="616.4" r="3.6"/><circle cx="287.9" cy="616.5" r="3.6"/><circle cx="455.8" cy="614.8" r="3.6"/><circle cx="238.9" cy="616.2" r="3.6"/><circle cx="362.6" cy="616.8" r="3.6"/><circle cx="409" cy="616.5" r="3.6"/><circle cx="513.8" cy="615.1" r="3.6"/><circle cx="93.1" cy="614.8" r="3.6"/><circle cx="140.4" cy="616.2" r="3.6"/><circle cx="257.3" cy="617.1" r="3.6"/><circle cx="141.7" cy="617.3" r="3.6"/><circle cx="631.8" cy="616.1" r="3.6"/><circle cx="48.6" cy="616.4" r="3.6"/><circle cx="402.2" cy="616.6" r="3.6"/><circle cx="181.7" cy="612.8" r="3.6"/><circle cx="149.8" cy="616.5" r="3.6"/><circle cx="517.9" cy="617.2" r="3.6"/><circle cx="444.1" cy="616.8" r="3.6"/><circle cx="222.2" cy="617" r="3.6"/><circle cx="464.3" cy="616.5" r="3.6"/><circle cx="478.7" cy="616.5" r="3.6"/><circle cx="422" cy="614.9" r="3.6"/><circle cx="272.2" cy="613.7" r="3.6"/><circle cx="157" cy="616.8" r="3.6"/><circle cx="205.6" cy="617.1" r="3.6"/><circle cx="607.5" cy="616.7" r="3.6"/><circle cx="301.4" cy="615" r="3.6"/><circle cx="46.3" cy="616.1" r="3.6"/><circle cx="394.1" cy="617.1" r="3.6"/><circle cx="291.5" cy="616.6" r="3.6"/><circle cx="173.6" cy="613.5" r="3.6"/><circle cx="267.7" cy="615.2" r="3.6"/><circle cx="544.9" cy="615.9" r="3.6"/><circle cx="77.4" cy="614.4" r="3.6"/><circle cx="518.3" cy="617.2" r="3.6"/><circle cx="162.4" cy="615.1" r="3.6"/><circle cx="68.4" cy="616.9" r="3.6"/><circle cx="224.9" cy="616" r="3.6"/><circle cx="233.9" cy="614" r="3.6"/><circle cx="221.3" cy="614" r="3.6"/><circle cx="236.6" cy="616.6" r="3.6"/><circle cx="383.8" cy="616.4" r="3.6"/><circle cx="389.2" cy="616.3" r="3.6"/><circle cx="391" cy="617" r="3.6"/><circle cx="498.5" cy="615" r="3.6"/><circle cx="232.1" cy="615.5" r="3.6"/><circle cx="172.3" cy="616.4" r="3.6"/><circle cx="296.9" cy="616.5" r="3.6"/><circle cx="253.7" cy="616.9" r="3.6"/><circle cx="135.4" cy="617.4" r="3.6"/><circle cx="506.2" cy="616.7" r="3.6"/><circle cx="640.8" cy="615.3" r="3.6"/><circle cx="524.2" cy="615.4" r="3.6"/><circle cx="477.8" cy="616.7" r="3.6"/><circle cx="50.8" cy="617" r="3.6"/><circle cx="507.1" cy="616.4" r="3.6"/><circle cx="474.2" cy="617.4" r="3.6"/><circle cx="411.7" cy="613.7" r="3.6"/><circle cx="400.9" cy="617.1" r="3.6"/><circle cx="180.8" cy="617.3" r="3.6"/><circle cx="130.9" cy="617.4" r="3.6"/><circle cx="317.6" cy="614.9" r="3.6"/><circle cx="164.6" cy="616.7" r="3.6"/><circle cx="559.7" cy="616.2" r="3.6"/><circle cx="591.2" cy="612.9" r="3.6"/><circle cx="402.7" cy="616.7" r="3.6"/><circle cx="639.4" cy="614.8" r="3.6"/><circle cx="227.6" cy="612.9" r="3.6"/><circle cx="546.2" cy="616.6" r="3.6"/><circle cx="348.2" cy="616.6" r="3.6"/><circle cx="386.5" cy="616.8" r="3.6"/><circle cx="518.8" cy="615.8" r="3.6"/><circle cx="152" cy="615.4" r="3.6"/><circle cx="218.2" cy="616.7" r="3.6"/><circle cx="139.5" cy="616.9" r="3.6"/><circle cx="49" cy="615.9" r="3.6"/><circle cx="447.2" cy="616.1" r="3.6"/><circle cx="359" cy="616.3" r="3.6"/><circle cx="494.9" cy="617.2" r="3.6"/><circle cx="220" cy="615.4" r="3.6"/><circle cx="553" cy="617.4" r="3.6"/><circle cx="233.5" cy="616.5" r="3.6"/><circle cx="567.8" cy="616.4" r="3.6"/><circle cx="91.8" cy="617.2" r="3.6"/><circle cx="295.1" cy="617.1" r="3.6"/><circle cx="299.2" cy="617" r="3.6"/><circle cx="610.6" cy="616.9" r="3.6"/><circle cx="597.1" cy="617.2" r="3.6"/><circle cx="425" cy="609" r="3.6"/><circle cx="462" cy="609.2" r="3.6"/><circle cx="545" cy="609.2" r="3.6"/><circle cx="600" cy="609.5" r="3.6"/><circle cx="160" cy="609" r="3.6"/><circle cx="300" cy="609.3" r="3.6"/></g></g><line x1="47" y1="706" x2="646" y2="706" stroke="#000" stroke-width="1.25" stroke-dasharray="8.3,8.6"/><line x1="185.8" y1="647.5" x2="185.8" y2="740" stroke="#000" stroke-width="1.25" stroke-dasharray="8.3,8.6"/><line x1="439.4" y1="647.5" x2="439.4" y2="740.4" stroke="#000" stroke-width="1.25" stroke-dasharray="8.3,8.6"/><polyline points="74.4,684 74.4,661 46,661" fill="none" stroke="#ff0000" stroke-width="1.35"/><polygon points="41,661 50,658.6 50,661 50,663.4" fill="#ff0000"/><polyline points="610.6,621 610.6,644.4 638,644.4" fill="none" stroke="#0000ff" stroke-width="1.35"/><polygon points="643.8,644.4 634.3,642.2 634.3,644.4 634.3,646.6" fill="#0000ff"/><text x="94.7" y="655" font-size="8.2" textLength="86.5" lengthAdjust="spacingAndGlyphs" fill="#222">95% capacity retention</text><text x="130.6" y="668" font-size="8.2" textLength="51.2" lengthAdjust="spacingAndGlyphs" fill="#222">(1018 cycles)</text><text x="349.3" y="660.3" font-size="8.2" textLength="86.5" lengthAdjust="spacingAndGlyphs" fill="#222">90% capacity retention</text><text x="385.8" y="673.5" font-size="8.2" textLength="50.6" lengthAdjust="spacingAndGlyphs" fill="#222">(2776 cycles)</text><text x="555" y="668" font-size="8.2" textLength="86" lengthAdjust="spacingAndGlyphs" fill="#222">80% capacity retention</text><text x="591" y="681" font-size="8.2" textLength="50" lengthAdjust="spacingAndGlyphs" fill="#222">(4208 cycles)</text><line x1="168.9" y1="671" x2="181.5" y2="684.5" stroke="#000" stroke-width="1.2"/><polygon points="184.2,687.4 176.5,683 180.1,683 180.3,679.4" fill="#000"/><line x1="422" y1="676.6" x2="435" y2="689.2" stroke="#000" stroke-width="1.2"/><polygon points="437.9,692 430,688 433.6,687.9 433.6,684.2" fill="#000"/><line x1="628" y1="683" x2="642.1" y2="696.6" stroke="#000" stroke-width="1.2"/><polygon points="645,699.4 637.1,695.4 640.7,695.3 640.7,691.6" fill="#000"/><text x="490" y="734.2" font-size="8.2" fill="#222">Li-In | LPSCl-LZACO | scNCM92</text><text x="490" y="748.6" font-size="8.2" textLength="152.5" lengthAdjust="spacingAndGlyphs" fill="#222">25 °C, 2000 mA g<tspan dy="-3.2" font-size="6">-1</tspan><tspan dy="3.2"> (10 C), 5.62 mg cm<tspan dy="-3.2" font-size="6">-2</tspan><tspan dy="3.2"></tspan></tspan></text><text x="490" y="763" font-size="8.2" fill="#222">2.8 — 4.3 V vs. Li/Li<tspan dy="-3.2" font-size="6">+</tspan><tspan dy="3.2"></tspan></text><line x1="74.6" y1="731.5" x2="94.5" y2="731.5" stroke="#000" stroke-width="1.3"/><circle cx="84.3" cy="731.5" r="3.5" fill="url(#hk)"/><text x="97.1" y="734.5" font-size="8.3" fill="#222">Charge</text><line x1="74.6" y1="745" x2="94.5" y2="745" stroke="#ff0000" stroke-width="1.3"/><circle cx="84.3" cy="745" r="3.5" fill="url(#hr)"/><text x="97.1" y="748" font-size="8.3" fill="#222">Discharge</text><line x1="74.6" y1="758.5" x2="94.5" y2="758.5" stroke="#0000ff" stroke-width="1.3"/><circle cx="84.3" cy="758.5" r="3.5" fill="url(#hb)"/><text x="97.1" y="761.5" font-size="8.3" fill="#222">Coulombic efficiency</text><rect x="39" y="598.4" width="607" height="167.1" fill="none" stroke="#000" stroke-width="1.4"/><line x1="39" y1="765.5" x2="35.2" y2="765.5" stroke="#000" stroke-width="1.3"/><text x="32" y="769.1" font-size="10.2" font-weight="bold" text-anchor="end" textLength="5.4" lengthAdjust="spacingAndGlyphs">0</text><line x1="39" y1="732.1" x2="35.2" y2="732.1" stroke="#000" stroke-width="1.3"/><text x="32" y="735.7" font-size="10.2" font-weight="bold" text-anchor="end" textLength="10.8" lengthAdjust="spacingAndGlyphs">40</text><line x1="39" y1="698.7" x2="35.2" y2="698.7" stroke="#000" stroke-width="1.3"/><text x="32" y="702.3" font-size="10.2" font-weight="bold" text-anchor="end" textLength="10.8" lengthAdjust="spacingAndGlyphs">80</text><line x1="39" y1="665.2" x2="35.2" y2="665.2" stroke="#000" stroke-width="1.3"/><text x="32" y="668.8" font-size="10.2" font-weight="bold" text-anchor="end" textLength="16.2" lengthAdjust="spacingAndGlyphs">120</text><line x1="39" y1="631.8" x2="35.2" y2="631.8" stroke="#000" stroke-width="1.3"/><text x="32" y="635.4" font-size="10.2" font-weight="bold" text-anchor="end" textLength="16.2" lengthAdjust="spacingAndGlyphs">160</text><line x1="39" y1="598.4" x2="35.2" y2="598.4" stroke="#000" stroke-width="1.3"/><text x="32" y="602" font-size="10.2" font-weight="bold" text-anchor="end" textLength="16.2" lengthAdjust="spacingAndGlyphs">200</text><line x1="39" y1="748.8" x2="36.9" y2="748.8" stroke="#000" stroke-width="1.2"/><line x1="39" y1="715.4" x2="36.9" y2="715.4" stroke="#000" stroke-width="1.2"/><line x1="39" y1="682" x2="36.9" y2="682" stroke="#000" stroke-width="1.2"/><line x1="39" y1="648.5" x2="36.9" y2="648.5" stroke="#000" stroke-width="1.2"/><line x1="39" y1="615.1" x2="36.9" y2="615.1" stroke="#000" stroke-width="1.2"/><line x1="646" y1="765.6" x2="649.8" y2="765.6" stroke="#000" stroke-width="1.3"/><text x="653.4" y="769.2" font-size="10.2" font-weight="bold" textLength="10.8" lengthAdjust="spacingAndGlyphs">60</text><line x1="646" y1="727.7" x2="649.8" y2="727.7" stroke="#000" stroke-width="1.3"/><text x="653.4" y="731.3" font-size="10.2" font-weight="bold" textLength="10.8" lengthAdjust="spacingAndGlyphs">70</text><line x1="646" y1="689.8" x2="649.8" y2="689.8" stroke="#000" stroke-width="1.3"/><text x="653.4" y="693.4" font-size="10.2" font-weight="bold" textLength="10.8" lengthAdjust="spacingAndGlyphs">80</text><line x1="646" y1="651.9" x2="649.8" y2="651.9" stroke="#000" stroke-width="1.3"/><text x="653.4" y="655.5" font-size="10.2" font-weight="bold" textLength="10.8" lengthAdjust="spacingAndGlyphs">90</text><line x1="646" y1="614" x2="649.8" y2="614" stroke="#000" stroke-width="1.3"/><text x="653.4" y="617.6" font-size="10.2" font-weight="bold" textLength="16.2" lengthAdjust="spacingAndGlyphs">100</text><line x1="646" y1="746.6" x2="648.1" y2="746.6" stroke="#000" stroke-width="1.2"/><line x1="646" y1="708.8" x2="648.1" y2="708.8" stroke="#000" stroke-width="1.2"/><line x1="646" y1="670.9" x2="648.1" y2="670.9" stroke="#000" stroke-width="1.2"/><line x1="646" y1="633" x2="648.1" y2="633" stroke="#000" stroke-width="1.2"/><line x1="39.2" y1="765.5" x2="39.2" y2="769.3" stroke="#000" stroke-width="1.3"/><text x="39.2" y="781" font-size="10.2" font-weight="bold" text-anchor="middle" textLength="5.4" lengthAdjust="spacingAndGlyphs">0</text><line x1="111.4" y1="765.5" x2="111.4" y2="769.3" stroke="#000" stroke-width="1.3"/><text x="111.4" y="781" font-size="10.2" font-weight="bold" text-anchor="middle" textLength="16.2" lengthAdjust="spacingAndGlyphs">500</text><line x1="183.6" y1="765.5" x2="183.6" y2="769.3" stroke="#000" stroke-width="1.3"/><text x="183.6" y="781" font-size="10.2" font-weight="bold" text-anchor="middle" textLength="21.6" lengthAdjust="spacingAndGlyphs">1000</text><line x1="255.7" y1="765.5" x2="255.7" y2="769.3" stroke="#000" stroke-width="1.3"/><text x="255.7" y="781" font-size="10.2" font-weight="bold" text-anchor="middle" textLength="21.6" lengthAdjust="spacingAndGlyphs">1500</text><line x1="327.9" y1="765.5" x2="327.9" y2="769.3" stroke="#000" stroke-width="1.3"/><text x="327.9" y="781" font-size="10.2" font-weight="bold" text-anchor="middle" textLength="21.6" lengthAdjust="spacingAndGlyphs">2000</text><line x1="400.1" y1="765.5" x2="400.1" y2="769.3" stroke="#000" stroke-width="1.3"/><text x="400.1" y="781" font-size="10.2" font-weight="bold" text-anchor="middle" textLength="21.6" lengthAdjust="spacingAndGlyphs">2500</text><line x1="472.2" y1="765.5" x2="472.2" y2="769.3" stroke="#000" stroke-width="1.3"/><text x="472.2" y="781" font-size="10.2" font-weight="bold" text-anchor="middle" textLength="21.6" lengthAdjust="spacingAndGlyphs">3000</text><line x1="544.4" y1="765.5" x2="544.4" y2="769.3" stroke="#000" stroke-width="1.3"/><text x="544.4" y="781" font-size="10.2" font-weight="bold" text-anchor="middle" textLength="21.6" lengthAdjust="spacingAndGlyphs">3500</text><line x1="616.6" y1="765.5" x2="616.6" y2="769.3" stroke="#000" stroke-width="1.3"/><text x="616.6" y="781" font-size="10.2" font-weight="bold" text-anchor="middle" textLength="21.6" lengthAdjust="spacingAndGlyphs">4000</text><line x1="75.3" y1="765.5" x2="75.3" y2="767.6" stroke="#000" stroke-width="1.2"/><line x1="147.5" y1="765.5" x2="147.5" y2="767.6" stroke="#000" stroke-width="1.2"/><line x1="219.6" y1="765.5" x2="219.6" y2="767.6" stroke="#000" stroke-width="1.2"/><line x1="291.8" y1="765.5" x2="291.8" y2="767.6" stroke="#000" stroke-width="1.2"/><line x1="364" y1="765.5" x2="364" y2="767.6" stroke="#000" stroke-width="1.2"/><line x1="436.2" y1="765.5" x2="436.2" y2="767.6" stroke="#000" stroke-width="1.2"/><line x1="508.3" y1="765.5" x2="508.3" y2="767.6" stroke="#000" stroke-width="1.2"/><line x1="580.5" y1="765.5" x2="580.5" y2="767.6" stroke="#000" stroke-width="1.2"/><text transform="translate(10.8,682) rotate(-90)" font-size="11.5" font-weight="bold" text-anchor="middle" textLength="101" lengthAdjust="spacingAndGlyphs">Capacity (mAh g<tspan dy="-3.6" font-size="7">-1</tspan><tspan dy="3.6">)</tspan></text><text transform="translate(681.3,682) rotate(-90)" font-size="11.5" font-weight="bold" text-anchor="middle" textLength="135.8" lengthAdjust="spacingAndGlyphs">Coulombic efficiency (%)</text><text x="343" y="796.6" font-size="11.5" font-weight="bold" text-anchor="middle" textLength="76.6" lengthAdjust="spacingAndGlyphs">Cycle number</text></svg></body></html>
